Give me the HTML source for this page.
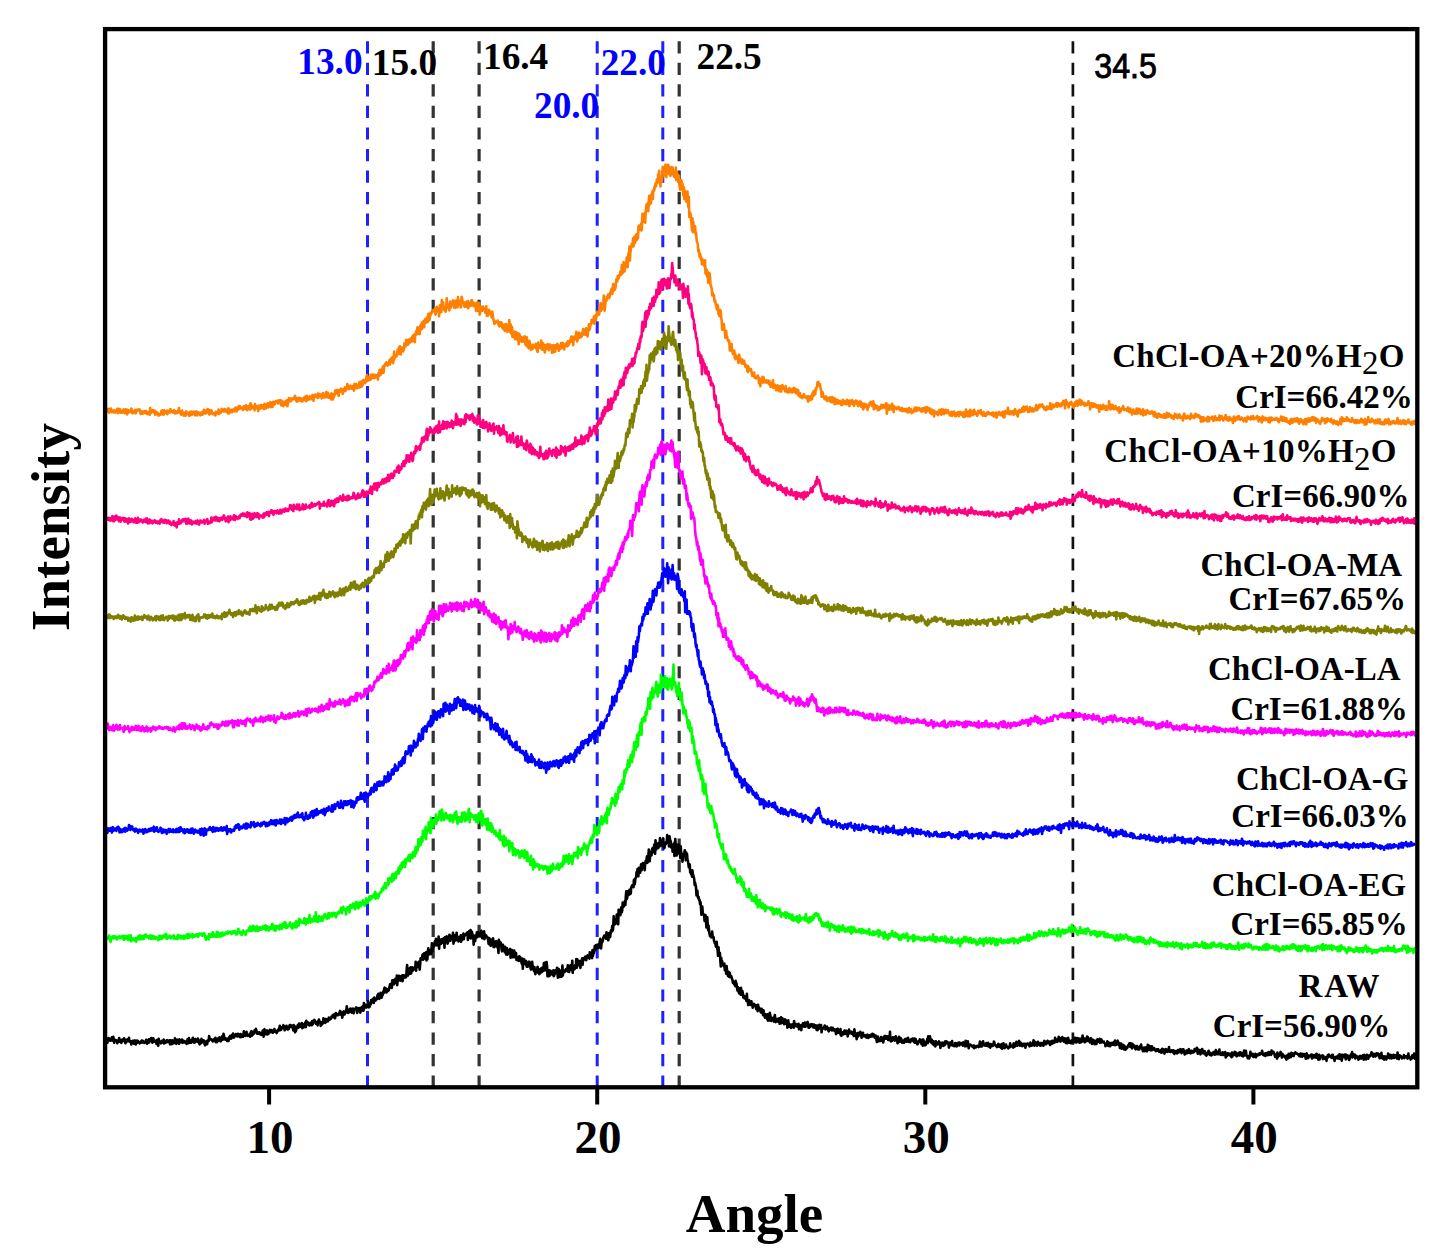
<!DOCTYPE html>
<html><head><meta charset="utf-8"><style>
html,body{margin:0;padding:0;background:#fff;}
svg{display:block;}
.s{font-family:"Liberation Serif",serif;font-weight:bold;}
.ss{font-family:"Liberation Sans",sans-serif;}
</style></head><body>
<svg width="1447" height="1258" viewBox="0 0 1447 1258">
<rect width="1447" height="1258" fill="#fff"/>
<line x1="367.5" y1="41.2" x2="367.5" y2="1086" stroke="#2020ff" stroke-width="3.0" stroke-dasharray="12.2 9.35"/>
<line x1="433.2" y1="41.2" x2="433.2" y2="1086" stroke="#333" stroke-width="3.2" stroke-dasharray="12.2 9.35"/>
<line x1="479.1" y1="41.2" x2="479.1" y2="1086" stroke="#333" stroke-width="3.2" stroke-dasharray="12.2 9.35"/>
<line x1="597.2" y1="41.2" x2="597.2" y2="1086" stroke="#2020ff" stroke-width="3.0" stroke-dasharray="12.2 9.35"/>
<line x1="662.8" y1="41.2" x2="662.8" y2="1086" stroke="#2020ff" stroke-width="3.0" stroke-dasharray="12.2 9.35"/>
<line x1="679.2" y1="41.2" x2="679.2" y2="1086" stroke="#333" stroke-width="3.2" stroke-dasharray="12.2 9.35"/>
<line x1="1072.9" y1="41.2" x2="1072.9" y2="1086" stroke="#111" stroke-width="2.7" stroke-dasharray="12.2 9.35"/>
<path d="M106.5 410.5 L107.0 411.6 L107.4 410.1 L107.9 408.8 L108.3 411.9 L108.8 410.1 L109.2 412.8 L109.7 409.0 L110.1 410.4 L110.6 411.2 L111.0 408.5 L111.5 411.2 L111.9 412.1 L112.4 411.1 L112.8 412.0 L113.3 411.7 L113.7 410.3 L114.2 412.6 L114.6 410.5 L115.1 411.2 L115.5 410.6 L116.0 412.5 L116.4 411.0 L116.9 411.0 L117.3 408.7 L117.8 411.3 L118.2 413.1 L118.7 408.8 L119.1 412.2 L119.6 411.6 L120.0 409.2 L120.5 410.9 L120.9 412.7 L121.4 411.2 L121.8 411.6 L122.3 412.6 L122.7 410.6 L123.2 412.2 L123.6 409.3 L124.1 409.9 L124.5 413.2 L125.0 413.2 L125.4 412.7 L125.9 409.4 L126.3 411.3 L126.8 410.4 L127.2 414.4 L127.7 409.9 L128.1 410.1 L128.6 411.0 L129.0 412.3 L129.5 410.9 L129.9 411.2 L130.4 412.0 L130.8 411.4 L131.3 408.6 L131.7 409.3 L132.2 413.2 L132.6 410.9 L133.1 413.2 L133.5 412.6 L134.0 412.0 L134.4 410.5 L134.9 412.5 L135.3 409.7 L135.8 413.4 L136.2 411.1 L136.7 411.2 L137.1 409.8 L137.6 409.6 L138.0 410.2 L138.5 409.9 L138.9 409.5 L139.4 409.3 L139.8 411.2 L140.3 412.7 L140.7 413.8 L141.2 412.2 L141.6 411.1 L142.1 412.1 L142.5 413.7 L143.0 411.6 L143.4 412.9 L143.9 412.2 L144.3 412.0 L144.8 411.2 L145.2 413.2 L145.7 411.2 L146.1 411.1 L146.6 413.1 L147.0 414.0 L147.5 413.9 L147.9 413.8 L148.4 412.1 L148.8 412.1 L149.3 413.7 L149.7 414.8 L150.2 408.1 L150.6 413.3 L151.1 411.9 L151.5 411.4 L152.0 410.5 L152.4 410.7 L152.9 410.1 L153.3 412.3 L153.8 410.8 L154.2 412.1 L154.7 410.6 L155.1 414.6 L155.6 414.2 L156.0 411.8 L156.5 414.2 L156.9 413.2 L157.4 412.6 L157.8 413.9 L158.3 414.9 L158.7 415.7 L159.2 413.9 L159.6 415.0 L160.1 414.2 L160.5 414.0 L161.0 414.2 L161.4 410.8 L161.9 412.0 L162.3 414.5 L162.8 410.4 L163.2 410.9 L163.7 414.6 L164.1 410.4 L164.6 411.9 L165.0 412.1 L165.5 411.3 L165.9 413.0 L166.4 413.0 L166.8 410.8 L167.3 414.3 L167.7 410.8 L168.2 411.3 L168.6 411.8 L169.1 412.3 L169.5 410.5 L170.0 412.4 L170.4 409.0 L170.9 411.4 L171.3 410.8 L171.8 411.1 L172.2 412.0 L172.7 412.4 L173.1 411.1 L173.6 412.2 L174.0 410.1 L174.5 411.6 L174.9 413.4 L175.4 411.2 L175.8 411.7 L176.3 412.0 L176.7 413.1 L177.2 412.5 L177.6 411.7 L178.1 410.5 L178.5 412.3 L179.0 408.0 L179.4 412.7 L179.9 411.2 L180.3 413.3 L180.8 412.5 L181.2 414.7 L181.7 412.2 L182.1 410.6 L182.6 413.5 L183.0 413.0 L183.5 413.8 L183.9 415.7 L184.4 412.9 L184.8 415.1 L185.3 415.5 L185.7 415.7 L186.2 411.4 L186.6 414.3 L187.1 413.1 L187.5 413.6 L188.0 412.7 L188.4 413.3 L188.9 414.9 L189.3 415.9 L189.8 414.4 L190.2 411.7 L190.7 415.1 L191.1 411.6 L191.6 412.8 L192.0 414.8 L192.5 412.4 L192.9 414.2 L193.4 412.7 L193.8 411.5 L194.3 413.3 L194.7 412.1 L195.2 415.2 L195.6 415.3 L196.1 414.9 L196.5 411.4 L197.0 415.4 L197.4 413.3 L197.9 413.7 L198.3 413.4 L198.8 412.4 L199.2 413.4 L199.7 414.5 L200.1 415.3 L200.6 413.9 L201.0 413.0 L201.5 412.2 L201.9 412.3 L202.4 414.8 L202.8 413.4 L203.3 412.6 L203.7 410.0 L204.2 409.8 L204.6 413.1 L205.1 413.1 L205.5 413.7 L206.0 412.5 L206.4 411.3 L206.9 409.9 L207.3 411.0 L207.8 409.1 L208.2 412.8 L208.7 413.1 L209.1 414.5 L209.6 410.1 L210.0 410.8 L210.5 413.7 L210.9 413.4 L211.4 410.3 L211.8 412.3 L212.3 413.5 L212.7 413.0 L213.2 414.2 L213.6 413.8 L214.1 413.1 L214.5 414.5 L215.0 413.8 L215.4 415.5 L215.9 411.8 L216.3 413.4 L216.8 412.5 L217.2 412.9 L217.7 413.6 L218.1 413.7 L218.6 409.6 L219.0 413.9 L219.5 412.8 L219.9 412.6 L220.4 411.8 L220.8 412.8 L221.3 411.9 L221.7 408.7 L222.2 410.1 L222.6 410.6 L223.1 410.3 L223.5 410.1 L224.0 411.6 L224.4 409.1 L224.9 409.7 L225.3 409.4 L225.8 410.9 L226.2 411.6 L226.7 409.9 L227.1 411.9 L227.6 410.7 L228.0 413.5 L228.5 408.4 L228.9 411.6 L229.4 413.2 L229.8 411.0 L230.3 409.8 L230.7 410.0 L231.2 411.8 L231.6 410.1 L232.1 412.2 L232.5 410.6 L233.0 409.5 L233.4 409.5 L233.9 410.7 L234.3 411.3 L234.8 408.5 L235.2 407.8 L235.7 407.6 L236.1 409.8 L236.6 411.5 L237.0 407.9 L237.5 409.5 L237.9 407.8 L238.4 409.6 L238.8 406.0 L239.3 408.9 L239.7 406.1 L240.2 406.7 L240.6 408.4 L241.1 407.6 L241.5 407.8 L242.0 408.6 L242.4 408.1 L242.9 409.9 L243.3 408.7 L243.8 406.2 L244.2 407.2 L244.7 406.3 L245.1 406.3 L245.6 409.3 L246.0 405.3 L246.5 408.2 L246.9 408.5 L247.4 410.2 L247.8 406.2 L248.3 406.6 L248.7 406.7 L249.2 405.8 L249.6 409.1 L250.1 409.5 L250.5 403.3 L251.0 406.4 L251.4 408.8 L251.9 405.6 L252.3 406.3 L252.8 407.5 L253.2 407.5 L253.7 407.3 L254.1 407.4 L254.6 410.4 L255.0 404.1 L255.5 406.8 L255.9 405.9 L256.4 407.9 L256.8 406.9 L257.3 408.3 L257.7 407.6 L258.2 411.1 L258.6 405.6 L259.1 406.9 L259.5 408.9 L260.0 406.9 L260.4 407.7 L260.9 405.0 L261.3 408.3 L261.8 406.9 L262.2 407.8 L262.7 405.4 L263.1 405.9 L263.6 405.3 L264.0 409.2 L264.5 403.8 L264.9 407.2 L265.4 406.9 L265.8 408.4 L266.3 406.8 L266.7 404.6 L267.2 406.9 L267.6 403.3 L268.1 407.4 L268.5 405.4 L269.0 404.2 L269.4 404.4 L269.9 405.9 L270.3 402.1 L270.8 407.2 L271.2 403.2 L271.7 406.6 L272.1 404.3 L272.6 406.9 L273.0 401.8 L273.5 404.9 L273.9 403.3 L274.4 402.2 L274.8 404.3 L275.3 402.3 L275.7 401.3 L276.2 401.9 L276.6 400.8 L277.1 401.5 L277.5 401.6 L278.0 403.4 L278.4 401.4 L278.9 400.3 L279.3 402.9 L279.8 401.2 L280.2 400.3 L280.7 400.1 L281.1 405.2 L281.6 402.4 L282.0 405.4 L282.5 401.4 L282.9 401.5 L283.4 406.1 L283.8 403.0 L284.3 403.1 L284.7 403.0 L285.2 401.6 L285.6 404.8 L286.1 400.8 L286.5 403.8 L287.0 400.4 L287.4 406.2 L287.9 402.7 L288.3 403.0 L288.8 398.1 L289.2 401.2 L289.7 399.3 L290.1 398.7 L290.6 398.6 L291.0 401.2 L291.5 399.8 L291.9 398.8 L292.4 398.6 L292.8 398.4 L293.3 398.6 L293.7 399.0 L294.2 397.5 L294.6 397.9 L295.1 395.7 L295.5 399.4 L296.0 400.4 L296.4 398.6 L296.9 401.7 L297.3 398.0 L297.8 399.3 L298.2 401.1 L298.7 399.5 L299.1 397.7 L299.6 399.6 L300.0 398.3 L300.5 400.8 L300.9 400.2 L301.4 398.4 L301.8 399.6 L302.3 401.6 L302.7 400.5 L303.2 400.0 L303.6 398.2 L304.1 397.5 L304.5 397.2 L305.0 400.2 L305.4 396.6 L305.9 399.2 L306.3 401.3 L306.8 395.9 L307.2 399.3 L307.7 397.0 L308.1 398.6 L308.6 399.7 L309.0 397.1 L309.5 396.4 L309.9 397.9 L310.4 398.9 L310.8 397.6 L311.3 396.5 L311.7 399.1 L312.2 395.7 L312.6 394.9 L313.1 397.4 L313.5 400.8 L314.0 396.0 L314.4 396.6 L314.9 394.9 L315.3 395.6 L315.8 394.6 L316.2 397.0 L316.7 395.3 L317.1 395.1 L317.6 398.0 L318.0 393.6 L318.5 397.7 L318.9 395.5 L319.4 394.0 L319.8 395.3 L320.3 394.7 L320.7 395.7 L321.2 394.6 L321.6 398.4 L322.1 396.9 L322.5 397.1 L323.0 393.1 L323.4 394.7 L323.9 397.5 L324.3 396.5 L324.8 395.5 L325.2 395.3 L325.7 397.3 L326.1 392.0 L326.6 393.7 L327.0 392.8 L327.5 397.3 L327.9 392.7 L328.4 394.8 L328.8 397.7 L329.3 394.8 L329.7 396.0 L330.2 395.6 L330.6 396.8 L331.1 399.5 L331.5 393.4 L332.0 395.3 L332.4 398.2 L332.9 399.4 L333.3 394.4 L333.8 397.1 L334.2 395.5 L334.7 395.1 L335.1 391.0 L335.6 390.3 L336.0 393.2 L336.5 392.4 L336.9 392.0 L337.4 389.7 L337.8 394.2 L338.3 390.9 L338.7 396.0 L339.2 390.4 L339.6 391.3 L340.1 391.9 L340.5 389.8 L341.0 388.6 L341.4 389.4 L341.9 390.5 L342.3 389.5 L342.8 394.0 L343.2 389.3 L343.7 391.5 L344.1 391.4 L344.6 390.0 L345.0 387.4 L345.5 390.1 L345.9 390.6 L346.4 388.9 L346.8 388.4 L347.3 384.1 L347.7 386.0 L348.2 387.6 L348.6 388.2 L349.1 389.1 L349.5 387.0 L350.0 387.9 L350.4 385.5 L350.9 388.5 L351.3 388.5 L351.8 386.8 L352.2 388.8 L352.7 386.3 L353.1 385.9 L353.6 386.3 L354.0 390.7 L354.5 383.8 L354.9 387.3 L355.4 386.3 L355.8 387.2 L356.3 384.1 L356.7 388.3 L357.2 388.1 L357.6 386.1 L358.1 385.5 L358.5 386.1 L359.0 387.5 L359.4 382.1 L359.9 387.4 L360.3 383.5 L360.8 385.3 L361.2 381.5 L361.7 386.6 L362.1 382.7 L362.6 385.4 L363.0 380.2 L363.5 379.9 L363.9 383.2 L364.4 382.2 L364.8 381.3 L365.3 382.9 L365.7 381.1 L366.2 379.4 L366.6 376.1 L367.1 375.1 L367.5 380.9 L368.0 380.5 L368.4 377.2 L368.9 379.9 L369.3 378.1 L369.8 378.3 L370.2 380.0 L370.7 374.5 L371.1 378.4 L371.6 378.6 L372.0 377.0 L372.5 377.6 L372.9 374.6 L373.4 377.2 L373.8 378.0 L374.3 378.1 L374.7 374.8 L375.2 377.7 L375.6 376.4 L376.1 376.9 L376.5 375.2 L377.0 376.3 L377.4 375.1 L377.9 379.6 L378.3 373.4 L378.8 376.2 L379.2 373.3 L379.7 369.7 L380.1 373.6 L380.6 374.8 L381.0 373.4 L381.5 373.0 L381.9 369.0 L382.4 370.9 L382.8 366.6 L383.3 373.0 L383.7 371.9 L384.2 365.5 L384.6 366.3 L385.1 363.8 L385.5 364.3 L386.0 364.4 L386.4 362.3 L386.9 363.5 L387.3 365.6 L387.8 363.2 L388.2 365.2 L388.7 362.9 L389.1 363.2 L389.6 359.7 L390.0 364.5 L390.5 359.3 L390.9 360.6 L391.4 358.0 L391.8 361.6 L392.3 357.3 L392.7 360.5 L393.2 363.1 L393.6 358.6 L394.1 351.6 L394.5 358.7 L395.0 356.0 L395.4 356.4 L395.9 355.3 L396.3 356.6 L396.8 355.8 L397.2 352.9 L397.7 349.7 L398.1 352.2 L398.6 354.0 L399.0 347.2 L399.5 351.7 L399.9 346.4 L400.4 353.2 L400.8 354.4 L401.3 351.4 L401.7 347.5 L402.2 350.0 L402.6 350.9 L403.1 351.3 L403.5 350.2 L404.0 349.1 L404.4 343.4 L404.9 345.4 L405.3 346.6 L405.8 345.3 L406.2 339.8 L406.7 344.2 L407.1 342.5 L407.6 344.6 L408.0 344.6 L408.5 339.7 L408.9 341.1 L409.4 343.0 L409.8 339.4 L410.3 341.4 L410.7 338.6 L411.2 338.2 L411.6 341.6 L412.1 338.1 L412.5 336.2 L413.0 340.9 L413.4 335.1 L413.9 335.2 L414.3 334.6 L414.8 342.1 L415.2 335.0 L415.7 335.0 L416.1 331.1 L416.6 333.9 L417.0 334.1 L417.5 327.2 L417.9 331.0 L418.4 333.8 L418.8 333.8 L419.3 328.9 L419.7 334.2 L420.2 325.5 L420.6 330.0 L421.1 328.2 L421.5 323.4 L422.0 328.9 L422.4 322.1 L422.9 323.5 L423.3 324.6 L423.8 321.0 L424.2 327.3 L424.7 322.1 L425.1 319.3 L425.6 322.9 L426.0 321.6 L426.5 317.8 L426.9 318.8 L427.4 322.3 L427.8 321.5 L428.3 313.9 L428.7 320.7 L429.2 320.1 L429.6 320.0 L430.1 314.6 L430.5 313.1 L431.0 314.5 L431.4 312.2 L431.9 312.7 L432.3 311.1 L432.8 311.4 L433.2 310.2 L433.7 311.3 L434.1 311.2 L434.6 309.6 L435.0 308.4 L435.5 314.6 L435.9 312.4 L436.4 311.0 L436.8 306.7 L437.3 311.2 L437.7 308.7 L438.2 310.8 L438.6 309.6 L439.1 316.3 L439.5 308.6 L440.0 305.4 L440.4 311.6 L440.9 311.6 L441.3 312.1 L441.8 300.0 L442.2 305.0 L442.7 305.2 L443.1 302.6 L443.6 307.8 L444.0 309.3 L444.5 310.4 L444.9 309.8 L445.4 307.0 L445.8 311.6 L446.3 307.6 L446.7 298.2 L447.2 305.7 L447.6 304.3 L448.1 307.6 L448.5 305.2 L449.0 305.3 L449.4 310.4 L449.9 303.7 L450.3 301.6 L450.8 306.3 L451.2 307.3 L451.7 304.8 L452.1 304.9 L452.6 302.9 L453.0 300.4 L453.5 301.9 L453.9 300.8 L454.4 307.6 L454.8 302.9 L455.3 307.9 L455.7 303.0 L456.2 300.5 L456.6 303.9 L457.1 303.9 L457.5 307.4 L458.0 297.0 L458.4 301.9 L458.9 304.4 L459.3 300.8 L459.8 303.4 L460.2 302.1 L460.7 307.4 L461.1 306.9 L461.6 296.7 L462.0 298.4 L462.5 300.9 L462.9 303.3 L463.4 303.2 L463.8 302.3 L464.3 305.9 L464.7 306.9 L465.2 304.6 L465.6 303.5 L466.1 304.5 L466.5 301.8 L467.0 306.8 L467.4 306.7 L467.9 301.1 L468.3 308.3 L468.8 303.6 L469.2 306.2 L469.7 303.6 L470.1 303.0 L470.6 305.8 L471.0 300.6 L471.5 302.9 L471.9 300.1 L472.4 305.4 L472.8 303.3 L473.3 303.1 L473.7 302.7 L474.2 306.4 L474.6 305.5 L475.1 304.2 L475.5 303.7 L476.0 310.9 L476.4 310.2 L476.9 302.5 L477.3 309.8 L477.8 307.9 L478.2 307.5 L478.7 308.1 L479.1 302.8 L479.6 314.7 L480.0 313.7 L480.5 307.9 L480.9 308.2 L481.4 308.9 L481.8 306.8 L482.3 310.8 L482.7 309.3 L483.2 306.5 L483.6 308.5 L484.1 308.3 L484.5 308.7 L485.0 309.7 L485.4 312.8 L485.9 309.8 L486.3 306.4 L486.8 315.7 L487.2 309.7 L487.7 316.0 L488.1 312.6 L488.6 313.7 L489.0 309.8 L489.5 312.9 L489.9 311.8 L490.4 313.2 L490.8 315.3 L491.3 313.3 L491.7 317.4 L492.2 311.5 L492.6 313.2 L493.1 318.4 L493.5 319.4 L494.0 321.7 L494.4 324.0 L494.9 321.2 L495.3 322.7 L495.8 321.7 L496.2 321.8 L496.7 321.4 L497.1 322.3 L497.6 320.6 L498.0 322.0 L498.5 324.9 L498.9 324.3 L499.4 326.4 L499.8 322.2 L500.3 322.9 L500.7 325.5 L501.2 322.4 L501.6 322.7 L502.1 327.4 L502.5 325.2 L503.0 328.9 L503.4 327.1 L503.9 325.9 L504.3 324.5 L504.8 331.0 L505.2 327.7 L505.7 325.6 L506.1 324.0 L506.6 324.9 L507.0 327.4 L507.5 332.0 L507.9 326.2 L508.4 329.7 L508.8 329.6 L509.3 320.0 L509.7 325.9 L510.2 331.9 L510.6 324.4 L511.1 333.5 L511.5 330.8 L512.0 326.7 L512.4 336.8 L512.9 331.9 L513.3 337.0 L513.8 333.7 L514.2 331.6 L514.7 337.1 L515.1 339.3 L515.6 338.3 L516.0 332.1 L516.5 337.3 L516.9 332.9 L517.4 334.8 L517.8 340.4 L518.3 333.4 L518.7 344.2 L519.2 333.8 L519.6 334.8 L520.1 340.6 L520.5 338.4 L521.0 338.9 L521.4 337.1 L521.9 341.8 L522.3 340.8 L522.8 340.3 L523.2 338.8 L523.7 337.3 L524.1 341.7 L524.6 336.4 L525.0 340.8 L525.5 344.6 L525.9 345.1 L526.4 342.5 L526.8 337.2 L527.3 345.6 L527.7 346.7 L528.2 344.7 L528.6 348.1 L529.1 347.7 L529.5 340.9 L530.0 344.8 L530.4 344.4 L530.9 349.9 L531.3 348.8 L531.8 346.5 L532.2 347.8 L532.7 348.8 L533.1 344.8 L533.6 346.3 L534.0 346.6 L534.5 345.9 L534.9 346.2 L535.4 347.7 L535.8 343.9 L536.3 344.3 L536.7 349.2 L537.2 351.1 L537.6 351.9 L538.1 342.6 L538.5 348.0 L539.0 344.8 L539.4 345.5 L539.9 346.3 L540.3 347.8 L540.8 348.2 L541.2 340.6 L541.7 345.3 L542.1 349.7 L542.6 347.4 L543.0 343.2 L543.5 345.0 L543.9 345.6 L544.4 350.4 L544.8 352.4 L545.3 345.1 L545.7 349.1 L546.2 347.0 L546.6 348.9 L547.1 346.6 L547.5 344.1 L548.0 345.1 L548.4 344.9 L548.9 350.1 L549.3 344.5 L549.8 347.9 L550.2 344.5 L550.7 345.1 L551.1 347.7 L551.6 346.0 L552.0 352.8 L552.5 351.4 L552.9 345.4 L553.4 349.7 L553.8 352.3 L554.3 345.2 L554.7 347.0 L555.2 351.6 L555.6 345.4 L556.1 348.8 L556.5 346.6 L557.0 347.0 L557.4 343.7 L557.9 346.0 L558.3 345.1 L558.8 350.8 L559.2 348.1 L559.7 346.9 L560.1 346.8 L560.6 348.8 L561.0 343.1 L561.5 344.7 L561.9 345.0 L562.4 345.2 L562.8 342.9 L563.3 348.2 L563.7 345.4 L564.2 349.5 L564.6 345.5 L565.1 344.4 L565.5 346.0 L566.0 345.5 L566.4 343.1 L566.9 344.9 L567.3 346.3 L567.8 341.4 L568.2 345.7 L568.7 341.5 L569.1 344.0 L569.6 341.5 L570.0 340.4 L570.5 342.0 L570.9 338.1 L571.4 336.6 L571.8 340.5 L572.3 339.6 L572.7 337.0 L573.2 345.2 L573.6 340.2 L574.1 336.8 L574.5 339.6 L575.0 339.3 L575.4 336.4 L575.9 336.5 L576.3 331.9 L576.8 337.2 L577.2 341.5 L577.7 339.2 L578.1 338.8 L578.6 334.2 L579.0 332.6 L579.5 337.7 L579.9 336.0 L580.4 334.4 L580.8 333.9 L581.3 337.1 L581.7 336.1 L582.2 332.9 L582.6 333.6 L583.1 329.0 L583.5 330.1 L584.0 334.5 L584.4 331.2 L584.9 329.7 L585.3 332.4 L585.8 334.7 L586.2 328.4 L586.7 329.5 L587.1 329.3 L587.6 336.4 L588.0 332.0 L588.5 329.5 L588.9 324.3 L589.4 329.9 L589.8 328.8 L590.3 326.0 L590.7 323.8 L591.2 324.0 L591.6 319.8 L592.1 322.8 L592.5 321.9 L593.0 319.9 L593.4 320.9 L593.9 316.6 L594.3 323.8 L594.8 319.3 L595.2 315.5 L595.7 320.4 L596.1 318.9 L596.6 315.0 L597.0 311.7 L597.5 314.5 L597.9 315.2 L598.4 314.8 L598.8 314.8 L599.3 313.7 L599.7 305.9 L600.2 309.8 L600.6 303.0 L601.1 310.8 L601.5 308.3 L602.0 309.3 L602.4 305.9 L602.9 305.2 L603.3 302.9 L603.8 295.5 L604.2 302.7 L604.7 310.6 L605.1 305.8 L605.6 300.3 L606.0 301.1 L606.5 300.6 L606.9 296.5 L607.4 297.4 L607.8 297.6 L608.3 294.2 L608.7 296.5 L609.2 298.2 L609.6 296.3 L610.1 293.9 L610.5 291.8 L611.0 294.1 L611.4 289.4 L611.9 288.5 L612.3 294.0 L612.8 288.0 L613.2 284.1 L613.7 290.6 L614.1 289.4 L614.6 289.9 L615.0 285.0 L615.5 288.2 L615.9 283.1 L616.4 279.2 L616.8 281.0 L617.3 281.4 L617.7 275.9 L618.2 277.9 L618.6 278.4 L619.1 275.2 L619.5 276.1 L620.0 274.9 L620.4 271.5 L620.9 274.5 L621.3 274.6 L621.8 265.0 L622.2 268.7 L622.7 273.0 L623.1 270.9 L623.6 262.0 L624.0 268.4 L624.5 271.5 L624.9 268.7 L625.4 267.4 L625.8 263.4 L626.3 262.9 L626.7 257.5 L627.2 260.4 L627.6 267.1 L628.1 257.6 L628.5 253.1 L629.0 256.9 L629.4 246.5 L629.9 260.5 L630.3 253.3 L630.8 248.9 L631.2 247.3 L631.7 244.1 L632.1 246.6 L632.6 245.2 L633.0 238.3 L633.5 246.5 L633.9 240.5 L634.4 236.8 L634.8 243.2 L635.3 241.6 L635.7 235.8 L636.2 234.6 L636.6 240.2 L637.1 233.8 L637.5 235.1 L638.0 238.5 L638.4 227.8 L638.9 225.6 L639.3 227.0 L639.8 226.8 L640.2 227.9 L640.7 230.3 L641.1 223.6 L641.6 230.4 L642.0 223.5 L642.5 213.7 L642.9 219.9 L643.4 221.5 L643.8 221.7 L644.3 213.5 L644.7 214.7 L645.2 222.6 L645.6 213.4 L646.1 208.1 L646.5 204.6 L647.0 207.7 L647.4 209.7 L647.9 202.7 L648.3 211.2 L648.8 201.6 L649.2 195.8 L649.7 204.7 L650.1 200.9 L650.6 198.5 L651.0 203.2 L651.5 194.2 L651.9 198.0 L652.4 191.5 L652.8 198.9 L653.3 190.8 L653.7 189.5 L654.2 190.5 L654.6 186.5 L655.1 187.5 L655.5 183.5 L656.0 186.0 L656.4 182.7 L656.9 179.3 L657.3 183.0 L657.8 181.7 L658.2 174.6 L658.7 177.0 L659.1 170.7 L659.6 177.6 L660.0 180.2 L660.5 186.4 L660.9 177.1 L661.4 180.0 L661.8 181.5 L662.3 178.0 L662.7 166.8 L663.2 172.4 L663.6 175.5 L664.1 175.0 L664.5 173.9 L665.0 169.3 L665.4 164.9 L665.9 174.1 L666.3 177.2 L666.8 169.5 L667.2 172.0 L667.7 164.7 L668.1 165.4 L668.6 165.5 L669.0 173.9 L669.5 167.7 L669.9 172.6 L670.4 175.9 L670.8 172.1 L671.3 167.1 L671.7 174.1 L672.2 172.0 L672.6 167.6 L673.1 172.6 L673.5 172.5 L674.0 176.7 L674.4 172.5 L674.9 175.3 L675.3 177.7 L675.8 167.5 L676.2 179.9 L676.7 176.2 L677.1 172.3 L677.6 177.5 L678.0 181.7 L678.5 175.2 L678.9 176.5 L679.4 185.3 L679.8 187.1 L680.3 189.9 L680.7 183.0 L681.2 180.2 L681.6 181.4 L682.1 185.2 L682.5 183.8 L683.0 190.9 L683.4 195.5 L683.9 187.4 L684.3 199.0 L684.8 190.7 L685.2 192.9 L685.7 191.6 L686.1 201.5 L686.6 199.7 L687.0 201.6 L687.5 191.5 L687.9 202.1 L688.4 207.2 L688.8 196.9 L689.3 217.0 L689.7 212.3 L690.2 217.1 L690.6 213.5 L691.1 220.1 L691.5 223.4 L692.0 230.2 L692.4 218.4 L692.9 232.1 L693.3 222.0 L693.8 228.6 L694.2 228.3 L694.7 231.0 L695.1 226.2 L695.6 234.2 L696.0 232.6 L696.5 238.1 L696.9 241.7 L697.4 242.9 L697.8 244.2 L698.3 251.5 L698.7 249.6 L699.2 252.5 L699.6 256.9 L700.1 253.7 L700.5 255.9 L701.0 259.5 L701.4 257.6 L701.9 264.3 L702.3 259.0 L702.8 261.6 L703.2 263.1 L703.7 263.6 L704.1 265.8 L704.6 265.4 L705.0 260.2 L705.5 273.4 L705.9 269.3 L706.4 274.6 L706.8 269.9 L707.3 276.9 L707.7 272.1 L708.2 282.7 L708.6 279.0 L709.1 279.6 L709.5 273.3 L710.0 276.8 L710.4 284.2 L710.9 285.4 L711.3 287.1 L711.8 289.1 L712.2 295.4 L712.7 292.8 L713.1 294.4 L713.6 294.9 L714.0 295.4 L714.5 301.3 L714.9 300.2 L715.4 301.6 L715.8 304.9 L716.3 305.3 L716.7 308.7 L717.2 309.7 L717.6 304.9 L718.1 307.6 L718.5 314.1 L719.0 311.6 L719.4 315.9 L719.9 313.0 L720.3 310.1 L720.8 312.3 L721.2 318.1 L721.7 320.3 L722.1 329.6 L722.6 326.5 L723.0 327.8 L723.5 329.8 L723.9 324.1 L724.4 330.0 L724.8 330.9 L725.3 337.7 L725.7 331.7 L726.2 330.9 L726.6 336.2 L727.1 336.7 L727.5 338.6 L728.0 340.2 L728.4 341.2 L728.9 340.3 L729.3 342.1 L729.8 350.4 L730.2 343.9 L730.7 347.8 L731.1 345.0 L731.6 344.0 L732.0 351.5 L732.5 350.5 L732.9 354.0 L733.4 353.9 L733.8 352.5 L734.3 350.6 L734.7 357.8 L735.2 353.7 L735.6 359.3 L736.1 356.3 L736.5 357.4 L737.0 357.2 L737.4 357.3 L737.9 356.2 L738.3 362.9 L738.8 355.7 L739.2 354.7 L739.7 359.6 L740.1 357.8 L740.6 362.1 L741.0 359.8 L741.5 363.4 L741.9 361.3 L742.4 359.6 L742.8 361.0 L743.3 363.7 L743.7 361.0 L744.2 360.9 L744.6 362.8 L745.1 364.4 L745.5 367.0 L746.0 365.7 L746.4 367.3 L746.9 365.5 L747.3 370.7 L747.8 372.0 L748.2 366.3 L748.7 368.9 L749.1 368.7 L749.6 370.4 L750.0 369.6 L750.5 369.5 L750.9 368.8 L751.4 371.3 L751.8 373.1 L752.3 376.0 L752.7 375.5 L753.2 374.0 L753.6 373.9 L754.1 372.5 L754.5 377.6 L755.0 376.6 L755.4 377.9 L755.9 378.4 L756.3 378.1 L756.8 376.9 L757.2 376.7 L757.7 375.5 L758.1 376.5 L758.6 379.1 L759.0 383.3 L759.5 378.0 L759.9 379.7 L760.4 386.2 L760.8 380.0 L761.3 379.4 L761.7 380.4 L762.2 380.0 L762.6 376.7 L763.1 382.6 L763.5 377.3 L764.0 379.9 L764.4 380.3 L764.9 382.3 L765.3 381.1 L765.8 380.8 L766.2 380.3 L766.7 382.8 L767.1 381.9 L767.6 381.5 L768.0 380.5 L768.5 381.8 L768.9 384.1 L769.4 380.9 L769.8 384.6 L770.3 384.7 L770.7 387.0 L771.2 383.5 L771.6 383.0 L772.1 384.9 L772.5 384.5 L773.0 380.2 L773.4 388.0 L773.9 386.3 L774.3 386.3 L774.8 384.7 L775.2 387.2 L775.7 386.2 L776.1 390.1 L776.6 388.6 L777.0 390.2 L777.5 385.2 L777.9 386.0 L778.4 387.0 L778.8 386.7 L779.3 391.1 L779.7 388.7 L780.2 386.0 L780.6 387.6 L781.1 391.7 L781.5 387.7 L782.0 389.5 L782.4 385.1 L782.9 387.4 L783.3 388.3 L783.8 388.3 L784.2 388.9 L784.7 389.7 L785.1 391.5 L785.6 386.1 L786.0 389.7 L786.5 391.2 L786.9 390.4 L787.4 392.3 L787.8 390.0 L788.3 389.5 L788.7 388.8 L789.2 392.2 L789.6 388.1 L790.1 389.9 L790.5 390.7 L791.0 392.1 L791.4 390.5 L791.9 389.4 L792.3 392.4 L792.8 389.2 L793.2 390.0 L793.7 387.7 L794.1 391.8 L794.6 391.9 L795.0 388.5 L795.5 391.5 L795.9 393.1 L796.4 391.1 L796.8 389.6 L797.3 392.8 L797.7 394.4 L798.2 390.2 L798.6 395.5 L799.1 394.2 L799.5 396.3 L800.0 393.1 L800.4 397.0 L800.9 396.2 L801.3 397.3 L801.8 396.3 L802.2 398.2 L802.7 396.3 L803.1 396.0 L803.6 395.0 L804.0 394.1 L804.5 397.1 L804.9 396.4 L805.4 396.8 L805.8 396.6 L806.3 397.8 L806.7 397.4 L807.2 396.4 L807.6 399.0 L808.1 401.6 L808.5 396.4 L809.0 397.4 L809.4 399.3 L809.9 397.1 L810.3 400.2 L810.8 397.0 L811.2 395.9 L811.7 396.0 L812.1 399.2 L812.6 393.0 L813.0 396.2 L813.5 391.1 L813.9 395.4 L814.4 393.6 L814.8 392.8 L815.3 394.2 L815.7 388.6 L816.2 389.6 L816.6 387.1 L817.1 386.8 L817.5 382.2 L818.0 385.2 L818.4 381.8 L818.9 385.3 L819.3 384.7 L819.8 384.1 L820.2 386.9 L820.7 388.7 L821.1 390.2 L821.6 396.8 L822.0 391.9 L822.5 392.2 L822.9 393.3 L823.4 396.0 L823.8 396.8 L824.3 398.5 L824.7 399.2 L825.2 398.1 L825.6 398.1 L826.1 396.4 L826.5 400.0 L827.0 400.8 L827.4 398.4 L827.9 400.0 L828.3 397.9 L828.8 399.1 L829.2 399.6 L829.7 401.1 L830.1 397.3 L830.6 400.3 L831.0 402.0 L831.5 401.4 L831.9 402.3 L832.4 397.1 L832.8 400.2 L833.3 401.2 L833.7 400.8 L834.2 398.2 L834.6 404.2 L835.1 402.8 L835.5 398.9 L836.0 401.4 L836.4 402.2 L836.9 403.6 L837.3 403.0 L837.8 400.1 L838.2 400.6 L838.7 402.2 L839.1 403.5 L839.6 401.2 L840.0 401.1 L840.5 403.3 L840.9 402.8 L841.4 405.1 L841.8 403.8 L842.3 404.8 L842.7 399.8 L843.2 400.9 L843.6 400.6 L844.1 402.0 L844.5 403.6 L845.0 402.5 L845.4 403.7 L845.9 401.4 L846.3 404.3 L846.8 404.1 L847.2 399.7 L847.7 400.8 L848.1 401.6 L848.6 404.2 L849.0 404.2 L849.5 406.1 L849.9 400.6 L850.4 403.7 L850.8 403.4 L851.3 403.1 L851.7 403.4 L852.2 400.1 L852.6 404.2 L853.1 402.9 L853.5 401.5 L854.0 405.9 L854.4 402.2 L854.9 403.7 L855.3 402.0 L855.8 400.5 L856.2 402.3 L856.7 403.6 L857.1 401.3 L857.6 404.0 L858.0 406.1 L858.5 405.3 L858.9 402.8 L859.4 402.1 L859.8 405.1 L860.3 401.2 L860.7 401.8 L861.2 406.6 L861.6 404.4 L862.1 404.6 L862.5 403.4 L863.0 408.8 L863.4 409.4 L863.9 403.9 L864.3 405.8 L864.8 404.0 L865.2 405.5 L865.7 407.1 L866.1 407.1 L866.6 404.6 L867.0 405.8 L867.5 409.9 L867.9 406.7 L868.4 407.5 L868.8 405.9 L869.3 404.7 L869.7 402.9 L870.2 403.1 L870.6 401.9 L871.1 402.8 L871.5 403.1 L872.0 405.9 L872.4 401.8 L872.9 405.4 L873.3 401.4 L873.8 409.3 L874.2 404.1 L874.7 405.5 L875.1 408.4 L875.6 405.4 L876.0 406.2 L876.5 406.7 L876.9 407.7 L877.4 406.2 L877.8 410.3 L878.3 409.5 L878.7 407.9 L879.2 409.8 L879.6 407.6 L880.1 406.9 L880.5 407.5 L881.0 408.4 L881.4 404.9 L881.9 406.8 L882.3 407.9 L882.8 405.2 L883.2 407.5 L883.7 405.1 L884.1 407.2 L884.6 406.8 L885.0 407.6 L885.5 405.9 L885.9 404.0 L886.4 403.1 L886.8 413.7 L887.3 405.2 L887.7 406.2 L888.2 404.9 L888.6 409.9 L889.1 408.7 L889.5 408.8 L890.0 405.5 L890.4 409.0 L890.9 406.0 L891.3 409.4 L891.8 407.3 L892.2 403.8 L892.7 407.6 L893.1 406.5 L893.6 412.2 L894.0 406.2 L894.5 408.0 L894.9 408.1 L895.4 407.3 L895.8 407.5 L896.3 408.6 L896.7 409.2 L897.2 407.9 L897.6 408.1 L898.1 408.5 L898.5 406.9 L899.0 408.0 L899.4 408.5 L899.9 410.2 L900.3 409.7 L900.8 409.5 L901.2 410.4 L901.7 407.8 L902.1 411.1 L902.6 408.8 L903.0 409.4 L903.5 409.1 L903.9 411.0 L904.4 409.0 L904.8 411.1 L905.3 409.7 L905.7 409.5 L906.2 410.9 L906.6 408.9 L907.1 412.2 L907.5 409.2 L908.0 409.6 L908.4 412.3 L908.9 408.0 L909.3 411.9 L909.8 410.6 L910.2 410.6 L910.7 410.8 L911.1 409.1 L911.6 413.2 L912.0 411.4 L912.5 411.5 L912.9 411.7 L913.4 411.9 L913.8 410.7 L914.3 408.6 L914.7 407.9 L915.2 407.7 L915.6 409.0 L916.1 411.3 L916.5 407.6 L917.0 409.0 L917.4 410.5 L917.9 409.0 L918.3 409.2 L918.8 407.9 L919.2 409.9 L919.7 408.8 L920.1 408.7 L920.6 409.3 L921.0 410.6 L921.5 411.7 L921.9 408.6 L922.4 411.4 L922.8 409.0 L923.3 408.0 L923.7 410.0 L924.2 411.1 L924.6 410.9 L925.1 411.4 L925.5 407.4 L926.0 412.6 L926.4 411.4 L926.9 411.0 L927.3 407.3 L927.8 410.5 L928.2 409.1 L928.7 409.3 L929.1 410.3 L929.6 408.2 L930.0 412.7 L930.5 412.9 L930.9 412.9 L931.4 414.1 L931.8 409.5 L932.3 411.8 L932.7 411.8 L933.2 410.5 L933.6 413.7 L934.1 416.5 L934.5 410.9 L935.0 413.5 L935.4 412.8 L935.9 413.0 L936.3 413.0 L936.8 413.9 L937.2 411.8 L937.7 412.1 L938.1 415.2 L938.6 412.6 L939.0 412.5 L939.5 409.7 L939.9 413.1 L940.4 413.2 L940.8 412.7 L941.3 414.7 L941.7 409.3 L942.2 413.8 L942.6 410.0 L943.1 411.0 L943.5 409.7 L944.0 414.1 L944.4 412.7 L944.9 412.2 L945.3 413.0 L945.8 409.7 L946.2 411.9 L946.7 413.1 L947.1 411.9 L947.6 412.7 L948.0 410.4 L948.5 413.1 L948.9 412.4 L949.4 413.3 L949.8 415.4 L950.3 413.3 L950.7 412.3 L951.2 413.9 L951.6 411.7 L952.1 416.0 L952.5 413.5 L953.0 413.5 L953.4 414.2 L953.9 411.5 L954.3 413.3 L954.8 412.9 L955.2 416.4 L955.7 415.2 L956.1 415.8 L956.6 413.1 L957.0 413.3 L957.5 414.8 L957.9 412.3 L958.4 412.2 L958.8 416.2 L959.3 414.8 L959.7 415.0 L960.2 411.8 L960.6 413.9 L961.1 413.9 L961.5 413.5 L962.0 415.0 L962.4 413.0 L962.9 412.5 L963.3 417.0 L963.8 414.7 L964.2 412.3 L964.7 416.9 L965.1 414.5 L965.6 414.1 L966.0 409.5 L966.5 415.8 L966.9 413.8 L967.4 415.4 L967.8 416.2 L968.3 411.6 L968.7 416.3 L969.2 414.7 L969.6 413.5 L970.1 409.8 L970.5 416.1 L971.0 413.6 L971.4 413.9 L971.9 411.1 L972.3 413.8 L972.8 413.7 L973.2 415.1 L973.7 411.5 L974.1 409.7 L974.6 412.2 L975.0 411.7 L975.5 413.6 L975.9 413.0 L976.4 413.6 L976.8 415.2 L977.3 415.8 L977.7 413.2 L978.2 410.7 L978.6 413.0 L979.1 412.7 L979.5 412.9 L980.0 412.8 L980.4 413.1 L980.9 410.0 L981.3 414.3 L981.8 414.4 L982.2 414.4 L982.7 413.9 L983.1 415.7 L983.6 412.0 L984.0 414.5 L984.5 415.6 L984.9 414.0 L985.4 414.5 L985.8 416.0 L986.3 414.0 L986.7 412.8 L987.2 413.2 L987.6 414.2 L988.1 412.0 L988.5 413.4 L989.0 412.7 L989.4 413.3 L989.9 414.3 L990.3 414.3 L990.8 413.4 L991.2 413.8 L991.7 414.8 L992.1 412.7 L992.6 414.3 L993.0 412.6 L993.5 416.4 L993.9 414.9 L994.4 413.0 L994.8 414.3 L995.3 416.2 L995.7 415.5 L996.2 412.6 L996.6 417.6 L997.1 415.2 L997.5 415.2 L998.0 414.1 L998.4 413.2 L998.9 412.0 L999.3 414.4 L999.8 414.1 L1000.2 413.7 L1000.7 415.2 L1001.1 414.5 L1001.6 412.5 L1002.0 413.4 L1002.5 415.6 L1002.9 411.9 L1003.4 417.0 L1003.8 413.0 L1004.3 417.5 L1004.7 414.3 L1005.2 411.1 L1005.6 414.0 L1006.1 413.3 L1006.5 412.4 L1007.0 413.0 L1007.4 413.0 L1007.9 407.9 L1008.3 413.9 L1008.8 412.3 L1009.2 412.8 L1009.7 413.9 L1010.1 412.9 L1010.6 411.1 L1011.0 414.2 L1011.5 412.4 L1011.9 413.2 L1012.4 411.7 L1012.8 412.4 L1013.3 411.0 L1013.7 414.8 L1014.2 410.6 L1014.6 413.6 L1015.1 409.2 L1015.5 412.4 L1016.0 411.5 L1016.4 413.5 L1016.9 412.4 L1017.3 415.5 L1017.8 416.5 L1018.2 411.1 L1018.7 412.9 L1019.1 410.1 L1019.6 409.9 L1020.0 411.0 L1020.5 412.2 L1020.9 411.5 L1021.4 410.0 L1021.8 411.8 L1022.3 408.0 L1022.7 408.2 L1023.2 409.4 L1023.6 406.6 L1024.1 411.5 L1024.5 409.1 L1025.0 408.7 L1025.4 409.9 L1025.9 407.1 L1026.3 409.0 L1026.8 406.5 L1027.2 409.0 L1027.7 409.5 L1028.1 412.0 L1028.6 409.5 L1029.0 411.7 L1029.5 409.6 L1029.9 407.1 L1030.4 411.0 L1030.8 409.9 L1031.3 408.9 L1031.7 411.4 L1032.2 408.2 L1032.6 409.3 L1033.1 411.1 L1033.5 411.3 L1034.0 408.7 L1034.4 410.1 L1034.9 409.5 L1035.3 410.1 L1035.8 408.4 L1036.2 405.0 L1036.7 407.5 L1037.1 410.1 L1037.6 406.0 L1038.0 406.7 L1038.5 408.2 L1038.9 406.3 L1039.4 404.8 L1039.8 406.5 L1040.3 406.2 L1040.7 405.2 L1041.2 406.4 L1041.6 404.6 L1042.1 404.4 L1042.5 405.3 L1043.0 407.0 L1043.4 407.4 L1043.9 406.6 L1044.3 409.4 L1044.8 408.7 L1045.2 407.8 L1045.7 409.6 L1046.1 410.1 L1046.6 408.8 L1047.0 406.6 L1047.5 408.8 L1047.9 409.2 L1048.4 407.8 L1048.8 406.8 L1049.3 407.3 L1049.7 407.2 L1050.2 403.4 L1050.6 408.9 L1051.1 406.2 L1051.5 409.3 L1052.0 406.0 L1052.4 404.5 L1052.9 407.2 L1053.3 406.0 L1053.8 407.3 L1054.2 405.0 L1054.7 405.0 L1055.1 404.5 L1055.6 404.4 L1056.0 406.1 L1056.5 403.1 L1056.9 405.4 L1057.4 406.8 L1057.8 403.2 L1058.3 404.4 L1058.7 403.4 L1059.2 404.1 L1059.6 405.0 L1060.1 406.0 L1060.5 406.3 L1061.0 403.7 L1061.4 406.0 L1061.9 403.7 L1062.3 402.7 L1062.8 402.8 L1063.2 401.0 L1063.7 404.2 L1064.1 400.9 L1064.6 404.2 L1065.0 408.3 L1065.5 402.1 L1065.9 400.1 L1066.4 404.3 L1066.8 401.8 L1067.3 403.5 L1067.7 403.5 L1068.2 403.9 L1068.6 407.5 L1069.1 404.1 L1069.5 404.0 L1070.0 403.5 L1070.4 402.4 L1070.9 402.6 L1071.3 401.9 L1071.8 405.3 L1072.2 403.6 L1072.7 405.0 L1073.1 404.5 L1073.6 407.8 L1074.0 403.7 L1074.5 404.9 L1074.9 402.6 L1075.4 405.6 L1075.8 403.1 L1076.3 403.4 L1076.7 400.8 L1077.2 404.0 L1077.6 405.7 L1078.1 405.1 L1078.5 400.7 L1079.0 404.1 L1079.4 401.3 L1079.9 399.7 L1080.3 400.4 L1080.8 404.9 L1081.2 402.3 L1081.7 400.9 L1082.1 403.8 L1082.6 403.8 L1083.0 402.8 L1083.5 404.3 L1083.9 402.8 L1084.4 405.6 L1084.8 404.9 L1085.3 403.5 L1085.7 404.3 L1086.2 405.3 L1086.6 403.7 L1087.1 405.0 L1087.5 404.0 L1088.0 403.8 L1088.4 401.2 L1088.9 402.5 L1089.3 403.0 L1089.8 405.0 L1090.2 409.4 L1090.7 403.5 L1091.1 404.5 L1091.6 403.2 L1092.0 404.8 L1092.5 405.2 L1092.9 406.9 L1093.4 403.5 L1093.8 406.8 L1094.3 406.5 L1094.7 405.7 L1095.2 404.3 L1095.6 404.7 L1096.1 406.2 L1096.5 407.6 L1097.0 406.6 L1097.4 405.6 L1097.9 407.4 L1098.3 405.2 L1098.8 408.2 L1099.2 411.8 L1099.7 406.0 L1100.1 408.7 L1100.6 405.3 L1101.0 407.1 L1101.5 407.8 L1101.9 409.0 L1102.4 407.0 L1102.8 409.2 L1103.3 404.8 L1103.7 406.6 L1104.2 406.9 L1104.6 407.0 L1105.1 406.5 L1105.5 409.8 L1106.0 406.0 L1106.4 408.3 L1106.9 407.3 L1107.3 410.0 L1107.8 406.2 L1108.2 407.8 L1108.7 407.6 L1109.1 401.3 L1109.6 407.3 L1110.0 408.4 L1110.5 409.3 L1110.9 404.9 L1111.4 406.4 L1111.8 408.8 L1112.3 404.9 L1112.7 405.4 L1113.2 407.8 L1113.6 408.1 L1114.1 409.3 L1114.5 409.1 L1115.0 407.8 L1115.4 406.0 L1115.9 406.9 L1116.3 408.3 L1116.8 409.2 L1117.2 408.9 L1117.7 410.4 L1118.1 408.0 L1118.6 408.7 L1119.0 407.3 L1119.5 412.8 L1119.9 409.2 L1120.4 411.0 L1120.8 411.4 L1121.3 409.7 L1121.7 408.7 L1122.2 408.1 L1122.6 408.5 L1123.1 406.0 L1123.5 407.9 L1124.0 410.0 L1124.4 409.2 L1124.9 410.1 L1125.3 410.0 L1125.8 409.9 L1126.2 409.0 L1126.7 409.3 L1127.1 410.7 L1127.6 408.8 L1128.0 407.4 L1128.5 411.3 L1128.9 410.3 L1129.4 412.3 L1129.8 409.8 L1130.3 408.5 L1130.7 411.2 L1131.2 410.6 L1131.6 410.3 L1132.1 414.5 L1132.5 412.5 L1133.0 410.2 L1133.4 409.5 L1133.9 411.9 L1134.3 413.0 L1134.8 412.4 L1135.2 413.8 L1135.7 412.3 L1136.1 412.5 L1136.6 408.6 L1137.0 413.6 L1137.5 410.6 L1137.9 413.0 L1138.4 408.9 L1138.8 409.9 L1139.3 413.2 L1139.7 409.3 L1140.2 411.5 L1140.6 410.6 L1141.1 414.1 L1141.5 412.0 L1142.0 413.6 L1142.4 411.6 L1142.9 409.2 L1143.3 415.4 L1143.8 411.5 L1144.2 412.8 L1144.7 412.9 L1145.1 410.7 L1145.6 414.6 L1146.0 413.0 L1146.5 411.0 L1146.9 411.5 L1147.4 410.2 L1147.8 412.4 L1148.3 413.2 L1148.7 411.8 L1149.2 413.1 L1149.6 412.4 L1150.1 413.7 L1150.5 412.8 L1151.0 412.6 L1151.4 411.6 L1151.9 411.2 L1152.3 411.8 L1152.8 414.0 L1153.2 412.8 L1153.7 416.1 L1154.1 415.3 L1154.6 412.1 L1155.0 415.2 L1155.5 416.6 L1155.9 413.9 L1156.4 417.0 L1156.8 414.2 L1157.3 418.0 L1157.7 416.6 L1158.2 415.6 L1158.6 413.5 L1159.1 415.9 L1159.5 415.0 L1160.0 416.7 L1160.4 414.8 L1160.9 416.9 L1161.3 415.3 L1161.8 416.9 L1162.2 417.2 L1162.7 416.2 L1163.1 416.6 L1163.6 417.5 L1164.0 414.3 L1164.5 416.6 L1164.9 416.0 L1165.4 418.0 L1165.8 415.2 L1166.3 416.8 L1166.7 412.7 L1167.2 417.1 L1167.6 415.8 L1168.1 415.8 L1168.5 416.7 L1169.0 413.5 L1169.4 415.2 L1169.9 415.8 L1170.3 415.4 L1170.8 415.2 L1171.2 417.6 L1171.7 416.3 L1172.1 415.9 L1172.6 416.3 L1173.0 418.2 L1173.5 419.0 L1173.9 417.7 L1174.4 416.8 L1174.8 413.9 L1175.3 415.1 L1175.7 414.5 L1176.2 414.5 L1176.6 417.7 L1177.1 415.1 L1177.5 418.1 L1178.0 416.3 L1178.4 416.0 L1178.9 416.0 L1179.3 414.3 L1179.8 415.9 L1180.2 417.9 L1180.7 417.8 L1181.1 417.0 L1181.6 417.9 L1182.0 417.1 L1182.5 417.5 L1182.9 420.5 L1183.4 417.1 L1183.8 414.3 L1184.3 413.7 L1184.7 415.8 L1185.2 417.2 L1185.6 418.4 L1186.1 417.0 L1186.5 417.3 L1187.0 418.1 L1187.4 415.9 L1187.9 417.4 L1188.3 418.0 L1188.8 416.9 L1189.2 416.3 L1189.7 418.3 L1190.1 419.1 L1190.6 417.5 L1191.0 413.8 L1191.5 416.0 L1191.9 416.4 L1192.4 417.5 L1192.8 416.0 L1193.3 415.9 L1193.7 417.8 L1194.2 418.0 L1194.6 416.1 L1195.1 414.2 L1195.5 413.9 L1196.0 416.6 L1196.4 414.5 L1196.9 415.7 L1197.3 415.6 L1197.8 416.3 L1198.2 416.8 L1198.7 415.2 L1199.1 416.2 L1199.6 417.8 L1200.0 418.1 L1200.5 416.5 L1200.9 421.7 L1201.4 417.2 L1201.8 421.0 L1202.3 417.3 L1202.7 421.2 L1203.2 417.2 L1203.6 421.1 L1204.1 419.9 L1204.5 420.7 L1205.0 418.4 L1205.4 419.8 L1205.9 419.7 L1206.3 419.6 L1206.8 418.6 L1207.2 421.4 L1207.7 416.7 L1208.1 417.1 L1208.6 417.1 L1209.0 421.3 L1209.5 417.9 L1209.9 418.0 L1210.4 418.0 L1210.8 418.5 L1211.3 418.6 L1211.7 418.2 L1212.2 416.7 L1212.6 419.5 L1213.1 418.9 L1213.5 421.0 L1214.0 419.3 L1214.4 418.5 L1214.9 416.3 L1215.3 418.3 L1215.8 418.9 L1216.2 420.2 L1216.7 418.2 L1217.1 418.7 L1217.6 418.3 L1218.0 419.8 L1218.5 419.2 L1218.9 417.7 L1219.4 415.6 L1219.8 420.3 L1220.3 418.2 L1220.7 417.1 L1221.2 416.3 L1221.6 416.0 L1222.1 419.0 L1222.5 418.5 L1223.0 419.2 L1223.4 420.6 L1223.9 417.9 L1224.3 419.1 L1224.8 417.8 L1225.2 417.2 L1225.7 415.1 L1226.1 417.0 L1226.6 419.6 L1227.0 417.2 L1227.5 418.3 L1227.9 418.0 L1228.4 420.8 L1228.8 420.0 L1229.3 417.0 L1229.7 417.4 L1230.2 419.8 L1230.6 418.6 L1231.1 418.6 L1231.5 420.2 L1232.0 419.4 L1232.4 418.8 L1232.9 423.0 L1233.3 419.2 L1233.8 416.6 L1234.2 419.0 L1234.7 418.9 L1235.1 421.0 L1235.6 419.0 L1236.0 417.6 L1236.5 419.1 L1236.9 416.8 L1237.4 418.2 L1237.8 419.3 L1238.3 417.6 L1238.7 416.0 L1239.2 417.4 L1239.6 417.8 L1240.1 419.8 L1240.5 418.3 L1241.0 418.9 L1241.4 417.6 L1241.9 419.1 L1242.3 418.1 L1242.8 419.9 L1243.2 419.5 L1243.7 421.3 L1244.1 420.2 L1244.6 418.9 L1245.0 418.2 L1245.5 419.8 L1245.9 420.6 L1246.4 421.7 L1246.8 418.6 L1247.3 417.5 L1247.7 416.6 L1248.2 417.7 L1248.6 418.8 L1249.1 418.7 L1249.5 418.6 L1250.0 419.0 L1250.4 419.5 L1250.9 416.6 L1251.3 419.1 L1251.8 418.8 L1252.2 418.7 L1252.7 418.3 L1253.1 416.1 L1253.6 419.3 L1254.0 417.7 L1254.5 418.1 L1254.9 418.5 L1255.4 418.0 L1255.8 418.4 L1256.3 418.4 L1256.7 416.4 L1257.2 416.2 L1257.6 419.2 L1258.1 417.1 L1258.5 421.5 L1259.0 417.1 L1259.4 419.1 L1259.9 419.0 L1260.3 419.7 L1260.8 418.2 L1261.2 420.1 L1261.7 422.5 L1262.1 418.8 L1262.6 416.4 L1263.0 420.3 L1263.5 419.8 L1263.9 420.1 L1264.4 417.8 L1264.8 419.4 L1265.3 420.0 L1265.7 418.0 L1266.2 418.8 L1266.6 419.5 L1267.1 419.8 L1267.5 418.5 L1268.0 419.2 L1268.4 421.9 L1268.9 422.0 L1269.3 417.7 L1269.8 422.4 L1270.2 418.8 L1270.7 420.8 L1271.1 417.5 L1271.6 418.9 L1272.0 418.1 L1272.5 420.1 L1272.9 419.1 L1273.4 419.3 L1273.8 419.2 L1274.3 418.9 L1274.7 420.0 L1275.2 418.9 L1275.6 418.8 L1276.1 418.1 L1276.5 417.9 L1277.0 418.6 L1277.4 419.9 L1277.9 420.9 L1278.3 419.3 L1278.8 422.2 L1279.2 421.1 L1279.7 419.3 L1280.1 419.6 L1280.6 419.1 L1281.0 416.5 L1281.5 420.3 L1281.9 419.5 L1282.4 417.0 L1282.8 420.8 L1283.3 418.9 L1283.7 419.6 L1284.2 417.6 L1284.6 420.2 L1285.1 421.1 L1285.5 420.0 L1286.0 420.8 L1286.4 418.3 L1286.9 421.9 L1287.3 421.2 L1287.8 421.3 L1288.2 422.4 L1288.7 422.9 L1289.1 421.3 L1289.6 422.6 L1290.0 423.9 L1290.5 419.6 L1290.9 421.3 L1291.4 418.7 L1291.8 421.5 L1292.3 422.9 L1292.7 420.7 L1293.2 419.3 L1293.6 420.1 L1294.1 421.4 L1294.5 418.7 L1295.0 418.7 L1295.4 421.4 L1295.9 418.7 L1296.3 420.7 L1296.8 419.0 L1297.2 418.2 L1297.7 421.6 L1298.1 422.0 L1298.6 419.3 L1299.0 423.7 L1299.5 420.6 L1299.9 421.2 L1300.4 420.8 L1300.8 419.0 L1301.3 422.2 L1301.7 421.0 L1302.2 421.6 L1302.6 421.1 L1303.1 420.4 L1303.5 424.3 L1304.0 421.6 L1304.4 420.6 L1304.9 421.8 L1305.3 419.0 L1305.8 421.2 L1306.2 424.4 L1306.7 419.5 L1307.1 421.0 L1307.6 418.5 L1308.0 420.2 L1308.5 421.7 L1308.9 418.5 L1309.4 418.6 L1309.8 421.5 L1310.3 420.2 L1310.7 420.7 L1311.2 420.5 L1311.6 417.9 L1312.1 417.3 L1312.5 417.0 L1313.0 420.5 L1313.4 417.9 L1313.9 417.5 L1314.3 419.3 L1314.8 420.1 L1315.2 420.8 L1315.7 418.0 L1316.1 422.6 L1316.6 419.4 L1317.0 421.0 L1317.5 420.8 L1317.9 419.4 L1318.4 421.4 L1318.8 421.3 L1319.3 422.4 L1319.7 423.5 L1320.2 423.8 L1320.6 422.0 L1321.1 421.5 L1321.5 419.9 L1322.0 418.1 L1322.4 420.8 L1322.9 419.2 L1323.3 419.5 L1323.8 419.1 L1324.2 420.4 L1324.7 419.1 L1325.1 423.1 L1325.6 420.9 L1326.0 419.0 L1326.5 420.3 L1326.9 421.9 L1327.4 418.2 L1327.8 420.3 L1328.3 419.4 L1328.7 420.4 L1329.2 419.7 L1329.6 420.8 L1330.1 421.3 L1330.5 421.7 L1331.0 418.8 L1331.4 422.1 L1331.9 421.3 L1332.3 420.4 L1332.8 421.3 L1333.2 423.8 L1333.7 421.4 L1334.1 420.4 L1334.6 422.8 L1335.0 421.6 L1335.5 423.0 L1335.9 422.4 L1336.4 424.1 L1336.8 421.4 L1337.3 421.8 L1337.7 423.9 L1338.2 424.8 L1338.6 422.6 L1339.1 423.9 L1339.5 422.6 L1340.0 421.7 L1340.4 419.1 L1340.9 424.2 L1341.3 422.5 L1341.8 417.3 L1342.2 421.5 L1342.7 419.3 L1343.1 418.5 L1343.6 419.0 L1344.0 420.9 L1344.5 419.7 L1344.9 419.5 L1345.4 419.7 L1345.8 419.4 L1346.3 420.8 L1346.7 417.2 L1347.2 418.3 L1347.6 420.1 L1348.1 418.7 L1348.5 420.6 L1349.0 419.9 L1349.4 421.1 L1349.9 420.3 L1350.3 421.4 L1350.8 420.6 L1351.2 421.7 L1351.7 420.1 L1352.1 418.1 L1352.6 420.7 L1353.0 420.7 L1353.5 420.0 L1353.9 422.2 L1354.4 421.5 L1354.8 423.0 L1355.3 420.3 L1355.7 420.3 L1356.2 421.7 L1356.6 423.1 L1357.1 420.1 L1357.5 421.8 L1358.0 421.1 L1358.4 420.8 L1358.9 422.6 L1359.3 422.6 L1359.8 422.4 L1360.2 420.4 L1360.7 421.3 L1361.1 418.9 L1361.6 422.1 L1362.0 419.5 L1362.5 420.9 L1362.9 422.4 L1363.4 420.8 L1363.8 421.3 L1364.3 420.1 L1364.7 424.7 L1365.2 419.1 L1365.6 420.0 L1366.1 420.5 L1366.5 424.3 L1367.0 419.7 L1367.4 420.4 L1367.9 421.4 L1368.3 417.1 L1368.8 421.4 L1369.2 420.6 L1369.7 422.2 L1370.1 422.3 L1370.6 420.9 L1371.0 421.9 L1371.5 419.5 L1371.9 418.9 L1372.4 420.4 L1372.8 421.1 L1373.3 420.5 L1373.7 421.6 L1374.2 421.9 L1374.6 423.4 L1375.1 420.7 L1375.5 420.2 L1376.0 421.4 L1376.4 421.0 L1376.9 421.5 L1377.3 423.1 L1377.8 419.6 L1378.2 421.9 L1378.7 423.0 L1379.1 423.1 L1379.6 419.4 L1380.0 421.2 L1380.5 423.7 L1380.9 422.1 L1381.4 422.8 L1381.8 422.1 L1382.3 424.2 L1382.7 422.8 L1383.2 422.0 L1383.6 422.6 L1384.1 424.4 L1384.5 423.0 L1385.0 420.1 L1385.4 419.5 L1385.9 423.4 L1386.3 420.0 L1386.8 422.6 L1387.2 421.3 L1387.7 422.6 L1388.1 421.2 L1388.6 418.9 L1389.0 424.2 L1389.5 422.1 L1389.9 421.8 L1390.4 424.3 L1390.8 423.0 L1391.3 423.5 L1391.7 421.6 L1392.2 422.1 L1392.6 422.6 L1393.1 421.1 L1393.5 423.2 L1394.0 422.7 L1394.4 421.7 L1394.9 421.6 L1395.3 423.5 L1395.8 422.1 L1396.2 423.0 L1396.7 422.9 L1397.1 422.2 L1397.6 418.0 L1398.0 423.0 L1398.5 423.6 L1398.9 421.4 L1399.4 421.3 L1399.8 423.4 L1400.3 420.5 L1400.7 423.8 L1401.2 422.9 L1401.6 424.0 L1402.1 422.1 L1402.5 422.3 L1403.0 422.6 L1403.4 420.1 L1403.9 421.1 L1404.3 423.9 L1404.8 421.3 L1405.2 420.9 L1405.7 422.7 L1406.1 424.1 L1406.6 422.0 L1407.0 421.6 L1407.5 421.9 L1407.9 422.5 L1408.4 419.6 L1408.8 422.2 L1409.3 422.2 L1409.7 423.1 L1410.2 423.1 L1410.6 422.6 L1411.1 424.5 L1411.5 421.8 L1412.0 421.8 L1412.4 424.4 L1412.9 422.4 L1413.3 421.5 L1413.8 421.7 L1414.2 422.6 L1414.7 420.8 L1415.1 424.1 L1415.6 423.2" fill="none" stroke="#ff8000" stroke-width="2.6" stroke-linejoin="round"/>
<path d="M106.5 517.5 L107.0 519.7 L107.4 518.0 L107.9 517.9 L108.3 519.8 L108.8 517.8 L109.2 519.7 L109.7 520.3 L110.1 519.8 L110.6 520.6 L111.0 518.0 L111.5 520.3 L111.9 517.8 L112.4 516.2 L112.8 518.3 L113.3 521.3 L113.7 517.2 L114.2 521.1 L114.6 516.6 L115.1 519.9 L115.5 519.4 L116.0 518.0 L116.4 515.5 L116.9 519.5 L117.3 519.5 L117.8 519.2 L118.2 519.8 L118.7 517.3 L119.1 521.3 L119.6 519.8 L120.0 517.5 L120.5 521.7 L120.9 518.8 L121.4 519.5 L121.8 520.2 L122.3 518.0 L122.7 518.1 L123.2 519.2 L123.6 518.0 L124.1 519.4 L124.5 521.7 L125.0 518.3 L125.4 520.1 L125.9 519.3 L126.3 521.4 L126.8 518.8 L127.2 519.0 L127.7 520.4 L128.1 523.5 L128.6 519.4 L129.0 518.4 L129.5 519.4 L129.9 521.7 L130.4 522.0 L130.8 520.6 L131.3 521.0 L131.7 518.7 L132.2 521.2 L132.6 520.4 L133.1 519.8 L133.5 522.2 L134.0 522.3 L134.4 520.3 L134.9 521.3 L135.3 518.3 L135.8 519.6 L136.2 522.9 L136.7 519.6 L137.1 519.9 L137.6 522.7 L138.0 517.9 L138.5 520.2 L138.9 522.2 L139.4 520.5 L139.8 519.8 L140.3 519.6 L140.7 521.3 L141.2 519.7 L141.6 521.4 L142.1 520.8 L142.5 521.1 L143.0 522.6 L143.4 520.5 L143.9 519.8 L144.3 521.2 L144.8 521.6 L145.2 520.9 L145.7 518.8 L146.1 522.1 L146.6 518.7 L147.0 518.4 L147.5 522.5 L147.9 523.3 L148.4 520.8 L148.8 520.1 L149.3 523.3 L149.7 519.6 L150.2 521.5 L150.6 520.8 L151.1 522.5 L151.5 522.2 L152.0 520.7 L152.4 523.4 L152.9 522.9 L153.3 521.9 L153.8 521.6 L154.2 521.9 L154.7 520.2 L155.1 521.7 L155.6 521.6 L156.0 522.7 L156.5 521.6 L156.9 521.3 L157.4 522.2 L157.8 523.2 L158.3 522.6 L158.7 521.6 L159.2 521.1 L159.6 523.6 L160.1 521.7 L160.5 519.9 L161.0 521.8 L161.4 519.0 L161.9 520.6 L162.3 522.2 L162.8 521.0 L163.2 520.7 L163.7 522.2 L164.1 522.8 L164.6 519.9 L165.0 519.8 L165.5 520.6 L165.9 520.2 L166.4 522.6 L166.8 523.2 L167.3 522.2 L167.7 521.0 L168.2 520.5 L168.6 522.6 L169.1 521.9 L169.5 523.8 L170.0 521.5 L170.4 522.6 L170.9 522.9 L171.3 525.0 L171.8 524.6 L172.2 524.2 L172.7 523.9 L173.1 524.5 L173.6 521.1 L174.0 524.8 L174.5 523.2 L174.9 525.6 L175.4 524.8 L175.8 525.2 L176.3 522.5 L176.7 527.4 L177.2 524.0 L177.6 523.5 L178.1 522.0 L178.5 523.1 L179.0 519.3 L179.4 523.9 L179.9 522.4 L180.3 521.4 L180.8 523.2 L181.2 521.8 L181.7 521.6 L182.1 520.2 L182.6 521.4 L183.0 519.3 L183.5 519.5 L183.9 521.3 L184.4 520.3 L184.8 519.4 L185.3 521.1 L185.7 518.8 L186.2 523.6 L186.6 520.2 L187.1 520.3 L187.5 523.7 L188.0 519.6 L188.4 518.6 L188.9 521.8 L189.3 521.6 L189.8 523.5 L190.2 522.2 L190.7 520.2 L191.1 522.7 L191.6 522.3 L192.0 524.5 L192.5 523.3 L192.9 521.6 L193.4 522.0 L193.8 522.9 L194.3 522.3 L194.7 523.1 L195.2 523.1 L195.6 521.0 L196.1 522.9 L196.5 523.7 L197.0 520.9 L197.4 520.5 L197.9 523.5 L198.3 523.1 L198.8 523.6 L199.2 524.6 L199.7 521.9 L200.1 520.5 L200.6 522.1 L201.0 520.8 L201.5 522.1 L201.9 522.5 L202.4 521.5 L202.8 522.1 L203.3 521.3 L203.7 521.7 L204.2 519.7 L204.6 523.7 L205.1 520.5 L205.5 520.9 L206.0 520.6 L206.4 521.3 L206.9 521.1 L207.3 519.0 L207.8 523.9 L208.2 522.3 L208.7 521.4 L209.1 521.7 L209.6 523.1 L210.0 522.7 L210.5 521.8 L210.9 522.5 L211.4 517.5 L211.8 522.1 L212.3 520.4 L212.7 519.4 L213.2 518.9 L213.6 520.2 L214.1 517.5 L214.5 520.2 L215.0 518.5 L215.4 520.4 L215.9 516.9 L216.3 519.8 L216.8 518.6 L217.2 517.6 L217.7 521.0 L218.1 520.8 L218.6 518.0 L219.0 518.9 L219.5 521.3 L219.9 519.4 L220.4 518.3 L220.8 517.7 L221.3 517.8 L221.7 519.6 L222.2 519.9 L222.6 517.8 L223.1 516.7 L223.5 516.9 L224.0 515.4 L224.4 518.5 L224.9 517.8 L225.3 519.5 L225.8 521.3 L226.2 520.3 L226.7 518.1 L227.1 518.5 L227.6 517.4 L228.0 516.5 L228.5 522.2 L228.9 520.0 L229.4 517.5 L229.8 520.5 L230.3 516.4 L230.7 518.9 L231.2 519.1 L231.6 517.8 L232.1 517.7 L232.5 519.3 L233.0 517.3 L233.4 519.5 L233.9 515.2 L234.3 517.0 L234.8 520.0 L235.2 516.1 L235.7 516.1 L236.1 517.6 L236.6 517.0 L237.0 518.0 L237.5 519.0 L237.9 518.3 L238.4 517.7 L238.8 516.7 L239.3 517.3 L239.7 518.1 L240.2 515.2 L240.6 515.6 L241.1 514.3 L241.5 515.6 L242.0 515.6 L242.4 514.3 L242.9 513.3 L243.3 513.7 L243.8 515.7 L244.2 513.8 L244.7 515.9 L245.1 513.9 L245.6 513.8 L246.0 516.2 L246.5 514.0 L246.9 517.1 L247.4 512.3 L247.8 515.7 L248.3 515.0 L248.7 515.3 L249.2 516.4 L249.6 513.1 L250.1 519.2 L250.5 515.4 L251.0 519.8 L251.4 517.4 L251.9 516.4 L252.3 513.8 L252.8 518.7 L253.2 517.0 L253.7 517.8 L254.1 513.6 L254.6 513.2 L255.0 515.1 L255.5 516.4 L255.9 516.7 L256.4 517.2 L256.8 514.0 L257.3 513.2 L257.7 516.4 L258.2 513.8 L258.6 515.3 L259.1 518.6 L259.5 514.9 L260.0 516.2 L260.4 516.1 L260.9 515.7 L261.3 516.3 L261.8 516.5 L262.2 515.7 L262.7 517.8 L263.1 516.8 L263.6 513.6 L264.0 517.2 L264.5 514.9 L264.9 514.2 L265.4 513.1 L265.8 515.2 L266.3 513.7 L266.7 512.3 L267.2 512.0 L267.6 514.7 L268.1 512.2 L268.5 511.8 L269.0 516.1 L269.4 512.5 L269.9 512.9 L270.3 512.0 L270.8 511.7 L271.2 510.3 L271.7 513.0 L272.1 512.4 L272.6 510.8 L273.0 512.0 L273.5 514.9 L273.9 512.6 L274.4 512.2 L274.8 511.1 L275.3 511.1 L275.7 512.7 L276.2 513.1 L276.6 512.1 L277.1 513.1 L277.5 510.4 L278.0 511.1 L278.4 512.3 L278.9 513.6 L279.3 511.0 L279.8 513.2 L280.2 509.9 L280.7 513.3 L281.1 513.4 L281.6 510.7 L282.0 511.6 L282.5 512.0 L282.9 509.6 L283.4 509.9 L283.8 509.7 L284.3 511.1 L284.7 511.6 L285.2 508.6 L285.6 508.8 L286.1 510.9 L286.5 508.7 L287.0 509.3 L287.4 510.8 L287.9 509.4 L288.3 510.9 L288.8 509.2 L289.2 508.8 L289.7 507.6 L290.1 505.1 L290.6 507.9 L291.0 505.5 L291.5 509.6 L291.9 509.4 L292.4 508.7 L292.8 509.7 L293.3 511.1 L293.7 504.7 L294.2 507.1 L294.6 508.5 L295.1 506.7 L295.5 506.8 L296.0 508.7 L296.4 507.7 L296.9 504.6 L297.3 509.3 L297.8 505.7 L298.2 507.4 L298.7 508.1 L299.1 504.6 L299.6 510.2 L300.0 508.7 L300.5 508.3 L300.9 509.1 L301.4 507.5 L301.8 509.1 L302.3 509.0 L302.7 504.4 L303.2 506.0 L303.6 509.4 L304.1 506.1 L304.5 508.6 L305.0 507.4 L305.4 508.7 L305.9 504.5 L306.3 507.5 L306.8 507.2 L307.2 507.5 L307.7 507.3 L308.1 506.9 L308.6 507.2 L309.0 507.2 L309.5 505.2 L309.9 508.3 L310.4 505.8 L310.8 504.5 L311.3 506.5 L311.7 502.8 L312.2 507.0 L312.6 504.6 L313.1 505.3 L313.5 505.2 L314.0 506.0 L314.4 504.1 L314.9 504.4 L315.3 505.7 L315.8 504.0 L316.2 504.8 L316.7 504.5 L317.1 504.0 L317.6 503.3 L318.0 502.9 L318.5 503.5 L318.9 502.1 L319.4 502.2 L319.8 508.6 L320.3 504.1 L320.7 505.6 L321.2 504.5 L321.6 505.2 L322.1 504.2 L322.5 505.6 L323.0 504.2 L323.4 504.3 L323.9 501.8 L324.3 505.6 L324.8 503.6 L325.2 504.0 L325.7 504.9 L326.1 504.7 L326.6 504.3 L327.0 506.5 L327.5 502.8 L327.9 500.8 L328.4 503.6 L328.8 500.1 L329.3 503.5 L329.7 505.8 L330.2 506.1 L330.6 501.4 L331.1 503.7 L331.5 500.8 L332.0 503.3 L332.4 504.9 L332.9 501.3 L333.3 504.8 L333.8 502.4 L334.2 506.2 L334.7 500.3 L335.1 499.5 L335.6 503.0 L336.0 502.0 L336.5 501.2 L336.9 498.6 L337.4 499.9 L337.8 498.5 L338.3 502.0 L338.7 500.2 L339.2 497.9 L339.6 497.5 L340.1 496.3 L340.5 497.7 L341.0 498.6 L341.4 499.4 L341.9 500.5 L342.3 497.7 L342.8 500.7 L343.2 494.9 L343.7 498.2 L344.1 499.5 L344.6 497.4 L345.0 498.7 L345.5 499.6 L345.9 497.2 L346.4 498.5 L346.8 500.2 L347.3 496.1 L347.7 500.3 L348.2 498.1 L348.6 495.7 L349.1 498.9 L349.5 499.3 L350.0 497.7 L350.4 498.4 L350.9 498.4 L351.3 497.3 L351.8 497.2 L352.2 498.2 L352.7 497.8 L353.1 496.2 L353.6 492.8 L354.0 493.7 L354.5 495.3 L354.9 498.0 L355.4 496.9 L355.8 499.2 L356.3 496.8 L356.7 496.8 L357.2 495.4 L357.6 498.3 L358.1 493.6 L358.5 496.7 L359.0 495.8 L359.4 495.0 L359.9 497.7 L360.3 497.2 L360.8 496.5 L361.2 495.1 L361.7 492.8 L362.1 492.7 L362.6 490.2 L363.0 492.2 L363.5 495.0 L363.9 496.7 L364.4 491.7 L364.8 495.9 L365.3 496.9 L365.7 495.2 L366.2 496.1 L366.6 492.7 L367.1 491.6 L367.5 492.9 L368.0 494.0 L368.4 492.9 L368.9 492.1 L369.3 493.0 L369.8 489.4 L370.2 492.3 L370.7 486.5 L371.1 492.8 L371.6 492.4 L372.0 494.0 L372.5 487.3 L372.9 487.7 L373.4 486.6 L373.8 485.5 L374.3 483.5 L374.7 489.4 L375.2 487.1 L375.6 487.0 L376.1 483.4 L376.5 487.0 L377.0 490.4 L377.4 486.3 L377.9 487.3 L378.3 482.8 L378.8 487.0 L379.2 484.4 L379.7 484.3 L380.1 484.4 L380.6 482.9 L381.0 484.5 L381.5 482.6 L381.9 481.6 L382.4 479.9 L382.8 479.5 L383.3 483.3 L383.7 483.4 L384.2 480.6 L384.6 480.0 L385.1 478.8 L385.5 480.1 L386.0 482.4 L386.4 479.8 L386.9 477.8 L387.3 481.1 L387.8 480.3 L388.2 474.7 L388.7 477.4 L389.1 481.0 L389.6 478.9 L390.0 477.6 L390.5 478.2 L390.9 474.2 L391.4 473.7 L391.8 475.4 L392.3 475.3 L392.7 478.0 L393.2 473.5 L393.6 473.9 L394.1 476.1 L394.5 470.8 L395.0 471.0 L395.4 471.3 L395.9 471.5 L396.3 470.9 L396.8 471.9 L397.2 467.3 L397.7 466.8 L398.1 469.4 L398.6 465.6 L399.0 472.8 L399.5 467.1 L399.9 467.3 L400.4 469.7 L400.8 468.8 L401.3 469.0 L401.7 467.2 L402.2 463.7 L402.6 465.9 L403.1 464.2 L403.5 461.2 L404.0 463.8 L404.4 466.1 L404.9 460.9 L405.3 460.6 L405.8 459.7 L406.2 462.6 L406.7 455.2 L407.1 460.5 L407.6 459.0 L408.0 458.0 L408.5 455.5 L408.9 456.8 L409.4 461.8 L409.8 457.3 L410.3 455.6 L410.7 458.3 L411.2 452.9 L411.6 458.5 L412.1 455.0 L412.5 461.1 L413.0 459.9 L413.4 455.2 L413.9 454.2 L414.3 451.5 L414.8 453.3 L415.2 453.1 L415.7 447.2 L416.1 446.2 L416.6 450.9 L417.0 447.6 L417.5 448.9 L417.9 448.4 L418.4 448.0 L418.8 446.5 L419.3 448.2 L419.7 449.8 L420.2 449.7 L420.6 443.9 L421.1 444.4 L421.5 443.6 L422.0 438.6 L422.4 437.7 L422.9 440.7 L423.3 441.5 L423.8 441.6 L424.2 437.0 L424.7 439.8 L425.1 437.1 L425.6 435.6 L426.0 438.9 L426.5 431.0 L426.9 428.8 L427.4 439.9 L427.8 434.0 L428.3 435.9 L428.7 433.0 L429.2 431.0 L429.6 429.4 L430.1 427.2 L430.5 432.4 L431.0 428.6 L431.4 430.8 L431.9 431.5 L432.3 430.2 L432.8 430.2 L433.2 433.8 L433.7 430.1 L434.1 429.6 L434.6 428.2 L435.0 432.5 L435.5 431.9 L435.9 426.5 L436.4 429.1 L436.8 427.6 L437.3 426.6 L437.7 425.3 L438.2 432.8 L438.6 429.2 L439.1 421.5 L439.5 430.3 L440.0 432.2 L440.4 427.3 L440.9 426.6 L441.3 427.0 L441.8 429.0 L442.2 424.5 L442.7 427.0 L443.1 421.4 L443.6 428.8 L444.0 422.0 L444.5 424.0 L444.9 426.0 L445.4 427.5 L445.8 422.4 L446.3 422.4 L446.7 428.5 L447.2 422.4 L447.6 421.8 L448.1 422.7 L448.5 426.2 L449.0 426.3 L449.4 427.2 L449.9 425.5 L450.3 423.1 L450.8 425.5 L451.2 426.3 L451.7 420.6 L452.1 422.0 L452.6 423.6 L453.0 428.2 L453.5 422.4 L453.9 423.3 L454.4 423.1 L454.8 423.8 L455.3 424.5 L455.7 419.5 L456.2 414.1 L456.6 424.6 L457.1 416.2 L457.5 423.2 L458.0 423.6 L458.4 424.5 L458.9 419.5 L459.3 423.5 L459.8 424.5 L460.2 424.5 L460.7 425.9 L461.1 419.2 L461.6 420.2 L462.0 420.6 L462.5 420.8 L462.9 423.5 L463.4 422.5 L463.8 419.9 L464.3 424.3 L464.7 420.6 L465.2 415.2 L465.6 422.1 L466.1 414.4 L466.5 414.4 L467.0 416.8 L467.4 416.6 L467.9 417.6 L468.3 418.0 L468.8 415.6 L469.2 415.8 L469.7 419.9 L470.1 418.8 L470.6 417.2 L471.0 415.4 L471.5 417.8 L471.9 414.8 L472.4 413.8 L472.8 420.6 L473.3 419.7 L473.7 416.8 L474.2 422.6 L474.6 417.8 L475.1 420.3 L475.5 420.2 L476.0 419.5 L476.4 420.0 L476.9 424.5 L477.3 423.2 L477.8 415.6 L478.2 423.2 L478.7 415.5 L479.1 419.2 L479.6 423.9 L480.0 419.8 L480.5 426.8 L480.9 422.3 L481.4 425.2 L481.8 424.5 L482.3 426.2 L482.7 427.8 L483.2 420.0 L483.6 424.3 L484.1 425.3 L484.5 428.1 L485.0 427.0 L485.4 425.0 L485.9 422.3 L486.3 421.9 L486.8 424.2 L487.2 427.5 L487.7 427.6 L488.1 431.4 L488.6 428.1 L489.0 429.5 L489.5 423.3 L489.9 427.9 L490.4 425.8 L490.8 425.5 L491.3 430.8 L491.7 427.3 L492.2 427.3 L492.6 427.7 L493.1 424.1 L493.5 423.5 L494.0 433.6 L494.4 428.6 L494.9 428.5 L495.3 429.3 L495.8 427.4 L496.2 427.9 L496.7 426.3 L497.1 429.7 L497.6 428.4 L498.0 431.7 L498.5 433.2 L498.9 426.0 L499.4 431.0 L499.8 428.1 L500.3 435.5 L500.7 430.3 L501.2 432.7 L501.6 429.0 L502.1 434.3 L502.5 429.2 L503.0 428.3 L503.4 425.4 L503.9 432.5 L504.3 432.1 L504.8 434.1 L505.2 431.6 L505.7 434.4 L506.1 434.7 L506.6 432.2 L507.0 440.7 L507.5 441.8 L507.9 436.7 L508.4 437.7 L508.8 438.3 L509.3 438.7 L509.7 434.8 L510.2 438.0 L510.6 442.4 L511.1 437.2 L511.5 437.3 L512.0 435.7 L512.4 437.4 L512.9 433.0 L513.3 439.2 L513.8 442.7 L514.2 441.1 L514.7 441.2 L515.1 441.3 L515.6 441.6 L516.0 438.9 L516.5 436.9 L516.9 447.0 L517.4 443.4 L517.8 436.2 L518.3 446.4 L518.7 441.0 L519.2 444.7 L519.6 441.9 L520.1 440.7 L520.5 444.9 L521.0 442.0 L521.4 436.6 L521.9 445.0 L522.3 443.5 L522.8 443.9 L523.2 443.4 L523.7 445.6 L524.1 448.7 L524.6 447.6 L525.0 445.9 L525.5 445.5 L525.9 443.4 L526.4 450.1 L526.8 440.5 L527.3 443.2 L527.7 445.6 L528.2 446.6 L528.6 447.3 L529.1 446.0 L529.5 452.4 L530.0 451.3 L530.4 443.8 L530.9 446.8 L531.3 446.3 L531.8 454.1 L532.2 449.8 L532.7 447.4 L533.1 451.0 L533.6 448.8 L534.0 452.5 L534.5 454.4 L534.9 450.0 L535.4 453.7 L535.8 454.1 L536.3 451.7 L536.7 455.0 L537.2 452.3 L537.6 455.8 L538.1 453.9 L538.5 453.3 L539.0 458.0 L539.4 457.0 L539.9 453.8 L540.3 446.7 L540.8 455.4 L541.2 453.5 L541.7 455.9 L542.1 455.0 L542.6 454.3 L543.0 454.3 L543.5 458.9 L543.9 459.2 L544.4 458.9 L544.8 452.8 L545.3 454.8 L545.7 456.2 L546.2 450.9 L546.6 458.5 L547.1 453.0 L547.5 458.1 L548.0 454.1 L548.4 456.4 L548.9 450.8 L549.3 448.6 L549.8 452.8 L550.2 451.0 L550.7 451.0 L551.1 452.9 L551.6 454.7 L552.0 455.9 L552.5 451.3 L552.9 449.8 L553.4 453.2 L553.8 450.6 L554.3 450.2 L554.7 452.0 L555.2 455.9 L555.6 453.6 L556.1 447.5 L556.5 457.7 L557.0 449.1 L557.4 452.7 L557.9 450.1 L558.3 454.5 L558.8 452.9 L559.2 454.7 L559.7 452.0 L560.1 450.9 L560.6 454.2 L561.0 446.0 L561.5 447.4 L561.9 446.9 L562.4 450.1 L562.8 449.2 L563.3 448.1 L563.7 452.2 L564.2 451.6 L564.6 449.0 L565.1 446.5 L565.5 455.7 L566.0 450.8 L566.4 448.3 L566.9 450.0 L567.3 450.2 L567.8 447.3 L568.2 450.7 L568.7 448.6 L569.1 446.6 L569.6 450.5 L570.0 446.0 L570.5 450.2 L570.9 446.8 L571.4 445.4 L571.8 448.9 L572.3 444.5 L572.7 446.7 L573.2 448.6 L573.6 443.8 L574.1 442.8 L574.5 446.2 L575.0 446.5 L575.4 437.6 L575.9 444.6 L576.3 445.9 L576.8 441.1 L577.2 445.1 L577.7 441.4 L578.1 440.4 L578.6 441.2 L579.0 444.0 L579.5 440.9 L579.9 440.3 L580.4 441.7 L580.8 443.6 L581.3 435.6 L581.7 443.8 L582.2 444.3 L582.6 437.1 L583.1 439.3 L583.5 440.3 L584.0 439.0 L584.4 443.5 L584.9 438.5 L585.3 436.3 L585.8 436.5 L586.2 438.4 L586.7 435.2 L587.1 435.4 L587.6 435.3 L588.0 441.2 L588.5 438.0 L588.9 432.6 L589.4 436.8 L589.8 427.5 L590.3 434.5 L590.7 435.8 L591.2 434.5 L591.6 434.6 L592.1 433.2 L592.5 430.2 L593.0 431.0 L593.4 430.3 L593.9 426.3 L594.3 430.0 L594.8 426.4 L595.2 430.4 L595.7 434.3 L596.1 433.2 L596.6 433.9 L597.0 424.3 L597.5 423.3 L597.9 425.6 L598.4 420.2 L598.8 423.9 L599.3 419.5 L599.7 421.3 L600.2 418.4 L600.6 423.5 L601.1 421.5 L601.5 419.7 L602.0 412.8 L602.4 419.5 L602.9 413.8 L603.3 410.2 L603.8 414.5 L604.2 416.0 L604.7 407.4 L605.1 413.6 L605.6 409.8 L606.0 409.2 L606.5 410.7 L606.9 407.6 L607.4 406.1 L607.8 411.0 L608.3 399.6 L608.7 410.0 L609.2 402.4 L609.6 409.7 L610.1 401.7 L610.5 409.1 L611.0 398.6 L611.4 408.9 L611.9 402.9 L612.3 400.7 L612.8 399.4 L613.2 402.6 L613.7 397.6 L614.1 399.1 L614.6 396.5 L615.0 391.5 L615.5 399.5 L615.9 392.5 L616.4 393.1 L616.8 392.0 L617.3 390.3 L617.7 394.9 L618.2 389.7 L618.6 386.6 L619.1 386.9 L619.5 384.7 L620.0 381.2 L620.4 387.7 L620.9 379.9 L621.3 386.4 L621.8 381.7 L622.2 383.2 L622.7 379.4 L623.1 377.4 L623.6 385.3 L624.0 375.1 L624.5 372.1 L624.9 375.7 L625.4 378.0 L625.8 367.8 L626.3 369.4 L626.7 373.4 L627.2 372.9 L627.6 370.9 L628.1 366.8 L628.5 368.4 L629.0 364.6 L629.4 367.9 L629.9 365.7 L630.3 365.9 L630.8 363.4 L631.2 365.9 L631.7 362.8 L632.1 359.1 L632.6 366.0 L633.0 361.1 L633.5 358.6 L633.9 358.2 L634.4 363.5 L634.8 357.7 L635.3 357.7 L635.7 352.9 L636.2 353.7 L636.6 351.8 L637.1 349.6 L637.5 347.6 L638.0 348.7 L638.4 343.7 L638.9 349.0 L639.3 347.7 L639.8 339.6 L640.2 342.4 L640.7 336.2 L641.1 338.0 L641.6 336.4 L642.0 326.5 L642.5 321.7 L642.9 331.1 L643.4 329.6 L643.8 326.2 L644.3 322.8 L644.7 320.9 L645.2 312.5 L645.6 326.7 L646.1 311.4 L646.5 319.8 L647.0 316.9 L647.4 317.7 L647.9 310.5 L648.3 310.7 L648.8 314.5 L649.2 307.0 L649.7 310.5 L650.1 303.7 L650.6 308.3 L651.0 308.3 L651.5 305.4 L651.9 306.3 L652.4 298.4 L652.8 299.8 L653.3 299.5 L653.7 305.6 L654.2 296.6 L654.6 298.0 L655.1 301.8 L655.5 296.7 L656.0 298.7 L656.4 289.8 L656.9 297.2 L657.3 292.3 L657.8 293.6 L658.2 293.6 L658.7 282.2 L659.1 294.0 L659.6 287.0 L660.0 292.9 L660.5 286.4 L660.9 287.8 L661.4 280.0 L661.8 281.1 L662.3 289.6 L662.7 281.3 L663.2 285.4 L663.6 283.6 L664.1 278.8 L664.5 282.3 L665.0 282.3 L665.4 285.3 L665.9 281.0 L666.3 280.1 L666.8 288.4 L667.2 288.5 L667.7 282.8 L668.1 278.2 L668.6 284.0 L669.0 280.0 L669.5 287.9 L669.9 281.6 L670.4 278.7 L670.8 279.2 L671.3 274.3 L671.7 273.3 L672.2 263.0 L672.6 267.7 L673.1 273.9 L673.5 277.7 L674.0 275.4 L674.4 282.3 L674.9 279.5 L675.3 275.5 L675.8 281.3 L676.2 285.5 L676.7 283.0 L677.1 280.9 L677.6 279.9 L678.0 282.7 L678.5 285.1 L678.9 284.2 L679.4 288.7 L679.8 287.7 L680.3 289.0 L680.7 284.3 L681.2 287.8 L681.6 286.7 L682.1 288.7 L682.5 288.8 L683.0 298.0 L683.4 283.9 L683.9 290.5 L684.3 287.5 L684.8 291.5 L685.2 291.4 L685.7 297.0 L686.1 290.9 L686.6 289.4 L687.0 294.3 L687.5 295.0 L687.9 286.4 L688.4 303.7 L688.8 294.0 L689.3 305.2 L689.7 305.7 L690.2 308.2 L690.6 305.7 L691.1 303.9 L691.5 306.5 L692.0 316.7 L692.4 312.7 L692.9 318.7 L693.3 318.4 L693.8 320.4 L694.2 328.9 L694.7 324.6 L695.1 330.2 L695.6 332.7 L696.0 337.1 L696.5 338.9 L696.9 338.2 L697.4 342.9 L697.8 345.6 L698.3 355.9 L698.7 353.6 L699.2 352.2 L699.6 354.7 L700.1 354.5 L700.5 362.6 L701.0 357.4 L701.4 355.8 L701.9 374.1 L702.3 358.7 L702.8 360.5 L703.2 360.3 L703.7 366.1 L704.1 363.4 L704.6 364.1 L705.0 371.0 L705.5 373.5 L705.9 370.7 L706.4 367.1 L706.8 373.2 L707.3 370.5 L707.7 374.6 L708.2 375.7 L708.6 371.9 L709.1 379.8 L709.5 378.2 L710.0 379.3 L710.4 377.3 L710.9 385.2 L711.3 381.3 L711.8 385.3 L712.2 383.3 L712.7 384.1 L713.1 385.7 L713.6 386.1 L714.0 391.6 L714.5 398.8 L714.9 399.8 L715.4 395.6 L715.8 397.7 L716.3 406.8 L716.7 406.4 L717.2 406.1 L717.6 407.0 L718.1 409.0 L718.5 405.3 L719.0 412.3 L719.4 422.2 L719.9 422.6 L720.3 419.2 L720.8 424.0 L721.2 425.2 L721.7 423.6 L722.1 424.2 L722.6 426.6 L723.0 430.0 L723.5 434.3 L723.9 432.5 L724.4 432.9 L724.8 433.1 L725.3 438.0 L725.7 439.8 L726.2 436.8 L726.6 436.2 L727.1 438.3 L727.5 439.7 L728.0 441.9 L728.4 441.9 L728.9 438.0 L729.3 440.3 L729.8 440.1 L730.2 443.4 L730.7 439.5 L731.1 438.2 L731.6 443.6 L732.0 442.6 L732.5 443.3 L732.9 444.5 L733.4 443.0 L733.8 445.9 L734.3 443.2 L734.7 443.5 L735.2 448.2 L735.6 446.5 L736.1 450.4 L736.5 448.7 L737.0 446.6 L737.4 447.3 L737.9 446.4 L738.3 449.2 L738.8 450.8 L739.2 449.7 L739.7 450.4 L740.1 447.7 L740.6 453.4 L741.0 452.0 L741.5 453.3 L741.9 448.5 L742.4 451.2 L742.8 450.4 L743.3 456.6 L743.7 453.0 L744.2 459.6 L744.6 455.9 L745.1 454.2 L745.5 459.3 L746.0 461.2 L746.4 457.4 L746.9 457.2 L747.3 459.2 L747.8 457.4 L748.2 458.6 L748.7 456.9 L749.1 461.5 L749.6 460.8 L750.0 465.1 L750.5 466.3 L750.9 468.9 L751.4 468.1 L751.8 467.8 L752.3 471.9 L752.7 468.3 L753.2 465.8 L753.6 468.0 L754.1 470.5 L754.5 473.1 L755.0 474.4 L755.4 470.4 L755.9 475.2 L756.3 474.0 L756.8 474.8 L757.2 471.6 L757.7 473.6 L758.1 469.9 L758.6 475.0 L759.0 474.4 L759.5 477.0 L759.9 478.3 L760.4 474.5 L760.8 478.7 L761.3 479.4 L761.7 477.0 L762.2 481.9 L762.6 476.8 L763.1 475.9 L763.5 479.3 L764.0 483.2 L764.4 481.1 L764.9 476.8 L765.3 479.6 L765.8 483.4 L766.2 479.6 L766.7 481.0 L767.1 479.4 L767.6 485.6 L768.0 485.2 L768.5 479.3 L768.9 478.5 L769.4 483.4 L769.8 483.3 L770.3 482.6 L770.7 483.0 L771.2 482.3 L771.6 484.9 L772.1 485.0 L772.5 486.1 L773.0 485.5 L773.4 482.8 L773.9 483.4 L774.3 484.0 L774.8 485.0 L775.2 483.8 L775.7 483.8 L776.1 485.2 L776.6 485.1 L777.0 486.1 L777.5 489.7 L777.9 489.5 L778.4 486.3 L778.8 487.7 L779.3 487.3 L779.7 486.6 L780.2 489.6 L780.6 485.1 L781.1 489.6 L781.5 488.8 L782.0 487.3 L782.4 490.8 L782.9 491.8 L783.3 490.6 L783.8 491.1 L784.2 488.6 L784.7 491.3 L785.1 493.4 L785.6 488.6 L786.0 495.1 L786.5 487.7 L786.9 493.0 L787.4 490.4 L787.8 492.2 L788.3 491.9 L788.7 492.2 L789.2 494.3 L789.6 492.0 L790.1 493.1 L790.5 495.1 L791.0 492.9 L791.4 489.4 L791.9 492.6 L792.3 492.8 L792.8 492.4 L793.2 495.5 L793.7 494.7 L794.1 493.2 L794.6 493.8 L795.0 492.3 L795.5 494.1 L795.9 498.7 L796.4 492.1 L796.8 498.9 L797.3 495.3 L797.7 494.9 L798.2 494.2 L798.6 492.8 L799.1 496.2 L799.5 494.3 L800.0 493.5 L800.4 494.5 L800.9 497.4 L801.3 493.6 L801.8 494.2 L802.2 497.0 L802.7 492.7 L803.1 496.3 L803.6 499.4 L804.0 494.9 L804.5 491.9 L804.9 496.7 L805.4 494.3 L805.8 497.2 L806.3 495.5 L806.7 494.8 L807.2 492.3 L807.6 495.8 L808.1 494.1 L808.5 493.8 L809.0 493.4 L809.4 493.1 L809.9 492.3 L810.3 491.4 L810.8 488.2 L811.2 489.8 L811.7 489.9 L812.1 492.2 L812.6 491.6 L813.0 487.0 L813.5 487.1 L813.9 486.0 L814.4 486.7 L814.8 485.5 L815.3 484.9 L815.7 481.1 L816.2 480.5 L816.6 484.5 L817.1 477.0 L817.5 481.9 L818.0 480.3 L818.4 480.8 L818.9 480.0 L819.3 481.3 L819.8 484.8 L820.2 485.1 L820.7 487.5 L821.1 489.2 L821.6 492.2 L822.0 492.7 L822.5 493.5 L822.9 496.0 L823.4 495.9 L823.8 493.7 L824.3 496.3 L824.7 499.2 L825.2 497.7 L825.6 500.0 L826.1 494.4 L826.5 498.3 L827.0 494.3 L827.4 499.0 L827.9 496.8 L828.3 497.7 L828.8 498.7 L829.2 496.4 L829.7 496.5 L830.1 497.0 L830.6 498.9 L831.0 500.0 L831.5 496.3 L831.9 496.1 L832.4 498.0 L832.8 496.0 L833.3 495.9 L833.7 499.5 L834.2 498.0 L834.6 501.9 L835.1 497.8 L835.5 502.3 L836.0 502.1 L836.4 499.6 L836.9 500.8 L837.3 496.0 L837.8 501.3 L838.2 501.1 L838.7 499.8 L839.1 503.7 L839.6 497.3 L840.0 502.7 L840.5 501.7 L840.9 502.0 L841.4 499.0 L841.8 502.7 L842.3 500.6 L842.7 501.7 L843.2 502.9 L843.6 499.7 L844.1 496.2 L844.5 501.5 L845.0 501.2 L845.4 500.2 L845.9 499.5 L846.3 499.0 L846.8 500.8 L847.2 501.6 L847.7 499.8 L848.1 502.8 L848.6 500.2 L849.0 501.8 L849.5 500.4 L849.9 500.7 L850.4 502.4 L850.8 501.9 L851.3 502.8 L851.7 502.8 L852.2 501.0 L852.6 502.4 L853.1 502.1 L853.5 502.1 L854.0 502.8 L854.4 501.8 L854.9 502.0 L855.3 502.7 L855.8 500.3 L856.2 503.5 L856.7 503.8 L857.1 498.7 L857.6 503.5 L858.0 501.0 L858.5 500.9 L858.9 503.4 L859.4 500.7 L859.8 502.7 L860.3 501.2 L860.7 500.3 L861.2 505.6 L861.6 501.3 L862.1 500.8 L862.5 502.4 L863.0 506.3 L863.4 500.7 L863.9 505.5 L864.3 502.5 L864.8 504.2 L865.2 503.7 L865.7 505.6 L866.1 502.5 L866.6 506.9 L867.0 502.9 L867.5 501.1 L867.9 503.7 L868.4 504.6 L868.8 504.3 L869.3 504.6 L869.7 502.5 L870.2 505.3 L870.6 504.2 L871.1 501.2 L871.5 502.1 L872.0 501.6 L872.4 502.4 L872.9 503.4 L873.3 502.3 L873.8 502.9 L874.2 504.6 L874.7 504.9 L875.1 506.1 L875.6 498.5 L876.0 502.9 L876.5 502.9 L876.9 503.2 L877.4 502.7 L877.8 502.8 L878.3 505.6 L878.7 506.6 L879.2 502.7 L879.6 505.9 L880.1 501.1 L880.5 505.7 L881.0 507.7 L881.4 506.5 L881.9 503.6 L882.3 503.5 L882.8 504.5 L883.2 507.1 L883.7 505.6 L884.1 505.3 L884.6 505.8 L885.0 503.2 L885.5 501.4 L885.9 504.1 L886.4 504.4 L886.8 505.7 L887.3 505.4 L887.7 510.7 L888.2 504.7 L888.6 504.5 L889.1 507.8 L889.5 505.5 L890.0 508.5 L890.4 508.4 L890.9 506.6 L891.3 506.4 L891.8 502.6 L892.2 507.4 L892.7 505.6 L893.1 506.5 L893.6 507.2 L894.0 506.0 L894.5 504.5 L894.9 505.5 L895.4 505.0 L895.8 508.4 L896.3 507.2 L896.7 507.6 L897.2 507.0 L897.6 507.8 L898.1 506.3 L898.5 508.5 L899.0 506.6 L899.4 509.0 L899.9 508.2 L900.3 509.4 L900.8 510.5 L901.2 509.6 L901.7 509.2 L902.1 510.4 L902.6 508.2 L903.0 509.0 L903.5 509.8 L903.9 506.8 L904.4 507.9 L904.8 512.3 L905.3 509.3 L905.7 509.1 L906.2 509.7 L906.6 508.4 L907.1 507.9 L907.5 508.1 L908.0 510.2 L908.4 511.1 L908.9 507.5 L909.3 508.1 L909.8 509.0 L910.2 506.4 L910.7 508.3 L911.1 509.9 L911.6 510.1 L912.0 512.2 L912.5 507.9 L912.9 508.5 L913.4 510.0 L913.8 509.1 L914.3 510.5 L914.7 508.8 L915.2 506.2 L915.6 507.7 L916.1 506.4 L916.5 509.5 L917.0 511.4 L917.4 510.4 L917.9 508.9 L918.3 506.6 L918.8 509.8 L919.2 508.8 L919.7 509.0 L920.1 510.0 L920.6 513.8 L921.0 509.3 L921.5 508.8 L921.9 507.7 L922.4 511.4 L922.8 508.4 L923.3 506.9 L923.7 509.0 L924.2 510.2 L924.6 507.7 L925.1 509.6 L925.5 507.0 L926.0 511.6 L926.4 507.8 L926.9 509.7 L927.3 508.4 L927.8 509.1 L928.2 510.6 L928.7 509.3 L929.1 510.1 L929.6 512.2 L930.0 514.4 L930.5 511.7 L930.9 510.4 L931.4 510.6 L931.8 508.2 L932.3 508.4 L932.7 508.3 L933.2 510.7 L933.6 509.8 L934.1 509.4 L934.5 513.7 L935.0 510.0 L935.4 511.4 L935.9 511.0 L936.3 510.4 L936.8 511.2 L937.2 508.1 L937.7 510.7 L938.1 512.2 L938.6 513.2 L939.0 510.1 L939.5 512.6 L939.9 511.5 L940.4 509.5 L940.8 507.5 L941.3 510.4 L941.7 508.8 L942.2 511.7 L942.6 510.5 L943.1 507.6 L943.5 509.4 L944.0 510.9 L944.4 512.5 L944.9 506.8 L945.3 511.9 L945.8 509.3 L946.2 511.3 L946.7 510.6 L947.1 513.6 L947.6 512.9 L948.0 515.2 L948.5 514.5 L948.9 511.4 L949.4 509.0 L949.8 511.9 L950.3 511.3 L950.7 512.2 L951.2 510.7 L951.6 510.7 L952.1 512.9 L952.5 512.0 L953.0 510.5 L953.4 512.2 L953.9 510.2 L954.3 511.7 L954.8 513.2 L955.2 511.0 L955.7 509.7 L956.1 512.1 L956.6 511.3 L957.0 514.6 L957.5 511.7 L957.9 510.8 L958.4 509.9 L958.8 508.2 L959.3 510.4 L959.7 511.8 L960.2 510.2 L960.6 512.4 L961.1 513.1 L961.5 512.7 L962.0 510.6 L962.4 510.4 L962.9 512.9 L963.3 510.6 L963.8 510.6 L964.2 510.7 L964.7 513.7 L965.1 508.7 L965.6 513.4 L966.0 513.2 L966.5 514.3 L966.9 512.7 L967.4 515.5 L967.8 513.3 L968.3 510.7 L968.7 509.9 L969.2 512.0 L969.6 512.6 L970.1 512.2 L970.5 513.2 L971.0 513.3 L971.4 507.6 L971.9 511.4 L972.3 511.4 L972.8 512.4 L973.2 510.4 L973.7 513.6 L974.1 512.1 L974.6 514.3 L975.0 511.6 L975.5 512.6 L975.9 511.0 L976.4 511.8 L976.8 512.9 L977.3 512.7 L977.7 514.1 L978.2 514.4 L978.6 513.7 L979.1 513.7 L979.5 511.9 L980.0 512.9 L980.4 513.1 L980.9 512.3 L981.3 514.5 L981.8 514.1 L982.2 511.9 L982.7 512.4 L983.1 512.9 L983.6 513.2 L984.0 515.3 L984.5 512.7 L984.9 512.2 L985.4 513.7 L985.8 514.2 L986.3 515.1 L986.7 511.9 L987.2 513.0 L987.6 513.8 L988.1 513.8 L988.5 511.3 L989.0 514.3 L989.4 516.0 L989.9 514.8 L990.3 513.8 L990.8 512.5 L991.2 512.7 L991.7 514.2 L992.1 513.2 L992.6 513.2 L993.0 511.9 L993.5 515.1 L993.9 515.7 L994.4 514.4 L994.8 515.4 L995.3 514.8 L995.7 517.1 L996.2 514.6 L996.6 514.7 L997.1 512.9 L997.5 514.6 L998.0 514.0 L998.4 513.8 L998.9 516.7 L999.3 515.5 L999.8 515.8 L1000.2 514.6 L1000.7 512.7 L1001.1 514.0 L1001.6 515.5 L1002.0 512.6 L1002.5 513.6 L1002.9 513.8 L1003.4 515.3 L1003.8 513.9 L1004.3 515.0 L1004.7 515.0 L1005.2 513.7 L1005.6 514.6 L1006.1 512.5 L1006.5 513.8 L1007.0 515.5 L1007.4 515.4 L1007.9 515.4 L1008.3 514.9 L1008.8 516.0 L1009.2 515.6 L1009.7 514.5 L1010.1 511.8 L1010.6 518.6 L1011.0 517.3 L1011.5 512.3 L1011.9 515.6 L1012.4 512.7 L1012.8 514.7 L1013.3 511.3 L1013.7 512.4 L1014.2 511.5 L1014.6 513.2 L1015.1 513.4 L1015.5 512.0 L1016.0 508.3 L1016.4 511.8 L1016.9 510.0 L1017.3 514.1 L1017.8 510.9 L1018.2 508.3 L1018.7 511.4 L1019.1 509.6 L1019.6 512.3 L1020.0 509.5 L1020.5 512.0 L1020.9 508.7 L1021.4 512.9 L1021.8 510.8 L1022.3 511.8 L1022.7 510.1 L1023.2 513.5 L1023.6 509.7 L1024.1 510.9 L1024.5 509.5 L1025.0 511.5 L1025.4 507.1 L1025.9 506.7 L1026.3 509.9 L1026.8 507.8 L1027.2 507.3 L1027.7 509.6 L1028.1 508.8 L1028.6 504.8 L1029.0 508.9 L1029.5 507.9 L1029.9 507.0 L1030.4 509.9 L1030.8 509.6 L1031.3 510.9 L1031.7 507.7 L1032.2 506.9 L1032.6 512.5 L1033.1 509.6 L1033.5 509.2 L1034.0 506.5 L1034.4 507.1 L1034.9 509.1 L1035.3 502.8 L1035.8 505.6 L1036.2 508.2 L1036.7 504.6 L1037.1 508.9 L1037.6 507.3 L1038.0 504.8 L1038.5 507.5 L1038.9 507.4 L1039.4 507.0 L1039.8 507.9 L1040.3 504.0 L1040.7 505.4 L1041.2 506.9 L1041.6 506.3 L1042.1 506.0 L1042.5 510.3 L1043.0 504.7 L1043.4 504.3 L1043.9 506.3 L1044.3 504.8 L1044.8 506.7 L1045.2 504.8 L1045.7 508.1 L1046.1 503.9 L1046.6 504.6 L1047.0 506.4 L1047.5 505.0 L1047.9 506.4 L1048.4 506.0 L1048.8 506.1 L1049.3 502.4 L1049.7 506.0 L1050.2 504.4 L1050.6 504.8 L1051.1 502.6 L1051.5 504.8 L1052.0 505.2 L1052.4 504.3 L1052.9 504.4 L1053.3 503.6 L1053.8 502.9 L1054.2 504.0 L1054.7 502.7 L1055.1 502.8 L1055.6 503.8 L1056.0 504.7 L1056.5 506.0 L1056.9 504.9 L1057.4 503.1 L1057.8 501.5 L1058.3 503.4 L1058.7 501.0 L1059.2 500.9 L1059.6 499.2 L1060.1 504.6 L1060.5 504.2 L1061.0 500.1 L1061.4 502.1 L1061.9 502.3 L1062.3 504.3 L1062.8 503.9 L1063.2 499.7 L1063.7 501.8 L1064.1 498.3 L1064.6 500.9 L1065.0 501.1 L1065.5 500.5 L1065.9 498.9 L1066.4 500.3 L1066.8 504.7 L1067.3 499.7 L1067.7 500.8 L1068.2 502.4 L1068.6 502.1 L1069.1 499.8 L1069.5 503.0 L1070.0 502.9 L1070.4 500.6 L1070.9 500.7 L1071.3 499.8 L1071.8 500.9 L1072.2 500.3 L1072.7 501.7 L1073.1 496.3 L1073.6 500.9 L1074.0 498.6 L1074.5 501.2 L1074.9 500.3 L1075.4 497.4 L1075.8 497.2 L1076.3 496.0 L1076.7 494.5 L1077.2 495.6 L1077.6 497.1 L1078.1 494.8 L1078.5 492.5 L1079.0 494.7 L1079.4 492.5 L1079.9 494.6 L1080.3 495.7 L1080.8 496.3 L1081.2 496.8 L1081.7 493.1 L1082.1 490.0 L1082.6 495.0 L1083.0 494.8 L1083.5 496.8 L1083.9 496.9 L1084.4 495.2 L1084.8 496.0 L1085.3 497.7 L1085.7 495.0 L1086.2 492.3 L1086.6 497.2 L1087.1 497.0 L1087.5 495.9 L1088.0 499.4 L1088.4 497.0 L1088.9 496.0 L1089.3 498.0 L1089.8 501.0 L1090.2 495.9 L1090.7 499.7 L1091.1 496.0 L1091.6 499.8 L1092.0 497.8 L1092.5 498.1 L1092.9 500.3 L1093.4 503.9 L1093.8 496.3 L1094.3 499.3 L1094.7 498.4 L1095.2 502.3 L1095.6 500.5 L1096.1 498.9 L1096.5 502.1 L1097.0 501.9 L1097.4 500.5 L1097.9 502.2 L1098.3 501.4 L1098.8 502.4 L1099.2 498.8 L1099.7 501.9 L1100.1 502.4 L1100.6 499.3 L1101.0 507.2 L1101.5 503.8 L1101.9 501.7 L1102.4 500.5 L1102.8 501.3 L1103.3 502.0 L1103.7 503.2 L1104.2 500.3 L1104.6 500.9 L1105.1 505.4 L1105.5 500.9 L1106.0 506.9 L1106.4 503.2 L1106.9 500.9 L1107.3 501.8 L1107.8 506.3 L1108.2 503.6 L1108.7 501.2 L1109.1 505.2 L1109.6 503.7 L1110.0 501.5 L1110.5 500.5 L1110.9 499.6 L1111.4 502.3 L1111.8 503.0 L1112.3 504.6 L1112.7 504.6 L1113.2 503.6 L1113.6 499.2 L1114.1 500.7 L1114.5 502.7 L1115.0 501.3 L1115.4 502.0 L1115.9 501.0 L1116.3 501.8 L1116.8 503.6 L1117.2 502.7 L1117.7 499.3 L1118.1 501.0 L1118.6 499.8 L1119.0 499.0 L1119.5 503.7 L1119.9 502.0 L1120.4 506.5 L1120.8 503.6 L1121.3 503.5 L1121.7 501.9 L1122.2 501.7 L1122.6 504.5 L1123.1 502.5 L1123.5 506.3 L1124.0 505.4 L1124.4 505.6 L1124.9 504.4 L1125.3 502.7 L1125.8 506.6 L1126.2 503.7 L1126.7 504.9 L1127.1 506.4 L1127.6 504.6 L1128.0 504.6 L1128.5 503.2 L1128.9 507.6 L1129.4 508.8 L1129.8 504.5 L1130.3 508.1 L1130.7 509.6 L1131.2 509.4 L1131.6 508.3 L1132.1 505.5 L1132.5 504.3 L1133.0 505.7 L1133.4 507.8 L1133.9 509.4 L1134.3 509.2 L1134.8 506.8 L1135.2 507.7 L1135.7 506.3 L1136.1 503.9 L1136.6 505.8 L1137.0 508.7 L1137.5 508.2 L1137.9 507.0 L1138.4 506.9 L1138.8 510.8 L1139.3 507.8 L1139.7 506.6 L1140.2 504.9 L1140.6 506.3 L1141.1 508.2 L1141.5 506.9 L1142.0 508.8 L1142.4 507.4 L1142.9 512.9 L1143.3 507.9 L1143.8 510.3 L1144.2 507.8 L1144.7 509.6 L1145.1 510.8 L1145.6 509.8 L1146.0 506.8 L1146.5 512.1 L1146.9 510.9 L1147.4 508.4 L1147.8 509.3 L1148.3 511.2 L1148.7 509.0 L1149.2 511.6 L1149.6 508.8 L1150.1 511.3 L1150.5 512.8 L1151.0 511.1 L1151.4 512.4 L1151.9 513.2 L1152.3 515.2 L1152.8 515.1 L1153.2 513.7 L1153.7 514.0 L1154.1 513.0 L1154.6 513.0 L1155.0 512.9 L1155.5 512.6 L1155.9 514.8 L1156.4 512.9 L1156.8 511.8 L1157.3 511.7 L1157.7 512.8 L1158.2 513.6 L1158.6 511.9 L1159.1 511.1 L1159.5 513.0 L1160.0 514.3 L1160.4 511.3 L1160.9 512.4 L1161.3 510.2 L1161.8 517.2 L1162.2 512.0 L1162.7 512.0 L1163.1 514.5 L1163.6 513.7 L1164.0 515.6 L1164.5 513.3 L1164.9 514.8 L1165.4 515.0 L1165.8 515.5 L1166.3 517.5 L1166.7 514.5 L1167.2 513.2 L1167.6 515.1 L1168.1 513.2 L1168.5 515.6 L1169.0 514.5 L1169.4 514.2 L1169.9 511.6 L1170.3 511.6 L1170.8 513.0 L1171.2 513.8 L1171.7 510.7 L1172.1 513.2 L1172.6 514.3 L1173.0 513.0 L1173.5 515.4 L1173.9 514.4 L1174.4 516.5 L1174.8 513.1 L1175.3 515.0 L1175.7 510.2 L1176.2 513.3 L1176.6 516.2 L1177.1 514.3 L1177.5 514.3 L1178.0 513.4 L1178.4 518.0 L1178.9 517.5 L1179.3 515.6 L1179.8 516.3 L1180.2 515.8 L1180.7 513.7 L1181.1 516.4 L1181.6 515.0 L1182.0 514.6 L1182.5 517.3 L1182.9 515.5 L1183.4 513.7 L1183.8 515.9 L1184.3 514.8 L1184.7 515.2 L1185.2 514.3 L1185.6 514.8 L1186.1 514.6 L1186.5 512.7 L1187.0 517.3 L1187.4 514.6 L1187.9 510.6 L1188.3 516.0 L1188.8 512.5 L1189.2 515.6 L1189.7 517.6 L1190.1 515.0 L1190.6 515.5 L1191.0 517.6 L1191.5 516.9 L1191.9 516.9 L1192.4 515.9 L1192.8 516.3 L1193.3 513.4 L1193.7 515.7 L1194.2 516.1 L1194.6 517.3 L1195.1 517.2 L1195.5 514.4 L1196.0 515.2 L1196.4 513.0 L1196.9 516.1 L1197.3 518.5 L1197.8 516.3 L1198.2 514.8 L1198.7 515.9 L1199.1 515.3 L1199.6 513.6 L1200.0 513.9 L1200.5 514.9 L1200.9 516.3 L1201.4 514.2 L1201.8 514.0 L1202.3 513.0 L1202.7 515.1 L1203.2 513.7 L1203.6 518.2 L1204.1 515.7 L1204.5 511.1 L1205.0 518.0 L1205.4 516.5 L1205.9 516.1 L1206.3 516.5 L1206.8 515.4 L1207.2 515.0 L1207.7 515.2 L1208.1 516.1 L1208.6 516.9 L1209.0 519.2 L1209.5 516.9 L1209.9 517.6 L1210.4 517.9 L1210.8 515.3 L1211.3 515.0 L1211.7 515.3 L1212.2 518.9 L1212.6 514.5 L1213.1 517.4 L1213.5 515.3 L1214.0 520.4 L1214.4 514.5 L1214.9 514.6 L1215.3 515.7 L1215.8 514.8 L1216.2 517.7 L1216.7 518.1 L1217.1 518.3 L1217.6 520.2 L1218.0 515.8 L1218.5 517.6 L1218.9 516.9 L1219.4 516.5 L1219.8 518.3 L1220.3 521.0 L1220.7 516.4 L1221.2 520.9 L1221.6 517.9 L1222.1 516.5 L1222.5 515.2 L1223.0 517.9 L1223.4 516.5 L1223.9 515.8 L1224.3 514.8 L1224.8 515.2 L1225.2 514.7 L1225.7 515.4 L1226.1 512.4 L1226.6 515.7 L1227.0 516.9 L1227.5 516.9 L1227.9 513.9 L1228.4 516.4 L1228.8 516.9 L1229.3 518.5 L1229.7 518.4 L1230.2 518.9 L1230.6 517.3 L1231.1 518.8 L1231.5 517.7 L1232.0 517.5 L1232.4 515.7 L1232.9 518.5 L1233.3 517.6 L1233.8 515.5 L1234.2 519.6 L1234.7 516.8 L1235.1 517.8 L1235.6 517.5 L1236.0 516.5 L1236.5 516.9 L1236.9 517.8 L1237.4 515.2 L1237.8 514.4 L1238.3 517.9 L1238.7 517.2 L1239.2 515.5 L1239.6 518.3 L1240.1 515.2 L1240.5 517.4 L1241.0 518.0 L1241.4 517.8 L1241.9 518.7 L1242.3 517.5 L1242.8 516.0 L1243.2 517.6 L1243.7 519.5 L1244.1 518.7 L1244.6 518.6 L1245.0 518.2 L1245.5 520.3 L1245.9 517.9 L1246.4 519.0 L1246.8 519.0 L1247.3 517.2 L1247.7 519.7 L1248.2 519.2 L1248.6 519.4 L1249.1 516.4 L1249.5 520.1 L1250.0 517.7 L1250.4 518.2 L1250.9 518.7 L1251.3 519.4 L1251.8 517.1 L1252.2 518.3 L1252.7 517.8 L1253.1 517.6 L1253.6 517.6 L1254.0 516.1 L1254.5 517.5 L1254.9 519.3 L1255.4 516.1 L1255.8 515.2 L1256.3 519.7 L1256.7 515.6 L1257.2 517.2 L1257.6 516.8 L1258.1 518.1 L1258.5 517.2 L1259.0 518.4 L1259.4 517.0 L1259.9 516.0 L1260.3 521.1 L1260.8 517.6 L1261.2 518.1 L1261.7 515.5 L1262.1 516.2 L1262.6 516.4 L1263.0 518.5 L1263.5 515.9 L1263.9 517.8 L1264.4 516.7 L1264.8 516.2 L1265.3 518.4 L1265.7 517.9 L1266.2 516.1 L1266.6 518.8 L1267.1 516.2 L1267.5 519.0 L1268.0 518.4 L1268.4 522.0 L1268.9 519.6 L1269.3 522.2 L1269.8 520.1 L1270.2 518.8 L1270.7 520.5 L1271.1 517.3 L1271.6 517.8 L1272.0 519.4 L1272.5 521.8 L1272.9 520.9 L1273.4 517.6 L1273.8 516.6 L1274.3 519.9 L1274.7 517.1 L1275.2 517.5 L1275.6 518.0 L1276.1 517.3 L1276.5 517.3 L1277.0 518.0 L1277.4 519.5 L1277.9 517.0 L1278.3 517.9 L1278.8 518.4 L1279.2 518.5 L1279.7 517.7 L1280.1 516.8 L1280.6 517.9 L1281.0 516.1 L1281.5 518.2 L1281.9 520.3 L1282.4 519.4 L1282.8 514.4 L1283.3 519.5 L1283.7 519.6 L1284.2 518.3 L1284.6 519.8 L1285.1 519.7 L1285.5 518.5 L1286.0 518.3 L1286.4 516.9 L1286.9 520.0 L1287.3 515.3 L1287.8 519.0 L1288.2 517.9 L1288.7 518.5 L1289.1 517.8 L1289.6 518.4 L1290.0 517.2 L1290.5 517.2 L1290.9 521.0 L1291.4 518.2 L1291.8 520.7 L1292.3 520.0 L1292.7 519.2 L1293.2 519.4 L1293.6 519.0 L1294.1 520.5 L1294.5 519.0 L1295.0 518.7 L1295.4 520.4 L1295.9 519.5 L1296.3 520.5 L1296.8 519.0 L1297.2 520.0 L1297.7 521.6 L1298.1 521.8 L1298.6 519.0 L1299.0 520.4 L1299.5 519.0 L1299.9 521.5 L1300.4 518.9 L1300.8 517.5 L1301.3 518.1 L1301.7 517.8 L1302.2 522.6 L1302.6 518.1 L1303.1 519.8 L1303.5 517.6 L1304.0 519.1 L1304.4 520.3 L1304.9 519.9 L1305.3 520.5 L1305.8 520.0 L1306.2 518.5 L1306.7 519.6 L1307.1 519.1 L1307.6 518.3 L1308.0 522.0 L1308.5 517.7 L1308.9 517.3 L1309.4 518.4 L1309.8 520.7 L1310.3 518.7 L1310.7 519.6 L1311.2 518.3 L1311.6 521.1 L1312.1 519.9 L1312.5 519.6 L1313.0 521.6 L1313.4 518.5 L1313.9 521.8 L1314.3 521.0 L1314.8 518.2 L1315.2 519.8 L1315.7 520.7 L1316.1 518.6 L1316.6 518.9 L1317.0 522.0 L1317.5 523.8 L1317.9 522.2 L1318.4 520.6 L1318.8 519.8 L1319.3 518.1 L1319.7 520.5 L1320.2 518.6 L1320.6 519.3 L1321.1 519.4 L1321.5 520.4 L1322.0 520.0 L1322.4 516.2 L1322.9 518.5 L1323.3 520.9 L1323.8 521.4 L1324.2 520.8 L1324.7 521.2 L1325.1 518.4 L1325.6 519.8 L1326.0 520.1 L1326.5 521.2 L1326.9 520.0 L1327.4 519.1 L1327.8 521.2 L1328.3 519.9 L1328.7 520.8 L1329.2 517.7 L1329.6 520.2 L1330.1 520.9 L1330.5 522.2 L1331.0 520.4 L1331.4 518.1 L1331.9 518.6 L1332.3 522.0 L1332.8 521.8 L1333.2 520.1 L1333.7 519.2 L1334.1 521.9 L1334.6 519.6 L1335.0 520.2 L1335.5 518.1 L1335.9 516.5 L1336.4 520.3 L1336.8 522.5 L1337.3 519.5 L1337.7 518.1 L1338.2 521.6 L1338.6 518.3 L1339.1 516.7 L1339.5 518.8 L1340.0 519.9 L1340.4 518.2 L1340.9 519.3 L1341.3 519.3 L1341.8 519.3 L1342.2 521.3 L1342.7 519.4 L1343.1 519.9 L1343.6 521.0 L1344.0 518.8 L1344.5 520.6 L1344.9 518.7 L1345.4 519.7 L1345.8 519.6 L1346.3 521.2 L1346.7 521.1 L1347.2 518.9 L1347.6 518.4 L1348.1 518.2 L1348.5 518.3 L1349.0 518.7 L1349.4 519.5 L1349.9 518.3 L1350.3 522.1 L1350.8 521.4 L1351.2 522.7 L1351.7 520.6 L1352.1 521.0 L1352.6 520.0 L1353.0 522.0 L1353.5 521.3 L1353.9 520.5 L1354.4 521.2 L1354.8 523.3 L1355.3 523.0 L1355.7 520.8 L1356.2 518.1 L1356.6 516.9 L1357.1 520.8 L1357.5 520.9 L1358.0 521.0 L1358.4 521.6 L1358.9 521.8 L1359.3 520.0 L1359.8 520.2 L1360.2 523.2 L1360.7 524.0 L1361.1 521.1 L1361.6 521.0 L1362.0 521.9 L1362.5 521.1 L1362.9 520.7 L1363.4 520.7 L1363.8 522.8 L1364.3 519.9 L1364.7 521.8 L1365.2 519.6 L1365.6 522.1 L1366.1 521.8 L1366.5 521.3 L1367.0 522.0 L1367.4 519.1 L1367.9 520.4 L1368.3 520.8 L1368.8 521.5 L1369.2 521.3 L1369.7 520.3 L1370.1 521.4 L1370.6 521.8 L1371.0 524.8 L1371.5 521.6 L1371.9 521.8 L1372.4 521.8 L1372.8 520.9 L1373.3 520.8 L1373.7 522.4 L1374.2 521.0 L1374.6 520.7 L1375.1 521.3 L1375.5 523.6 L1376.0 519.8 L1376.4 520.9 L1376.9 521.8 L1377.3 522.2 L1377.8 523.6 L1378.2 523.9 L1378.7 520.2 L1379.1 521.9 L1379.6 523.2 L1380.0 521.9 L1380.5 518.9 L1380.9 519.0 L1381.4 519.7 L1381.8 520.6 L1382.3 517.9 L1382.7 520.4 L1383.2 518.3 L1383.6 520.0 L1384.1 520.2 L1384.5 519.9 L1385.0 520.8 L1385.4 519.6 L1385.9 520.1 L1386.3 521.8 L1386.8 519.5 L1387.2 519.7 L1387.7 518.8 L1388.1 523.3 L1388.6 520.2 L1389.0 522.6 L1389.5 521.6 L1389.9 522.1 L1390.4 520.9 L1390.8 521.2 L1391.3 522.6 L1391.7 521.3 L1392.2 519.6 L1392.6 520.6 L1393.1 518.8 L1393.5 521.3 L1394.0 521.7 L1394.4 520.7 L1394.9 522.4 L1395.3 522.3 L1395.8 519.9 L1396.2 521.5 L1396.7 519.6 L1397.1 520.1 L1397.6 519.4 L1398.0 519.8 L1398.5 518.0 L1398.9 519.5 L1399.4 518.0 L1399.8 521.9 L1400.3 519.2 L1400.7 519.8 L1401.2 517.9 L1401.6 519.2 L1402.1 520.9 L1402.5 517.4 L1403.0 520.8 L1403.4 519.7 L1403.9 523.3 L1404.3 521.4 L1404.8 521.7 L1405.2 520.9 L1405.7 522.0 L1406.1 519.0 L1406.6 522.9 L1407.0 521.7 L1407.5 518.5 L1407.9 521.2 L1408.4 520.7 L1408.8 522.7 L1409.3 520.3 L1409.7 520.7 L1410.2 521.2 L1410.6 520.3 L1411.1 522.9 L1411.5 521.2 L1412.0 519.7 L1412.4 520.9 L1412.9 520.3 L1413.3 523.0 L1413.8 519.2 L1414.2 518.3 L1414.7 523.7 L1415.1 520.8 L1415.6 522.4" fill="none" stroke="#ff0080" stroke-width="2.6" stroke-linejoin="round"/>
<path d="M106.5 618.0 L107.0 615.4 L107.4 617.2 L107.9 616.6 L108.3 618.1 L108.8 618.0 L109.2 614.2 L109.7 615.0 L110.1 617.2 L110.6 617.9 L111.0 616.1 L111.5 617.4 L111.9 617.2 L112.4 616.5 L112.8 616.5 L113.3 617.8 L113.7 619.0 L114.2 616.6 L114.6 618.3 L115.1 617.8 L115.5 616.8 L116.0 616.7 L116.4 616.1 L116.9 617.6 L117.3 618.1 L117.8 616.9 L118.2 614.7 L118.7 617.3 L119.1 617.0 L119.6 616.6 L120.0 618.7 L120.5 616.1 L120.9 616.9 L121.4 617.7 L121.8 619.6 L122.3 616.2 L122.7 618.1 L123.2 615.4 L123.6 617.1 L124.1 617.7 L124.5 616.4 L125.0 619.0 L125.4 618.6 L125.9 617.3 L126.3 618.6 L126.8 617.5 L127.2 618.2 L127.7 618.4 L128.1 620.7 L128.6 617.7 L129.0 619.7 L129.5 620.5 L129.9 619.1 L130.4 619.8 L130.8 621.7 L131.3 617.3 L131.7 617.2 L132.2 619.5 L132.6 618.7 L133.1 620.7 L133.5 617.8 L134.0 618.7 L134.4 619.4 L134.9 615.5 L135.3 620.3 L135.8 618.4 L136.2 616.9 L136.7 617.2 L137.1 617.2 L137.6 619.7 L138.0 616.6 L138.5 619.5 L138.9 616.9 L139.4 618.3 L139.8 617.1 L140.3 617.6 L140.7 618.9 L141.2 617.4 L141.6 616.6 L142.1 618.7 L142.5 620.0 L143.0 616.9 L143.4 616.8 L143.9 616.3 L144.3 615.2 L144.8 616.0 L145.2 617.6 L145.7 616.3 L146.1 617.6 L146.6 617.5 L147.0 618.2 L147.5 619.4 L147.9 617.4 L148.4 615.7 L148.8 617.9 L149.3 618.5 L149.7 620.2 L150.2 618.0 L150.6 617.1 L151.1 616.8 L151.5 619.0 L152.0 618.0 L152.4 619.7 L152.9 620.3 L153.3 618.5 L153.8 619.3 L154.2 618.6 L154.7 619.3 L155.1 616.6 L155.6 617.2 L156.0 620.5 L156.5 616.1 L156.9 616.7 L157.4 618.8 L157.8 616.7 L158.3 617.4 L158.7 616.7 L159.2 620.0 L159.6 617.8 L160.1 620.2 L160.5 618.4 L161.0 615.9 L161.4 618.3 L161.9 615.7 L162.3 619.5 L162.8 615.2 L163.2 619.7 L163.7 619.0 L164.1 620.2 L164.6 618.8 L165.0 618.5 L165.5 617.5 L165.9 617.0 L166.4 616.8 L166.8 617.2 L167.3 617.2 L167.7 620.6 L168.2 617.9 L168.6 616.0 L169.1 619.0 L169.5 617.2 L170.0 616.1 L170.4 617.2 L170.9 616.1 L171.3 617.8 L171.8 616.7 L172.2 618.6 L172.7 615.6 L173.1 617.7 L173.6 615.8 L174.0 620.2 L174.5 616.2 L174.9 620.6 L175.4 617.6 L175.8 619.4 L176.3 616.8 L176.7 617.4 L177.2 619.7 L177.6 615.8 L178.1 618.3 L178.5 615.1 L179.0 620.2 L179.4 618.7 L179.9 614.6 L180.3 616.6 L180.8 618.5 L181.2 620.1 L181.7 616.8 L182.1 614.2 L182.6 618.4 L183.0 615.4 L183.5 616.4 L183.9 615.7 L184.4 614.3 L184.8 613.1 L185.3 618.5 L185.7 616.6 L186.2 616.5 L186.6 615.8 L187.1 617.2 L187.5 615.3 L188.0 615.3 L188.4 615.1 L188.9 615.1 L189.3 617.6 L189.8 615.1 L190.2 620.0 L190.7 617.3 L191.1 616.9 L191.6 617.4 L192.0 620.0 L192.5 614.7 L192.9 618.1 L193.4 620.6 L193.8 619.7 L194.3 618.6 L194.7 617.6 L195.2 621.3 L195.6 617.4 L196.1 620.6 L196.5 616.5 L197.0 615.6 L197.4 617.7 L197.9 617.1 L198.3 614.3 L198.8 617.6 L199.2 621.1 L199.7 617.4 L200.1 618.2 L200.6 617.5 L201.0 617.4 L201.5 617.7 L201.9 617.4 L202.4 617.1 L202.8 617.5 L203.3 617.4 L203.7 616.9 L204.2 614.4 L204.6 615.2 L205.1 614.6 L205.5 615.8 L206.0 618.2 L206.4 616.3 L206.9 615.3 L207.3 618.7 L207.8 617.1 L208.2 615.0 L208.7 616.7 L209.1 617.6 L209.6 617.6 L210.0 615.4 L210.5 616.7 L210.9 615.5 L211.4 614.5 L211.8 617.1 L212.3 613.5 L212.7 616.0 L213.2 617.7 L213.6 617.1 L214.1 616.1 L214.5 616.8 L215.0 616.5 L215.4 618.2 L215.9 617.2 L216.3 617.6 L216.8 615.6 L217.2 616.5 L217.7 616.0 L218.1 618.3 L218.6 618.0 L219.0 616.9 L219.5 617.9 L219.9 616.7 L220.4 616.2 L220.8 617.2 L221.3 616.6 L221.7 619.3 L222.2 613.9 L222.6 617.0 L223.1 614.0 L223.5 616.3 L224.0 613.5 L224.4 612.3 L224.9 616.9 L225.3 614.2 L225.8 616.7 L226.2 613.1 L226.7 612.8 L227.1 615.6 L227.6 612.7 L228.0 613.5 L228.5 612.0 L228.9 612.8 L229.4 609.9 L229.8 612.5 L230.3 612.9 L230.7 614.5 L231.2 614.7 L231.6 613.3 L232.1 613.7 L232.5 613.7 L233.0 617.1 L233.4 613.0 L233.9 615.4 L234.3 614.3 L234.8 612.2 L235.2 614.9 L235.7 615.7 L236.1 614.2 L236.6 611.8 L237.0 614.2 L237.5 614.0 L237.9 612.2 L238.4 614.1 L238.8 610.2 L239.3 610.8 L239.7 612.2 L240.2 612.8 L240.6 614.2 L241.1 614.4 L241.5 611.9 L242.0 614.7 L242.4 615.6 L242.9 614.5 L243.3 613.1 L243.8 612.9 L244.2 612.0 L244.7 610.3 L245.1 612.1 L245.6 611.0 L246.0 613.5 L246.5 613.4 L246.9 613.7 L247.4 613.6 L247.8 613.8 L248.3 612.1 L248.7 612.2 L249.2 613.2 L249.6 614.6 L250.1 609.3 L250.5 610.0 L251.0 610.9 L251.4 609.4 L251.9 609.8 L252.3 610.4 L252.8 608.8 L253.2 611.2 L253.7 610.9 L254.1 611.0 L254.6 610.6 L255.0 611.1 L255.5 605.3 L255.9 611.3 L256.4 608.5 L256.8 613.3 L257.3 608.6 L257.7 610.1 L258.2 607.0 L258.6 607.2 L259.1 609.2 L259.5 609.3 L260.0 611.0 L260.4 609.9 L260.9 610.5 L261.3 611.7 L261.8 606.2 L262.2 611.0 L262.7 607.4 L263.1 609.2 L263.6 608.5 L264.0 610.0 L264.5 609.9 L264.9 609.3 L265.4 607.5 L265.8 605.0 L266.3 607.9 L266.7 607.5 L267.2 607.5 L267.6 608.1 L268.1 610.2 L268.5 608.7 L269.0 607.5 L269.4 605.9 L269.9 604.7 L270.3 609.3 L270.8 608.1 L271.2 607.1 L271.7 604.7 L272.1 606.8 L272.6 608.5 L273.0 608.3 L273.5 606.9 L273.9 608.0 L274.4 607.3 L274.8 607.1 L275.3 610.0 L275.7 608.8 L276.2 608.1 L276.6 606.7 L277.1 609.6 L277.5 605.0 L278.0 607.5 L278.4 605.0 L278.9 603.1 L279.3 605.6 L279.8 602.7 L280.2 605.4 L280.7 603.3 L281.1 605.4 L281.6 604.4 L282.0 602.5 L282.5 604.3 L282.9 603.6 L283.4 607.4 L283.8 607.3 L284.3 606.2 L284.7 606.4 L285.2 609.0 L285.6 605.4 L286.1 605.2 L286.5 607.5 L287.0 605.8 L287.4 603.1 L287.9 607.3 L288.3 604.8 L288.8 606.9 L289.2 607.0 L289.7 603.7 L290.1 604.3 L290.6 605.2 L291.0 602.0 L291.5 602.4 L291.9 604.2 L292.4 603.9 L292.8 602.2 L293.3 603.5 L293.7 604.2 L294.2 602.2 L294.6 601.9 L295.1 602.9 L295.5 601.1 L296.0 601.4 L296.4 602.1 L296.9 599.3 L297.3 601.6 L297.8 603.0 L298.2 600.8 L298.7 604.6 L299.1 603.2 L299.6 605.0 L300.0 602.6 L300.5 603.8 L300.9 602.5 L301.4 600.7 L301.8 603.6 L302.3 601.1 L302.7 603.2 L303.2 600.3 L303.6 601.9 L304.1 601.2 L304.5 603.7 L305.0 600.8 L305.4 603.1 L305.9 601.8 L306.3 603.3 L306.8 599.7 L307.2 601.8 L307.7 601.5 L308.1 600.9 L308.6 600.0 L309.0 601.9 L309.5 596.9 L309.9 600.6 L310.4 598.3 L310.8 600.2 L311.3 600.8 L311.7 599.9 L312.2 598.7 L312.6 597.4 L313.1 596.4 L313.5 597.6 L314.0 599.5 L314.4 595.8 L314.9 602.9 L315.3 598.0 L315.8 596.5 L316.2 599.6 L316.7 599.5 L317.1 598.1 L317.6 595.9 L318.0 597.2 L318.5 599.1 L318.9 598.3 L319.4 593.1 L319.8 598.1 L320.3 599.7 L320.7 595.1 L321.2 592.7 L321.6 594.6 L322.1 596.0 L322.5 595.3 L323.0 595.2 L323.4 589.7 L323.9 594.0 L324.3 593.9 L324.8 595.1 L325.2 597.4 L325.7 593.9 L326.1 597.5 L326.6 598.0 L327.0 597.3 L327.5 594.4 L327.9 597.8 L328.4 594.3 L328.8 594.5 L329.3 591.8 L329.7 592.6 L330.2 592.4 L330.6 596.5 L331.1 594.3 L331.5 594.1 L332.0 592.7 L332.4 592.5 L332.9 591.4 L333.3 592.6 L333.8 595.9 L334.2 592.9 L334.7 597.3 L335.1 594.6 L335.6 592.9 L336.0 596.1 L336.5 593.5 L336.9 595.5 L337.4 592.5 L337.8 596.1 L338.3 594.0 L338.7 593.5 L339.2 594.7 L339.6 591.8 L340.1 588.6 L340.5 590.9 L341.0 594.2 L341.4 595.4 L341.9 589.7 L342.3 593.2 L342.8 593.3 L343.2 589.4 L343.7 588.5 L344.1 595.1 L344.6 592.2 L345.0 590.4 L345.5 591.8 L345.9 587.1 L346.4 590.7 L346.8 589.4 L347.3 588.6 L347.7 591.0 L348.2 588.5 L348.6 588.2 L349.1 586.9 L349.5 585.9 L350.0 586.9 L350.4 589.8 L350.9 582.7 L351.3 584.3 L351.8 585.1 L352.2 587.5 L352.7 584.8 L353.1 587.4 L353.6 581.9 L354.0 584.1 L354.5 587.8 L354.9 581.6 L355.4 587.1 L355.8 589.3 L356.3 588.1 L356.7 588.2 L357.2 584.9 L357.6 585.4 L358.1 588.6 L358.5 587.1 L359.0 589.8 L359.4 586.9 L359.9 586.1 L360.3 585.6 L360.8 588.4 L361.2 587.2 L361.7 583.9 L362.1 585.9 L362.6 582.7 L363.0 586.3 L363.5 583.7 L363.9 587.1 L364.4 587.0 L364.8 585.4 L365.3 580.1 L365.7 582.0 L366.2 583.6 L366.6 583.2 L367.1 583.1 L367.5 584.2 L368.0 580.2 L368.4 578.6 L368.9 577.9 L369.3 582.8 L369.8 581.9 L370.2 578.4 L370.7 578.7 L371.1 581.0 L371.6 576.8 L372.0 578.5 L372.5 578.1 L372.9 576.3 L373.4 577.0 L373.8 577.1 L374.3 573.2 L374.7 569.7 L375.2 572.7 L375.6 569.1 L376.1 568.1 L376.5 573.1 L377.0 568.7 L377.4 569.4 L377.9 570.4 L378.3 567.4 L378.8 570.5 L379.2 573.0 L379.7 566.1 L380.1 567.5 L380.6 561.0 L381.0 564.5 L381.5 570.2 L381.9 565.5 L382.4 564.1 L382.8 565.8 L383.3 563.4 L383.7 567.2 L384.2 562.8 L384.6 561.0 L385.1 561.2 L385.5 554.9 L386.0 561.8 L386.4 561.4 L386.9 554.8 L387.3 552.1 L387.8 556.7 L388.2 558.1 L388.7 560.8 L389.1 554.2 L389.6 553.8 L390.0 555.2 L390.5 558.1 L390.9 551.9 L391.4 552.8 L391.8 551.4 L392.3 555.2 L392.7 556.2 L393.2 557.2 L393.6 555.5 L394.1 553.0 L394.5 548.5 L395.0 550.6 L395.4 551.9 L395.9 550.0 L396.3 544.9 L396.8 545.7 L397.2 544.6 L397.7 547.8 L398.1 545.3 L398.6 543.0 L399.0 545.6 L399.5 544.4 L399.9 541.2 L400.4 545.6 L400.8 542.6 L401.3 541.7 L401.7 539.1 L402.2 541.7 L402.6 542.3 L403.1 534.3 L403.5 538.0 L404.0 538.5 L404.4 540.2 L404.9 534.7 L405.3 543.1 L405.8 536.2 L406.2 533.9 L406.7 535.4 L407.1 537.7 L407.6 534.8 L408.0 532.4 L408.5 534.6 L408.9 534.4 L409.4 533.5 L409.8 530.0 L410.3 533.3 L410.7 543.4 L411.2 531.0 L411.6 531.7 L412.1 524.7 L412.5 530.1 L413.0 530.5 L413.4 527.6 L413.9 527.7 L414.3 524.4 L414.8 528.9 L415.2 525.7 L415.7 521.2 L416.1 522.7 L416.6 523.6 L417.0 522.4 L417.5 528.3 L417.9 519.6 L418.4 519.3 L418.8 515.5 L419.3 518.9 L419.7 513.6 L420.2 516.7 L420.6 512.2 L421.1 510.6 L421.5 509.6 L422.0 517.1 L422.4 506.3 L422.9 511.9 L423.3 507.9 L423.8 502.8 L424.2 504.9 L424.7 502.7 L425.1 505.5 L425.6 507.4 L426.0 509.6 L426.5 501.1 L426.9 500.6 L427.4 499.8 L427.8 501.5 L428.3 498.5 L428.7 506.1 L429.2 499.6 L429.6 498.6 L430.1 489.1 L430.5 498.8 L431.0 494.5 L431.4 505.0 L431.9 499.0 L432.3 495.5 L432.8 498.2 L433.2 502.5 L433.7 497.3 L434.1 498.4 L434.6 489.6 L435.0 492.8 L435.5 491.1 L435.9 496.2 L436.4 489.8 L436.8 488.8 L437.3 492.8 L437.7 493.6 L438.2 496.0 L438.6 499.4 L439.1 498.4 L439.5 494.8 L440.0 495.1 L440.4 488.4 L440.9 498.4 L441.3 491.8 L441.8 493.2 L442.2 494.3 L442.7 491.2 L443.1 493.6 L443.6 497.5 L444.0 498.8 L444.5 500.5 L444.9 497.1 L445.4 492.4 L445.8 495.4 L446.3 490.3 L446.7 485.5 L447.2 494.9 L447.6 491.4 L448.1 491.1 L448.5 488.9 L449.0 498.4 L449.4 492.3 L449.9 496.2 L450.3 492.2 L450.8 492.6 L451.2 492.4 L451.7 496.6 L452.1 485.4 L452.6 490.6 L453.0 489.3 L453.5 492.8 L453.9 489.4 L454.4 491.3 L454.8 489.1 L455.3 488.1 L455.7 492.4 L456.2 494.3 L456.6 491.9 L457.1 486.3 L457.5 488.2 L458.0 493.4 L458.4 489.6 L458.9 493.7 L459.3 491.3 L459.8 496.2 L460.2 488.1 L460.7 492.3 L461.1 494.5 L461.6 493.5 L462.0 487.5 L462.5 489.0 L462.9 490.2 L463.4 487.7 L463.8 489.8 L464.3 489.5 L464.7 489.8 L465.2 489.7 L465.6 488.3 L466.1 493.5 L466.5 494.3 L467.0 490.6 L467.4 495.5 L467.9 495.4 L468.3 490.3 L468.8 497.5 L469.2 496.8 L469.7 495.0 L470.1 491.1 L470.6 493.6 L471.0 490.9 L471.5 495.3 L471.9 492.1 L472.4 489.5 L472.8 489.7 L473.3 491.9 L473.7 491.0 L474.2 496.0 L474.6 497.2 L475.1 495.5 L475.5 494.0 L476.0 494.6 L476.4 493.9 L476.9 493.0 L477.3 497.5 L477.8 494.2 L478.2 498.1 L478.7 493.2 L479.1 492.7 L479.6 498.0 L480.0 506.3 L480.5 497.7 L480.9 495.2 L481.4 502.9 L481.8 498.6 L482.3 497.6 L482.7 495.2 L483.2 501.7 L483.6 498.1 L484.1 497.1 L484.5 499.2 L485.0 504.0 L485.4 503.4 L485.9 497.5 L486.3 495.0 L486.8 506.8 L487.2 502.3 L487.7 508.9 L488.1 503.9 L488.6 504.6 L489.0 503.1 L489.5 503.6 L489.9 504.6 L490.4 504.3 L490.8 509.6 L491.3 504.3 L491.7 504.2 L492.2 509.6 L492.6 503.4 L493.1 505.9 L493.5 507.5 L494.0 503.0 L494.4 509.6 L494.9 508.3 L495.3 511.7 L495.8 510.2 L496.2 505.8 L496.7 505.6 L497.1 507.9 L497.6 509.9 L498.0 510.5 L498.5 510.6 L498.9 513.5 L499.4 508.3 L499.8 510.6 L500.3 517.4 L500.7 512.9 L501.2 513.4 L501.6 516.1 L502.1 510.2 L502.5 515.6 L503.0 514.5 L503.4 512.8 L503.9 516.0 L504.3 520.0 L504.8 516.6 L505.2 515.5 L505.7 521.0 L506.1 518.2 L506.6 522.7 L507.0 521.1 L507.5 518.1 L507.9 516.3 L508.4 517.8 L508.8 522.7 L509.3 516.3 L509.7 528.0 L510.2 514.1 L510.6 523.7 L511.1 526.3 L511.5 521.2 L512.0 518.0 L512.4 523.5 L512.9 524.4 L513.3 528.8 L513.8 526.7 L514.2 528.0 L514.7 527.3 L515.1 532.5 L515.6 527.2 L516.0 528.5 L516.5 530.2 L516.9 538.2 L517.4 521.3 L517.8 524.5 L518.3 529.6 L518.7 529.3 L519.2 532.3 L519.6 535.3 L520.1 535.6 L520.5 533.5 L521.0 532.7 L521.4 534.7 L521.9 533.6 L522.3 541.9 L522.8 540.3 L523.2 536.9 L523.7 539.8 L524.1 536.9 L524.6 538.7 L525.0 539.8 L525.5 536.6 L525.9 540.5 L526.4 539.2 L526.8 542.9 L527.3 539.0 L527.7 540.7 L528.2 544.2 L528.6 547.2 L529.1 544.7 L529.5 544.3 L530.0 539.5 L530.4 542.0 L530.9 544.1 L531.3 543.5 L531.8 543.9 L532.2 546.8 L532.7 547.4 L533.1 542.0 L533.6 541.1 L534.0 538.8 L534.5 543.4 L534.9 544.8 L535.4 546.6 L535.8 541.2 L536.3 542.1 L536.7 541.3 L537.2 549.9 L537.6 548.7 L538.1 543.2 L538.5 545.4 L539.0 542.9 L539.4 544.1 L539.9 551.4 L540.3 544.8 L540.8 545.1 L541.2 545.8 L541.7 542.3 L542.1 541.9 L542.6 540.9 L543.0 549.6 L543.5 545.0 L543.9 545.7 L544.4 550.1 L544.8 544.8 L545.3 546.7 L545.7 545.8 L546.2 549.0 L546.6 547.1 L547.1 543.0 L547.5 550.3 L548.0 550.9 L548.4 548.0 L548.9 546.2 L549.3 546.5 L549.8 543.5 L550.2 545.6 L550.7 549.4 L551.1 547.2 L551.6 542.5 L552.0 542.4 L552.5 545.3 L552.9 549.5 L553.4 547.2 L553.8 545.8 L554.3 548.2 L554.7 543.7 L555.2 546.7 L555.6 544.8 L556.1 542.6 L556.5 547.2 L557.0 542.1 L557.4 545.4 L557.9 548.3 L558.3 541.8 L558.8 548.7 L559.2 548.8 L559.7 546.9 L560.1 543.8 L560.6 543.5 L561.0 543.3 L561.5 543.9 L561.9 541.1 L562.4 544.4 L562.8 547.6 L563.3 539.6 L563.7 547.9 L564.2 540.3 L564.6 540.8 L565.1 541.8 L565.5 542.7 L566.0 543.1 L566.4 546.8 L566.9 543.4 L567.3 544.9 L567.8 539.7 L568.2 541.9 L568.7 535.2 L569.1 536.4 L569.6 546.1 L570.0 538.8 L570.5 540.6 L570.9 541.0 L571.4 540.4 L571.8 534.4 L572.3 538.7 L572.7 544.6 L573.2 541.0 L573.6 536.7 L574.1 537.8 L574.5 536.1 L575.0 537.8 L575.4 537.3 L575.9 536.6 L576.3 534.1 L576.8 530.7 L577.2 536.6 L577.7 535.3 L578.1 535.7 L578.6 536.9 L579.0 532.4 L579.5 536.0 L579.9 531.5 L580.4 534.3 L580.8 532.8 L581.3 528.0 L581.7 532.7 L582.2 530.7 L582.6 529.0 L583.1 527.8 L583.5 527.6 L584.0 524.6 L584.4 522.5 L584.9 525.3 L585.3 527.2 L585.8 523.5 L586.2 525.4 L586.7 517.9 L587.1 526.6 L587.6 521.6 L588.0 519.3 L588.5 519.4 L588.9 519.6 L589.4 517.9 L589.8 518.0 L590.3 512.1 L590.7 517.0 L591.2 513.8 L591.6 510.0 L592.1 515.0 L592.5 511.5 L593.0 515.4 L593.4 507.5 L593.9 512.7 L594.3 509.3 L594.8 504.1 L595.2 508.6 L595.7 506.7 L596.1 507.4 L596.6 501.8 L597.0 495.3 L597.5 501.1 L597.9 502.3 L598.4 504.4 L598.8 504.7 L599.3 504.3 L599.7 501.4 L600.2 499.3 L600.6 496.4 L601.1 498.6 L601.5 494.5 L602.0 495.8 L602.4 492.7 L602.9 495.2 L603.3 490.4 L603.8 488.3 L604.2 487.5 L604.7 490.1 L605.1 485.4 L605.6 490.3 L606.0 481.8 L606.5 485.3 L606.9 482.4 L607.4 478.7 L607.8 481.7 L608.3 482.8 L608.7 482.7 L609.2 478.8 L609.6 475.3 L610.1 475.7 L610.5 475.4 L611.0 482.9 L611.4 471.2 L611.9 474.1 L612.3 481.3 L612.8 468.5 L613.2 477.1 L613.7 475.3 L614.1 472.0 L614.6 469.8 L615.0 460.7 L615.5 465.5 L615.9 464.1 L616.4 468.5 L616.8 467.5 L617.3 458.3 L617.7 453.0 L618.2 458.4 L618.6 467.8 L619.1 460.4 L619.5 459.4 L620.0 461.1 L620.4 456.6 L620.9 457.9 L621.3 452.5 L621.8 451.4 L622.2 455.0 L622.7 452.4 L623.1 452.8 L623.6 448.8 L624.0 450.5 L624.5 446.7 L624.9 444.6 L625.4 445.6 L625.8 440.1 L626.3 433.4 L626.7 432.8 L627.2 433.5 L627.6 436.9 L628.1 429.0 L628.5 428.6 L629.0 433.3 L629.4 432.9 L629.9 420.2 L630.3 420.0 L630.8 422.7 L631.2 422.6 L631.7 418.8 L632.1 413.9 L632.6 427.5 L633.0 419.0 L633.5 422.2 L633.9 418.3 L634.4 416.1 L634.8 405.1 L635.3 412.0 L635.7 409.8 L636.2 408.1 L636.6 402.7 L637.1 399.1 L637.5 402.8 L638.0 403.8 L638.4 403.8 L638.9 398.9 L639.3 389.3 L639.8 393.7 L640.2 391.8 L640.7 389.6 L641.1 386.1 L641.6 392.6 L642.0 385.7 L642.5 387.8 L642.9 388.5 L643.4 381.4 L643.8 382.2 L644.3 379.3 L644.7 385.8 L645.2 376.3 L645.6 371.5 L646.1 381.0 L646.5 364.9 L647.0 380.5 L647.4 375.0 L647.9 373.4 L648.3 372.2 L648.8 369.4 L649.2 369.6 L649.7 355.2 L650.1 363.4 L650.6 358.3 L651.0 353.6 L651.5 355.4 L651.9 358.0 L652.4 359.4 L652.8 353.5 L653.3 351.7 L653.7 361.4 L654.2 356.8 L654.6 349.0 L655.1 348.2 L655.5 351.8 L656.0 354.4 L656.4 347.4 L656.9 348.7 L657.3 352.9 L657.8 341.1 L658.2 348.1 L658.7 345.9 L659.1 341.7 L659.6 346.8 L660.0 349.0 L660.5 343.3 L660.9 341.7 L661.4 349.8 L661.8 344.0 L662.3 338.7 L662.7 343.6 L663.2 345.2 L663.6 340.8 L664.1 332.9 L664.5 338.5 L665.0 335.9 L665.4 348.0 L665.9 337.2 L666.3 348.8 L666.8 340.7 L667.2 340.0 L667.7 338.3 L668.1 340.7 L668.6 326.4 L669.0 332.0 L669.5 336.3 L669.9 341.4 L670.4 337.8 L670.8 341.3 L671.3 344.8 L671.7 338.5 L672.2 344.0 L672.6 334.0 L673.1 331.9 L673.5 339.0 L674.0 339.3 L674.4 345.6 L674.9 341.9 L675.3 339.9 L675.8 347.5 L676.2 350.1 L676.7 347.3 L677.1 352.4 L677.6 347.5 L678.0 360.0 L678.5 350.3 L678.9 355.0 L679.4 353.8 L679.8 354.7 L680.3 353.0 L680.7 364.7 L681.2 359.6 L681.6 359.6 L682.1 369.4 L682.5 371.2 L683.0 365.9 L683.4 374.1 L683.9 378.4 L684.3 376.7 L684.8 372.6 L685.2 379.8 L685.7 379.0 L686.1 378.8 L686.6 386.6 L687.0 390.1 L687.5 379.6 L687.9 388.9 L688.4 388.6 L688.8 395.3 L689.3 392.8 L689.7 391.2 L690.2 404.2 L690.6 399.5 L691.1 407.5 L691.5 404.7 L692.0 402.1 L692.4 401.9 L692.9 403.6 L693.3 410.3 L693.8 414.0 L694.2 420.7 L694.7 412.7 L695.1 419.9 L695.6 424.6 L696.0 429.1 L696.5 429.6 L696.9 430.3 L697.4 432.6 L697.8 427.2 L698.3 434.6 L698.7 431.6 L699.2 446.5 L699.6 444.2 L700.1 442.1 L700.5 443.6 L701.0 445.8 L701.4 451.2 L701.9 449.9 L702.3 452.6 L702.8 452.0 L703.2 459.3 L703.7 461.8 L704.1 457.9 L704.6 466.0 L705.0 465.3 L705.5 471.0 L705.9 473.5 L706.4 470.3 L706.8 476.0 L707.3 479.6 L707.7 473.6 L708.2 479.5 L708.6 477.6 L709.1 484.9 L709.5 478.9 L710.0 489.0 L710.4 486.5 L710.9 491.4 L711.3 497.6 L711.8 492.4 L712.2 490.9 L712.7 492.0 L713.1 499.5 L713.6 494.6 L714.0 495.6 L714.5 502.8 L714.9 507.3 L715.4 505.6 L715.8 511.9 L716.3 511.3 L716.7 511.3 L717.2 511.7 L717.6 512.9 L718.1 514.6 L718.5 517.9 L719.0 516.7 L719.4 513.3 L719.9 514.1 L720.3 517.6 L720.8 522.2 L721.2 518.9 L721.7 524.0 L722.1 526.7 L722.6 530.4 L723.0 525.4 L723.5 526.4 L723.9 526.4 L724.4 527.5 L724.8 530.8 L725.3 537.1 L725.7 524.8 L726.2 534.9 L726.6 536.6 L727.1 540.7 L727.5 541.5 L728.0 539.8 L728.4 535.2 L728.9 538.4 L729.3 540.4 L729.8 539.9 L730.2 544.6 L730.7 541.8 L731.1 540.6 L731.6 544.0 L732.0 546.9 L732.5 543.8 L732.9 543.2 L733.4 544.6 L733.8 547.6 L734.3 549.1 L734.7 547.4 L735.2 548.0 L735.6 552.8 L736.1 557.4 L736.5 559.2 L737.0 559.4 L737.4 552.5 L737.9 555.4 L738.3 555.5 L738.8 555.3 L739.2 556.0 L739.7 558.2 L740.1 560.3 L740.6 563.3 L741.0 564.2 L741.5 561.0 L741.9 561.9 L742.4 565.7 L742.8 565.9 L743.3 563.8 L743.7 565.9 L744.2 562.2 L744.6 568.0 L745.1 565.2 L745.5 569.4 L746.0 562.5 L746.4 569.9 L746.9 567.5 L747.3 569.5 L747.8 571.4 L748.2 570.0 L748.7 575.7 L749.1 574.6 L749.6 571.8 L750.0 577.1 L750.5 573.5 L750.9 574.5 L751.4 578.5 L751.8 579.3 L752.3 575.5 L752.7 577.6 L753.2 576.1 L753.6 579.0 L754.1 576.5 L754.5 580.0 L755.0 574.0 L755.4 578.8 L755.9 580.9 L756.3 578.9 L756.8 575.0 L757.2 579.3 L757.7 576.7 L758.1 578.3 L758.6 579.8 L759.0 583.8 L759.5 580.0 L759.9 578.3 L760.4 585.1 L760.8 581.3 L761.3 581.1 L761.7 582.6 L762.2 583.2 L762.6 587.1 L763.1 580.4 L763.5 583.6 L764.0 587.5 L764.4 586.6 L764.9 586.5 L765.3 583.1 L765.8 589.3 L766.2 586.7 L766.7 591.0 L767.1 583.7 L767.6 589.5 L768.0 590.2 L768.5 592.7 L768.9 589.7 L769.4 588.4 L769.8 590.3 L770.3 589.2 L770.7 590.3 L771.2 586.0 L771.6 590.1 L772.1 590.5 L772.5 590.8 L773.0 590.6 L773.4 594.4 L773.9 595.0 L774.3 593.5 L774.8 591.9 L775.2 594.9 L775.7 592.7 L776.1 592.1 L776.6 592.1 L777.0 593.3 L777.5 596.8 L777.9 596.7 L778.4 596.8 L778.8 595.3 L779.3 593.7 L779.7 595.6 L780.2 595.1 L780.6 594.0 L781.1 597.4 L781.5 592.4 L782.0 592.8 L782.4 593.2 L782.9 594.5 L783.3 595.4 L783.8 597.2 L784.2 597.4 L784.7 595.0 L785.1 594.8 L785.6 596.1 L786.0 598.1 L786.5 597.0 L786.9 597.5 L787.4 598.1 L787.8 597.2 L788.3 596.7 L788.7 592.9 L789.2 595.9 L789.6 594.6 L790.1 595.7 L790.5 596.8 L791.0 598.9 L791.4 599.8 L791.9 596.6 L792.3 599.4 L792.8 599.9 L793.2 595.5 L793.7 600.0 L794.1 599.5 L794.6 596.5 L795.0 600.5 L795.5 601.8 L795.9 602.1 L796.4 600.0 L796.8 602.5 L797.3 603.2 L797.7 602.5 L798.2 598.7 L798.6 603.0 L799.1 600.2 L799.5 600.1 L800.0 603.4 L800.4 603.6 L800.9 603.6 L801.3 595.3 L801.8 603.1 L802.2 596.6 L802.7 601.6 L803.1 598.3 L803.6 601.3 L804.0 602.8 L804.5 602.9 L804.9 600.7 L805.4 596.6 L805.8 600.6 L806.3 600.8 L806.7 602.0 L807.2 603.8 L807.6 600.7 L808.1 603.5 L808.5 600.3 L809.0 600.6 L809.4 602.2 L809.9 602.6 L810.3 602.5 L810.8 599.2 L811.2 601.1 L811.7 597.3 L812.1 603.0 L812.6 599.8 L813.0 598.2 L813.5 596.0 L813.9 596.2 L814.4 597.5 L814.8 595.6 L815.3 597.2 L815.7 595.4 L816.2 596.4 L816.6 600.7 L817.1 598.0 L817.5 600.3 L818.0 600.5 L818.4 604.4 L818.9 602.4 L819.3 604.2 L819.8 605.3 L820.2 604.9 L820.7 606.6 L821.1 606.1 L821.6 606.0 L822.0 604.7 L822.5 605.4 L822.9 604.4 L823.4 604.8 L823.8 604.6 L824.3 609.3 L824.7 608.5 L825.2 605.3 L825.6 607.4 L826.1 609.3 L826.5 607.7 L827.0 611.2 L827.4 606.2 L827.9 608.7 L828.3 604.7 L828.8 610.7 L829.2 607.3 L829.7 608.8 L830.1 610.1 L830.6 608.1 L831.0 607.4 L831.5 607.0 L831.9 610.7 L832.4 611.0 L832.8 607.5 L833.3 610.9 L833.7 607.5 L834.2 604.7 L834.6 607.6 L835.1 607.4 L835.5 609.3 L836.0 609.4 L836.4 607.3 L836.9 607.2 L837.3 608.1 L837.8 604.0 L838.2 609.2 L838.7 609.7 L839.1 608.0 L839.6 605.3 L840.0 607.4 L840.5 606.2 L840.9 606.5 L841.4 610.4 L841.8 607.2 L842.3 606.4 L842.7 608.8 L843.2 605.4 L843.6 610.9 L844.1 608.8 L844.5 608.7 L845.0 609.0 L845.4 606.1 L845.9 609.7 L846.3 609.7 L846.8 609.1 L847.2 607.7 L847.7 609.1 L848.1 611.9 L848.6 608.5 L849.0 610.7 L849.5 611.7 L849.9 608.4 L850.4 609.9 L850.8 611.4 L851.3 613.2 L851.7 611.6 L852.2 610.1 L852.6 611.0 L853.1 608.0 L853.5 611.7 L854.0 610.6 L854.4 610.1 L854.9 610.5 L855.3 610.6 L855.8 608.5 L856.2 613.8 L856.7 608.4 L857.1 610.5 L857.6 610.5 L858.0 607.8 L858.5 610.3 L858.9 609.2 L859.4 608.7 L859.8 608.1 L860.3 611.2 L860.7 613.0 L861.2 612.8 L861.6 611.4 L862.1 612.3 L862.5 607.9 L863.0 612.2 L863.4 610.8 L863.9 612.8 L864.3 613.0 L864.8 612.0 L865.2 611.7 L865.7 611.8 L866.1 615.4 L866.6 612.0 L867.0 613.4 L867.5 614.5 L867.9 615.4 L868.4 611.0 L868.8 613.6 L869.3 611.6 L869.7 613.0 L870.2 614.8 L870.6 610.8 L871.1 614.0 L871.5 613.6 L872.0 615.3 L872.4 614.1 L872.9 614.5 L873.3 613.8 L873.8 616.3 L874.2 615.8 L874.7 615.2 L875.1 609.7 L875.6 616.1 L876.0 614.1 L876.5 616.3 L876.9 616.0 L877.4 616.5 L877.8 615.1 L878.3 616.1 L878.7 615.7 L879.2 613.7 L879.6 616.8 L880.1 615.0 L880.5 616.5 L881.0 618.0 L881.4 618.4 L881.9 617.1 L882.3 616.7 L882.8 616.1 L883.2 614.7 L883.7 616.6 L884.1 616.3 L884.6 614.8 L885.0 616.5 L885.5 613.9 L885.9 616.4 L886.4 614.9 L886.8 614.7 L887.3 614.8 L887.7 615.4 L888.2 614.7 L888.6 616.3 L889.1 616.4 L889.5 620.9 L890.0 613.5 L890.4 615.5 L890.9 617.3 L891.3 618.3 L891.8 616.0 L892.2 617.4 L892.7 615.4 L893.1 617.2 L893.6 615.1 L894.0 613.9 L894.5 616.2 L894.9 615.6 L895.4 616.0 L895.8 615.3 L896.3 613.8 L896.7 615.5 L897.2 615.3 L897.6 614.4 L898.1 615.0 L898.5 616.3 L899.0 616.5 L899.4 615.2 L899.9 615.0 L900.3 615.7 L900.8 615.6 L901.2 616.5 L901.7 619.5 L902.1 616.4 L902.6 614.0 L903.0 619.2 L903.5 616.8 L903.9 616.2 L904.4 617.6 L904.8 616.2 L905.3 619.6 L905.7 617.0 L906.2 617.2 L906.6 616.8 L907.1 618.2 L907.5 617.3 L908.0 617.2 L908.4 617.7 L908.9 616.7 L909.3 619.2 L909.8 620.0 L910.2 616.4 L910.7 617.2 L911.1 618.5 L911.6 615.8 L912.0 616.6 L912.5 618.6 L912.9 618.1 L913.4 618.6 L913.8 615.4 L914.3 620.3 L914.7 619.0 L915.2 618.9 L915.6 622.1 L916.1 620.9 L916.5 617.2 L917.0 622.4 L917.4 618.6 L917.9 619.1 L918.3 617.4 L918.8 621.4 L919.2 618.9 L919.7 619.6 L920.1 620.2 L920.6 618.7 L921.0 615.6 L921.5 621.1 L921.9 618.3 L922.4 616.8 L922.8 618.7 L923.3 619.1 L923.7 619.3 L924.2 620.1 L924.6 621.2 L925.1 623.7 L925.5 622.5 L926.0 621.6 L926.4 625.0 L926.9 621.9 L927.3 625.6 L927.8 622.2 L928.2 619.6 L928.7 624.3 L929.1 621.8 L929.6 621.5 L930.0 621.5 L930.5 621.6 L930.9 622.1 L931.4 620.7 L931.8 618.6 L932.3 620.9 L932.7 620.8 L933.2 619.4 L933.6 620.4 L934.1 620.7 L934.5 617.1 L935.0 616.8 L935.4 618.6 L935.9 621.2 L936.3 617.5 L936.8 621.6 L937.2 619.0 L937.7 620.6 L938.1 619.1 L938.6 619.0 L939.0 619.4 L939.5 618.7 L939.9 618.4 L940.4 618.9 L940.8 619.5 L941.3 619.6 L941.7 618.1 L942.2 619.6 L942.6 620.0 L943.1 621.5 L943.5 621.6 L944.0 621.0 L944.4 621.2 L944.9 619.1 L945.3 620.3 L945.8 622.3 L946.2 621.8 L946.7 623.6 L947.1 624.6 L947.6 624.3 L948.0 620.8 L948.5 620.9 L948.9 621.4 L949.4 624.0 L949.8 622.6 L950.3 621.7 L950.7 620.5 L951.2 622.2 L951.6 621.9 L952.1 624.3 L952.5 626.2 L953.0 620.5 L953.4 620.3 L953.9 624.0 L954.3 623.8 L954.8 622.0 L955.2 623.4 L955.7 623.4 L956.1 621.2 L956.6 623.9 L957.0 622.0 L957.5 623.1 L957.9 624.7 L958.4 621.2 L958.8 624.0 L959.3 623.8 L959.7 625.0 L960.2 621.4 L960.6 623.2 L961.1 620.4 L961.5 622.7 L962.0 624.8 L962.4 625.5 L962.9 623.7 L963.3 621.1 L963.8 620.2 L964.2 623.1 L964.7 621.6 L965.1 623.1 L965.6 622.5 L966.0 622.5 L966.5 624.9 L966.9 620.3 L967.4 622.2 L967.8 623.7 L968.3 624.8 L968.7 620.8 L969.2 620.5 L969.6 621.5 L970.1 619.6 L970.5 620.3 L971.0 624.3 L971.4 620.8 L971.9 620.0 L972.3 621.3 L972.8 622.2 L973.2 620.8 L973.7 622.0 L974.1 623.5 L974.6 623.3 L975.0 621.9 L975.5 624.2 L975.9 624.9 L976.4 623.3 L976.8 619.6 L977.3 624.0 L977.7 622.0 L978.2 623.9 L978.6 621.4 L979.1 621.2 L979.5 621.2 L980.0 621.3 L980.4 624.6 L980.9 621.1 L981.3 621.3 L981.8 622.2 L982.2 620.2 L982.7 621.1 L983.1 620.4 L983.6 623.3 L984.0 619.7 L984.5 621.7 L984.9 622.2 L985.4 623.8 L985.8 623.2 L986.3 622.4 L986.7 620.5 L987.2 625.6 L987.6 624.0 L988.1 622.6 L988.5 619.6 L989.0 621.0 L989.4 620.0 L989.9 619.9 L990.3 620.4 L990.8 619.3 L991.2 619.7 L991.7 621.0 L992.1 621.4 L992.6 618.9 L993.0 621.5 L993.5 624.4 L993.9 621.6 L994.4 621.0 L994.8 620.9 L995.3 625.0 L995.7 622.8 L996.2 622.7 L996.6 622.1 L997.1 621.2 L997.5 624.0 L998.0 620.5 L998.4 617.5 L998.9 621.5 L999.3 622.0 L999.8 620.9 L1000.2 621.4 L1000.7 621.1 L1001.1 621.0 L1001.6 623.6 L1002.0 622.7 L1002.5 621.3 L1002.9 620.6 L1003.4 619.6 L1003.8 618.5 L1004.3 618.2 L1004.7 618.3 L1005.2 619.8 L1005.6 619.8 L1006.1 621.3 L1006.5 620.6 L1007.0 617.3 L1007.4 617.8 L1007.9 619.5 L1008.3 624.5 L1008.8 620.1 L1009.2 621.6 L1009.7 621.2 L1010.1 620.0 L1010.6 621.9 L1011.0 617.6 L1011.5 619.1 L1011.9 618.2 L1012.4 621.1 L1012.8 623.7 L1013.3 619.5 L1013.7 618.2 L1014.2 618.1 L1014.6 619.5 L1015.1 619.0 L1015.5 619.6 L1016.0 617.8 L1016.4 617.5 L1016.9 620.2 L1017.3 620.3 L1017.8 619.3 L1018.2 616.7 L1018.7 620.1 L1019.1 623.2 L1019.6 616.6 L1020.0 619.5 L1020.5 617.9 L1020.9 618.8 L1021.4 618.5 L1021.8 619.0 L1022.3 616.9 L1022.7 618.1 L1023.2 616.7 L1023.6 618.1 L1024.1 617.7 L1024.5 616.4 L1025.0 617.4 L1025.4 616.7 L1025.9 618.1 L1026.3 618.0 L1026.8 618.1 L1027.2 614.1 L1027.7 617.5 L1028.1 616.8 L1028.6 617.0 L1029.0 619.6 L1029.5 619.4 L1029.9 618.5 L1030.4 620.9 L1030.8 620.7 L1031.3 619.3 L1031.7 620.4 L1032.2 621.7 L1032.6 617.0 L1033.1 616.5 L1033.5 616.7 L1034.0 617.4 L1034.4 617.6 L1034.9 619.5 L1035.3 616.0 L1035.8 619.3 L1036.2 618.8 L1036.7 618.6 L1037.1 616.3 L1037.6 614.8 L1038.0 618.2 L1038.5 616.8 L1038.9 615.6 L1039.4 617.5 L1039.8 616.5 L1040.3 614.6 L1040.7 616.6 L1041.2 615.9 L1041.6 615.3 L1042.1 616.2 L1042.5 614.2 L1043.0 615.6 L1043.4 614.6 L1043.9 616.8 L1044.3 615.8 L1044.8 615.2 L1045.2 617.1 L1045.7 614.6 L1046.1 614.2 L1046.6 617.2 L1047.0 613.6 L1047.5 617.4 L1047.9 616.4 L1048.4 613.9 L1048.8 613.0 L1049.3 617.4 L1049.7 613.7 L1050.2 612.7 L1050.6 612.2 L1051.1 611.3 L1051.5 616.4 L1052.0 613.7 L1052.4 612.8 L1052.9 611.7 L1053.3 611.9 L1053.8 614.2 L1054.2 609.0 L1054.7 611.6 L1055.1 611.4 L1055.6 610.4 L1056.0 614.4 L1056.5 612.0 L1056.9 615.0 L1057.4 614.8 L1057.8 611.0 L1058.3 614.5 L1058.7 613.0 L1059.2 612.0 L1059.6 614.4 L1060.1 612.5 L1060.5 612.2 L1061.0 609.3 L1061.4 613.2 L1061.9 611.0 L1062.3 613.4 L1062.8 610.7 L1063.2 612.6 L1063.7 611.0 L1064.1 611.8 L1064.6 607.0 L1065.0 610.6 L1065.5 610.1 L1065.9 610.1 L1066.4 608.5 L1066.8 607.2 L1067.3 611.6 L1067.7 610.4 L1068.2 610.6 L1068.6 612.0 L1069.1 609.0 L1069.5 612.3 L1070.0 610.9 L1070.4 610.0 L1070.9 609.5 L1071.3 612.3 L1071.8 609.9 L1072.2 610.3 L1072.7 607.3 L1073.1 609.8 L1073.6 607.3 L1074.0 608.1 L1074.5 610.1 L1074.9 609.1 L1075.4 606.5 L1075.8 608.0 L1076.3 609.0 L1076.7 611.2 L1077.2 609.4 L1077.6 612.4 L1078.1 610.8 L1078.5 609.0 L1079.0 613.7 L1079.4 610.7 L1079.9 610.2 L1080.3 609.9 L1080.8 611.1 L1081.2 610.5 L1081.7 611.8 L1082.1 612.9 L1082.6 611.9 L1083.0 610.6 L1083.5 613.7 L1083.9 611.7 L1084.4 612.9 L1084.8 608.5 L1085.3 614.4 L1085.7 611.5 L1086.2 614.2 L1086.6 610.9 L1087.1 612.7 L1087.5 615.5 L1088.0 615.4 L1088.4 614.1 L1088.9 614.9 L1089.3 610.2 L1089.8 612.7 L1090.2 613.6 L1090.7 610.4 L1091.1 612.9 L1091.6 614.2 L1092.0 615.3 L1092.5 613.4 L1092.9 615.9 L1093.4 618.2 L1093.8 613.6 L1094.3 615.1 L1094.7 615.2 L1095.2 616.6 L1095.6 611.0 L1096.1 615.4 L1096.5 614.1 L1097.0 613.1 L1097.4 613.4 L1097.9 614.9 L1098.3 616.4 L1098.8 614.6 L1099.2 613.1 L1099.7 615.1 L1100.1 617.6 L1100.6 613.6 L1101.0 616.1 L1101.5 616.8 L1101.9 614.4 L1102.4 613.2 L1102.8 612.8 L1103.3 616.4 L1103.7 615.3 L1104.2 614.1 L1104.6 614.7 L1105.1 613.3 L1105.5 614.2 L1106.0 617.4 L1106.4 615.9 L1106.9 616.0 L1107.3 616.5 L1107.8 614.6 L1108.2 616.1 L1108.7 613.8 L1109.1 611.8 L1109.6 615.7 L1110.0 615.0 L1110.5 614.7 L1110.9 613.2 L1111.4 614.9 L1111.8 614.9 L1112.3 613.7 L1112.7 613.7 L1113.2 612.8 L1113.6 613.7 L1114.1 615.9 L1114.5 612.9 L1115.0 615.8 L1115.4 612.3 L1115.9 613.3 L1116.3 619.4 L1116.8 612.1 L1117.2 616.0 L1117.7 613.0 L1118.1 614.9 L1118.6 615.3 L1119.0 615.9 L1119.5 614.2 L1119.9 613.4 L1120.4 618.6 L1120.8 615.7 L1121.3 615.8 L1121.7 613.5 L1122.2 613.1 L1122.6 616.0 L1123.1 617.6 L1123.5 614.2 L1124.0 613.4 L1124.4 616.8 L1124.9 614.4 L1125.3 616.2 L1125.8 613.8 L1126.2 615.6 L1126.7 614.5 L1127.1 615.3 L1127.6 614.8 L1128.0 616.7 L1128.5 616.0 L1128.9 617.2 L1129.4 616.1 L1129.8 619.0 L1130.3 616.3 L1130.7 617.1 L1131.2 619.5 L1131.6 618.3 L1132.1 617.1 L1132.5 617.6 L1133.0 617.4 L1133.4 620.6 L1133.9 619.0 L1134.3 619.0 L1134.8 616.6 L1135.2 620.5 L1135.7 620.5 L1136.1 621.0 L1136.6 617.2 L1137.0 620.9 L1137.5 618.0 L1137.9 619.6 L1138.4 619.2 L1138.8 620.4 L1139.3 616.9 L1139.7 619.2 L1140.2 620.3 L1140.6 622.1 L1141.1 618.7 L1141.5 619.7 L1142.0 621.1 L1142.4 618.3 L1142.9 618.4 L1143.3 618.8 L1143.8 621.0 L1144.2 618.5 L1144.7 619.5 L1145.1 618.7 L1145.6 619.8 L1146.0 622.5 L1146.5 621.1 L1146.9 621.1 L1147.4 619.8 L1147.8 619.7 L1148.3 622.4 L1148.7 623.1 L1149.2 620.3 L1149.6 621.2 L1150.1 621.2 L1150.5 621.6 L1151.0 623.5 L1151.4 620.7 L1151.9 624.2 L1152.3 625.0 L1152.8 620.7 L1153.2 623.0 L1153.7 622.6 L1154.1 621.4 L1154.6 625.9 L1155.0 625.3 L1155.5 622.3 L1155.9 622.4 L1156.4 623.4 L1156.8 625.0 L1157.3 624.8 L1157.7 623.5 L1158.2 621.5 L1158.6 620.7 L1159.1 623.0 L1159.5 624.0 L1160.0 624.5 L1160.4 625.5 L1160.9 623.3 L1161.3 623.3 L1161.8 625.4 L1162.2 623.6 L1162.7 625.2 L1163.1 620.6 L1163.6 626.1 L1164.0 624.8 L1164.5 625.0 L1164.9 625.9 L1165.4 624.8 L1165.8 622.5 L1166.3 624.1 L1166.7 627.2 L1167.2 624.6 L1167.6 624.8 L1168.1 624.1 L1168.5 624.6 L1169.0 624.0 L1169.4 623.4 L1169.9 625.0 L1170.3 624.1 L1170.8 623.4 L1171.2 626.7 L1171.7 624.7 L1172.1 625.4 L1172.6 627.1 L1173.0 627.1 L1173.5 623.7 L1173.9 625.0 L1174.4 624.2 L1174.8 623.2 L1175.3 624.6 L1175.7 623.4 L1176.2 623.2 L1176.6 624.4 L1177.1 624.9 L1177.5 625.5 L1178.0 624.5 L1178.4 626.2 L1178.9 624.3 L1179.3 624.5 L1179.8 626.3 L1180.2 624.2 L1180.7 626.4 L1181.1 627.0 L1181.6 625.5 L1182.0 625.6 L1182.5 626.9 L1182.9 627.8 L1183.4 626.6 L1183.8 626.9 L1184.3 625.4 L1184.7 627.9 L1185.2 628.6 L1185.6 628.6 L1186.1 627.1 L1186.5 627.8 L1187.0 629.0 L1187.4 627.8 L1187.9 626.8 L1188.3 626.6 L1188.8 627.2 L1189.2 627.0 L1189.7 626.3 L1190.1 628.1 L1190.6 626.9 L1191.0 628.1 L1191.5 626.7 L1191.9 629.2 L1192.4 627.8 L1192.8 627.0 L1193.3 626.9 L1193.7 630.4 L1194.2 628.7 L1194.6 629.4 L1195.1 627.4 L1195.5 627.7 L1196.0 627.4 L1196.4 628.4 L1196.9 627.6 L1197.3 628.2 L1197.8 626.3 L1198.2 630.8 L1198.7 626.2 L1199.1 634.0 L1199.6 628.3 L1200.0 629.8 L1200.5 628.0 L1200.9 629.6 L1201.4 628.7 L1201.8 626.6 L1202.3 626.9 L1202.7 626.5 L1203.2 629.3 L1203.6 627.7 L1204.1 627.8 L1204.5 627.9 L1205.0 627.4 L1205.4 627.3 L1205.9 626.1 L1206.3 625.6 L1206.8 627.6 L1207.2 627.3 L1207.7 626.9 L1208.1 627.8 L1208.6 627.6 L1209.0 627.6 L1209.5 628.8 L1209.9 624.1 L1210.4 627.5 L1210.8 623.7 L1211.3 628.0 L1211.7 627.8 L1212.2 626.6 L1212.6 626.7 L1213.1 627.8 L1213.5 626.4 L1214.0 626.9 L1214.4 628.4 L1214.9 624.2 L1215.3 628.0 L1215.8 628.3 L1216.2 628.9 L1216.7 628.5 L1217.1 625.6 L1217.6 629.5 L1218.0 626.2 L1218.5 624.0 L1218.9 627.7 L1219.4 627.3 L1219.8 627.6 L1220.3 627.9 L1220.7 629.1 L1221.2 628.2 L1221.6 624.9 L1222.1 627.5 L1222.5 627.5 L1223.0 626.8 L1223.4 627.1 L1223.9 626.9 L1224.3 628.2 L1224.8 626.1 L1225.2 624.1 L1225.7 627.3 L1226.1 626.3 L1226.6 627.1 L1227.0 628.6 L1227.5 626.1 L1227.9 627.9 L1228.4 626.3 L1228.8 626.6 L1229.3 627.1 L1229.7 626.9 L1230.2 628.8 L1230.6 626.7 L1231.1 628.0 L1231.5 627.9 L1232.0 627.6 L1232.4 629.1 L1232.9 629.5 L1233.3 628.8 L1233.8 629.6 L1234.2 627.9 L1234.7 629.5 L1235.1 629.1 L1235.6 628.0 L1236.0 629.6 L1236.5 626.7 L1236.9 626.6 L1237.4 626.3 L1237.8 628.5 L1238.3 626.3 L1238.7 629.3 L1239.2 626.5 L1239.6 627.8 L1240.1 628.4 L1240.5 629.3 L1241.0 627.6 L1241.4 629.6 L1241.9 629.9 L1242.3 628.7 L1242.8 626.3 L1243.2 630.1 L1243.7 628.1 L1244.1 627.6 L1244.6 628.7 L1245.0 625.6 L1245.5 629.6 L1245.9 626.7 L1246.4 628.8 L1246.8 628.2 L1247.3 626.9 L1247.7 628.4 L1248.2 628.3 L1248.6 627.5 L1249.1 627.8 L1249.5 628.0 L1250.0 626.8 L1250.4 626.4 L1250.9 627.6 L1251.3 625.5 L1251.8 626.4 L1252.2 628.8 L1252.7 628.9 L1253.1 627.9 L1253.6 629.1 L1254.0 628.1 L1254.5 627.5 L1254.9 629.4 L1255.4 628.7 L1255.8 628.9 L1256.3 628.8 L1256.7 632.2 L1257.2 630.0 L1257.6 630.5 L1258.1 629.0 L1258.5 629.9 L1259.0 628.2 L1259.4 628.6 L1259.9 628.8 L1260.3 629.0 L1260.8 631.3 L1261.2 628.0 L1261.7 630.3 L1262.1 629.5 L1262.6 629.3 L1263.0 632.0 L1263.5 629.0 L1263.9 627.0 L1264.4 630.9 L1264.8 630.3 L1265.3 627.2 L1265.7 630.2 L1266.2 628.0 L1266.6 629.2 L1267.1 631.1 L1267.5 628.0 L1268.0 629.0 L1268.4 631.0 L1268.9 629.1 L1269.3 628.5 L1269.8 630.2 L1270.2 630.3 L1270.7 630.2 L1271.1 631.9 L1271.6 626.4 L1272.0 626.3 L1272.5 627.7 L1272.9 626.2 L1273.4 627.2 L1273.8 626.6 L1274.3 629.3 L1274.7 629.9 L1275.2 627.7 L1275.6 631.7 L1276.1 631.0 L1276.5 627.7 L1277.0 628.3 L1277.4 628.4 L1277.9 629.5 L1278.3 629.4 L1278.8 628.6 L1279.2 628.7 L1279.7 628.6 L1280.1 629.1 L1280.6 627.3 L1281.0 628.2 L1281.5 626.9 L1281.9 628.2 L1282.4 627.9 L1282.8 628.5 L1283.3 626.0 L1283.7 626.7 L1284.2 631.1 L1284.6 629.4 L1285.1 628.0 L1285.5 629.9 L1286.0 632.3 L1286.4 631.0 L1286.9 628.0 L1287.3 628.5 L1287.8 627.0 L1288.2 628.1 L1288.7 630.8 L1289.1 631.6 L1289.6 629.6 L1290.0 627.5 L1290.5 626.3 L1290.9 629.8 L1291.4 629.5 L1291.8 629.4 L1292.3 629.5 L1292.7 632.2 L1293.2 629.1 L1293.6 629.8 L1294.1 630.2 L1294.5 631.4 L1295.0 628.9 L1295.4 628.7 L1295.9 629.6 L1296.3 628.6 L1296.8 627.1 L1297.2 628.3 L1297.7 628.2 L1298.1 627.2 L1298.6 626.4 L1299.0 627.5 L1299.5 628.0 L1299.9 629.9 L1300.4 630.7 L1300.8 625.5 L1301.3 629.6 L1301.7 629.3 L1302.2 629.7 L1302.6 630.4 L1303.1 628.4 L1303.5 625.8 L1304.0 629.8 L1304.4 629.0 L1304.9 629.9 L1305.3 629.5 L1305.8 628.3 L1306.2 629.5 L1306.7 628.1 L1307.1 628.9 L1307.6 627.1 L1308.0 628.5 L1308.5 628.5 L1308.9 627.2 L1309.4 628.2 L1309.8 630.4 L1310.3 627.6 L1310.7 626.7 L1311.2 630.6 L1311.6 631.5 L1312.1 629.3 L1312.5 629.8 L1313.0 630.3 L1313.4 629.1 L1313.9 630.9 L1314.3 629.5 L1314.8 626.8 L1315.2 629.4 L1315.7 630.3 L1316.1 632.5 L1316.6 629.7 L1317.0 628.8 L1317.5 629.8 L1317.9 629.4 L1318.4 628.7 L1318.8 631.1 L1319.3 630.0 L1319.7 628.3 L1320.2 629.5 L1320.6 630.6 L1321.1 627.4 L1321.5 627.3 L1322.0 629.2 L1322.4 628.9 L1322.9 628.3 L1323.3 629.1 L1323.8 627.9 L1324.2 632.5 L1324.7 630.3 L1325.1 630.8 L1325.6 629.2 L1326.0 630.8 L1326.5 626.5 L1326.9 629.2 L1327.4 630.8 L1327.8 629.5 L1328.3 630.5 L1328.7 627.8 L1329.2 630.4 L1329.6 631.4 L1330.1 631.8 L1330.5 630.9 L1331.0 630.1 L1331.4 632.7 L1331.9 629.6 L1332.3 629.9 L1332.8 630.4 L1333.2 630.8 L1333.7 631.1 L1334.1 629.1 L1334.6 630.8 L1335.0 630.6 L1335.5 628.0 L1335.9 630.3 L1336.4 628.3 L1336.8 631.2 L1337.3 631.5 L1337.7 627.3 L1338.2 626.0 L1338.6 627.5 L1339.1 628.2 L1339.5 628.4 L1340.0 627.9 L1340.4 630.3 L1340.9 628.8 L1341.3 629.2 L1341.8 625.9 L1342.2 629.1 L1342.7 628.0 L1343.1 628.7 L1343.6 628.5 L1344.0 630.4 L1344.5 626.9 L1344.9 629.7 L1345.4 626.4 L1345.8 629.8 L1346.3 629.3 L1346.7 631.5 L1347.2 629.6 L1347.6 630.5 L1348.1 629.0 L1348.5 630.4 L1349.0 630.4 L1349.4 630.1 L1349.9 630.0 L1350.3 630.7 L1350.8 629.1 L1351.2 630.3 L1351.7 631.9 L1352.1 631.3 L1352.6 630.8 L1353.0 627.7 L1353.5 628.3 L1353.9 627.9 L1354.4 629.1 L1354.8 629.5 L1355.3 630.7 L1355.7 629.2 L1356.2 629.2 L1356.6 631.4 L1357.1 629.7 L1357.5 627.9 L1358.0 630.8 L1358.4 629.1 L1358.9 630.7 L1359.3 632.0 L1359.8 631.5 L1360.2 629.9 L1360.7 630.6 L1361.1 629.8 L1361.6 632.6 L1362.0 632.1 L1362.5 631.3 L1362.9 632.0 L1363.4 632.6 L1363.8 630.4 L1364.3 631.7 L1364.7 632.9 L1365.2 630.3 L1365.6 632.2 L1366.1 631.1 L1366.5 628.9 L1367.0 630.0 L1367.4 628.3 L1367.9 631.0 L1368.3 629.0 L1368.8 630.1 L1369.2 630.1 L1369.7 633.1 L1370.1 631.5 L1370.6 630.9 L1371.0 633.2 L1371.5 629.9 L1371.9 632.1 L1372.4 631.7 L1372.8 631.5 L1373.3 632.4 L1373.7 630.1 L1374.2 633.4 L1374.6 631.8 L1375.1 631.8 L1375.5 631.5 L1376.0 631.2 L1376.4 634.7 L1376.9 630.6 L1377.3 629.3 L1377.8 629.8 L1378.2 626.4 L1378.7 630.9 L1379.1 629.6 L1379.6 630.1 L1380.0 629.4 L1380.5 631.2 L1380.9 633.1 L1381.4 629.1 L1381.8 631.6 L1382.3 630.9 L1382.7 630.8 L1383.2 630.0 L1383.6 630.7 L1384.1 631.0 L1384.5 628.7 L1385.0 625.7 L1385.4 629.9 L1385.9 628.6 L1386.3 631.4 L1386.8 629.0 L1387.2 630.3 L1387.7 626.8 L1388.1 630.8 L1388.6 630.7 L1389.0 632.5 L1389.5 631.3 L1389.9 631.5 L1390.4 631.4 L1390.8 628.2 L1391.3 632.2 L1391.7 631.1 L1392.2 631.2 L1392.6 631.5 L1393.1 630.0 L1393.5 630.4 L1394.0 630.7 L1394.4 631.2 L1394.9 632.3 L1395.3 631.0 L1395.8 631.3 L1396.2 629.5 L1396.7 633.2 L1397.1 632.5 L1397.6 632.0 L1398.0 629.3 L1398.5 631.8 L1398.9 629.4 L1399.4 630.6 L1399.8 630.3 L1400.3 629.6 L1400.7 631.5 L1401.2 633.5 L1401.6 630.2 L1402.1 632.3 L1402.5 630.9 L1403.0 630.4 L1403.4 631.1 L1403.9 631.3 L1404.3 629.5 L1404.8 628.7 L1405.2 629.4 L1405.7 626.2 L1406.1 626.0 L1406.6 629.2 L1407.0 630.5 L1407.5 629.9 L1407.9 629.7 L1408.4 629.3 L1408.8 629.3 L1409.3 630.3 L1409.7 630.5 L1410.2 630.2 L1410.6 630.8 L1411.1 631.8 L1411.5 629.0 L1412.0 628.6 L1412.4 632.9 L1412.9 629.7 L1413.3 630.4 L1413.8 632.1 L1414.2 631.3 L1414.7 633.3 L1415.1 631.9 L1415.6 633.0" fill="none" stroke="#808000" stroke-width="2.6" stroke-linejoin="round"/>
<path d="M106.5 726.7 L107.0 727.7 L107.4 726.8 L107.9 723.6 L108.3 728.8 L108.8 726.5 L109.2 730.1 L109.7 730.1 L110.1 727.1 L110.6 727.4 L111.0 728.8 L111.5 728.1 L111.9 730.1 L112.4 730.3 L112.8 725.9 L113.3 725.1 L113.7 729.6 L114.2 730.6 L114.6 728.1 L115.1 727.6 L115.5 728.8 L116.0 727.7 L116.4 724.9 L116.9 725.9 L117.3 727.4 L117.8 729.7 L118.2 727.4 L118.7 728.1 L119.1 726.0 L119.6 729.4 L120.0 725.1 L120.5 728.9 L120.9 728.3 L121.4 728.2 L121.8 728.2 L122.3 728.3 L122.7 727.8 L123.2 729.1 L123.6 731.9 L124.1 729.2 L124.5 726.1 L125.0 727.8 L125.4 729.6 L125.9 729.2 L126.3 729.0 L126.8 728.1 L127.2 727.8 L127.7 727.2 L128.1 726.2 L128.6 729.3 L129.0 729.4 L129.5 732.1 L129.9 729.8 L130.4 728.5 L130.8 730.4 L131.3 730.3 L131.7 726.9 L132.2 729.4 L132.6 730.0 L133.1 727.5 L133.5 728.0 L134.0 728.0 L134.4 729.8 L134.9 727.4 L135.3 728.9 L135.8 725.8 L136.2 729.5 L136.7 729.4 L137.1 730.2 L137.6 728.1 L138.0 727.5 L138.5 725.8 L138.9 729.6 L139.4 730.4 L139.8 728.6 L140.3 728.6 L140.7 727.5 L141.2 731.0 L141.6 728.3 L142.1 730.1 L142.5 726.3 L143.0 729.5 L143.4 729.6 L143.9 730.7 L144.3 731.4 L144.8 728.3 L145.2 728.2 L145.7 730.1 L146.1 730.7 L146.6 726.5 L147.0 727.7 L147.5 731.4 L147.9 728.1 L148.4 728.5 L148.8 728.5 L149.3 729.6 L149.7 729.5 L150.2 728.3 L150.6 731.7 L151.1 731.0 L151.5 729.3 L152.0 728.7 L152.4 727.5 L152.9 729.3 L153.3 726.5 L153.8 727.6 L154.2 728.0 L154.7 728.2 L155.1 727.5 L155.6 730.3 L156.0 727.7 L156.5 729.1 L156.9 728.6 L157.4 727.5 L157.8 728.5 L158.3 727.5 L158.7 726.6 L159.2 726.4 L159.6 728.3 L160.1 726.7 L160.5 728.2 L161.0 728.0 L161.4 728.6 L161.9 728.5 L162.3 727.6 L162.8 729.0 L163.2 728.2 L163.7 728.8 L164.1 728.2 L164.6 727.4 L165.0 727.4 L165.5 727.3 L165.9 727.8 L166.4 726.8 L166.8 728.4 L167.3 728.0 L167.7 727.8 L168.2 727.2 L168.6 729.8 L169.1 730.0 L169.5 729.6 L170.0 727.9 L170.4 728.5 L170.9 729.8 L171.3 729.9 L171.8 729.7 L172.2 730.0 L172.7 730.8 L173.1 729.1 L173.6 727.3 L174.0 729.7 L174.5 729.4 L174.9 731.6 L175.4 728.9 L175.8 729.0 L176.3 729.4 L176.7 727.4 L177.2 727.3 L177.6 726.5 L178.1 726.4 L178.5 729.1 L179.0 729.3 L179.4 724.8 L179.9 727.8 L180.3 727.9 L180.8 727.9 L181.2 728.7 L181.7 723.4 L182.1 728.9 L182.6 725.5 L183.0 723.2 L183.5 728.3 L183.9 727.3 L184.4 724.4 L184.8 723.4 L185.3 726.6 L185.7 728.8 L186.2 728.5 L186.6 726.1 L187.1 726.5 L187.5 728.6 L188.0 727.1 L188.4 726.7 L188.9 727.6 L189.3 726.6 L189.8 724.7 L190.2 727.6 L190.7 726.4 L191.1 729.2 L191.6 728.0 L192.0 726.6 L192.5 725.3 L192.9 726.8 L193.4 727.5 L193.8 726.5 L194.3 729.4 L194.7 730.2 L195.2 728.7 L195.6 725.7 L196.1 726.3 L196.5 724.6 L197.0 727.5 L197.4 727.3 L197.9 728.4 L198.3 727.1 L198.8 726.1 L199.2 729.1 L199.7 727.7 L200.1 729.0 L200.6 730.6 L201.0 727.4 L201.5 730.2 L201.9 727.5 L202.4 727.7 L202.8 728.8 L203.3 724.4 L203.7 728.1 L204.2 727.9 L204.6 728.3 L205.1 729.0 L205.5 727.7 L206.0 727.3 L206.4 728.3 L206.9 727.8 L207.3 729.4 L207.8 726.1 L208.2 727.9 L208.7 727.8 L209.1 727.9 L209.6 725.8 L210.0 725.5 L210.5 723.0 L210.9 725.2 L211.4 722.5 L211.8 724.5 L212.3 724.2 L212.7 724.4 L213.2 724.4 L213.6 725.4 L214.1 727.0 L214.5 726.2 L215.0 724.5 L215.4 724.5 L215.9 725.6 L216.3 726.8 L216.8 724.5 L217.2 726.8 L217.7 729.0 L218.1 726.1 L218.6 724.5 L219.0 728.1 L219.5 726.8 L219.9 725.5 L220.4 725.2 L220.8 725.8 L221.3 725.8 L221.7 723.5 L222.2 724.9 L222.6 721.7 L223.1 723.5 L223.5 722.4 L224.0 723.8 L224.4 724.5 L224.9 725.7 L225.3 724.8 L225.8 721.5 L226.2 723.6 L226.7 725.5 L227.1 721.6 L227.6 723.1 L228.0 725.4 L228.5 723.1 L228.9 721.4 L229.4 723.4 L229.8 721.9 L230.3 723.3 L230.7 721.2 L231.2 722.4 L231.6 721.5 L232.1 720.3 L232.5 721.8 L233.0 727.3 L233.4 723.9 L233.9 727.2 L234.3 721.1 L234.8 723.1 L235.2 723.3 L235.7 721.2 L236.1 722.1 L236.6 723.1 L237.0 725.4 L237.5 722.2 L237.9 720.0 L238.4 723.5 L238.8 725.7 L239.3 721.8 L239.7 722.1 L240.2 722.4 L240.6 720.4 L241.1 720.7 L241.5 722.5 L242.0 723.8 L242.4 723.3 L242.9 721.3 L243.3 721.9 L243.8 723.9 L244.2 722.1 L244.7 720.7 L245.1 723.0 L245.6 726.0 L246.0 720.0 L246.5 719.0 L246.9 720.1 L247.4 718.4 L247.8 719.3 L248.3 720.4 L248.7 720.5 L249.2 720.5 L249.6 720.7 L250.1 719.0 L250.5 722.3 L251.0 721.0 L251.4 720.8 L251.9 722.1 L252.3 720.6 L252.8 721.8 L253.2 725.6 L253.7 719.5 L254.1 719.2 L254.6 720.1 L255.0 721.6 L255.5 717.9 L255.9 721.3 L256.4 721.3 L256.8 721.3 L257.3 719.9 L257.7 720.9 L258.2 721.1 L258.6 721.1 L259.1 718.8 L259.5 721.3 L260.0 718.6 L260.4 721.5 L260.9 716.5 L261.3 719.6 L261.8 718.4 L262.2 719.9 L262.7 717.7 L263.1 722.2 L263.6 717.8 L264.0 720.4 L264.5 718.7 L264.9 718.5 L265.4 721.1 L265.8 719.2 L266.3 716.9 L266.7 718.6 L267.2 717.5 L267.6 719.6 L268.1 718.7 L268.5 715.6 L269.0 717.2 L269.4 718.8 L269.9 720.4 L270.3 720.6 L270.8 716.1 L271.2 719.8 L271.7 718.7 L272.1 718.9 L272.6 719.3 L273.0 718.5 L273.5 717.9 L273.9 715.3 L274.4 722.0 L274.8 718.5 L275.3 719.1 L275.7 722.7 L276.2 720.8 L276.6 719.7 L277.1 718.7 L277.5 716.3 L278.0 716.8 L278.4 717.3 L278.9 719.1 L279.3 717.9 L279.8 717.9 L280.2 717.6 L280.7 717.0 L281.1 717.5 L281.6 712.8 L282.0 713.5 L282.5 713.9 L282.9 716.8 L283.4 718.3 L283.8 717.9 L284.3 718.8 L284.7 717.6 L285.2 718.5 L285.6 715.1 L286.1 718.9 L286.5 715.7 L287.0 716.5 L287.4 716.1 L287.9 716.9 L288.3 714.3 L288.8 713.9 L289.2 718.5 L289.7 713.3 L290.1 717.7 L290.6 715.5 L291.0 714.8 L291.5 715.2 L291.9 717.5 L292.4 714.8 L292.8 715.0 L293.3 716.5 L293.7 713.0 L294.2 715.0 L294.6 715.1 L295.1 713.4 L295.5 716.8 L296.0 713.3 L296.4 713.8 L296.9 715.0 L297.3 713.4 L297.8 713.6 L298.2 711.1 L298.7 715.1 L299.1 716.6 L299.6 714.6 L300.0 712.8 L300.5 714.7 L300.9 713.8 L301.4 711.6 L301.8 712.1 L302.3 713.7 L302.7 713.0 L303.2 711.6 L303.6 713.0 L304.1 715.1 L304.5 713.0 L305.0 712.6 L305.4 713.7 L305.9 709.4 L306.3 713.7 L306.8 715.9 L307.2 712.4 L307.7 709.0 L308.1 712.5 L308.6 711.6 L309.0 708.5 L309.5 709.6 L309.9 712.2 L310.4 712.8 L310.8 710.9 L311.3 710.5 L311.7 711.7 L312.2 708.9 L312.6 709.6 L313.1 710.0 L313.5 709.9 L314.0 709.6 L314.4 710.1 L314.9 711.0 L315.3 708.5 L315.8 709.5 L316.2 709.1 L316.7 709.2 L317.1 711.6 L317.6 709.1 L318.0 712.4 L318.5 709.5 L318.9 706.8 L319.4 709.3 L319.8 708.2 L320.3 711.4 L320.7 706.9 L321.2 709.1 L321.6 704.7 L322.1 709.1 L322.5 706.2 L323.0 710.9 L323.4 709.9 L323.9 708.6 L324.3 709.7 L324.8 706.4 L325.2 707.4 L325.7 706.2 L326.1 707.7 L326.6 703.9 L327.0 709.0 L327.5 705.3 L327.9 703.9 L328.4 708.9 L328.8 709.3 L329.3 706.8 L329.7 699.3 L330.2 705.4 L330.6 703.7 L331.1 703.7 L331.5 702.5 L332.0 705.0 L332.4 703.8 L332.9 706.5 L333.3 702.9 L333.8 706.0 L334.2 705.3 L334.7 706.5 L335.1 701.3 L335.6 703.2 L336.0 703.2 L336.5 704.1 L336.9 703.4 L337.4 702.0 L337.8 702.6 L338.3 703.8 L338.7 702.2 L339.2 702.8 L339.6 699.5 L340.1 702.2 L340.5 704.5 L341.0 704.4 L341.4 701.5 L341.9 700.8 L342.3 702.2 L342.8 701.2 L343.2 699.2 L343.7 703.0 L344.1 702.1 L344.6 702.8 L345.0 706.3 L345.5 700.8 L345.9 703.8 L346.4 703.3 L346.8 704.8 L347.3 705.2 L347.7 702.1 L348.2 699.5 L348.6 700.0 L349.1 700.0 L349.5 705.0 L350.0 697.6 L350.4 701.2 L350.9 697.9 L351.3 696.7 L351.8 699.9 L352.2 697.9 L352.7 699.5 L353.1 697.1 L353.6 700.3 L354.0 701.2 L354.5 696.6 L354.9 698.5 L355.4 696.2 L355.8 694.0 L356.3 693.1 L356.7 700.9 L357.2 695.8 L357.6 693.1 L358.1 696.2 L358.5 695.6 L359.0 694.3 L359.4 695.2 L359.9 694.0 L360.3 693.3 L360.8 695.4 L361.2 698.5 L361.7 696.4 L362.1 695.4 L362.6 695.2 L363.0 694.9 L363.5 696.3 L363.9 696.5 L364.4 690.5 L364.8 689.1 L365.3 690.8 L365.7 694.3 L366.2 694.4 L366.6 691.2 L367.1 692.3 L367.5 689.3 L368.0 690.9 L368.4 688.4 L368.9 691.4 L369.3 686.5 L369.8 685.5 L370.2 686.6 L370.7 689.0 L371.1 689.6 L371.6 690.8 L372.0 688.1 L372.5 689.8 L372.9 686.5 L373.4 686.1 L373.8 687.3 L374.3 681.8 L374.7 682.8 L375.2 682.8 L375.6 680.9 L376.1 680.5 L376.5 680.3 L377.0 680.8 L377.4 676.9 L377.9 680.5 L378.3 678.6 L378.8 679.7 L379.2 677.9 L379.7 678.1 L380.1 675.3 L380.6 676.3 L381.0 673.0 L381.5 675.9 L381.9 677.6 L382.4 672.7 L382.8 674.1 L383.3 669.0 L383.7 670.7 L384.2 673.3 L384.6 670.2 L385.1 671.7 L385.5 672.9 L386.0 669.6 L386.4 673.6 L386.9 666.2 L387.3 668.5 L387.8 668.9 L388.2 669.8 L388.7 663.9 L389.1 672.5 L389.6 669.1 L390.0 668.6 L390.5 669.9 L390.9 667.7 L391.4 669.5 L391.8 667.6 L392.3 666.2 L392.7 664.5 L393.2 670.8 L393.6 661.4 L394.1 660.5 L394.5 664.6 L395.0 662.6 L395.4 670.5 L395.9 668.5 L396.3 664.0 L396.8 660.8 L397.2 664.0 L397.7 660.0 L398.1 665.6 L398.6 661.2 L399.0 663.3 L399.5 663.9 L399.9 658.8 L400.4 662.3 L400.8 655.1 L401.3 658.1 L401.7 656.9 L402.2 656.6 L402.6 654.9 L403.1 658.7 L403.5 653.2 L404.0 654.8 L404.4 651.3 L404.9 656.5 L405.3 653.8 L405.8 651.6 L406.2 649.9 L406.7 649.7 L407.1 647.6 L407.6 644.1 L408.0 643.2 L408.5 650.5 L408.9 642.8 L409.4 649.6 L409.8 643.0 L410.3 645.4 L410.7 646.7 L411.2 637.7 L411.6 638.6 L412.1 643.2 L412.5 649.3 L413.0 636.5 L413.4 641.9 L413.9 639.8 L414.3 640.6 L414.8 640.0 L415.2 638.2 L415.7 641.3 L416.1 642.7 L416.6 641.6 L417.0 630.4 L417.5 640.6 L417.9 636.0 L418.4 634.7 L418.8 639.2 L419.3 636.7 L419.7 640.1 L420.2 630.3 L420.6 637.2 L421.1 632.4 L421.5 634.1 L422.0 631.5 L422.4 630.5 L422.9 627.1 L423.3 625.6 L423.8 634.8 L424.2 627.4 L424.7 631.0 L425.1 624.0 L425.6 628.2 L426.0 623.7 L426.5 622.0 L426.9 619.5 L427.4 623.2 L427.8 616.2 L428.3 616.1 L428.7 623.3 L429.2 618.1 L429.6 617.2 L430.1 611.5 L430.5 614.0 L431.0 619.6 L431.4 613.8 L431.9 609.4 L432.3 617.6 L432.8 609.9 L433.2 616.1 L433.7 621.6 L434.1 618.7 L434.6 613.9 L435.0 611.8 L435.5 611.1 L435.9 614.8 L436.4 614.0 L436.8 618.7 L437.3 614.2 L437.7 617.9 L438.2 615.6 L438.6 619.6 L439.1 605.8 L439.5 614.3 L440.0 610.3 L440.4 611.2 L440.9 605.9 L441.3 612.5 L441.8 607.4 L442.2 614.3 L442.7 616.3 L443.1 614.5 L443.6 604.4 L444.0 608.8 L444.5 612.2 L444.9 604.5 L445.4 611.7 L445.8 611.7 L446.3 604.5 L446.7 609.3 L447.2 608.2 L447.6 608.0 L448.1 610.8 L448.5 606.9 L449.0 609.3 L449.4 606.4 L449.9 605.1 L450.3 602.9 L450.8 609.0 L451.2 604.6 L451.7 611.5 L452.1 606.4 L452.6 603.5 L453.0 604.3 L453.5 608.1 L453.9 609.2 L454.4 605.6 L454.8 603.5 L455.3 607.1 L455.7 606.7 L456.2 609.7 L456.6 602.6 L457.1 610.7 L457.5 602.6 L458.0 603.3 L458.4 608.6 L458.9 609.3 L459.3 604.8 L459.8 605.0 L460.2 605.9 L460.7 603.3 L461.1 605.2 L461.6 609.9 L462.0 610.7 L462.5 606.3 L462.9 606.8 L463.4 606.9 L463.8 611.1 L464.3 601.7 L464.7 607.4 L465.2 606.6 L465.6 605.5 L466.1 605.7 L466.5 602.2 L467.0 605.6 L467.4 605.9 L467.9 603.5 L468.3 607.1 L468.8 608.9 L469.2 607.0 L469.7 604.2 L470.1 603.4 L470.6 603.7 L471.0 599.7 L471.5 604.1 L471.9 607.2 L472.4 603.4 L472.8 605.3 L473.3 602.1 L473.7 605.0 L474.2 606.2 L474.6 605.6 L475.1 599.0 L475.5 603.6 L476.0 604.8 L476.4 604.5 L476.9 607.2 L477.3 605.2 L477.8 599.7 L478.2 604.4 L478.7 602.9 L479.1 608.7 L479.6 607.7 L480.0 606.9 L480.5 610.3 L480.9 606.9 L481.4 606.0 L481.8 603.7 L482.3 610.1 L482.7 606.9 L483.2 610.1 L483.6 601.9 L484.1 614.3 L484.5 611.0 L485.0 612.3 L485.4 609.7 L485.9 607.3 L486.3 612.0 L486.8 611.0 L487.2 610.6 L487.7 611.3 L488.1 615.3 L488.6 613.7 L489.0 610.9 L489.5 616.5 L489.9 617.1 L490.4 617.4 L490.8 614.6 L491.3 614.5 L491.7 617.0 L492.2 621.6 L492.6 614.7 L493.1 614.5 L493.5 616.4 L494.0 613.6 L494.4 622.6 L494.9 615.1 L495.3 619.7 L495.8 615.4 L496.2 624.0 L496.7 621.3 L497.1 620.2 L497.6 622.5 L498.0 622.5 L498.5 617.0 L498.9 622.6 L499.4 622.3 L499.8 626.9 L500.3 624.2 L500.7 621.2 L501.2 629.5 L501.6 625.0 L502.1 623.0 L502.5 622.1 L503.0 627.4 L503.4 622.1 L503.9 625.9 L504.3 627.0 L504.8 620.7 L505.2 622.5 L505.7 620.3 L506.1 627.4 L506.6 626.7 L507.0 627.0 L507.5 626.6 L507.9 629.5 L508.4 639.3 L508.8 630.1 L509.3 628.5 L509.7 628.4 L510.2 633.9 L510.6 624.0 L511.1 628.4 L511.5 632.5 L512.0 626.1 L512.4 632.5 L512.9 626.0 L513.3 628.7 L513.8 627.1 L514.2 629.3 L514.7 622.0 L515.1 628.4 L515.6 628.9 L516.0 628.0 L516.5 632.2 L516.9 630.8 L517.4 627.7 L517.8 631.2 L518.3 626.6 L518.7 628.6 L519.2 630.5 L519.6 629.6 L520.1 633.1 L520.5 629.7 L521.0 628.9 L521.4 633.6 L521.9 632.3 L522.3 633.7 L522.8 639.8 L523.2 635.1 L523.7 633.0 L524.1 633.4 L524.6 630.7 L525.0 633.9 L525.5 631.3 L525.9 636.5 L526.4 633.5 L526.8 630.2 L527.3 634.9 L527.7 637.5 L528.2 636.2 L528.6 635.7 L529.1 638.9 L529.5 632.8 L530.0 635.6 L530.4 634.5 L530.9 636.6 L531.3 631.9 L531.8 638.2 L532.2 634.2 L532.7 637.6 L533.1 638.9 L533.6 636.3 L534.0 641.6 L534.5 633.4 L534.9 634.2 L535.4 634.1 L535.8 635.7 L536.3 639.0 L536.7 640.8 L537.2 637.8 L537.6 636.2 L538.1 636.4 L538.5 633.0 L539.0 637.9 L539.4 633.0 L539.9 640.3 L540.3 634.0 L540.8 642.5 L541.2 630.5 L541.7 639.1 L542.1 631.8 L542.6 635.7 L543.0 635.2 L543.5 638.2 L543.9 641.4 L544.4 640.4 L544.8 632.9 L545.3 640.7 L545.7 632.9 L546.2 635.6 L546.6 641.8 L547.1 634.2 L547.5 635.9 L548.0 637.9 L548.4 634.2 L548.9 639.3 L549.3 633.0 L549.8 641.0 L550.2 638.6 L550.7 637.5 L551.1 641.2 L551.6 634.4 L552.0 639.0 L552.5 638.6 L552.9 637.3 L553.4 638.0 L553.8 636.2 L554.3 633.6 L554.7 632.1 L555.2 639.6 L555.6 640.3 L556.1 637.5 L556.5 636.7 L557.0 633.2 L557.4 641.5 L557.9 635.2 L558.3 638.0 L558.8 637.3 L559.2 632.3 L559.7 634.6 L560.1 635.7 L560.6 632.6 L561.0 633.5 L561.5 634.3 L561.9 625.4 L562.4 633.6 L562.8 631.7 L563.3 632.0 L563.7 627.7 L564.2 630.2 L564.6 631.2 L565.1 630.2 L565.5 632.2 L566.0 629.9 L566.4 631.0 L566.9 630.8 L567.3 636.8 L567.8 630.7 L568.2 625.4 L568.7 625.8 L569.1 631.0 L569.6 630.9 L570.0 626.7 L570.5 625.2 L570.9 628.1 L571.4 620.4 L571.8 626.7 L572.3 625.5 L572.7 625.1 L573.2 617.9 L573.6 624.4 L574.1 625.7 L574.5 621.9 L575.0 620.3 L575.4 619.1 L575.9 621.6 L576.3 624.0 L576.8 622.4 L577.2 622.7 L577.7 624.9 L578.1 619.0 L578.6 615.5 L579.0 615.4 L579.5 618.4 L579.9 618.4 L580.4 618.1 L580.8 621.8 L581.3 613.7 L581.7 615.2 L582.2 609.7 L582.6 609.4 L583.1 609.2 L583.5 611.1 L584.0 618.8 L584.4 611.4 L584.9 611.3 L585.3 605.2 L585.8 607.4 L586.2 605.5 L586.7 610.8 L587.1 607.0 L587.6 610.4 L588.0 603.5 L588.5 606.5 L588.9 607.9 L589.4 611.0 L589.8 611.4 L590.3 601.9 L590.7 608.5 L591.2 603.4 L591.6 603.1 L592.1 602.0 L592.5 602.8 L593.0 595.4 L593.4 602.4 L593.9 598.6 L594.3 600.4 L594.8 592.8 L595.2 598.3 L595.7 596.9 L596.1 596.8 L596.6 597.1 L597.0 599.3 L597.5 595.7 L597.9 596.4 L598.4 591.9 L598.8 589.8 L599.3 590.3 L599.7 589.1 L600.2 592.3 L600.6 591.3 L601.1 591.1 L601.5 588.9 L602.0 585.5 L602.4 582.6 L602.9 588.9 L603.3 588.0 L603.8 578.2 L604.2 590.8 L604.7 579.7 L605.1 585.4 L605.6 577.0 L606.0 581.0 L606.5 579.4 L606.9 581.4 L607.4 578.1 L607.8 574.1 L608.3 581.2 L608.7 569.4 L609.2 572.8 L609.6 567.6 L610.1 576.0 L610.5 572.6 L611.0 570.0 L611.4 576.1 L611.9 572.4 L612.3 568.0 L612.8 568.3 L613.2 568.4 L613.7 566.8 L614.1 569.9 L614.6 567.2 L615.0 565.1 L615.5 565.3 L615.9 560.9 L616.4 564.3 L616.8 564.8 L617.3 560.6 L617.7 556.5 L618.2 556.7 L618.6 553.4 L619.1 558.8 L619.5 557.6 L620.0 550.6 L620.4 552.0 L620.9 547.8 L621.3 549.3 L621.8 545.7 L622.2 551.9 L622.7 542.9 L623.1 549.0 L623.6 541.7 L624.0 544.4 L624.5 541.4 L624.9 538.4 L625.4 536.9 L625.8 539.5 L626.3 540.0 L626.7 538.3 L627.2 537.4 L627.6 533.3 L628.1 537.3 L628.5 530.9 L629.0 530.1 L629.4 528.9 L629.9 529.4 L630.3 520.8 L630.8 527.9 L631.2 525.7 L631.7 525.7 L632.1 535.9 L632.6 522.0 L633.0 515.1 L633.5 515.0 L633.9 520.1 L634.4 515.1 L634.8 517.3 L635.3 515.6 L635.7 511.6 L636.2 503.3 L636.6 506.2 L637.1 506.0 L637.5 508.4 L638.0 503.1 L638.4 505.5 L638.9 511.3 L639.3 498.7 L639.8 493.0 L640.2 491.6 L640.7 498.8 L641.1 495.3 L641.6 504.7 L642.0 489.1 L642.5 485.2 L642.9 490.8 L643.4 493.4 L643.8 496.4 L644.3 496.5 L644.7 492.4 L645.2 486.8 L645.6 484.4 L646.1 482.0 L646.5 486.2 L647.0 483.5 L647.4 477.0 L647.9 479.6 L648.3 474.9 L648.8 480.0 L649.2 478.8 L649.7 478.3 L650.1 469.8 L650.6 469.5 L651.0 469.4 L651.5 461.6 L651.9 464.8 L652.4 464.5 L652.8 464.6 L653.3 459.7 L653.7 468.0 L654.2 463.0 L654.6 456.2 L655.1 454.5 L655.5 455.4 L656.0 458.2 L656.4 458.3 L656.9 457.6 L657.3 455.8 L657.8 454.7 L658.2 447.7 L658.7 449.8 L659.1 451.6 L659.6 452.8 L660.0 444.9 L660.5 453.5 L660.9 454.8 L661.4 442.0 L661.8 441.2 L662.3 443.7 L662.7 444.7 L663.2 450.0 L663.6 453.6 L664.1 453.8 L664.5 446.7 L665.0 444.8 L665.4 454.3 L665.9 450.3 L666.3 448.4 L666.8 444.3 L667.2 443.3 L667.7 448.4 L668.1 445.5 L668.6 445.0 L669.0 444.7 L669.5 448.6 L669.9 450.6 L670.4 449.6 L670.8 448.1 L671.3 440.6 L671.7 451.4 L672.2 450.2 L672.6 442.3 L673.1 450.4 L673.5 449.3 L674.0 454.9 L674.4 456.3 L674.9 460.3 L675.3 466.9 L675.8 453.0 L676.2 465.5 L676.7 456.8 L677.1 467.4 L677.6 464.9 L678.0 465.3 L678.5 451.7 L678.9 468.8 L679.4 471.3 L679.8 470.0 L680.3 473.6 L680.7 478.6 L681.2 473.6 L681.6 475.5 L682.1 475.0 L682.5 471.6 L683.0 483.6 L683.4 483.7 L683.9 479.0 L684.3 481.2 L684.8 488.1 L685.2 487.8 L685.7 485.5 L686.1 488.6 L686.6 499.6 L687.0 493.6 L687.5 496.7 L687.9 501.7 L688.4 504.3 L688.8 506.5 L689.3 503.2 L689.7 505.2 L690.2 508.0 L690.6 505.7 L691.1 518.6 L691.5 511.3 L692.0 518.0 L692.4 512.3 L692.9 514.5 L693.3 516.7 L693.8 518.8 L694.2 517.7 L694.7 523.4 L695.1 530.3 L695.6 535.8 L696.0 537.3 L696.5 540.2 L696.9 545.0 L697.4 541.7 L697.8 547.2 L698.3 550.0 L698.7 546.5 L699.2 550.4 L699.6 555.8 L700.1 560.6 L700.5 553.2 L701.0 564.7 L701.4 559.6 L701.9 559.3 L702.3 561.9 L702.8 560.1 L703.2 567.4 L703.7 569.8 L704.1 575.9 L704.6 575.0 L705.0 578.8 L705.5 583.5 L705.9 582.8 L706.4 576.9 L706.8 577.5 L707.3 581.8 L707.7 582.6 L708.2 586.8 L708.6 585.1 L709.1 585.8 L709.5 593.2 L710.0 592.7 L710.4 596.9 L710.9 598.5 L711.3 593.7 L711.8 600.2 L712.2 600.6 L712.7 602.3 L713.1 603.9 L713.6 601.1 L714.0 603.1 L714.5 602.6 L714.9 603.5 L715.4 606.6 L715.8 606.0 L716.3 615.1 L716.7 615.2 L717.2 615.7 L717.6 619.4 L718.1 613.2 L718.5 626.3 L719.0 618.4 L719.4 623.4 L719.9 624.1 L720.3 623.4 L720.8 627.9 L721.2 626.7 L721.7 630.9 L722.1 632.1 L722.6 629.8 L723.0 636.6 L723.5 634.3 L723.9 631.4 L724.4 632.0 L724.8 636.6 L725.3 628.4 L725.7 633.5 L726.2 637.6 L726.6 639.8 L727.1 639.2 L727.5 640.0 L728.0 638.2 L728.4 638.6 L728.9 646.6 L729.3 642.1 L729.8 644.5 L730.2 644.4 L730.7 649.3 L731.1 641.3 L731.6 647.2 L732.0 646.3 L732.5 648.8 L732.9 651.4 L733.4 648.8 L733.8 655.9 L734.3 652.0 L734.7 656.4 L735.2 655.0 L735.6 656.2 L736.1 658.8 L736.5 657.3 L737.0 659.2 L737.4 658.4 L737.9 660.1 L738.3 656.2 L738.8 656.7 L739.2 660.8 L739.7 660.3 L740.1 660.4 L740.6 660.1 L741.0 657.7 L741.5 663.6 L741.9 664.5 L742.4 662.5 L742.8 660.1 L743.3 661.0 L743.7 666.9 L744.2 665.1 L744.6 666.7 L745.1 665.8 L745.5 669.6 L746.0 668.7 L746.4 666.2 L746.9 665.2 L747.3 668.3 L747.8 667.9 L748.2 668.2 L748.7 674.0 L749.1 674.3 L749.6 673.5 L750.0 672.9 L750.5 678.5 L750.9 671.7 L751.4 674.1 L751.8 673.3 L752.3 672.7 L752.7 678.0 L753.2 675.6 L753.6 674.6 L754.1 674.9 L754.5 676.9 L755.0 676.7 L755.4 675.6 L755.9 677.1 L756.3 680.2 L756.8 676.7 L757.2 679.2 L757.7 686.1 L758.1 682.3 L758.6 680.7 L759.0 682.7 L759.5 682.1 L759.9 682.6 L760.4 686.2 L760.8 684.7 L761.3 686.2 L761.7 684.3 L762.2 684.9 L762.6 687.5 L763.1 689.6 L763.5 687.6 L764.0 685.7 L764.4 688.8 L764.9 687.9 L765.3 686.3 L765.8 686.1 L766.2 687.3 L766.7 684.6 L767.1 687.0 L767.6 684.7 L768.0 691.0 L768.5 689.5 L768.9 690.5 L769.4 687.5 L769.8 691.7 L770.3 691.5 L770.7 689.1 L771.2 693.5 L771.6 690.9 L772.1 691.7 L772.5 692.4 L773.0 690.2 L773.4 691.5 L773.9 692.1 L774.3 692.7 L774.8 692.1 L775.2 694.4 L775.7 692.0 L776.1 690.9 L776.6 694.2 L777.0 693.3 L777.5 694.6 L777.9 697.8 L778.4 696.4 L778.8 696.6 L779.3 694.5 L779.7 694.6 L780.2 693.9 L780.6 694.5 L781.1 695.6 L781.5 696.2 L782.0 695.1 L782.4 693.7 L782.9 697.3 L783.3 692.3 L783.8 695.0 L784.2 697.0 L784.7 700.5 L785.1 698.8 L785.6 700.8 L786.0 698.7 L786.5 695.5 L786.9 697.9 L787.4 697.0 L787.8 698.8 L788.3 698.1 L788.7 698.5 L789.2 700.7 L789.6 700.9 L790.1 703.4 L790.5 699.3 L791.0 699.9 L791.4 701.2 L791.9 700.0 L792.3 698.8 L792.8 699.3 L793.2 696.5 L793.7 698.2 L794.1 700.2 L794.6 700.1 L795.0 698.7 L795.5 699.8 L795.9 705.6 L796.4 703.1 L796.8 701.4 L797.3 699.2 L797.7 703.3 L798.2 699.7 L798.6 697.3 L799.1 702.9 L799.5 705.7 L800.0 699.1 L800.4 698.7 L800.9 701.2 L801.3 703.9 L801.8 702.3 L802.2 702.4 L802.7 702.1 L803.1 704.5 L803.6 705.7 L804.0 703.4 L804.5 706.4 L804.9 703.4 L805.4 704.6 L805.8 703.6 L806.3 702.8 L806.7 703.0 L807.2 698.9 L807.6 703.1 L808.1 706.1 L808.5 705.1 L809.0 703.3 L809.4 702.1 L809.9 698.3 L810.3 701.2 L810.8 696.9 L811.2 699.6 L811.7 700.2 L812.1 694.4 L812.6 696.6 L813.0 699.1 L813.5 698.0 L813.9 697.7 L814.4 701.3 L814.8 702.7 L815.3 700.3 L815.7 699.3 L816.2 703.2 L816.6 705.7 L817.1 710.8 L817.5 709.6 L818.0 707.3 L818.4 711.2 L818.9 708.5 L819.3 708.6 L819.8 708.9 L820.2 710.6 L820.7 712.2 L821.1 712.1 L821.6 709.8 L822.0 711.7 L822.5 707.7 L822.9 710.5 L823.4 708.0 L823.8 711.5 L824.3 715.5 L824.7 713.3 L825.2 710.0 L825.6 712.8 L826.1 712.5 L826.5 710.3 L827.0 710.9 L827.4 708.7 L827.9 713.5 L828.3 710.5 L828.8 708.3 L829.2 707.5 L829.7 713.1 L830.1 707.8 L830.6 710.1 L831.0 709.3 L831.5 709.9 L831.9 711.4 L832.4 712.3 L832.8 710.3 L833.3 710.4 L833.7 712.1 L834.2 711.5 L834.6 712.5 L835.1 708.0 L835.5 712.3 L836.0 712.3 L836.4 707.7 L836.9 709.7 L837.3 710.4 L837.8 709.9 L838.2 711.2 L838.7 711.9 L839.1 711.6 L839.6 707.5 L840.0 712.1 L840.5 711.2 L840.9 708.1 L841.4 707.9 L841.8 710.8 L842.3 708.7 L842.7 708.7 L843.2 708.0 L843.6 711.9 L844.1 709.3 L844.5 712.1 L845.0 708.0 L845.4 709.1 L845.9 711.0 L846.3 712.3 L846.8 714.8 L847.2 711.8 L847.7 711.3 L848.1 710.1 L848.6 715.0 L849.0 713.0 L849.5 713.6 L849.9 713.6 L850.4 713.8 L850.8 713.2 L851.3 713.7 L851.7 713.8 L852.2 713.6 L852.6 714.7 L853.1 713.8 L853.5 710.5 L854.0 710.7 L854.4 711.6 L854.9 713.1 L855.3 714.1 L855.8 714.6 L856.2 714.0 L856.7 713.3 L857.1 711.5 L857.6 714.2 L858.0 714.6 L858.5 712.4 L858.9 715.0 L859.4 714.9 L859.8 713.1 L860.3 715.2 L860.7 715.3 L861.2 713.9 L861.6 714.9 L862.1 715.5 L862.5 715.1 L863.0 712.8 L863.4 716.4 L863.9 713.7 L864.3 717.6 L864.8 717.1 L865.2 718.4 L865.7 716.9 L866.1 715.9 L866.6 716.5 L867.0 714.7 L867.5 717.9 L867.9 717.3 L868.4 716.6 L868.8 718.8 L869.3 714.4 L869.7 717.0 L870.2 715.0 L870.6 713.9 L871.1 716.2 L871.5 715.5 L872.0 719.6 L872.4 716.3 L872.9 714.7 L873.3 720.2 L873.8 718.6 L874.2 719.2 L874.7 718.5 L875.1 718.7 L875.6 720.1 L876.0 720.1 L876.5 717.4 L876.9 720.1 L877.4 713.9 L877.8 717.6 L878.3 717.4 L878.7 717.6 L879.2 718.5 L879.6 718.0 L880.1 720.3 L880.5 714.5 L881.0 716.5 L881.4 718.5 L881.9 718.3 L882.3 715.9 L882.8 717.2 L883.2 717.0 L883.7 717.7 L884.1 717.6 L884.6 715.6 L885.0 716.5 L885.5 715.7 L885.9 717.7 L886.4 719.7 L886.8 720.3 L887.3 719.7 L887.7 718.7 L888.2 715.6 L888.6 719.2 L889.1 716.5 L889.5 717.6 L890.0 718.4 L890.4 720.0 L890.9 720.2 L891.3 718.1 L891.8 717.3 L892.2 721.0 L892.7 720.4 L893.1 718.0 L893.6 721.3 L894.0 718.6 L894.5 721.5 L894.9 721.9 L895.4 723.1 L895.8 720.4 L896.3 717.8 L896.7 723.1 L897.2 717.1 L897.6 719.5 L898.1 718.5 L898.5 720.1 L899.0 721.4 L899.4 721.9 L899.9 718.4 L900.3 716.2 L900.8 722.0 L901.2 722.6 L901.7 721.7 L902.1 723.1 L902.6 720.6 L903.0 720.9 L903.5 718.9 L903.9 722.4 L904.4 720.4 L904.8 722.5 L905.3 720.3 L905.7 719.7 L906.2 717.9 L906.6 720.9 L907.1 720.4 L907.5 721.8 L908.0 719.3 L908.4 721.7 L908.9 720.3 L909.3 721.0 L909.8 719.9 L910.2 720.7 L910.7 722.0 L911.1 723.4 L911.6 720.5 L912.0 721.4 L912.5 722.7 L912.9 720.4 L913.4 723.2 L913.8 720.2 L914.3 720.7 L914.7 721.7 L915.2 720.8 L915.6 721.8 L916.1 722.2 L916.5 721.7 L917.0 720.9 L917.4 718.7 L917.9 720.7 L918.3 721.8 L918.8 720.3 L919.2 722.5 L919.7 722.0 L920.1 722.1 L920.6 721.5 L921.0 722.3 L921.5 722.7 L921.9 721.8 L922.4 722.9 L922.8 720.3 L923.3 722.2 L923.7 722.8 L924.2 719.6 L924.6 721.7 L925.1 722.2 L925.5 721.2 L926.0 723.4 L926.4 725.2 L926.9 724.6 L927.3 723.1 L927.8 724.0 L928.2 725.7 L928.7 722.7 L929.1 723.3 L929.6 723.9 L930.0 724.6 L930.5 722.3 L930.9 724.1 L931.4 720.4 L931.8 724.2 L932.3 722.9 L932.7 723.6 L933.2 727.7 L933.6 723.9 L934.1 721.7 L934.5 724.9 L935.0 725.6 L935.4 724.2 L935.9 724.6 L936.3 725.5 L936.8 725.3 L937.2 722.9 L937.7 723.6 L938.1 725.2 L938.6 725.1 L939.0 724.5 L939.5 726.2 L939.9 725.5 L940.4 723.5 L940.8 725.1 L941.3 725.6 L941.7 722.2 L942.2 723.5 L942.6 724.2 L943.1 721.6 L943.5 726.2 L944.0 726.4 L944.4 720.6 L944.9 723.1 L945.3 726.5 L945.8 727.5 L946.2 725.3 L946.7 727.2 L947.1 725.2 L947.6 724.6 L948.0 726.6 L948.5 722.9 L948.9 723.0 L949.4 723.5 L949.8 723.1 L950.3 721.7 L950.7 721.9 L951.2 726.3 L951.6 723.7 L952.1 722.9 L952.5 721.9 L953.0 722.6 L953.4 723.8 L953.9 722.3 L954.3 726.0 L954.8 723.6 L955.2 725.1 L955.7 723.1 L956.1 724.0 L956.6 721.3 L957.0 722.5 L957.5 722.7 L957.9 724.6 L958.4 722.0 L958.8 725.3 L959.3 722.1 L959.7 723.5 L960.2 724.1 L960.6 723.4 L961.1 722.7 L961.5 722.7 L962.0 724.5 L962.4 723.0 L962.9 727.0 L963.3 725.4 L963.8 723.9 L964.2 722.3 L964.7 725.8 L965.1 727.2 L965.6 722.7 L966.0 721.4 L966.5 724.9 L966.9 726.5 L967.4 724.4 L967.8 721.9 L968.3 722.6 L968.7 724.5 L969.2 721.9 L969.6 724.0 L970.1 724.5 L970.5 725.4 L971.0 722.4 L971.4 724.2 L971.9 725.2 L972.3 724.1 L972.8 725.6 L973.2 724.1 L973.7 723.1 L974.1 722.6 L974.6 724.1 L975.0 724.5 L975.5 726.1 L975.9 725.0 L976.4 723.0 L976.8 725.3 L977.3 727.2 L977.7 723.2 L978.2 724.7 L978.6 721.4 L979.1 727.6 L979.5 725.4 L980.0 726.1 L980.4 724.3 L980.9 724.6 L981.3 723.9 L981.8 723.2 L982.2 726.9 L982.7 725.8 L983.1 723.2 L983.6 723.5 L984.0 724.2 L984.5 724.5 L984.9 726.5 L985.4 721.3 L985.8 722.7 L986.3 720.8 L986.7 722.8 L987.2 723.9 L987.6 726.5 L988.1 725.4 L988.5 725.4 L989.0 723.5 L989.4 727.3 L989.9 726.2 L990.3 724.0 L990.8 723.8 L991.2 725.9 L991.7 723.3 L992.1 723.9 L992.6 726.2 L993.0 725.6 L993.5 725.0 L993.9 725.7 L994.4 725.6 L994.8 725.6 L995.3 726.3 L995.7 723.3 L996.2 726.9 L996.6 725.2 L997.1 725.1 L997.5 725.3 L998.0 725.9 L998.4 728.6 L998.9 723.7 L999.3 723.5 L999.8 724.4 L1000.2 723.9 L1000.7 722.1 L1001.1 723.9 L1001.6 723.7 L1002.0 726.7 L1002.5 725.7 L1002.9 721.5 L1003.4 721.2 L1003.8 727.1 L1004.3 724.1 L1004.7 721.7 L1005.2 723.7 L1005.6 726.7 L1006.1 725.3 L1006.5 727.8 L1007.0 727.2 L1007.4 724.3 L1007.9 726.2 L1008.3 722.7 L1008.8 725.6 L1009.2 725.4 L1009.7 725.1 L1010.1 725.4 L1010.6 727.9 L1011.0 723.3 L1011.5 723.7 L1011.9 724.7 L1012.4 724.1 L1012.8 725.8 L1013.3 724.7 L1013.7 722.5 L1014.2 725.2 L1014.6 724.0 L1015.1 722.7 L1015.5 726.0 L1016.0 723.4 L1016.4 724.0 L1016.9 725.6 L1017.3 723.3 L1017.8 722.9 L1018.2 723.2 L1018.7 724.1 L1019.1 723.4 L1019.6 725.1 L1020.0 721.9 L1020.5 724.8 L1020.9 723.6 L1021.4 723.7 L1021.8 722.4 L1022.3 720.1 L1022.7 721.6 L1023.2 722.9 L1023.6 723.5 L1024.1 720.8 L1024.5 721.5 L1025.0 722.2 L1025.4 722.9 L1025.9 722.0 L1026.3 719.8 L1026.8 720.1 L1027.2 722.0 L1027.7 721.0 L1028.1 725.6 L1028.6 719.9 L1029.0 721.9 L1029.5 720.5 L1029.9 722.2 L1030.4 724.3 L1030.8 718.0 L1031.3 720.6 L1031.7 720.0 L1032.2 721.4 L1032.6 719.4 L1033.1 720.4 L1033.5 718.4 L1034.0 721.5 L1034.4 721.3 L1034.9 718.8 L1035.3 715.9 L1035.8 718.9 L1036.2 719.2 L1036.7 717.8 L1037.1 721.8 L1037.6 717.1 L1038.0 723.1 L1038.5 720.5 L1038.9 721.5 L1039.4 718.9 L1039.8 718.7 L1040.3 721.6 L1040.7 724.2 L1041.2 720.8 L1041.6 723.5 L1042.1 721.9 L1042.5 720.0 L1043.0 722.1 L1043.4 722.7 L1043.9 721.0 L1044.3 722.2 L1044.8 721.6 L1045.2 723.2 L1045.7 720.2 L1046.1 720.1 L1046.6 721.8 L1047.0 717.7 L1047.5 720.2 L1047.9 719.3 L1048.4 719.2 L1048.8 721.4 L1049.3 720.1 L1049.7 719.4 L1050.2 720.8 L1050.6 717.0 L1051.1 720.1 L1051.5 717.7 L1052.0 719.2 L1052.4 721.0 L1052.9 718.2 L1053.3 716.5 L1053.8 715.3 L1054.2 716.5 L1054.7 716.3 L1055.1 715.7 L1055.6 715.5 L1056.0 716.2 L1056.5 716.0 L1056.9 716.8 L1057.4 716.4 L1057.8 719.2 L1058.3 716.1 L1058.7 716.0 L1059.2 716.7 L1059.6 716.5 L1060.1 714.8 L1060.5 714.2 L1061.0 714.8 L1061.4 714.4 L1061.9 717.1 L1062.3 713.5 L1062.8 714.4 L1063.2 715.2 L1063.7 715.9 L1064.1 717.6 L1064.6 714.6 L1065.0 714.9 L1065.5 717.7 L1065.9 717.6 L1066.4 715.2 L1066.8 713.6 L1067.3 716.3 L1067.7 713.1 L1068.2 717.7 L1068.6 716.7 L1069.1 713.3 L1069.5 716.9 L1070.0 713.8 L1070.4 714.8 L1070.9 717.7 L1071.3 713.7 L1071.8 712.6 L1072.2 714.1 L1072.7 716.9 L1073.1 716.7 L1073.6 715.1 L1074.0 713.2 L1074.5 715.8 L1074.9 714.7 L1075.4 717.5 L1075.8 712.9 L1076.3 717.3 L1076.7 715.5 L1077.2 716.1 L1077.6 716.4 L1078.1 716.3 L1078.5 713.6 L1079.0 716.7 L1079.4 713.2 L1079.9 716.6 L1080.3 715.3 L1080.8 714.4 L1081.2 715.3 L1081.7 715.7 L1082.1 715.6 L1082.6 716.9 L1083.0 715.8 L1083.5 715.2 L1083.9 719.6 L1084.4 714.6 L1084.8 714.1 L1085.3 717.0 L1085.7 718.2 L1086.2 718.3 L1086.6 718.4 L1087.1 718.9 L1087.5 715.6 L1088.0 718.4 L1088.4 715.1 L1088.9 717.5 L1089.3 715.5 L1089.8 717.5 L1090.2 717.9 L1090.7 717.9 L1091.1 716.8 L1091.6 716.2 L1092.0 719.2 L1092.5 719.8 L1092.9 716.9 L1093.4 714.3 L1093.8 717.4 L1094.3 719.0 L1094.7 716.9 L1095.2 716.7 L1095.6 718.7 L1096.1 719.6 L1096.5 716.1 L1097.0 715.9 L1097.4 717.3 L1097.9 715.8 L1098.3 719.1 L1098.8 716.4 L1099.2 721.2 L1099.7 718.6 L1100.1 719.0 L1100.6 721.2 L1101.0 721.1 L1101.5 720.8 L1101.9 721.3 L1102.4 719.3 L1102.8 723.6 L1103.3 718.1 L1103.7 719.4 L1104.2 718.5 L1104.6 718.5 L1105.1 721.8 L1105.5 722.1 L1106.0 722.0 L1106.4 720.4 L1106.9 717.0 L1107.3 717.0 L1107.8 717.7 L1108.2 718.0 L1108.7 719.8 L1109.1 719.7 L1109.6 718.7 L1110.0 716.2 L1110.5 719.8 L1110.9 718.7 L1111.4 715.9 L1111.8 719.4 L1112.3 717.5 L1112.7 722.1 L1113.2 716.7 L1113.6 720.0 L1114.1 718.3 L1114.5 715.4 L1115.0 716.5 L1115.4 716.5 L1115.9 718.2 L1116.3 720.6 L1116.8 719.3 L1117.2 721.2 L1117.7 719.9 L1118.1 720.8 L1118.6 719.1 L1119.0 719.9 L1119.5 720.2 L1119.9 718.6 L1120.4 719.6 L1120.8 718.3 L1121.3 719.2 L1121.7 718.3 L1122.2 719.4 L1122.6 719.3 L1123.1 721.7 L1123.5 719.1 L1124.0 718.9 L1124.4 720.7 L1124.9 719.6 L1125.3 719.5 L1125.8 720.6 L1126.2 720.9 L1126.7 720.5 L1127.1 722.0 L1127.6 723.0 L1128.0 722.0 L1128.5 719.8 L1128.9 718.3 L1129.4 718.5 L1129.8 720.5 L1130.3 718.2 L1130.7 721.2 L1131.2 720.0 L1131.6 720.9 L1132.1 722.0 L1132.5 721.6 L1133.0 718.2 L1133.4 718.9 L1133.9 723.9 L1134.3 721.4 L1134.8 723.9 L1135.2 721.3 L1135.7 722.0 L1136.1 720.4 L1136.6 722.0 L1137.0 722.3 L1137.5 721.1 L1137.9 722.0 L1138.4 720.8 L1138.8 717.2 L1139.3 721.3 L1139.7 721.8 L1140.2 719.3 L1140.6 722.2 L1141.1 719.1 L1141.5 720.9 L1142.0 722.2 L1142.4 718.1 L1142.9 723.1 L1143.3 722.7 L1143.8 724.3 L1144.2 722.5 L1144.7 723.4 L1145.1 723.7 L1145.6 723.9 L1146.0 722.4 L1146.5 726.0 L1146.9 721.9 L1147.4 723.3 L1147.8 724.3 L1148.3 722.5 L1148.7 725.1 L1149.2 722.7 L1149.6 722.4 L1150.1 724.1 L1150.5 726.2 L1151.0 723.0 L1151.4 725.0 L1151.9 722.4 L1152.3 723.3 L1152.8 723.5 L1153.2 724.6 L1153.7 724.4 L1154.1 722.6 L1154.6 723.1 L1155.0 723.9 L1155.5 725.2 L1155.9 728.5 L1156.4 724.9 L1156.8 727.8 L1157.3 728.5 L1157.7 724.9 L1158.2 724.3 L1158.6 727.4 L1159.1 723.7 L1159.5 728.1 L1160.0 725.8 L1160.4 727.1 L1160.9 726.5 L1161.3 723.3 L1161.8 727.3 L1162.2 726.3 L1162.7 722.1 L1163.1 722.8 L1163.6 725.8 L1164.0 725.6 L1164.5 725.3 L1164.9 725.5 L1165.4 723.9 L1165.8 724.6 L1166.3 727.2 L1166.7 721.7 L1167.2 721.0 L1167.6 726.9 L1168.1 725.6 L1168.5 727.2 L1169.0 725.8 L1169.4 726.2 L1169.9 725.1 L1170.3 722.7 L1170.8 723.5 L1171.2 726.6 L1171.7 725.8 L1172.1 727.0 L1172.6 728.5 L1173.0 726.4 L1173.5 729.9 L1173.9 726.3 L1174.4 727.3 L1174.8 728.6 L1175.3 728.9 L1175.7 727.4 L1176.2 729.2 L1176.6 725.5 L1177.1 728.5 L1177.5 729.3 L1178.0 728.0 L1178.4 727.8 L1178.9 727.9 L1179.3 726.3 L1179.8 730.4 L1180.2 727.8 L1180.7 727.1 L1181.1 727.4 L1181.6 728.0 L1182.0 726.5 L1182.5 725.4 L1182.9 728.8 L1183.4 726.4 L1183.8 726.7 L1184.3 724.5 L1184.7 728.0 L1185.2 728.6 L1185.6 728.3 L1186.1 728.0 L1186.5 724.7 L1187.0 730.0 L1187.4 728.5 L1187.9 727.1 L1188.3 729.1 L1188.8 728.4 L1189.2 728.7 L1189.7 727.4 L1190.1 728.4 L1190.6 727.8 L1191.0 729.1 L1191.5 727.9 L1191.9 728.6 L1192.4 728.0 L1192.8 728.8 L1193.3 729.0 L1193.7 728.0 L1194.2 729.2 L1194.6 727.6 L1195.1 731.8 L1195.5 729.2 L1196.0 729.3 L1196.4 725.3 L1196.9 726.8 L1197.3 727.6 L1197.8 728.3 L1198.2 728.2 L1198.7 728.5 L1199.1 726.3 L1199.6 731.0 L1200.0 728.6 L1200.5 729.2 L1200.9 728.5 L1201.4 728.6 L1201.8 728.5 L1202.3 731.1 L1202.7 728.0 L1203.2 729.5 L1203.6 730.6 L1204.1 726.8 L1204.5 727.5 L1205.0 727.3 L1205.4 729.7 L1205.9 726.7 L1206.3 728.8 L1206.8 729.4 L1207.2 729.0 L1207.7 727.1 L1208.1 732.3 L1208.6 728.7 L1209.0 728.9 L1209.5 731.5 L1209.9 729.0 L1210.4 728.9 L1210.8 728.2 L1211.3 728.8 L1211.7 729.6 L1212.2 731.0 L1212.6 729.0 L1213.1 729.5 L1213.5 726.4 L1214.0 729.6 L1214.4 730.6 L1214.9 731.1 L1215.3 727.2 L1215.8 728.4 L1216.2 727.5 L1216.7 729.8 L1217.1 732.0 L1217.6 727.9 L1218.0 730.9 L1218.5 729.4 L1218.9 731.9 L1219.4 729.5 L1219.8 727.8 L1220.3 729.6 L1220.7 730.0 L1221.2 729.6 L1221.6 729.1 L1222.1 730.9 L1222.5 730.7 L1223.0 729.4 L1223.4 730.6 L1223.9 730.0 L1224.3 731.4 L1224.8 732.0 L1225.2 732.1 L1225.7 728.8 L1226.1 730.4 L1226.6 729.3 L1227.0 730.3 L1227.5 730.7 L1227.9 729.9 L1228.4 729.9 L1228.8 731.5 L1229.3 729.7 L1229.7 729.5 L1230.2 728.8 L1230.6 728.5 L1231.1 731.4 L1231.5 731.8 L1232.0 729.8 L1232.4 729.0 L1232.9 732.0 L1233.3 729.4 L1233.8 728.7 L1234.2 729.1 L1234.7 730.6 L1235.1 729.8 L1235.6 731.9 L1236.0 731.1 L1236.5 730.3 L1236.9 727.6 L1237.4 729.0 L1237.8 732.8 L1238.3 732.7 L1238.7 732.1 L1239.2 732.4 L1239.6 731.8 L1240.1 731.8 L1240.5 730.5 L1241.0 733.1 L1241.4 732.9 L1241.9 730.6 L1242.3 730.5 L1242.8 732.8 L1243.2 731.3 L1243.7 734.5 L1244.1 732.3 L1244.6 730.5 L1245.0 731.3 L1245.5 730.9 L1245.9 730.8 L1246.4 732.8 L1246.8 730.6 L1247.3 730.1 L1247.7 728.2 L1248.2 732.4 L1248.6 731.9 L1249.1 728.4 L1249.5 733.2 L1250.0 730.9 L1250.4 734.1 L1250.9 731.8 L1251.3 730.8 L1251.8 732.7 L1252.2 733.4 L1252.7 730.1 L1253.1 732.2 L1253.6 732.6 L1254.0 731.3 L1254.5 730.1 L1254.9 730.7 L1255.4 732.9 L1255.8 732.7 L1256.3 731.7 L1256.7 733.9 L1257.2 732.2 L1257.6 732.7 L1258.1 732.3 L1258.5 731.6 L1259.0 731.2 L1259.4 732.3 L1259.9 730.7 L1260.3 731.3 L1260.8 727.7 L1261.2 729.7 L1261.7 729.5 L1262.1 734.1 L1262.6 728.6 L1263.0 731.8 L1263.5 732.8 L1263.9 730.9 L1264.4 731.0 L1264.8 731.5 L1265.3 728.2 L1265.7 730.8 L1266.2 732.7 L1266.6 731.8 L1267.1 730.6 L1267.5 730.4 L1268.0 731.8 L1268.4 729.0 L1268.9 730.5 L1269.3 731.6 L1269.8 728.3 L1270.2 729.6 L1270.7 731.0 L1271.1 732.9 L1271.6 728.5 L1272.0 731.4 L1272.5 732.8 L1272.9 731.3 L1273.4 730.5 L1273.8 730.6 L1274.3 728.9 L1274.7 732.8 L1275.2 728.8 L1275.6 730.7 L1276.1 730.3 L1276.5 731.5 L1277.0 730.3 L1277.4 732.8 L1277.9 728.4 L1278.3 728.1 L1278.8 731.1 L1279.2 729.3 L1279.7 732.4 L1280.1 732.5 L1280.6 732.9 L1281.0 730.4 L1281.5 731.0 L1281.9 731.5 L1282.4 732.5 L1282.8 732.4 L1283.3 733.5 L1283.7 731.7 L1284.2 735.3 L1284.6 732.8 L1285.1 733.0 L1285.5 728.9 L1286.0 730.8 L1286.4 733.3 L1286.9 730.9 L1287.3 730.7 L1287.8 729.7 L1288.2 730.9 L1288.7 732.2 L1289.1 731.1 L1289.6 732.8 L1290.0 729.8 L1290.5 732.1 L1290.9 731.6 L1291.4 731.8 L1291.8 729.7 L1292.3 731.9 L1292.7 732.4 L1293.2 730.0 L1293.6 734.8 L1294.1 732.3 L1294.5 730.4 L1295.0 733.9 L1295.4 730.5 L1295.9 732.4 L1296.3 729.4 L1296.8 733.2 L1297.2 732.0 L1297.7 731.3 L1298.1 730.2 L1298.6 729.7 L1299.0 733.5 L1299.5 731.2 L1299.9 733.4 L1300.4 730.4 L1300.8 732.1 L1301.3 730.6 L1301.7 733.0 L1302.2 729.8 L1302.6 733.8 L1303.1 731.0 L1303.5 733.5 L1304.0 733.1 L1304.4 732.9 L1304.9 732.9 L1305.3 735.3 L1305.8 731.3 L1306.2 731.7 L1306.7 734.3 L1307.1 733.6 L1307.6 734.5 L1308.0 733.0 L1308.5 731.9 L1308.9 732.4 L1309.4 733.2 L1309.8 733.6 L1310.3 733.0 L1310.7 731.5 L1311.2 732.4 L1311.6 735.1 L1312.1 731.7 L1312.5 734.9 L1313.0 730.9 L1313.4 731.7 L1313.9 730.9 L1314.3 734.5 L1314.8 732.5 L1315.2 733.0 L1315.7 735.2 L1316.1 734.0 L1316.6 731.5 L1317.0 732.0 L1317.5 731.0 L1317.9 734.5 L1318.4 733.2 L1318.8 731.9 L1319.3 733.0 L1319.7 733.8 L1320.2 734.2 L1320.6 736.0 L1321.1 731.7 L1321.5 733.9 L1322.0 734.1 L1322.4 733.2 L1322.9 729.0 L1323.3 730.8 L1323.8 735.5 L1324.2 731.6 L1324.7 733.1 L1325.1 731.6 L1325.6 735.5 L1326.0 734.0 L1326.5 731.4 L1326.9 730.9 L1327.4 733.5 L1327.8 734.0 L1328.3 731.8 L1328.7 733.4 L1329.2 732.4 L1329.6 732.3 L1330.1 732.4 L1330.5 730.0 L1331.0 731.0 L1331.4 732.5 L1331.9 732.1 L1332.3 734.3 L1332.8 730.3 L1333.2 733.0 L1333.7 735.9 L1334.1 733.3 L1334.6 733.8 L1335.0 732.1 L1335.5 732.2 L1335.9 733.4 L1336.4 731.6 L1336.8 731.2 L1337.3 731.0 L1337.7 731.2 L1338.2 734.5 L1338.6 734.2 L1339.1 734.7 L1339.5 733.6 L1340.0 733.8 L1340.4 731.7 L1340.9 733.3 L1341.3 734.6 L1341.8 732.6 L1342.2 731.2 L1342.7 734.4 L1343.1 732.0 L1343.6 734.6 L1344.0 733.0 L1344.5 732.5 L1344.9 732.5 L1345.4 732.7 L1345.8 734.1 L1346.3 734.2 L1346.7 734.6 L1347.2 733.9 L1347.6 733.6 L1348.1 734.5 L1348.5 733.2 L1349.0 732.8 L1349.4 733.7 L1349.9 733.5 L1350.3 731.8 L1350.8 732.6 L1351.2 735.0 L1351.7 734.4 L1352.1 733.9 L1352.6 734.9 L1353.0 735.0 L1353.5 736.1 L1353.9 735.4 L1354.4 734.5 L1354.8 734.8 L1355.3 734.6 L1355.7 731.6 L1356.2 736.6 L1356.6 732.7 L1357.1 735.2 L1357.5 733.6 L1358.0 733.2 L1358.4 736.1 L1358.9 733.3 L1359.3 733.9 L1359.8 731.2 L1360.2 735.5 L1360.7 734.0 L1361.1 733.4 L1361.6 735.9 L1362.0 734.3 L1362.5 730.9 L1362.9 735.2 L1363.4 732.9 L1363.8 733.2 L1364.3 733.2 L1364.7 732.0 L1365.2 733.5 L1365.6 734.3 L1366.1 735.7 L1366.5 736.3 L1367.0 733.6 L1367.4 736.9 L1367.9 734.1 L1368.3 736.1 L1368.8 734.5 L1369.2 734.2 L1369.7 730.8 L1370.1 735.7 L1370.6 731.9 L1371.0 735.0 L1371.5 731.9 L1371.9 731.7 L1372.4 732.3 L1372.8 732.7 L1373.3 733.1 L1373.7 735.1 L1374.2 735.3 L1374.6 735.3 L1375.1 736.0 L1375.5 735.2 L1376.0 734.8 L1376.4 734.0 L1376.9 735.6 L1377.3 733.5 L1377.8 730.7 L1378.2 732.0 L1378.7 734.9 L1379.1 732.7 L1379.6 732.3 L1380.0 734.7 L1380.5 733.3 L1380.9 733.4 L1381.4 733.4 L1381.8 735.5 L1382.3 734.0 L1382.7 733.9 L1383.2 734.0 L1383.6 733.0 L1384.1 733.6 L1384.5 736.5 L1385.0 734.1 L1385.4 735.8 L1385.9 733.3 L1386.3 733.7 L1386.8 733.1 L1387.2 734.3 L1387.7 735.7 L1388.1 733.7 L1388.6 733.9 L1389.0 732.4 L1389.5 735.6 L1389.9 735.6 L1390.4 734.8 L1390.8 736.3 L1391.3 735.7 L1391.7 734.5 L1392.2 732.5 L1392.6 734.6 L1393.1 733.4 L1393.5 735.1 L1394.0 735.8 L1394.4 733.9 L1394.9 731.9 L1395.3 735.7 L1395.8 735.2 L1396.2 735.3 L1396.7 732.2 L1397.1 733.4 L1397.6 735.2 L1398.0 735.5 L1398.5 735.3 L1398.9 731.4 L1399.4 736.5 L1399.8 733.3 L1400.3 733.4 L1400.7 735.4 L1401.2 733.7 L1401.6 733.6 L1402.1 734.5 L1402.5 734.2 L1403.0 734.4 L1403.4 733.9 L1403.9 733.1 L1404.3 733.8 L1404.8 734.1 L1405.2 734.0 L1405.7 735.2 L1406.1 736.9 L1406.6 732.7 L1407.0 734.5 L1407.5 734.7 L1407.9 732.7 L1408.4 733.5 L1408.8 733.6 L1409.3 733.8 L1409.7 733.6 L1410.2 733.5 L1410.6 735.1 L1411.1 732.1 L1411.5 734.7 L1412.0 735.0 L1412.4 734.6 L1412.9 732.0 L1413.3 731.8 L1413.8 733.3 L1414.2 732.8 L1414.7 732.6 L1415.1 735.5 L1415.6 732.6" fill="none" stroke="#ff00ff" stroke-width="2.6" stroke-linejoin="round"/>
<path d="M106.5 831.1 L107.0 831.9 L107.4 832.9 L107.9 828.3 L108.3 831.0 L108.8 830.1 L109.2 830.1 L109.7 828.7 L110.1 830.7 L110.6 830.1 L111.0 828.0 L111.5 828.8 L111.9 832.5 L112.4 827.6 L112.8 827.2 L113.3 828.8 L113.7 830.7 L114.2 829.7 L114.6 828.5 L115.1 829.9 L115.5 828.8 L116.0 829.6 L116.4 830.9 L116.9 827.5 L117.3 829.1 L117.8 827.2 L118.2 826.7 L118.7 827.6 L119.1 830.3 L119.6 832.4 L120.0 832.1 L120.5 829.1 L120.9 831.1 L121.4 830.3 L121.8 832.2 L122.3 830.3 L122.7 829.7 L123.2 830.5 L123.6 831.4 L124.1 828.6 L124.5 830.1 L125.0 828.0 L125.4 831.7 L125.9 828.0 L126.3 829.1 L126.8 830.5 L127.2 830.6 L127.7 828.9 L128.1 829.4 L128.6 827.8 L129.0 825.0 L129.5 826.5 L129.9 829.3 L130.4 830.0 L130.8 826.2 L131.3 828.3 L131.7 828.6 L132.2 826.5 L132.6 829.0 L133.1 829.6 L133.5 830.3 L134.0 829.7 L134.4 829.0 L134.9 831.6 L135.3 829.3 L135.8 828.5 L136.2 829.8 L136.7 829.4 L137.1 830.9 L137.6 830.0 L138.0 832.9 L138.5 831.7 L138.9 829.9 L139.4 830.0 L139.8 829.6 L140.3 831.2 L140.7 830.6 L141.2 831.5 L141.6 830.2 L142.1 831.1 L142.5 831.1 L143.0 829.4 L143.4 833.7 L143.9 830.6 L144.3 830.8 L144.8 831.0 L145.2 829.0 L145.7 832.3 L146.1 830.0 L146.6 831.5 L147.0 832.0 L147.5 830.1 L147.9 831.6 L148.4 831.0 L148.8 829.0 L149.3 831.1 L149.7 829.2 L150.2 830.8 L150.6 828.6 L151.1 829.8 L151.5 828.3 L152.0 830.5 L152.4 830.3 L152.9 829.5 L153.3 828.0 L153.8 826.7 L154.2 831.6 L154.7 829.5 L155.1 828.1 L155.6 830.0 L156.0 830.0 L156.5 830.7 L156.9 827.3 L157.4 829.9 L157.8 831.1 L158.3 831.9 L158.7 830.8 L159.2 830.2 L159.6 831.2 L160.1 830.3 L160.5 827.7 L161.0 830.4 L161.4 828.5 L161.9 833.0 L162.3 830.7 L162.8 832.0 L163.2 832.3 L163.7 829.6 L164.1 829.8 L164.6 832.1 L165.0 831.3 L165.5 830.0 L165.9 830.1 L166.4 832.4 L166.8 833.8 L167.3 831.8 L167.7 831.0 L168.2 831.1 L168.6 829.0 L169.1 831.6 L169.5 832.1 L170.0 829.1 L170.4 831.2 L170.9 831.4 L171.3 831.6 L171.8 830.8 L172.2 830.0 L172.7 831.9 L173.1 829.4 L173.6 832.1 L174.0 830.5 L174.5 831.1 L174.9 831.4 L175.4 830.2 L175.8 832.1 L176.3 829.0 L176.7 831.0 L177.2 828.9 L177.6 832.0 L178.1 829.6 L178.5 831.3 L179.0 828.0 L179.4 832.0 L179.9 827.8 L180.3 827.3 L180.8 827.5 L181.2 830.8 L181.7 830.4 L182.1 829.8 L182.6 829.3 L183.0 830.9 L183.5 832.5 L183.9 831.0 L184.4 829.3 L184.8 833.3 L185.3 832.0 L185.7 832.1 L186.2 830.0 L186.6 829.6 L187.1 831.2 L187.5 829.2 L188.0 832.1 L188.4 830.0 L188.9 832.8 L189.3 831.6 L189.8 830.2 L190.2 832.0 L190.7 832.7 L191.1 828.7 L191.6 832.6 L192.0 832.2 L192.5 828.5 L192.9 831.0 L193.4 831.8 L193.8 833.7 L194.3 832.0 L194.7 831.3 L195.2 829.7 L195.6 831.1 L196.1 832.0 L196.5 830.6 L197.0 830.8 L197.4 832.4 L197.9 832.0 L198.3 832.1 L198.8 831.5 L199.2 832.8 L199.7 829.7 L200.1 829.2 L200.6 835.0 L201.0 832.7 L201.5 829.8 L201.9 828.7 L202.4 834.2 L202.8 830.8 L203.3 831.7 L203.7 835.6 L204.2 830.1 L204.6 828.2 L205.1 832.1 L205.5 829.7 L206.0 834.6 L206.4 829.6 L206.9 829.9 L207.3 829.8 L207.8 830.1 L208.2 829.4 L208.7 828.7 L209.1 829.8 L209.6 827.5 L210.0 827.1 L210.5 828.6 L210.9 828.0 L211.4 830.1 L211.8 830.3 L212.3 830.9 L212.7 831.8 L213.2 827.0 L213.6 827.9 L214.1 829.7 L214.5 829.9 L215.0 831.3 L215.4 828.3 L215.9 827.8 L216.3 830.7 L216.8 830.4 L217.2 828.0 L217.7 829.5 L218.1 828.4 L218.6 830.7 L219.0 830.1 L219.5 829.5 L219.9 828.2 L220.4 828.2 L220.8 830.2 L221.3 827.2 L221.7 827.7 L222.2 830.5 L222.6 830.7 L223.1 829.9 L223.5 828.2 L224.0 827.4 L224.4 829.6 L224.9 828.9 L225.3 828.4 L225.8 830.4 L226.2 830.4 L226.7 826.1 L227.1 834.0 L227.6 830.0 L228.0 829.3 L228.5 829.3 L228.9 831.4 L229.4 830.4 L229.8 829.3 L230.3 829.0 L230.7 830.4 L231.2 832.5 L231.6 830.4 L232.1 831.0 L232.5 829.8 L233.0 830.4 L233.4 829.9 L233.9 830.8 L234.3 830.4 L234.8 826.8 L235.2 826.3 L235.7 828.1 L236.1 825.4 L236.6 827.9 L237.0 826.4 L237.5 825.5 L237.9 824.3 L238.4 824.9 L238.8 824.7 L239.3 829.7 L239.7 827.5 L240.2 828.5 L240.6 826.8 L241.1 827.1 L241.5 826.6 L242.0 828.2 L242.4 827.3 L242.9 826.6 L243.3 825.8 L243.8 824.6 L244.2 824.7 L244.7 828.1 L245.1 825.6 L245.6 828.4 L246.0 823.6 L246.5 826.9 L246.9 828.3 L247.4 823.7 L247.8 824.1 L248.3 826.6 L248.7 826.9 L249.2 827.0 L249.6 825.4 L250.1 827.1 L250.5 827.3 L251.0 822.2 L251.4 824.0 L251.9 825.0 L252.3 824.2 L252.8 824.2 L253.2 825.2 L253.7 822.0 L254.1 824.1 L254.6 826.9 L255.0 825.0 L255.5 824.0 L255.9 823.8 L256.4 825.9 L256.8 825.3 L257.3 825.5 L257.7 822.9 L258.2 823.8 L258.6 824.0 L259.1 824.0 L259.5 825.0 L260.0 825.4 L260.4 826.3 L260.9 824.0 L261.3 822.9 L261.8 825.5 L262.2 824.0 L262.7 823.6 L263.1 822.9 L263.6 822.0 L264.0 823.7 L264.5 822.1 L264.9 823.2 L265.4 824.1 L265.8 826.2 L266.3 823.5 L266.7 823.0 L267.2 824.5 L267.6 825.9 L268.1 823.0 L268.5 824.2 L269.0 825.2 L269.4 822.1 L269.9 821.6 L270.3 824.3 L270.8 821.7 L271.2 820.2 L271.7 822.0 L272.1 823.9 L272.6 823.5 L273.0 820.9 L273.5 824.2 L273.9 821.6 L274.4 823.0 L274.8 820.3 L275.3 823.2 L275.7 825.5 L276.2 820.9 L276.6 820.0 L277.1 821.4 L277.5 822.3 L278.0 823.4 L278.4 821.6 L278.9 822.1 L279.3 821.4 L279.8 819.6 L280.2 823.3 L280.7 821.0 L281.1 824.0 L281.6 819.5 L282.0 819.8 L282.5 821.6 L282.9 821.9 L283.4 822.7 L283.8 822.8 L284.3 822.1 L284.7 818.0 L285.2 824.5 L285.6 821.0 L286.1 819.0 L286.5 820.6 L287.0 818.3 L287.4 822.1 L287.9 820.4 L288.3 820.5 L288.8 819.0 L289.2 820.9 L289.7 820.1 L290.1 817.9 L290.6 818.9 L291.0 819.6 L291.5 816.7 L291.9 820.7 L292.4 817.7 L292.8 819.0 L293.3 818.8 L293.7 815.7 L294.2 818.1 L294.6 815.0 L295.1 817.8 L295.5 815.9 L296.0 817.5 L296.4 815.2 L296.9 814.2 L297.3 817.0 L297.8 812.6 L298.2 814.9 L298.7 815.6 L299.1 817.2 L299.6 817.3 L300.0 816.3 L300.5 815.1 L300.9 814.9 L301.4 814.4 L301.8 817.2 L302.3 813.2 L302.7 816.0 L303.2 818.9 L303.6 818.8 L304.1 820.2 L304.5 819.4 L305.0 816.8 L305.4 818.3 L305.9 812.8 L306.3 817.1 L306.8 818.3 L307.2 816.0 L307.7 817.4 L308.1 818.8 L308.6 815.9 L309.0 818.0 L309.5 814.7 L309.9 817.7 L310.4 816.0 L310.8 812.3 L311.3 813.7 L311.7 814.7 L312.2 811.1 L312.6 812.8 L313.1 817.7 L313.5 813.4 L314.0 816.4 L314.4 810.7 L314.9 810.4 L315.3 813.3 L315.8 812.4 L316.2 815.3 L316.7 809.0 L317.1 812.7 L317.6 813.7 L318.0 814.3 L318.5 813.6 L318.9 811.4 L319.4 812.8 L319.8 811.7 L320.3 811.2 L320.7 812.5 L321.2 811.1 L321.6 810.0 L322.1 810.6 L322.5 812.0 L323.0 813.5 L323.4 812.3 L323.9 808.9 L324.3 810.0 L324.8 815.1 L325.2 811.3 L325.7 812.5 L326.1 811.3 L326.6 808.2 L327.0 809.9 L327.5 808.6 L327.9 810.8 L328.4 810.1 L328.8 806.5 L329.3 809.2 L329.7 809.1 L330.2 809.0 L330.6 810.4 L331.1 809.9 L331.5 811.6 L332.0 805.2 L332.4 809.9 L332.9 811.5 L333.3 807.1 L333.8 808.6 L334.2 807.0 L334.7 804.0 L335.1 809.0 L335.6 804.9 L336.0 806.2 L336.5 805.3 L336.9 805.0 L337.4 803.7 L337.8 802.1 L338.3 806.2 L338.7 805.2 L339.2 807.8 L339.6 804.4 L340.1 807.6 L340.5 804.8 L341.0 800.8 L341.4 805.5 L341.9 806.6 L342.3 805.7 L342.8 808.3 L343.2 805.9 L343.7 803.8 L344.1 801.4 L344.6 801.8 L345.0 805.0 L345.5 801.2 L345.9 802.9 L346.4 804.6 L346.8 805.1 L347.3 805.0 L347.7 801.3 L348.2 803.2 L348.6 804.1 L349.1 801.2 L349.5 800.7 L350.0 800.7 L350.4 801.4 L350.9 800.4 L351.3 806.9 L351.8 801.5 L352.2 803.1 L352.7 801.2 L353.1 803.4 L353.6 807.6 L354.0 802.6 L354.5 805.9 L354.9 801.8 L355.4 801.8 L355.8 801.8 L356.3 802.9 L356.7 798.1 L357.2 797.4 L357.6 799.1 L358.1 800.0 L358.5 797.0 L359.0 797.9 L359.4 798.4 L359.9 799.0 L360.3 797.8 L360.8 792.7 L361.2 797.7 L361.7 798.8 L362.1 794.6 L362.6 798.6 L363.0 795.8 L363.5 796.2 L363.9 793.3 L364.4 800.2 L364.8 801.7 L365.3 796.2 L365.7 792.5 L366.2 793.3 L366.6 794.7 L367.1 795.3 L367.5 794.7 L368.0 797.1 L368.4 793.7 L368.9 794.6 L369.3 794.8 L369.8 794.7 L370.2 790.8 L370.7 794.3 L371.1 788.4 L371.6 791.7 L372.0 787.7 L372.5 788.9 L372.9 790.3 L373.4 788.3 L373.8 792.0 L374.3 785.7 L374.7 784.2 L375.2 784.5 L375.6 789.7 L376.1 784.7 L376.5 790.2 L377.0 785.3 L377.4 782.3 L377.9 783.2 L378.3 785.8 L378.8 783.5 L379.2 781.6 L379.7 785.1 L380.1 785.9 L380.6 781.9 L381.0 782.1 L381.5 785.2 L381.9 783.4 L382.4 781.7 L382.8 782.4 L383.3 785.3 L383.7 783.7 L384.2 782.0 L384.6 776.3 L385.1 779.8 L385.5 777.6 L386.0 778.2 L386.4 782.1 L386.9 778.8 L387.3 776.0 L387.8 779.8 L388.2 772.4 L388.7 781.2 L389.1 776.7 L389.6 778.0 L390.0 776.5 L390.5 779.2 L390.9 773.7 L391.4 773.8 L391.8 770.1 L392.3 769.5 L392.7 774.5 L393.2 770.4 L393.6 774.5 L394.1 768.4 L394.5 770.1 L395.0 764.5 L395.4 770.6 L395.9 766.4 L396.3 768.2 L396.8 770.6 L397.2 769.0 L397.7 770.2 L398.1 768.2 L398.6 766.5 L399.0 762.4 L399.5 763.9 L399.9 766.3 L400.4 762.3 L400.8 763.4 L401.3 760.7 L401.7 765.7 L402.2 761.3 L402.6 758.2 L403.1 763.2 L403.5 757.3 L404.0 759.1 L404.4 763.1 L404.9 759.6 L405.3 753.4 L405.8 751.4 L406.2 754.1 L406.7 753.5 L407.1 751.8 L407.6 754.0 L408.0 752.4 L408.5 751.3 L408.9 746.3 L409.4 746.0 L409.8 751.6 L410.3 745.9 L410.7 755.5 L411.2 745.9 L411.6 747.8 L412.1 749.3 L412.5 751.2 L413.0 748.6 L413.4 748.1 L413.9 740.9 L414.3 742.7 L414.8 745.8 L415.2 742.7 L415.7 747.3 L416.1 742.7 L416.6 743.0 L417.0 744.3 L417.5 745.3 L417.9 739.2 L418.4 739.4 L418.8 733.9 L419.3 737.1 L419.7 740.0 L420.2 739.3 L420.6 741.0 L421.1 735.4 L421.5 737.6 L422.0 729.4 L422.4 733.6 L422.9 738.9 L423.3 727.7 L423.8 730.0 L424.2 731.6 L424.7 728.6 L425.1 726.3 L425.6 730.8 L426.0 727.6 L426.5 731.7 L426.9 727.5 L427.4 726.3 L427.8 723.8 L428.3 726.2 L428.7 721.7 L429.2 722.1 L429.6 723.9 L430.1 720.4 L430.5 726.4 L431.0 716.0 L431.4 719.5 L431.9 725.3 L432.3 724.0 L432.8 720.6 L433.2 723.0 L433.7 715.9 L434.1 717.4 L434.6 711.4 L435.0 716.4 L435.5 717.8 L435.9 719.2 L436.4 712.6 L436.8 719.9 L437.3 716.9 L437.7 715.7 L438.2 711.3 L438.6 714.7 L439.1 711.4 L439.5 714.8 L440.0 717.4 L440.4 712.9 L440.9 709.2 L441.3 712.7 L441.8 711.7 L442.2 714.7 L442.7 712.8 L443.1 716.3 L443.6 703.8 L444.0 709.8 L444.5 708.5 L444.9 709.3 L445.4 702.8 L445.8 711.6 L446.3 707.7 L446.7 704.5 L447.2 708.2 L447.6 710.4 L448.1 707.9 L448.5 708.1 L449.0 705.7 L449.4 713.8 L449.9 703.9 L450.3 708.1 L450.8 704.9 L451.2 705.7 L451.7 710.5 L452.1 706.7 L452.6 709.1 L453.0 704.8 L453.5 706.5 L453.9 709.6 L454.4 702.5 L454.8 699.1 L455.3 705.4 L455.7 704.1 L456.2 708.2 L456.6 704.5 L457.1 698.3 L457.5 702.7 L458.0 697.4 L458.4 702.1 L458.9 700.3 L459.3 702.9 L459.8 699.5 L460.2 705.8 L460.7 704.6 L461.1 701.6 L461.6 703.6 L462.0 706.3 L462.5 700.3 L462.9 699.7 L463.4 710.0 L463.8 700.5 L464.3 701.0 L464.7 700.5 L465.2 701.9 L465.6 708.0 L466.1 709.7 L466.5 708.5 L467.0 707.7 L467.4 704.2 L467.9 708.6 L468.3 705.3 L468.8 707.7 L469.2 704.6 L469.7 705.3 L470.1 710.4 L470.6 707.3 L471.0 709.1 L471.5 707.7 L471.9 705.6 L472.4 713.0 L472.8 708.9 L473.3 707.3 L473.7 711.8 L474.2 713.7 L474.6 711.2 L475.1 705.1 L475.5 711.2 L476.0 709.8 L476.4 708.3 L476.9 709.2 L477.3 711.5 L477.8 712.0 L478.2 709.3 L478.7 711.8 L479.1 705.9 L479.6 707.2 L480.0 714.4 L480.5 716.4 L480.9 710.6 L481.4 711.6 L481.8 713.4 L482.3 713.0 L482.7 712.9 L483.2 712.4 L483.6 714.4 L484.1 717.1 L484.5 713.6 L485.0 715.5 L485.4 716.7 L485.9 716.7 L486.3 714.6 L486.8 719.9 L487.2 713.8 L487.7 716.0 L488.1 719.3 L488.6 718.9 L489.0 718.6 L489.5 717.6 L489.9 721.4 L490.4 722.9 L490.8 729.2 L491.3 717.8 L491.7 720.4 L492.2 726.4 L492.6 724.7 L493.1 725.1 L493.5 727.9 L494.0 729.2 L494.4 726.3 L494.9 726.8 L495.3 723.3 L495.8 729.9 L496.2 730.9 L496.7 730.6 L497.1 726.1 L497.6 724.2 L498.0 731.5 L498.5 727.4 L498.9 727.7 L499.4 734.8 L499.8 730.2 L500.3 729.1 L500.7 733.6 L501.2 730.7 L501.6 734.5 L502.1 737.4 L502.5 731.5 L503.0 728.9 L503.4 733.4 L503.9 737.8 L504.3 739.4 L504.8 738.7 L505.2 737.5 L505.7 738.4 L506.1 734.0 L506.6 730.8 L507.0 738.1 L507.5 736.5 L507.9 737.8 L508.4 736.4 L508.8 742.1 L509.3 735.7 L509.7 738.4 L510.2 744.4 L510.6 740.4 L511.1 741.2 L511.5 743.8 L512.0 742.3 L512.4 745.7 L512.9 747.1 L513.3 745.5 L513.8 746.6 L514.2 745.1 L514.7 744.6 L515.1 742.6 L515.6 750.0 L516.0 748.1 L516.5 741.8 L516.9 747.9 L517.4 747.2 L517.8 750.3 L518.3 749.1 L518.7 748.5 L519.2 747.7 L519.6 746.9 L520.1 752.2 L520.5 751.0 L521.0 752.2 L521.4 751.9 L521.9 752.9 L522.3 750.9 L522.8 751.0 L523.2 752.9 L523.7 754.4 L524.1 755.1 L524.6 754.3 L525.0 755.7 L525.5 760.5 L525.9 751.0 L526.4 754.0 L526.8 760.2 L527.3 754.2 L527.7 762.3 L528.2 762.4 L528.6 756.8 L529.1 758.2 L529.5 759.6 L530.0 757.3 L530.4 761.6 L530.9 760.3 L531.3 754.4 L531.8 755.6 L532.2 762.2 L532.7 757.0 L533.1 760.1 L533.6 759.6 L534.0 760.7 L534.5 759.3 L534.9 762.2 L535.4 765.5 L535.8 761.8 L536.3 762.7 L536.7 762.4 L537.2 762.9 L537.6 762.9 L538.1 765.1 L538.5 761.4 L539.0 759.6 L539.4 767.7 L539.9 764.1 L540.3 765.7 L540.8 766.4 L541.2 768.0 L541.7 761.7 L542.1 763.8 L542.6 766.4 L543.0 766.9 L543.5 765.0 L543.9 768.3 L544.4 763.0 L544.8 762.7 L545.3 764.0 L545.7 766.9 L546.2 772.7 L546.6 765.3 L547.1 765.2 L547.5 762.5 L548.0 769.5 L548.4 763.9 L548.9 765.9 L549.3 768.7 L549.8 762.0 L550.2 761.9 L550.7 765.9 L551.1 765.1 L551.6 763.3 L552.0 766.4 L552.5 762.9 L552.9 762.5 L553.4 761.2 L553.8 761.0 L554.3 762.1 L554.7 766.2 L555.2 764.3 L555.6 762.9 L556.1 762.6 L556.5 760.3 L557.0 763.9 L557.4 764.5 L557.9 766.6 L558.3 761.0 L558.8 767.9 L559.2 764.6 L559.7 764.7 L560.1 764.4 L560.6 760.0 L561.0 765.8 L561.5 764.9 L561.9 761.2 L562.4 759.9 L562.8 763.3 L563.3 761.1 L563.7 757.5 L564.2 759.9 L564.6 760.2 L565.1 756.5 L565.5 760.4 L566.0 762.4 L566.4 758.2 L566.9 759.3 L567.3 757.2 L567.8 756.7 L568.2 761.8 L568.7 756.2 L569.1 763.0 L569.6 757.2 L570.0 757.1 L570.5 753.7 L570.9 755.9 L571.4 759.0 L571.8 757.1 L572.3 757.6 L572.7 759.1 L573.2 754.7 L573.6 756.2 L574.1 761.6 L574.5 752.9 L575.0 757.4 L575.4 750.3 L575.9 754.1 L576.3 756.2 L576.8 749.2 L577.2 751.4 L577.7 747.4 L578.1 752.0 L578.6 748.6 L579.0 751.6 L579.5 753.2 L579.9 748.3 L580.4 746.5 L580.8 750.0 L581.3 742.2 L581.7 746.3 L582.2 744.4 L582.6 741.1 L583.1 748.2 L583.5 744.4 L584.0 743.0 L584.4 743.9 L584.9 741.7 L585.3 740.0 L585.8 742.6 L586.2 742.3 L586.7 742.5 L587.1 741.8 L587.6 739.3 L588.0 745.2 L588.5 741.5 L588.9 742.1 L589.4 734.7 L589.8 737.3 L590.3 736.8 L590.7 740.7 L591.2 736.3 L591.6 735.0 L592.1 735.9 L592.5 733.2 L593.0 734.6 L593.4 736.7 L593.9 739.0 L594.3 731.2 L594.8 743.1 L595.2 734.9 L595.7 736.1 L596.1 731.1 L596.6 733.0 L597.0 732.8 L597.5 733.1 L597.9 729.5 L598.4 727.7 L598.8 728.4 L599.3 730.0 L599.7 735.2 L600.2 724.4 L600.6 724.0 L601.1 722.3 L601.5 722.1 L602.0 728.1 L602.4 723.3 L602.9 723.9 L603.3 728.1 L603.8 724.7 L604.2 723.9 L604.7 721.0 L605.1 721.0 L605.6 719.4 L606.0 720.6 L606.5 721.1 L606.9 716.0 L607.4 715.0 L607.8 715.2 L608.3 714.2 L608.7 715.8 L609.2 715.1 L609.6 710.1 L610.1 708.8 L610.5 705.9 L611.0 706.0 L611.4 709.4 L611.9 708.3 L612.3 696.9 L612.8 704.3 L613.2 701.7 L613.7 703.5 L614.1 705.3 L614.6 698.7 L615.0 696.1 L615.5 700.2 L615.9 698.5 L616.4 701.4 L616.8 694.9 L617.3 692.3 L617.7 692.5 L618.2 688.7 L618.6 690.2 L619.1 691.6 L619.5 686.9 L620.0 680.9 L620.4 683.1 L620.9 688.2 L621.3 688.5 L621.8 687.6 L622.2 682.4 L622.7 678.1 L623.1 680.9 L623.6 682.6 L624.0 679.8 L624.5 674.7 L624.9 678.3 L625.4 677.8 L625.8 666.1 L626.3 669.1 L626.7 675.1 L627.2 672.9 L627.6 671.0 L628.1 671.7 L628.5 667.6 L629.0 666.1 L629.4 669.0 L629.9 660.4 L630.3 661.5 L630.8 671.2 L631.2 661.7 L631.7 665.4 L632.1 663.7 L632.6 661.9 L633.0 658.6 L633.5 646.2 L633.9 657.9 L634.4 653.8 L634.8 653.9 L635.3 652.7 L635.7 656.8 L636.2 641.2 L636.6 644.5 L637.1 651.5 L637.5 637.3 L638.0 642.0 L638.4 639.1 L638.9 635.5 L639.3 626.6 L639.8 631.3 L640.2 627.4 L640.7 625.3 L641.1 624.1 L641.6 623.3 L642.0 625.5 L642.5 616.8 L642.9 620.7 L643.4 619.1 L643.8 614.0 L644.3 615.7 L644.7 615.8 L645.2 612.8 L645.6 607.3 L646.1 613.8 L646.5 611.1 L647.0 611.8 L647.4 603.2 L647.9 613.7 L648.3 603.6 L648.8 608.6 L649.2 604.5 L649.7 599.0 L650.1 601.6 L650.6 609.5 L651.0 605.8 L651.5 605.3 L651.9 600.5 L652.4 600.2 L652.8 590.7 L653.3 601.9 L653.7 600.2 L654.2 593.0 L654.6 592.8 L655.1 589.3 L655.5 592.7 L656.0 592.4 L656.4 595.4 L656.9 588.3 L657.3 586.5 L657.8 587.6 L658.2 582.7 L658.7 582.5 L659.1 583.2 L659.6 587.8 L660.0 586.8 L660.5 581.7 L660.9 584.6 L661.4 580.6 L661.8 576.6 L662.3 573.1 L662.7 579.1 L663.2 575.4 L663.6 571.9 L664.1 568.3 L664.5 572.8 L665.0 569.0 L665.4 576.8 L665.9 573.3 L666.3 573.7 L666.8 574.0 L667.2 563.2 L667.7 573.6 L668.1 583.1 L668.6 567.4 L669.0 577.5 L669.5 570.1 L669.9 578.1 L670.4 571.0 L670.8 571.7 L671.3 569.5 L671.7 579.5 L672.2 576.8 L672.6 565.0 L673.1 574.9 L673.5 574.0 L674.0 573.2 L674.4 579.7 L674.9 575.5 L675.3 578.1 L675.8 578.9 L676.2 580.5 L676.7 579.4 L677.1 589.0 L677.6 573.7 L678.0 575.8 L678.5 578.7 L678.9 584.2 L679.4 592.6 L679.8 589.7 L680.3 590.5 L680.7 593.7 L681.2 595.1 L681.6 589.2 L682.1 593.1 L682.5 593.1 L683.0 596.0 L683.4 597.1 L683.9 597.2 L684.3 601.1 L684.8 591.2 L685.2 612.2 L685.7 607.1 L686.1 600.0 L686.6 599.7 L687.0 613.6 L687.5 612.1 L687.9 611.1 L688.4 611.5 L688.8 614.1 L689.3 611.4 L689.7 611.8 L690.2 613.1 L690.6 617.5 L691.1 617.5 L691.5 627.1 L692.0 624.3 L692.4 630.6 L692.9 627.0 L693.3 624.1 L693.8 631.9 L694.2 637.1 L694.7 633.3 L695.1 635.6 L695.6 643.9 L696.0 646.9 L696.5 644.4 L696.9 649.3 L697.4 651.6 L697.8 656.2 L698.3 650.3 L698.7 659.5 L699.2 661.2 L699.6 664.3 L700.1 666.8 L700.5 661.5 L701.0 667.9 L701.4 667.2 L701.9 674.5 L702.3 669.5 L702.8 668.5 L703.2 672.5 L703.7 671.3 L704.1 678.1 L704.6 674.9 L705.0 679.0 L705.5 683.7 L705.9 681.2 L706.4 682.9 L706.8 684.1 L707.3 688.9 L707.7 684.3 L708.2 696.1 L708.6 691.7 L709.1 691.8 L709.5 702.1 L710.0 697.0 L710.4 702.5 L710.9 703.9 L711.3 702.2 L711.8 701.5 L712.2 705.4 L712.7 705.7 L713.1 711.9 L713.6 709.0 L714.0 711.7 L714.5 714.7 L714.9 714.2 L715.4 725.0 L715.8 718.0 L716.3 720.9 L716.7 726.7 L717.2 731.4 L717.6 724.1 L718.1 730.7 L718.5 729.3 L719.0 733.4 L719.4 736.3 L719.9 734.8 L720.3 737.7 L720.8 734.2 L721.2 737.3 L721.7 742.7 L722.1 743.2 L722.6 745.9 L723.0 745.5 L723.5 745.1 L723.9 747.0 L724.4 743.0 L724.8 747.5 L725.3 747.4 L725.7 754.6 L726.2 747.1 L726.6 750.3 L727.1 751.6 L727.5 751.8 L728.0 753.2 L728.4 754.9 L728.9 758.1 L729.3 761.1 L729.8 760.9 L730.2 760.2 L730.7 761.0 L731.1 762.1 L731.6 767.5 L732.0 769.4 L732.5 763.0 L732.9 764.5 L733.4 764.6 L733.8 766.9 L734.3 766.8 L734.7 773.7 L735.2 776.0 L735.6 772.1 L736.1 768.8 L736.5 777.2 L737.0 769.2 L737.4 776.0 L737.9 773.6 L738.3 776.3 L738.8 775.7 L739.2 778.6 L739.7 782.1 L740.1 776.5 L740.6 777.5 L741.0 778.9 L741.5 779.4 L741.9 787.5 L742.4 784.0 L742.8 783.1 L743.3 785.6 L743.7 779.8 L744.2 785.2 L744.6 779.1 L745.1 785.2 L745.5 783.9 L746.0 784.9 L746.4 782.9 L746.9 789.9 L747.3 786.3 L747.8 792.0 L748.2 784.7 L748.7 785.8 L749.1 792.3 L749.6 787.8 L750.0 789.6 L750.5 786.9 L750.9 788.3 L751.4 790.5 L751.8 789.0 L752.3 791.9 L752.7 794.4 L753.2 791.4 L753.6 792.8 L754.1 795.1 L754.5 795.4 L755.0 793.6 L755.4 797.3 L755.9 797.6 L756.3 792.9 L756.8 795.8 L757.2 798.6 L757.7 795.3 L758.1 796.8 L758.6 798.4 L759.0 798.2 L759.5 799.8 L759.9 804.5 L760.4 800.7 L760.8 800.2 L761.3 799.1 L761.7 804.2 L762.2 803.7 L762.6 799.9 L763.1 802.4 L763.5 799.5 L764.0 808.2 L764.4 802.3 L764.9 804.1 L765.3 801.5 L765.8 803.5 L766.2 802.9 L766.7 806.3 L767.1 805.9 L767.6 804.5 L768.0 805.1 L768.5 806.7 L768.9 801.4 L769.4 805.7 L769.8 804.8 L770.3 804.1 L770.7 804.8 L771.2 803.9 L771.6 804.9 L772.1 806.8 L772.5 805.1 L773.0 803.2 L773.4 805.8 L773.9 807.3 L774.3 806.3 L774.8 802.6 L775.2 804.1 L775.7 809.5 L776.1 807.8 L776.6 807.9 L777.0 806.8 L777.5 810.1 L777.9 811.8 L778.4 809.7 L778.8 810.5 L779.3 811.9 L779.7 811.8 L780.2 811.6 L780.6 813.6 L781.1 808.1 L781.5 810.0 L782.0 810.0 L782.4 808.5 L782.9 811.7 L783.3 814.1 L783.8 809.9 L784.2 812.6 L784.7 813.6 L785.1 809.5 L785.6 811.8 L786.0 810.8 L786.5 814.8 L786.9 812.2 L787.4 813.3 L787.8 814.5 L788.3 816.0 L788.7 812.3 L789.2 812.4 L789.6 811.9 L790.1 811.6 L790.5 811.8 L791.0 809.5 L791.4 810.1 L791.9 811.7 L792.3 814.9 L792.8 812.0 L793.2 810.3 L793.7 813.3 L794.1 814.7 L794.6 813.5 L795.0 811.1 L795.5 812.6 L795.9 814.9 L796.4 816.1 L796.8 813.5 L797.3 813.4 L797.7 815.4 L798.2 815.5 L798.6 815.1 L799.1 817.0 L799.5 816.5 L800.0 814.2 L800.4 815.1 L800.9 816.6 L801.3 813.7 L801.8 817.6 L802.2 815.7 L802.7 821.6 L803.1 816.6 L803.6 816.0 L804.0 817.3 L804.5 819.0 L804.9 817.7 L805.4 815.1 L805.8 817.1 L806.3 816.0 L806.7 817.3 L807.2 817.5 L807.6 817.3 L808.1 820.2 L808.5 817.2 L809.0 818.0 L809.4 820.3 L809.9 821.8 L810.3 818.8 L810.8 819.6 L811.2 823.0 L811.7 818.4 L812.1 821.5 L812.6 817.8 L813.0 818.2 L813.5 815.8 L813.9 815.4 L814.4 817.6 L814.8 813.6 L815.3 814.4 L815.7 815.0 L816.2 813.0 L816.6 809.7 L817.1 813.9 L817.5 811.9 L818.0 813.1 L818.4 808.1 L818.9 808.1 L819.3 811.4 L819.8 811.4 L820.2 815.9 L820.7 818.3 L821.1 815.9 L821.6 818.8 L822.0 819.4 L822.5 820.0 L822.9 822.3 L823.4 819.1 L823.8 822.3 L824.3 820.3 L824.7 820.0 L825.2 822.6 L825.6 822.0 L826.1 821.9 L826.5 823.3 L827.0 824.0 L827.4 823.8 L827.9 819.3 L828.3 821.6 L828.8 821.3 L829.2 822.0 L829.7 823.6 L830.1 821.9 L830.6 824.1 L831.0 821.9 L831.5 826.6 L831.9 821.1 L832.4 823.3 L832.8 823.7 L833.3 822.9 L833.7 824.7 L834.2 824.2 L834.6 822.1 L835.1 824.4 L835.5 820.6 L836.0 822.8 L836.4 823.8 L836.9 827.3 L837.3 825.0 L837.8 824.5 L838.2 825.1 L838.7 824.3 L839.1 823.3 L839.6 823.8 L840.0 823.8 L840.5 827.7 L840.9 825.6 L841.4 825.5 L841.8 825.9 L842.3 825.6 L842.7 825.4 L843.2 829.0 L843.6 826.5 L844.1 827.0 L844.5 827.4 L845.0 824.4 L845.4 825.1 L845.9 826.5 L846.3 825.3 L846.8 824.6 L847.2 828.8 L847.7 824.0 L848.1 827.3 L848.6 823.8 L849.0 825.4 L849.5 823.8 L849.9 824.0 L850.4 825.4 L850.8 822.7 L851.3 826.0 L851.7 827.5 L852.2 826.9 L852.6 827.3 L853.1 826.1 L853.5 828.2 L854.0 827.4 L854.4 830.6 L854.9 824.1 L855.3 828.1 L855.8 827.1 L856.2 827.6 L856.7 825.4 L857.1 828.3 L857.6 829.3 L858.0 829.7 L858.5 829.7 L858.9 824.9 L859.4 828.4 L859.8 829.0 L860.3 829.9 L860.7 828.5 L861.2 830.0 L861.6 827.7 L862.1 828.3 L862.5 824.5 L863.0 826.5 L863.4 826.2 L863.9 827.2 L864.3 829.0 L864.8 826.4 L865.2 828.0 L865.7 825.6 L866.1 828.0 L866.6 826.9 L867.0 826.3 L867.5 827.4 L867.9 827.3 L868.4 827.0 L868.8 826.7 L869.3 829.4 L869.7 828.8 L870.2 831.0 L870.6 827.2 L871.1 828.2 L871.5 830.0 L872.0 828.0 L872.4 826.3 L872.9 829.4 L873.3 832.1 L873.8 827.3 L874.2 826.8 L874.7 829.1 L875.1 827.5 L875.6 826.7 L876.0 827.7 L876.5 828.1 L876.9 829.2 L877.4 829.7 L877.8 826.7 L878.3 828.9 L878.7 830.3 L879.2 832.8 L879.6 829.0 L880.1 828.9 L880.5 830.0 L881.0 830.0 L881.4 829.0 L881.9 828.5 L882.3 828.6 L882.8 834.0 L883.2 827.4 L883.7 829.3 L884.1 829.6 L884.6 829.7 L885.0 829.7 L885.5 831.3 L885.9 830.6 L886.4 826.0 L886.8 830.5 L887.3 832.3 L887.7 831.9 L888.2 827.0 L888.6 832.5 L889.1 831.2 L889.5 828.7 L890.0 831.8 L890.4 830.3 L890.9 830.5 L891.3 831.2 L891.8 828.0 L892.2 830.6 L892.7 828.9 L893.1 832.9 L893.6 825.9 L894.0 830.4 L894.5 830.0 L894.9 831.4 L895.4 832.1 L895.8 833.1 L896.3 830.9 L896.7 832.1 L897.2 830.5 L897.6 833.1 L898.1 834.5 L898.5 830.5 L899.0 830.6 L899.4 832.1 L899.9 833.9 L900.3 832.8 L900.8 829.8 L901.2 830.1 L901.7 832.4 L902.1 835.0 L902.6 830.4 L903.0 830.7 L903.5 829.8 L903.9 830.8 L904.4 833.1 L904.8 830.3 L905.3 827.3 L905.7 829.6 L906.2 828.6 L906.6 831.3 L907.1 831.8 L907.5 829.7 L908.0 830.3 L908.4 833.4 L908.9 832.9 L909.3 831.6 L909.8 829.2 L910.2 832.2 L910.7 832.4 L911.1 832.6 L911.6 829.7 L912.0 828.2 L912.5 833.7 L912.9 836.1 L913.4 829.1 L913.8 831.8 L914.3 832.1 L914.7 831.7 L915.2 832.4 L915.6 831.4 L916.1 833.3 L916.5 829.1 L917.0 831.0 L917.4 833.9 L917.9 829.7 L918.3 832.5 L918.8 830.3 L919.2 833.5 L919.7 832.0 L920.1 830.4 L920.6 834.2 L921.0 829.7 L921.5 832.9 L921.9 833.2 L922.4 832.6 L922.8 832.5 L923.3 832.5 L923.7 833.0 L924.2 831.8 L924.6 832.2 L925.1 834.6 L925.5 832.9 L926.0 835.9 L926.4 834.0 L926.9 832.7 L927.3 833.7 L927.8 831.4 L928.2 833.5 L928.7 831.8 L929.1 835.1 L929.6 836.6 L930.0 834.0 L930.5 833.4 L930.9 834.1 L931.4 833.8 L931.8 834.9 L932.3 835.3 L932.7 836.0 L933.2 835.4 L933.6 835.7 L934.1 834.8 L934.5 832.2 L935.0 834.3 L935.4 834.7 L935.9 834.2 L936.3 831.9 L936.8 833.2 L937.2 836.4 L937.7 834.0 L938.1 836.3 L938.6 835.5 L939.0 835.8 L939.5 836.0 L939.9 836.6 L940.4 834.2 L940.8 835.0 L941.3 835.2 L941.7 836.6 L942.2 833.1 L942.6 836.6 L943.1 836.1 L943.5 836.2 L944.0 833.4 L944.4 836.7 L944.9 836.5 L945.3 832.7 L945.8 835.9 L946.2 834.6 L946.7 833.2 L947.1 835.0 L947.6 834.3 L948.0 834.6 L948.5 832.4 L948.9 832.3 L949.4 833.1 L949.8 834.6 L950.3 835.5 L950.7 833.9 L951.2 834.9 L951.6 838.1 L952.1 837.2 L952.5 836.9 L953.0 834.3 L953.4 836.0 L953.9 835.6 L954.3 836.5 L954.8 836.3 L955.2 837.3 L955.7 837.2 L956.1 835.1 L956.6 835.3 L957.0 836.9 L957.5 834.3 L957.9 837.2 L958.4 838.8 L958.8 834.9 L959.3 837.3 L959.7 832.0 L960.2 837.0 L960.6 834.0 L961.1 833.0 L961.5 832.4 L962.0 833.0 L962.4 832.9 L962.9 835.5 L963.3 835.1 L963.8 832.5 L964.2 832.2 L964.7 831.3 L965.1 834.2 L965.6 835.1 L966.0 835.7 L966.5 834.0 L966.9 831.6 L967.4 834.4 L967.8 836.5 L968.3 834.0 L968.7 835.8 L969.2 838.2 L969.6 836.1 L970.1 836.4 L970.5 836.3 L971.0 836.1 L971.4 834.2 L971.9 838.3 L972.3 834.0 L972.8 836.6 L973.2 835.4 L973.7 835.5 L974.1 834.8 L974.6 836.1 L975.0 834.7 L975.5 834.5 L975.9 834.3 L976.4 835.4 L976.8 834.0 L977.3 834.6 L977.7 834.3 L978.2 836.3 L978.6 838.5 L979.1 833.2 L979.5 835.5 L980.0 836.1 L980.4 836.2 L980.9 833.0 L981.3 837.1 L981.8 837.5 L982.2 834.5 L982.7 835.1 L983.1 839.0 L983.6 838.7 L984.0 837.2 L984.5 834.6 L984.9 834.6 L985.4 836.2 L985.8 835.8 L986.3 833.3 L986.7 836.0 L987.2 836.9 L987.6 834.6 L988.1 836.6 L988.5 837.0 L989.0 835.9 L989.4 837.5 L989.9 836.0 L990.3 835.9 L990.8 837.7 L991.2 836.1 L991.7 835.8 L992.1 835.2 L992.6 834.7 L993.0 832.6 L993.5 835.9 L993.9 835.4 L994.4 832.6 L994.8 832.2 L995.3 834.1 L995.7 835.6 L996.2 832.7 L996.6 836.2 L997.1 833.6 L997.5 836.3 L998.0 834.7 L998.4 835.6 L998.9 833.6 L999.3 835.2 L999.8 834.2 L1000.2 835.1 L1000.7 836.6 L1001.1 837.5 L1001.6 833.7 L1002.0 836.0 L1002.5 835.9 L1002.9 837.2 L1003.4 837.3 L1003.8 835.3 L1004.3 834.2 L1004.7 835.8 L1005.2 838.1 L1005.6 836.2 L1006.1 836.7 L1006.5 834.8 L1007.0 838.2 L1007.4 834.2 L1007.9 835.8 L1008.3 835.1 L1008.8 834.0 L1009.2 836.4 L1009.7 836.5 L1010.1 835.2 L1010.6 836.6 L1011.0 835.5 L1011.5 837.7 L1011.9 836.1 L1012.4 833.7 L1012.8 837.5 L1013.3 834.6 L1013.7 834.6 L1014.2 834.8 L1014.6 834.6 L1015.1 835.9 L1015.5 833.2 L1016.0 836.0 L1016.4 832.9 L1016.9 836.4 L1017.3 830.8 L1017.8 833.3 L1018.2 834.1 L1018.7 833.6 L1019.1 831.8 L1019.6 832.6 L1020.0 833.2 L1020.5 834.0 L1020.9 834.0 L1021.4 834.3 L1021.8 834.6 L1022.3 834.2 L1022.7 833.3 L1023.2 835.7 L1023.6 835.1 L1024.1 832.3 L1024.5 831.5 L1025.0 833.7 L1025.4 834.4 L1025.9 829.2 L1026.3 833.9 L1026.8 832.6 L1027.2 832.8 L1027.7 834.0 L1028.1 831.2 L1028.6 832.0 L1029.0 830.4 L1029.5 831.7 L1029.9 829.5 L1030.4 831.1 L1030.8 831.0 L1031.3 832.6 L1031.7 831.3 L1032.2 832.8 L1032.6 830.1 L1033.1 834.6 L1033.5 831.6 L1034.0 829.6 L1034.4 829.9 L1034.9 833.6 L1035.3 833.9 L1035.8 831.7 L1036.2 830.2 L1036.7 830.1 L1037.1 831.3 L1037.6 833.8 L1038.0 829.6 L1038.5 832.6 L1038.9 831.7 L1039.4 828.6 L1039.8 830.2 L1040.3 831.2 L1040.7 829.7 L1041.2 829.3 L1041.6 827.4 L1042.1 834.0 L1042.5 830.8 L1043.0 831.1 L1043.4 827.9 L1043.9 829.6 L1044.3 828.3 L1044.8 826.6 L1045.2 827.8 L1045.7 826.9 L1046.1 826.5 L1046.6 828.1 L1047.0 829.7 L1047.5 830.0 L1047.9 829.2 L1048.4 828.8 L1048.8 826.9 L1049.3 830.8 L1049.7 828.7 L1050.2 829.0 L1050.6 828.1 L1051.1 828.6 L1051.5 826.9 L1052.0 829.2 L1052.4 826.4 L1052.9 826.0 L1053.3 825.9 L1053.8 827.9 L1054.2 828.2 L1054.7 827.7 L1055.1 827.6 L1055.6 827.7 L1056.0 828.3 L1056.5 827.4 L1056.9 828.8 L1057.4 827.8 L1057.8 825.5 L1058.3 830.0 L1058.7 826.6 L1059.2 828.5 L1059.6 824.3 L1060.1 826.2 L1060.5 828.3 L1061.0 832.9 L1061.4 827.8 L1061.9 825.2 L1062.3 827.1 L1062.8 826.4 L1063.2 824.3 L1063.7 828.3 L1064.1 826.0 L1064.6 826.0 L1065.0 823.6 L1065.5 823.8 L1065.9 824.8 L1066.4 823.4 L1066.8 824.2 L1067.3 823.4 L1067.7 826.0 L1068.2 824.9 L1068.6 823.8 L1069.1 829.2 L1069.5 821.4 L1070.0 824.9 L1070.4 824.9 L1070.9 825.0 L1071.3 823.3 L1071.8 824.8 L1072.2 826.5 L1072.7 823.8 L1073.1 825.0 L1073.6 825.0 L1074.0 822.2 L1074.5 823.4 L1074.9 824.7 L1075.4 826.1 L1075.8 824.1 L1076.3 826.1 L1076.7 822.5 L1077.2 821.5 L1077.6 824.6 L1078.1 824.5 L1078.5 824.1 L1079.0 827.7 L1079.4 826.2 L1079.9 825.1 L1080.3 824.9 L1080.8 825.6 L1081.2 826.1 L1081.7 828.1 L1082.1 822.9 L1082.6 826.6 L1083.0 825.4 L1083.5 827.2 L1083.9 826.9 L1084.4 826.5 L1084.8 824.9 L1085.3 823.3 L1085.7 827.8 L1086.2 826.0 L1086.6 826.9 L1087.1 827.9 L1087.5 827.0 L1088.0 825.9 L1088.4 826.7 L1088.9 826.8 L1089.3 825.5 L1089.8 828.6 L1090.2 828.0 L1090.7 826.4 L1091.1 828.0 L1091.6 828.8 L1092.0 827.1 L1092.5 827.3 L1092.9 827.7 L1093.4 829.9 L1093.8 829.8 L1094.3 828.2 L1094.7 828.8 L1095.2 828.5 L1095.6 828.9 L1096.1 826.1 L1096.5 828.2 L1097.0 829.2 L1097.4 824.2 L1097.9 826.3 L1098.3 831.2 L1098.8 828.9 L1099.2 830.2 L1099.7 828.1 L1100.1 830.8 L1100.6 830.1 L1101.0 829.0 L1101.5 830.2 L1101.9 828.5 L1102.4 827.9 L1102.8 828.0 L1103.3 826.9 L1103.7 830.1 L1104.2 829.5 L1104.6 832.1 L1105.1 832.1 L1105.5 830.7 L1106.0 831.5 L1106.4 831.4 L1106.9 828.3 L1107.3 832.6 L1107.8 832.0 L1108.2 833.8 L1108.7 834.9 L1109.1 835.4 L1109.6 834.5 L1110.0 830.1 L1110.5 834.6 L1110.9 833.9 L1111.4 832.4 L1111.8 835.2 L1112.3 833.0 L1112.7 835.2 L1113.2 837.2 L1113.6 832.9 L1114.1 835.0 L1114.5 835.4 L1115.0 835.3 L1115.4 832.7 L1115.9 830.2 L1116.3 836.4 L1116.8 832.8 L1117.2 833.0 L1117.7 832.2 L1118.1 831.5 L1118.6 833.8 L1119.0 834.5 L1119.5 833.9 L1119.9 832.3 L1120.4 833.0 L1120.8 830.0 L1121.3 834.0 L1121.7 831.2 L1122.2 830.0 L1122.6 832.8 L1123.1 831.5 L1123.5 835.8 L1124.0 833.3 L1124.4 834.2 L1124.9 836.0 L1125.3 831.6 L1125.8 832.4 L1126.2 836.2 L1126.7 834.1 L1127.1 834.8 L1127.6 835.8 L1128.0 835.2 L1128.5 835.0 L1128.9 834.9 L1129.4 835.2 L1129.8 836.5 L1130.3 836.7 L1130.7 833.0 L1131.2 834.3 L1131.6 833.3 L1132.1 835.9 L1132.5 835.9 L1133.0 838.1 L1133.4 834.0 L1133.9 835.3 L1134.3 835.4 L1134.8 836.9 L1135.2 837.6 L1135.7 837.9 L1136.1 838.1 L1136.6 838.3 L1137.0 837.8 L1137.5 837.4 L1137.9 838.2 L1138.4 837.0 L1138.8 838.2 L1139.3 838.2 L1139.7 838.7 L1140.2 837.1 L1140.6 834.6 L1141.1 837.1 L1141.5 838.1 L1142.0 837.6 L1142.4 837.5 L1142.9 836.1 L1143.3 838.0 L1143.8 836.5 L1144.2 835.1 L1144.7 836.6 L1145.1 835.4 L1145.6 838.7 L1146.0 839.6 L1146.5 836.3 L1146.9 839.2 L1147.4 838.8 L1147.8 838.3 L1148.3 838.5 L1148.7 836.9 L1149.2 834.9 L1149.6 838.3 L1150.1 840.4 L1150.5 837.4 L1151.0 837.8 L1151.4 838.8 L1151.9 838.3 L1152.3 840.5 L1152.8 837.5 L1153.2 840.3 L1153.7 836.6 L1154.1 837.8 L1154.6 840.6 L1155.0 839.9 L1155.5 841.3 L1155.9 838.3 L1156.4 840.0 L1156.8 841.6 L1157.3 839.1 L1157.7 841.9 L1158.2 840.5 L1158.6 841.2 L1159.1 836.8 L1159.5 840.1 L1160.0 838.1 L1160.4 838.8 L1160.9 839.9 L1161.3 838.0 L1161.8 836.4 L1162.2 839.1 L1162.7 842.8 L1163.1 841.9 L1163.6 841.2 L1164.0 839.3 L1164.5 838.3 L1164.9 840.2 L1165.4 839.7 L1165.8 837.8 L1166.3 841.1 L1166.7 839.4 L1167.2 839.8 L1167.6 839.6 L1168.1 839.6 L1168.5 840.6 L1169.0 838.5 L1169.4 842.3 L1169.9 841.3 L1170.3 840.6 L1170.8 838.7 L1171.2 841.5 L1171.7 837.8 L1172.1 841.5 L1172.6 838.8 L1173.0 841.2 L1173.5 839.8 L1173.9 841.9 L1174.4 838.3 L1174.8 835.1 L1175.3 840.7 L1175.7 837.9 L1176.2 838.9 L1176.6 839.5 L1177.1 839.7 L1177.5 840.1 L1178.0 837.6 L1178.4 837.5 L1178.9 839.6 L1179.3 839.9 L1179.8 840.3 L1180.2 838.0 L1180.7 838.7 L1181.1 838.3 L1181.6 839.6 L1182.0 842.9 L1182.5 837.0 L1182.9 838.1 L1183.4 842.1 L1183.8 841.3 L1184.3 839.0 L1184.7 840.8 L1185.2 843.4 L1185.6 839.2 L1186.1 840.7 L1186.5 841.5 L1187.0 841.2 L1187.4 840.3 L1187.9 839.0 L1188.3 842.2 L1188.8 842.4 L1189.2 841.1 L1189.7 838.8 L1190.1 842.2 L1190.6 839.7 L1191.0 838.7 L1191.5 843.0 L1191.9 842.0 L1192.4 841.9 L1192.8 841.5 L1193.3 841.5 L1193.7 843.7 L1194.2 842.3 L1194.6 839.3 L1195.1 838.8 L1195.5 841.4 L1196.0 840.8 L1196.4 840.9 L1196.9 838.4 L1197.3 837.4 L1197.8 838.0 L1198.2 839.5 L1198.7 838.2 L1199.1 838.6 L1199.6 838.7 L1200.0 840.4 L1200.5 841.0 L1200.9 840.3 L1201.4 838.9 L1201.8 839.3 L1202.3 839.6 L1202.7 841.5 L1203.2 843.2 L1203.6 842.5 L1204.1 839.2 L1204.5 840.8 L1205.0 841.9 L1205.4 841.5 L1205.9 842.7 L1206.3 840.1 L1206.8 841.2 L1207.2 841.8 L1207.7 843.4 L1208.1 842.7 L1208.6 842.7 L1209.0 839.1 L1209.5 843.5 L1209.9 841.8 L1210.4 839.6 L1210.8 841.4 L1211.3 842.2 L1211.7 841.0 L1212.2 842.0 L1212.6 839.3 L1213.1 844.5 L1213.5 840.2 L1214.0 841.3 L1214.4 839.3 L1214.9 839.5 L1215.3 842.5 L1215.8 840.9 L1216.2 840.7 L1216.7 842.7 L1217.1 842.6 L1217.6 841.9 L1218.0 842.6 L1218.5 842.5 L1218.9 840.9 L1219.4 842.1 L1219.8 841.4 L1220.3 841.9 L1220.7 839.7 L1221.2 843.5 L1221.6 841.0 L1222.1 843.2 L1222.5 843.8 L1223.0 841.1 L1223.4 844.4 L1223.9 840.3 L1224.3 841.2 L1224.8 840.7 L1225.2 840.5 L1225.7 841.2 L1226.1 841.2 L1226.6 840.8 L1227.0 841.6 L1227.5 842.1 L1227.9 842.6 L1228.4 842.4 L1228.8 842.3 L1229.3 842.3 L1229.7 844.9 L1230.2 841.5 L1230.6 840.4 L1231.1 842.8 L1231.5 843.3 L1232.0 842.8 L1232.4 843.8 L1232.9 840.8 L1233.3 843.6 L1233.8 844.4 L1234.2 843.1 L1234.7 843.5 L1235.1 844.2 L1235.6 842.1 L1236.0 840.0 L1236.5 842.9 L1236.9 843.3 L1237.4 840.7 L1237.8 845.1 L1238.3 842.3 L1238.7 843.4 L1239.2 841.5 L1239.6 841.1 L1240.1 842.5 L1240.5 841.4 L1241.0 843.8 L1241.4 843.9 L1241.9 838.7 L1242.3 843.6 L1242.8 840.5 L1243.2 845.4 L1243.7 841.8 L1244.1 842.6 L1244.6 841.6 L1245.0 843.1 L1245.5 841.9 L1245.9 842.4 L1246.4 842.4 L1246.8 843.6 L1247.3 841.9 L1247.7 841.8 L1248.2 843.1 L1248.6 843.2 L1249.1 843.1 L1249.5 841.3 L1250.0 843.4 L1250.4 842.2 L1250.9 842.5 L1251.3 845.1 L1251.8 842.1 L1252.2 841.9 L1252.7 843.1 L1253.1 844.6 L1253.6 844.1 L1254.0 843.7 L1254.5 846.2 L1254.9 846.4 L1255.4 841.5 L1255.8 843.8 L1256.3 842.1 L1256.7 844.7 L1257.2 844.3 L1257.6 845.9 L1258.1 841.2 L1258.5 843.0 L1259.0 843.6 L1259.4 845.5 L1259.9 844.8 L1260.3 845.6 L1260.8 844.8 L1261.2 844.9 L1261.7 843.4 L1262.1 842.8 L1262.6 846.2 L1263.0 843.4 L1263.5 843.6 L1263.9 846.2 L1264.4 845.9 L1264.8 843.6 L1265.3 845.9 L1265.7 846.2 L1266.2 844.0 L1266.6 845.4 L1267.1 846.3 L1267.5 843.2 L1268.0 845.1 L1268.4 843.6 L1268.9 844.2 L1269.3 842.6 L1269.8 843.6 L1270.2 845.8 L1270.7 843.6 L1271.1 845.5 L1271.6 845.9 L1272.0 843.8 L1272.5 844.9 L1272.9 843.7 L1273.4 843.6 L1273.8 841.8 L1274.3 845.0 L1274.7 846.1 L1275.2 843.6 L1275.6 843.5 L1276.1 845.1 L1276.5 844.5 L1277.0 844.4 L1277.4 847.8 L1277.9 844.7 L1278.3 843.9 L1278.8 843.8 L1279.2 844.1 L1279.7 846.9 L1280.1 845.8 L1280.6 846.8 L1281.0 843.5 L1281.5 848.0 L1281.9 844.5 L1282.4 845.9 L1282.8 843.3 L1283.3 844.6 L1283.7 843.2 L1284.2 845.3 L1284.6 846.3 L1285.1 842.9 L1285.5 844.5 L1286.0 844.4 L1286.4 844.9 L1286.9 845.0 L1287.3 846.1 L1287.8 845.2 L1288.2 843.6 L1288.7 845.5 L1289.1 844.3 L1289.6 842.2 L1290.0 846.0 L1290.5 843.6 L1290.9 841.9 L1291.4 843.4 L1291.8 842.3 L1292.3 841.7 L1292.7 844.1 L1293.2 841.6 L1293.6 842.1 L1294.1 841.4 L1294.5 842.9 L1295.0 843.5 L1295.4 844.4 L1295.9 846.2 L1296.3 843.6 L1296.8 842.7 L1297.2 843.0 L1297.7 844.2 L1298.1 843.4 L1298.6 844.6 L1299.0 844.9 L1299.5 842.5 L1299.9 843.6 L1300.4 843.9 L1300.8 842.3 L1301.3 842.2 L1301.7 843.3 L1302.2 842.4 L1302.6 844.0 L1303.1 845.7 L1303.5 844.6 L1304.0 844.0 L1304.4 843.1 L1304.9 846.7 L1305.3 843.3 L1305.8 844.9 L1306.2 844.2 L1306.7 845.2 L1307.1 846.5 L1307.6 845.4 L1308.0 845.7 L1308.5 846.7 L1308.9 842.5 L1309.4 844.6 L1309.8 844.4 L1310.3 840.9 L1310.7 843.8 L1311.2 846.3 L1311.6 846.9 L1312.1 842.2 L1312.5 843.5 L1313.0 845.0 L1313.4 844.0 L1313.9 845.8 L1314.3 844.0 L1314.8 844.1 L1315.2 843.6 L1315.7 842.7 L1316.1 845.2 L1316.6 846.2 L1317.0 846.0 L1317.5 843.8 L1317.9 844.1 L1318.4 843.8 L1318.8 844.9 L1319.3 844.4 L1319.7 844.6 L1320.2 843.8 L1320.6 841.9 L1321.1 842.2 L1321.5 844.8 L1322.0 844.6 L1322.4 844.2 L1322.9 843.3 L1323.3 845.3 L1323.8 846.6 L1324.2 845.8 L1324.7 847.0 L1325.1 846.0 L1325.6 843.7 L1326.0 845.7 L1326.5 844.4 L1326.9 847.3 L1327.4 846.9 L1327.8 848.0 L1328.3 846.0 L1328.7 843.8 L1329.2 843.1 L1329.6 843.7 L1330.1 845.0 L1330.5 846.0 L1331.0 845.5 L1331.4 846.1 L1331.9 843.4 L1332.3 845.1 L1332.8 844.9 L1333.2 844.0 L1333.7 843.0 L1334.1 844.6 L1334.6 845.1 L1335.0 843.5 L1335.5 843.2 L1335.9 846.3 L1336.4 845.8 L1336.8 842.4 L1337.3 845.5 L1337.7 845.9 L1338.2 844.5 L1338.6 844.5 L1339.1 845.6 L1339.5 847.1 L1340.0 846.4 L1340.4 846.3 L1340.9 844.6 L1341.3 847.8 L1341.8 846.8 L1342.2 844.8 L1342.7 844.8 L1343.1 845.0 L1343.6 846.1 L1344.0 845.5 L1344.5 846.7 L1344.9 843.6 L1345.4 847.2 L1345.8 842.7 L1346.3 844.0 L1346.7 846.8 L1347.2 847.2 L1347.6 843.6 L1348.1 844.4 L1348.5 846.3 L1349.0 849.3 L1349.4 844.8 L1349.9 844.8 L1350.3 847.6 L1350.8 846.0 L1351.2 845.1 L1351.7 846.9 L1352.1 846.9 L1352.6 847.6 L1353.0 843.8 L1353.5 845.1 L1353.9 843.4 L1354.4 845.6 L1354.8 845.7 L1355.3 845.3 L1355.7 847.1 L1356.2 845.0 L1356.6 847.3 L1357.1 844.2 L1357.5 844.4 L1358.0 844.7 L1358.4 847.9 L1358.9 846.6 L1359.3 845.5 L1359.8 846.1 L1360.2 844.3 L1360.7 844.4 L1361.1 846.2 L1361.6 846.3 L1362.0 844.7 L1362.5 847.2 L1362.9 844.7 L1363.4 843.0 L1363.8 844.9 L1364.3 844.9 L1364.7 847.1 L1365.2 844.0 L1365.6 847.0 L1366.1 845.4 L1366.5 846.6 L1367.0 845.6 L1367.4 846.3 L1367.9 844.0 L1368.3 846.8 L1368.8 845.8 L1369.2 846.6 L1369.7 845.2 L1370.1 846.0 L1370.6 843.1 L1371.0 846.2 L1371.5 846.0 L1371.9 845.8 L1372.4 845.2 L1372.8 843.2 L1373.3 848.7 L1373.7 845.7 L1374.2 848.0 L1374.6 845.8 L1375.1 844.4 L1375.5 845.6 L1376.0 845.9 L1376.4 846.0 L1376.9 845.3 L1377.3 846.4 L1377.8 847.3 L1378.2 846.2 L1378.7 846.5 L1379.1 847.6 L1379.6 847.3 L1380.0 845.4 L1380.5 848.9 L1380.9 847.0 L1381.4 847.9 L1381.8 845.9 L1382.3 846.3 L1382.7 847.0 L1383.2 848.3 L1383.6 848.3 L1384.1 849.7 L1384.5 847.2 L1385.0 846.9 L1385.4 846.3 L1385.9 847.3 L1386.3 845.7 L1386.8 848.0 L1387.2 848.2 L1387.7 844.6 L1388.1 846.4 L1388.6 848.4 L1389.0 845.0 L1389.5 844.7 L1389.9 847.3 L1390.4 844.6 L1390.8 845.2 L1391.3 848.2 L1391.7 846.6 L1392.2 845.1 L1392.6 846.6 L1393.1 846.1 L1393.5 847.5 L1394.0 844.4 L1394.4 846.0 L1394.9 846.7 L1395.3 845.3 L1395.8 845.0 L1396.2 846.0 L1396.7 846.3 L1397.1 846.2 L1397.6 846.5 L1398.0 847.2 L1398.5 848.4 L1398.9 844.1 L1399.4 845.5 L1399.8 843.8 L1400.3 844.3 L1400.7 845.6 L1401.2 847.4 L1401.6 842.9 L1402.1 846.0 L1402.5 843.2 L1403.0 847.6 L1403.4 845.2 L1403.9 843.2 L1404.3 844.5 L1404.8 844.5 L1405.2 845.0 L1405.7 845.2 L1406.1 842.0 L1406.6 845.7 L1407.0 845.8 L1407.5 846.4 L1407.9 845.9 L1408.4 843.5 L1408.8 843.7 L1409.3 845.3 L1409.7 846.2 L1410.2 844.1 L1410.6 843.2 L1411.1 842.1 L1411.5 842.3 L1412.0 845.6 L1412.4 843.7 L1412.9 844.3 L1413.3 844.6 L1413.8 844.9 L1414.2 843.9 L1414.7 844.3 L1415.1 844.3 L1415.6 844.0" fill="none" stroke="#0000ff" stroke-width="2.6" stroke-linejoin="round"/>
<path d="M106.5 937.8 L107.0 939.1 L107.4 938.2 L107.9 937.5 L108.3 936.8 L108.8 938.4 L109.2 935.6 L109.7 938.7 L110.1 939.7 L110.6 942.0 L111.0 937.6 L111.5 938.4 L111.9 937.9 L112.4 938.3 L112.8 936.2 L113.3 938.0 L113.7 938.4 L114.2 937.9 L114.6 936.3 L115.1 938.1 L115.5 936.7 L116.0 936.9 L116.4 936.8 L116.9 939.4 L117.3 937.2 L117.8 937.4 L118.2 938.3 L118.7 936.6 L119.1 937.8 L119.6 936.3 L120.0 936.4 L120.5 937.7 L120.9 937.5 L121.4 936.6 L121.8 938.0 L122.3 938.1 L122.7 935.7 L123.2 938.7 L123.6 938.7 L124.1 939.9 L124.5 936.0 L125.0 938.5 L125.4 938.9 L125.9 936.1 L126.3 937.1 L126.8 937.2 L127.2 936.3 L127.7 939.6 L128.1 939.8 L128.6 939.0 L129.0 935.5 L129.5 937.3 L129.9 940.0 L130.4 939.4 L130.8 935.4 L131.3 941.3 L131.7 939.9 L132.2 938.5 L132.6 938.9 L133.1 938.3 L133.5 939.3 L134.0 939.8 L134.4 940.4 L134.9 939.6 L135.3 940.5 L135.8 937.7 L136.2 941.7 L136.7 939.3 L137.1 938.2 L137.6 937.9 L138.0 939.1 L138.5 936.3 L138.9 938.3 L139.4 935.4 L139.8 939.5 L140.3 939.1 L140.7 936.1 L141.2 939.1 L141.6 937.0 L142.1 935.9 L142.5 939.1 L143.0 936.0 L143.4 938.6 L143.9 938.9 L144.3 935.9 L144.8 935.1 L145.2 936.2 L145.7 934.6 L146.1 936.3 L146.6 937.1 L147.0 936.9 L147.5 936.8 L147.9 936.0 L148.4 937.0 L148.8 938.5 L149.3 938.4 L149.7 938.2 L150.2 935.5 L150.6 938.7 L151.1 935.5 L151.5 938.7 L152.0 937.8 L152.4 936.9 L152.9 936.2 L153.3 938.7 L153.8 936.3 L154.2 937.0 L154.7 938.3 L155.1 937.0 L155.6 938.6 L156.0 937.2 L156.5 938.5 L156.9 938.4 L157.4 937.8 L157.8 937.8 L158.3 940.1 L158.7 936.9 L159.2 935.9 L159.6 939.1 L160.1 936.8 L160.5 935.9 L161.0 937.7 L161.4 938.7 L161.9 938.7 L162.3 937.8 L162.8 937.8 L163.2 935.6 L163.7 937.3 L164.1 937.0 L164.6 936.5 L165.0 937.4 L165.5 934.0 L165.9 935.1 L166.4 934.1 L166.8 939.0 L167.3 937.8 L167.7 937.1 L168.2 938.0 L168.6 936.6 L169.1 937.0 L169.5 935.7 L170.0 937.2 L170.4 936.6 L170.9 938.4 L171.3 936.6 L171.8 937.5 L172.2 936.9 L172.7 937.4 L173.1 936.5 L173.6 935.1 L174.0 938.5 L174.5 937.8 L174.9 938.7 L175.4 938.1 L175.8 938.7 L176.3 938.4 L176.7 937.2 L177.2 939.2 L177.6 937.0 L178.1 934.9 L178.5 935.3 L179.0 937.4 L179.4 938.1 L179.9 936.3 L180.3 935.7 L180.8 937.0 L181.2 938.3 L181.7 936.8 L182.1 936.1 L182.6 938.1 L183.0 938.1 L183.5 938.7 L183.9 935.7 L184.4 938.6 L184.8 938.5 L185.3 938.2 L185.7 936.5 L186.2 936.9 L186.6 934.6 L187.1 937.4 L187.5 938.2 L188.0 935.6 L188.4 933.9 L188.9 937.9 L189.3 936.1 L189.8 936.7 L190.2 936.6 L190.7 934.6 L191.1 935.9 L191.6 934.8 L192.0 935.0 L192.5 937.7 L192.9 934.2 L193.4 936.9 L193.8 935.6 L194.3 935.6 L194.7 936.6 L195.2 934.9 L195.6 934.7 L196.1 934.4 L196.5 936.1 L197.0 936.2 L197.4 934.6 L197.9 935.2 L198.3 936.8 L198.8 933.8 L199.2 934.9 L199.7 933.5 L200.1 933.8 L200.6 933.7 L201.0 934.5 L201.5 934.6 L201.9 933.6 L202.4 935.9 L202.8 934.4 L203.3 934.1 L203.7 935.1 L204.2 933.2 L204.6 934.4 L205.1 936.3 L205.5 938.5 L206.0 939.7 L206.4 937.5 L206.9 936.5 L207.3 937.2 L207.8 937.5 L208.2 937.7 L208.7 939.3 L209.1 934.1 L209.6 935.7 L210.0 936.4 L210.5 934.5 L210.9 936.7 L211.4 934.6 L211.8 936.7 L212.3 934.7 L212.7 932.2 L213.2 936.5 L213.6 935.3 L214.1 935.3 L214.5 934.7 L215.0 936.7 L215.4 936.1 L215.9 936.0 L216.3 936.7 L216.8 932.1 L217.2 936.8 L217.7 932.1 L218.1 935.5 L218.6 935.7 L219.0 936.3 L219.5 936.6 L219.9 934.8 L220.4 933.2 L220.8 936.4 L221.3 935.9 L221.7 935.5 L222.2 932.6 L222.6 935.9 L223.1 934.4 L223.5 934.6 L224.0 933.7 L224.4 933.4 L224.9 934.6 L225.3 933.9 L225.8 932.5 L226.2 933.4 L226.7 933.7 L227.1 933.7 L227.6 932.7 L228.0 931.4 L228.5 933.3 L228.9 931.7 L229.4 932.4 L229.8 933.1 L230.3 932.8 L230.7 932.4 L231.2 931.7 L231.6 934.3 L232.1 932.3 L232.5 933.4 L233.0 931.3 L233.4 932.8 L233.9 931.3 L234.3 932.8 L234.8 931.0 L235.2 932.3 L235.7 931.6 L236.1 934.6 L236.6 934.5 L237.0 932.5 L237.5 933.5 L237.9 931.3 L238.4 928.7 L238.8 931.6 L239.3 931.7 L239.7 932.9 L240.2 932.3 L240.6 932.8 L241.1 932.1 L241.5 935.2 L242.0 934.3 L242.4 933.7 L242.9 932.1 L243.3 930.4 L243.8 931.9 L244.2 932.1 L244.7 932.9 L245.1 932.9 L245.6 935.0 L246.0 932.9 L246.5 931.8 L246.9 930.8 L247.4 930.6 L247.8 930.3 L248.3 930.0 L248.7 930.5 L249.2 927.9 L249.6 931.3 L250.1 926.6 L250.5 931.0 L251.0 927.9 L251.4 928.1 L251.9 929.1 L252.3 931.0 L252.8 925.7 L253.2 926.2 L253.7 928.0 L254.1 929.8 L254.6 929.1 L255.0 927.1 L255.5 930.9 L255.9 931.0 L256.4 929.1 L256.8 926.3 L257.3 928.8 L257.7 930.0 L258.2 930.9 L258.6 930.9 L259.1 927.2 L259.5 927.8 L260.0 927.2 L260.4 929.8 L260.9 929.2 L261.3 929.5 L261.8 929.4 L262.2 929.1 L262.7 926.4 L263.1 928.4 L263.6 927.4 L264.0 928.6 L264.5 929.0 L264.9 927.6 L265.4 925.2 L265.8 928.3 L266.3 930.3 L266.7 926.8 L267.2 926.0 L267.6 927.8 L268.1 927.9 L268.5 928.5 L269.0 930.6 L269.4 927.4 L269.9 927.7 L270.3 928.6 L270.8 927.1 L271.2 928.8 L271.7 925.3 L272.1 923.8 L272.6 925.6 L273.0 924.6 L273.5 926.9 L273.9 930.1 L274.4 929.2 L274.8 927.2 L275.3 926.4 L275.7 930.6 L276.2 925.7 L276.6 926.4 L277.1 928.1 L277.5 926.4 L278.0 927.3 L278.4 926.0 L278.9 928.0 L279.3 929.4 L279.8 926.0 L280.2 924.9 L280.7 925.6 L281.1 927.1 L281.6 929.0 L282.0 925.4 L282.5 923.8 L282.9 924.8 L283.4 927.3 L283.8 926.2 L284.3 925.9 L284.7 922.1 L285.2 925.3 L285.6 922.7 L286.1 928.2 L286.5 927.2 L287.0 927.1 L287.4 927.5 L287.9 925.4 L288.3 925.0 L288.8 925.9 L289.2 925.7 L289.7 923.5 L290.1 922.4 L290.6 925.0 L291.0 926.1 L291.5 927.7 L291.9 926.8 L292.4 928.6 L292.8 926.0 L293.3 923.5 L293.7 926.7 L294.2 924.7 L294.6 927.2 L295.1 925.1 L295.5 924.2 L296.0 921.3 L296.4 927.5 L296.9 926.0 L297.3 921.9 L297.8 922.0 L298.2 922.1 L298.7 925.6 L299.1 918.8 L299.6 920.4 L300.0 921.9 L300.5 919.9 L300.9 922.5 L301.4 922.6 L301.8 921.9 L302.3 922.4 L302.7 922.0 L303.2 921.3 L303.6 923.2 L304.1 919.5 L304.5 918.1 L305.0 922.9 L305.4 922.9 L305.9 924.5 L306.3 919.8 L306.8 919.1 L307.2 921.4 L307.7 921.1 L308.1 922.8 L308.6 921.7 L309.0 919.6 L309.5 915.1 L309.9 919.4 L310.4 922.6 L310.8 919.4 L311.3 919.8 L311.7 918.8 L312.2 920.8 L312.6 921.4 L313.1 919.0 L313.5 920.5 L314.0 916.6 L314.4 921.1 L314.9 920.1 L315.3 919.6 L315.8 912.4 L316.2 921.5 L316.7 917.4 L317.1 919.2 L317.6 920.4 L318.0 922.0 L318.5 918.6 L318.9 916.1 L319.4 918.7 L319.8 919.7 L320.3 920.8 L320.7 918.4 L321.2 919.2 L321.6 916.5 L322.1 919.2 L322.5 921.0 L323.0 917.3 L323.4 918.7 L323.9 916.8 L324.3 914.7 L324.8 916.0 L325.2 914.0 L325.7 916.6 L326.1 916.3 L326.6 918.3 L327.0 918.8 L327.5 916.1 L327.9 916.3 L328.4 913.3 L328.8 918.3 L329.3 913.2 L329.7 913.9 L330.2 914.2 L330.6 915.0 L331.1 916.4 L331.5 913.3 L332.0 916.5 L332.4 914.2 L332.9 913.4 L333.3 912.6 L333.8 915.4 L334.2 914.5 L334.7 913.9 L335.1 913.2 L335.6 914.1 L336.0 917.4 L336.5 914.4 L336.9 914.7 L337.4 913.9 L337.8 912.5 L338.3 912.4 L338.7 913.5 L339.2 911.3 L339.6 911.1 L340.1 911.4 L340.5 911.8 L341.0 907.8 L341.4 910.8 L341.9 913.2 L342.3 911.3 L342.8 909.9 L343.2 906.9 L343.7 908.3 L344.1 909.2 L344.6 909.8 L345.0 909.1 L345.5 910.2 L345.9 914.5 L346.4 911.7 L346.8 910.0 L347.3 907.8 L347.7 907.2 L348.2 907.8 L348.6 909.9 L349.1 908.2 L349.5 912.4 L350.0 906.3 L350.4 904.9 L350.9 906.9 L351.3 907.9 L351.8 905.7 L352.2 907.7 L352.7 907.2 L353.1 903.6 L353.6 907.0 L354.0 904.4 L354.5 907.3 L354.9 909.2 L355.4 906.9 L355.8 902.1 L356.3 902.0 L356.7 907.1 L357.2 905.8 L357.6 904.5 L358.1 902.8 L358.5 908.5 L359.0 902.8 L359.4 904.5 L359.9 905.3 L360.3 902.3 L360.8 906.2 L361.2 904.7 L361.7 904.6 L362.1 904.2 L362.6 902.4 L363.0 900.2 L363.5 904.4 L363.9 903.9 L364.4 902.9 L364.8 905.8 L365.3 903.4 L365.7 901.1 L366.2 898.3 L366.6 900.1 L367.1 900.2 L367.5 903.0 L368.0 902.1 L368.4 901.2 L368.9 899.4 L369.3 896.6 L369.8 900.3 L370.2 900.0 L370.7 896.2 L371.1 897.5 L371.6 898.5 L372.0 896.4 L372.5 895.9 L372.9 896.8 L373.4 897.2 L373.8 894.7 L374.3 895.6 L374.7 892.6 L375.2 891.8 L375.6 898.7 L376.1 894.2 L376.5 893.6 L377.0 894.6 L377.4 895.5 L377.9 898.3 L378.3 895.7 L378.8 896.5 L379.2 894.2 L379.7 892.9 L380.1 892.3 L380.6 892.8 L381.0 892.5 L381.5 891.5 L381.9 888.8 L382.4 890.1 L382.8 887.4 L383.3 890.2 L383.7 886.5 L384.2 887.2 L384.6 885.1 L385.1 883.2 L385.5 887.2 L386.0 888.3 L386.4 886.1 L386.9 883.2 L387.3 884.7 L387.8 885.1 L388.2 878.6 L388.7 884.1 L389.1 878.2 L389.6 878.4 L390.0 878.3 L390.5 879.4 L390.9 877.6 L391.4 878.5 L391.8 881.9 L392.3 874.4 L392.7 877.5 L393.2 873.9 L393.6 880.3 L394.1 874.6 L394.5 877.9 L395.0 874.5 L395.4 873.2 L395.9 878.1 L396.3 872.2 L396.8 871.5 L397.2 874.0 L397.7 872.7 L398.1 873.1 L398.6 867.8 L399.0 873.4 L399.5 869.5 L399.9 870.5 L400.4 865.5 L400.8 866.4 L401.3 869.0 L401.7 863.1 L402.2 865.2 L402.6 867.0 L403.1 861.8 L403.5 862.9 L404.0 861.8 L404.4 863.5 L404.9 867.2 L405.3 859.5 L405.8 864.1 L406.2 861.0 L406.7 858.7 L407.1 858.9 L407.6 860.0 L408.0 858.2 L408.5 855.7 L408.9 855.2 L409.4 861.0 L409.8 861.3 L410.3 857.9 L410.7 854.6 L411.2 856.2 L411.6 857.9 L412.1 855.9 L412.5 857.9 L413.0 852.5 L413.4 851.8 L413.9 851.8 L414.3 852.6 L414.8 856.1 L415.2 852.3 L415.7 846.8 L416.1 853.5 L416.6 849.6 L417.0 849.8 L417.5 850.4 L417.9 849.2 L418.4 839.2 L418.8 846.9 L419.3 843.7 L419.7 843.5 L420.2 844.6 L420.6 845.1 L421.1 837.2 L421.5 841.2 L422.0 838.4 L422.4 841.6 L422.9 831.0 L423.3 836.4 L423.8 837.2 L424.2 830.8 L424.7 833.6 L425.1 834.2 L425.6 826.9 L426.0 839.2 L426.5 830.8 L426.9 833.6 L427.4 828.6 L427.8 828.8 L428.3 830.8 L428.7 822.4 L429.2 826.0 L429.6 828.6 L430.1 830.6 L430.5 833.2 L431.0 817.7 L431.4 825.5 L431.9 823.7 L432.3 824.8 L432.8 822.5 L433.2 827.5 L433.7 819.7 L434.1 824.4 L434.6 822.0 L435.0 820.1 L435.5 821.5 L435.9 814.5 L436.4 823.7 L436.8 817.2 L437.3 820.3 L437.7 819.1 L438.2 820.1 L438.6 817.9 L439.1 816.2 L439.5 812.0 L440.0 811.1 L440.4 817.3 L440.9 816.3 L441.3 820.4 L441.8 809.6 L442.2 816.5 L442.7 812.9 L443.1 814.8 L443.6 818.2 L444.0 820.0 L444.5 815.1 L444.9 814.5 L445.4 817.3 L445.8 812.7 L446.3 816.6 L446.7 818.2 L447.2 815.6 L447.6 817.7 L448.1 815.4 L448.5 818.9 L449.0 817.3 L449.4 819.0 L449.9 821.3 L450.3 814.9 L450.8 818.9 L451.2 820.0 L451.7 820.2 L452.1 819.9 L452.6 815.6 L453.0 822.3 L453.5 817.3 L453.9 816.1 L454.4 819.2 L454.8 813.0 L455.3 818.7 L455.7 817.1 L456.2 811.6 L456.6 816.7 L457.1 820.4 L457.5 823.8 L458.0 820.9 L458.4 817.1 L458.9 820.9 L459.3 817.9 L459.8 821.5 L460.2 817.3 L460.7 816.8 L461.1 817.6 L461.6 822.0 L462.0 812.9 L462.5 814.6 L462.9 818.4 L463.4 815.1 L463.8 817.3 L464.3 812.3 L464.7 821.3 L465.2 818.1 L465.6 819.1 L466.1 813.7 L466.5 820.1 L467.0 819.0 L467.4 816.5 L467.9 819.1 L468.3 814.1 L468.8 808.7 L469.2 814.7 L469.7 822.3 L470.1 812.9 L470.6 814.5 L471.0 813.6 L471.5 816.0 L471.9 816.7 L472.4 815.1 L472.8 816.4 L473.3 815.6 L473.7 816.9 L474.2 819.4 L474.6 815.8 L475.1 819.4 L475.5 815.3 L476.0 822.0 L476.4 815.3 L476.9 816.8 L477.3 819.4 L477.8 819.5 L478.2 822.9 L478.7 813.2 L479.1 818.3 L479.6 819.1 L480.0 818.8 L480.5 815.6 L480.9 810.8 L481.4 811.4 L481.8 825.3 L482.3 825.5 L482.7 814.2 L483.2 820.0 L483.6 818.9 L484.1 822.5 L484.5 822.9 L485.0 821.4 L485.4 824.9 L485.9 819.0 L486.3 821.7 L486.8 826.4 L487.2 829.7 L487.7 818.6 L488.1 825.4 L488.6 824.3 L489.0 826.2 L489.5 830.3 L489.9 825.6 L490.4 823.1 L490.8 827.5 L491.3 823.6 L491.7 831.9 L492.2 825.7 L492.6 828.0 L493.1 828.9 L493.5 831.9 L494.0 832.7 L494.4 833.6 L494.9 831.9 L495.3 830.8 L495.8 832.6 L496.2 835.9 L496.7 833.3 L497.1 833.5 L497.6 835.2 L498.0 836.9 L498.5 833.3 L498.9 835.9 L499.4 839.0 L499.8 830.0 L500.3 840.0 L500.7 840.1 L501.2 836.3 L501.6 837.3 L502.1 840.1 L502.5 838.7 L503.0 844.7 L503.4 843.1 L503.9 835.9 L504.3 846.4 L504.8 841.6 L505.2 844.4 L505.7 837.7 L506.1 845.4 L506.6 842.4 L507.0 843.6 L507.5 844.7 L507.9 843.9 L508.4 840.5 L508.8 842.7 L509.3 851.1 L509.7 841.3 L510.2 843.2 L510.6 842.6 L511.1 847.4 L511.5 846.4 L512.0 846.9 L512.4 843.3 L512.9 855.0 L513.3 851.0 L513.8 848.3 L514.2 850.8 L514.7 849.8 L515.1 849.1 L515.6 855.5 L516.0 853.6 L516.5 850.3 L516.9 852.9 L517.4 852.5 L517.8 852.8 L518.3 850.2 L518.7 854.1 L519.2 851.2 L519.6 857.7 L520.1 857.7 L520.5 856.1 L521.0 853.2 L521.4 851.8 L521.9 850.5 L522.3 855.7 L522.8 854.0 L523.2 854.3 L523.7 852.5 L524.1 858.0 L524.6 850.4 L525.0 856.7 L525.5 854.0 L525.9 857.2 L526.4 852.1 L526.8 860.9 L527.3 852.0 L527.7 857.5 L528.2 858.7 L528.6 861.1 L529.1 860.5 L529.5 860.3 L530.0 859.9 L530.4 864.8 L530.9 855.8 L531.3 865.0 L531.8 861.7 L532.2 864.6 L532.7 861.0 L533.1 869.5 L533.6 859.3 L534.0 866.4 L534.5 861.5 L534.9 866.2 L535.4 867.1 L535.8 865.0 L536.3 865.6 L536.7 864.4 L537.2 864.0 L537.6 864.7 L538.1 866.2 L538.5 866.8 L539.0 864.5 L539.4 869.7 L539.9 866.6 L540.3 867.6 L540.8 867.3 L541.2 866.9 L541.7 865.8 L542.1 868.0 L542.6 867.6 L543.0 866.2 L543.5 869.9 L543.9 867.4 L544.4 866.5 L544.8 868.8 L545.3 866.1 L545.7 867.1 L546.2 868.2 L546.6 868.2 L547.1 866.7 L547.5 873.7 L548.0 866.9 L548.4 868.7 L548.9 872.6 L549.3 872.2 L549.8 873.2 L550.2 871.4 L550.7 865.8 L551.1 866.7 L551.6 871.4 L552.0 869.8 L552.5 868.0 L552.9 863.7 L553.4 868.8 L553.8 867.7 L554.3 868.2 L554.7 867.7 L555.2 867.5 L555.6 869.0 L556.1 867.2 L556.5 867.2 L557.0 864.8 L557.4 868.5 L557.9 863.6 L558.3 869.0 L558.8 869.7 L559.2 866.9 L559.7 864.7 L560.1 867.8 L560.6 864.1 L561.0 865.0 L561.5 865.9 L561.9 862.7 L562.4 866.5 L562.8 862.9 L563.3 862.3 L563.7 855.7 L564.2 863.7 L564.6 857.3 L565.1 861.6 L565.5 860.1 L566.0 860.3 L566.4 855.4 L566.9 860.3 L567.3 861.6 L567.8 859.0 L568.2 859.1 L568.7 863.8 L569.1 854.4 L569.6 861.7 L570.0 856.3 L570.5 857.4 L570.9 860.7 L571.4 857.6 L571.8 856.2 L572.3 864.1 L572.7 860.7 L573.2 857.4 L573.6 856.9 L574.1 852.9 L574.5 854.4 L575.0 856.2 L575.4 854.9 L575.9 853.9 L576.3 854.6 L576.8 851.7 L577.2 853.5 L577.7 858.1 L578.1 847.1 L578.6 849.5 L579.0 850.8 L579.5 853.5 L579.9 850.0 L580.4 851.2 L580.8 849.7 L581.3 854.9 L581.7 848.8 L582.2 848.0 L582.6 850.2 L583.1 847.8 L583.5 848.7 L584.0 843.5 L584.4 846.4 L584.9 848.4 L585.3 844.9 L585.8 847.8 L586.2 845.9 L586.7 848.7 L587.1 854.6 L587.6 847.0 L588.0 848.5 L588.5 845.4 L588.9 845.1 L589.4 843.3 L589.8 841.2 L590.3 840.1 L590.7 843.0 L591.2 838.0 L591.6 840.4 L592.1 842.6 L592.5 836.4 L593.0 834.5 L593.4 836.5 L593.9 836.6 L594.3 825.0 L594.8 827.2 L595.2 832.0 L595.7 828.6 L596.1 830.4 L596.6 832.6 L597.0 835.0 L597.5 827.2 L597.9 827.2 L598.4 826.5 L598.8 832.9 L599.3 831.0 L599.7 821.3 L600.2 821.6 L600.6 819.3 L601.1 822.0 L601.5 816.4 L602.0 824.5 L602.4 824.1 L602.9 822.5 L603.3 818.0 L603.8 818.7 L604.2 821.9 L604.7 818.5 L605.1 815.3 L605.6 817.1 L606.0 812.9 L606.5 815.7 L606.9 823.3 L607.4 807.9 L607.8 814.9 L608.3 813.5 L608.7 814.7 L609.2 812.4 L609.6 808.9 L610.1 809.1 L610.5 808.9 L611.0 802.8 L611.4 804.9 L611.9 798.1 L612.3 803.0 L612.8 801.3 L613.2 799.6 L613.7 802.0 L614.1 803.3 L614.6 798.6 L615.0 805.8 L615.5 793.7 L615.9 797.6 L616.4 803.2 L616.8 794.4 L617.3 794.9 L617.7 798.8 L618.2 792.4 L618.6 787.3 L619.1 790.5 L619.5 792.0 L620.0 787.4 L620.4 785.3 L620.9 784.4 L621.3 786.9 L621.8 783.0 L622.2 789.5 L622.7 780.0 L623.1 781.9 L623.6 784.1 L624.0 779.8 L624.5 770.5 L624.9 776.7 L625.4 772.8 L625.8 772.3 L626.3 768.5 L626.7 770.0 L627.2 769.5 L627.6 763.6 L628.1 760.4 L628.5 767.0 L629.0 766.1 L629.4 766.5 L629.9 761.3 L630.3 757.9 L630.8 754.7 L631.2 761.0 L631.7 758.8 L632.1 762.0 L632.6 751.3 L633.0 751.0 L633.5 756.6 L633.9 745.2 L634.4 742.2 L634.8 745.5 L635.3 749.6 L635.7 749.9 L636.2 741.6 L636.6 741.5 L637.1 734.7 L637.5 746.6 L638.0 745.5 L638.4 736.6 L638.9 732.0 L639.3 735.4 L639.8 734.0 L640.2 727.0 L640.7 722.8 L641.1 722.7 L641.6 734.7 L642.0 719.0 L642.5 720.1 L642.9 722.1 L643.4 718.5 L643.8 717.1 L644.3 719.2 L644.7 717.2 L645.2 720.9 L645.6 712.1 L646.1 714.0 L646.5 714.6 L647.0 711.2 L647.4 707.9 L647.9 707.9 L648.3 698.0 L648.8 707.8 L649.2 706.5 L649.7 703.7 L650.1 708.8 L650.6 692.1 L651.0 700.3 L651.5 694.8 L651.9 698.8 L652.4 687.7 L652.8 692.1 L653.3 697.7 L653.7 693.1 L654.2 691.3 L654.6 692.7 L655.1 692.5 L655.5 690.0 L656.0 683.4 L656.4 681.7 L656.9 691.5 L657.3 694.1 L657.8 696.6 L658.2 689.5 L658.7 685.1 L659.1 689.3 L659.6 684.8 L660.0 692.4 L660.5 690.2 L660.9 674.6 L661.4 688.4 L661.8 686.9 L662.3 677.8 L662.7 678.0 L663.2 679.2 L663.6 681.2 L664.1 680.5 L664.5 686.9 L665.0 676.3 L665.4 684.1 L665.9 685.5 L666.3 687.8 L666.8 683.8 L667.2 678.3 L667.7 689.8 L668.1 682.3 L668.6 687.1 L669.0 681.8 L669.5 684.0 L669.9 678.9 L670.4 680.0 L670.8 680.2 L671.3 686.3 L671.7 689.5 L672.2 687.3 L672.6 677.4 L673.1 674.5 L673.5 664.6 L674.0 682.3 L674.4 683.2 L674.9 685.4 L675.3 682.3 L675.8 688.0 L676.2 692.1 L676.7 686.8 L677.1 695.9 L677.6 693.5 L678.0 694.5 L678.5 692.0 L678.9 682.7 L679.4 693.8 L679.8 694.3 L680.3 700.1 L680.7 698.0 L681.2 699.2 L681.6 692.5 L682.1 701.0 L682.5 705.4 L683.0 705.2 L683.4 713.4 L683.9 706.7 L684.3 709.5 L684.8 710.2 L685.2 712.8 L685.7 710.1 L686.1 716.4 L686.6 716.2 L687.0 719.6 L687.5 723.5 L687.9 721.4 L688.4 727.8 L688.8 720.3 L689.3 729.0 L689.7 722.6 L690.2 731.1 L690.6 730.8 L691.1 730.9 L691.5 727.9 L692.0 738.7 L692.4 742.9 L692.9 736.2 L693.3 741.4 L693.8 740.8 L694.2 743.7 L694.7 753.6 L695.1 752.0 L695.6 751.5 L696.0 752.0 L696.5 754.8 L696.9 763.8 L697.4 763.4 L697.8 765.6 L698.3 766.6 L698.7 770.7 L699.2 760.4 L699.6 771.5 L700.1 768.4 L700.5 775.1 L701.0 779.2 L701.4 775.0 L701.9 774.9 L702.3 776.7 L702.8 791.2 L703.2 779.6 L703.7 787.9 L704.1 793.6 L704.6 786.7 L705.0 792.3 L705.5 783.8 L705.9 791.7 L706.4 795.5 L706.8 795.3 L707.3 800.5 L707.7 807.5 L708.2 803.4 L708.6 803.5 L709.1 806.0 L709.5 810.2 L710.0 808.6 L710.4 812.8 L710.9 813.2 L711.3 806.0 L711.8 813.5 L712.2 810.7 L712.7 813.0 L713.1 813.5 L713.6 816.4 L714.0 821.2 L714.5 820.2 L714.9 827.4 L715.4 823.1 L715.8 823.4 L716.3 823.7 L716.7 827.5 L717.2 830.6 L717.6 837.4 L718.1 834.0 L718.5 836.9 L719.0 834.1 L719.4 841.4 L719.9 843.3 L720.3 843.8 L720.8 845.9 L721.2 846.0 L721.7 848.9 L722.1 845.4 L722.6 843.8 L723.0 847.9 L723.5 852.7 L723.9 858.9 L724.4 856.3 L724.8 859.2 L725.3 854.1 L725.7 856.3 L726.2 854.6 L726.6 860.6 L727.1 862.6 L727.5 863.2 L728.0 860.4 L728.4 863.4 L728.9 866.7 L729.3 865.3 L729.8 868.4 L730.2 866.5 L730.7 867.6 L731.1 870.6 L731.6 868.9 L732.0 872.1 L732.5 871.1 L732.9 872.2 L733.4 874.0 L733.8 872.6 L734.3 871.4 L734.7 869.0 L735.2 873.5 L735.6 873.5 L736.1 876.9 L736.5 879.2 L737.0 877.6 L737.4 882.7 L737.9 878.6 L738.3 881.6 L738.8 880.6 L739.2 881.2 L739.7 881.0 L740.1 876.6 L740.6 880.5 L741.0 884.3 L741.5 878.9 L741.9 884.9 L742.4 884.6 L742.8 887.1 L743.3 886.2 L743.7 882.2 L744.2 891.0 L744.6 888.2 L745.1 890.3 L745.5 889.2 L746.0 891.3 L746.4 894.6 L746.9 896.6 L747.3 894.8 L747.8 897.0 L748.2 892.7 L748.7 894.3 L749.1 888.9 L749.6 897.1 L750.0 896.2 L750.5 894.2 L750.9 893.5 L751.4 895.1 L751.8 900.7 L752.3 897.9 L752.7 900.9 L753.2 898.2 L753.6 897.3 L754.1 897.5 L754.5 901.4 L755.0 899.8 L755.4 899.0 L755.9 903.6 L756.3 895.0 L756.8 901.8 L757.2 901.3 L757.7 907.2 L758.1 900.3 L758.6 903.4 L759.0 903.5 L759.5 903.7 L759.9 899.8 L760.4 906.6 L760.8 905.5 L761.3 906.0 L761.7 907.9 L762.2 907.9 L762.6 903.2 L763.1 905.6 L763.5 908.4 L764.0 905.7 L764.4 909.3 L764.9 905.2 L765.3 911.1 L765.8 908.8 L766.2 908.5 L766.7 906.7 L767.1 907.1 L767.6 907.3 L768.0 908.0 L768.5 908.1 L768.9 908.1 L769.4 907.6 L769.8 907.7 L770.3 908.9 L770.7 910.1 L771.2 907.9 L771.6 909.8 L772.1 907.6 L772.5 911.1 L773.0 914.2 L773.4 908.9 L773.9 914.3 L774.3 912.8 L774.8 909.5 L775.2 910.5 L775.7 911.2 L776.1 912.9 L776.6 908.8 L777.0 911.3 L777.5 913.7 L777.9 910.6 L778.4 911.5 L778.8 910.6 L779.3 909.2 L779.7 910.2 L780.2 911.9 L780.6 915.8 L781.1 916.8 L781.5 912.9 L782.0 913.3 L782.4 914.5 L782.9 914.2 L783.3 913.5 L783.8 915.2 L784.2 913.6 L784.7 916.1 L785.1 912.3 L785.6 913.6 L786.0 917.9 L786.5 914.4 L786.9 912.5 L787.4 914.2 L787.8 915.4 L788.3 915.9 L788.7 915.5 L789.2 918.2 L789.6 914.1 L790.1 917.3 L790.5 915.4 L791.0 916.3 L791.4 919.6 L791.9 917.8 L792.3 914.6 L792.8 917.7 L793.2 920.7 L793.7 917.3 L794.1 918.2 L794.6 918.3 L795.0 920.3 L795.5 919.0 L795.9 917.0 L796.4 919.2 L796.8 916.4 L797.3 921.4 L797.7 917.8 L798.2 921.3 L798.6 922.5 L799.1 918.9 L799.5 915.3 L800.0 919.8 L800.4 920.7 L800.9 918.0 L801.3 917.8 L801.8 918.5 L802.2 918.1 L802.7 918.5 L803.1 917.8 L803.6 918.1 L804.0 917.6 L804.5 920.3 L804.9 919.0 L805.4 917.2 L805.8 914.1 L806.3 917.7 L806.7 921.0 L807.2 918.3 L807.6 919.1 L808.1 919.3 L808.5 922.8 L809.0 918.5 L809.4 917.5 L809.9 917.9 L810.3 917.2 L810.8 921.7 L811.2 917.3 L811.7 920.7 L812.1 919.4 L812.6 918.6 L813.0 919.7 L813.5 915.4 L813.9 917.9 L814.4 916.0 L814.8 916.0 L815.3 913.5 L815.7 914.4 L816.2 913.0 L816.6 914.1 L817.1 915.6 L817.5 915.4 L818.0 914.0 L818.4 914.5 L818.9 918.2 L819.3 920.3 L819.8 920.5 L820.2 917.9 L820.7 920.3 L821.1 922.1 L821.6 923.6 L822.0 925.8 L822.5 922.2 L822.9 924.2 L823.4 926.2 L823.8 923.7 L824.3 926.4 L824.7 923.5 L825.2 926.0 L825.6 924.9 L826.1 923.2 L826.5 924.3 L827.0 926.9 L827.4 923.9 L827.9 921.8 L828.3 926.1 L828.8 926.3 L829.2 924.6 L829.7 930.7 L830.1 927.6 L830.6 926.5 L831.0 923.8 L831.5 924.9 L831.9 924.3 L832.4 924.9 L832.8 926.9 L833.3 926.3 L833.7 927.5 L834.2 925.6 L834.6 930.0 L835.1 926.1 L835.5 926.3 L836.0 927.0 L836.4 927.5 L836.9 931.4 L837.3 928.2 L837.8 926.7 L838.2 929.6 L838.7 925.9 L839.1 931.9 L839.6 927.9 L840.0 927.8 L840.5 926.8 L840.9 928.1 L841.4 929.8 L841.8 930.3 L842.3 928.5 L842.7 925.4 L843.2 930.3 L843.6 930.3 L844.1 930.0 L844.5 927.9 L845.0 931.9 L845.4 929.2 L845.9 929.0 L846.3 929.7 L846.8 930.9 L847.2 931.3 L847.7 927.6 L848.1 927.4 L848.6 927.5 L849.0 928.0 L849.5 931.6 L849.9 929.7 L850.4 930.8 L850.8 926.7 L851.3 933.6 L851.7 927.7 L852.2 931.3 L852.6 932.4 L853.1 928.3 L853.5 926.9 L854.0 930.7 L854.4 927.8 L854.9 929.8 L855.3 929.9 L855.8 932.2 L856.2 931.6 L856.7 930.5 L857.1 931.9 L857.6 931.3 L858.0 931.6 L858.5 931.9 L858.9 929.6 L859.4 929.0 L859.8 932.3 L860.3 931.1 L860.7 929.8 L861.2 930.1 L861.6 933.4 L862.1 929.0 L862.5 932.0 L863.0 931.0 L863.4 929.8 L863.9 932.6 L864.3 932.2 L864.8 931.5 L865.2 930.7 L865.7 932.8 L866.1 932.7 L866.6 933.3 L867.0 931.0 L867.5 933.0 L867.9 933.4 L868.4 931.9 L868.8 930.6 L869.3 929.0 L869.7 934.6 L870.2 933.6 L870.6 933.9 L871.1 933.0 L871.5 933.0 L872.0 934.5 L872.4 934.0 L872.9 935.1 L873.3 931.3 L873.8 933.1 L874.2 931.8 L874.7 934.8 L875.1 933.7 L875.6 932.7 L876.0 933.8 L876.5 931.9 L876.9 933.3 L877.4 932.2 L877.8 930.3 L878.3 932.5 L878.7 936.6 L879.2 931.8 L879.6 930.5 L880.1 934.8 L880.5 933.2 L881.0 932.5 L881.4 933.5 L881.9 932.6 L882.3 935.7 L882.8 934.9 L883.2 933.1 L883.7 938.6 L884.1 934.1 L884.6 932.1 L885.0 937.4 L885.5 935.5 L885.9 936.3 L886.4 934.5 L886.8 935.0 L887.3 937.0 L887.7 939.5 L888.2 937.0 L888.6 937.2 L889.1 934.1 L889.5 937.7 L890.0 935.8 L890.4 935.0 L890.9 935.5 L891.3 934.2 L891.8 933.2 L892.2 931.0 L892.7 935.3 L893.1 935.9 L893.6 933.5 L894.0 936.7 L894.5 933.9 L894.9 934.0 L895.4 932.6 L895.8 935.8 L896.3 936.8 L896.7 935.9 L897.2 934.2 L897.6 934.4 L898.1 934.6 L898.5 938.8 L899.0 939.7 L899.4 937.1 L899.9 936.1 L900.3 937.5 L900.8 938.2 L901.2 939.7 L901.7 935.2 L902.1 937.2 L902.6 937.1 L903.0 934.2 L903.5 936.9 L903.9 934.7 L904.4 938.2 L904.8 937.0 L905.3 937.4 L905.7 936.8 L906.2 935.6 L906.6 933.5 L907.1 933.5 L907.5 937.2 L908.0 941.0 L908.4 936.6 L908.9 937.5 L909.3 938.0 L909.8 938.2 L910.2 938.3 L910.7 938.3 L911.1 936.9 L911.6 936.6 L912.0 938.3 L912.5 938.4 L912.9 935.2 L913.4 941.4 L913.8 935.0 L914.3 937.4 L914.7 935.9 L915.2 940.1 L915.6 936.7 L916.1 938.1 L916.5 937.5 L917.0 938.1 L917.4 938.1 L917.9 939.0 L918.3 936.8 L918.8 939.3 L919.2 937.5 L919.7 938.4 L920.1 938.0 L920.6 940.2 L921.0 938.4 L921.5 938.0 L921.9 939.4 L922.4 940.0 L922.8 940.1 L923.3 939.2 L923.7 938.9 L924.2 936.7 L924.6 940.9 L925.1 939.0 L925.5 937.6 L926.0 940.0 L926.4 938.3 L926.9 938.8 L927.3 940.0 L927.8 938.5 L928.2 937.5 L928.7 938.8 L929.1 938.7 L929.6 936.5 L930.0 939.3 L930.5 940.2 L930.9 938.1 L931.4 939.7 L931.8 940.1 L932.3 940.3 L932.7 939.6 L933.2 934.2 L933.6 940.2 L934.1 941.2 L934.5 940.8 L935.0 937.3 L935.4 941.8 L935.9 942.0 L936.3 937.0 L936.8 937.1 L937.2 938.7 L937.7 939.9 L938.1 938.9 L938.6 940.2 L939.0 939.6 L939.5 940.3 L939.9 941.0 L940.4 937.5 L940.8 939.5 L941.3 937.1 L941.7 938.5 L942.2 936.8 L942.6 940.5 L943.1 939.0 L943.5 938.8 L944.0 941.0 L944.4 939.3 L944.9 938.5 L945.3 936.3 L945.8 938.2 L946.2 942.5 L946.7 938.2 L947.1 941.8 L947.6 939.1 L948.0 942.4 L948.5 940.8 L948.9 939.7 L949.4 939.9 L949.8 941.1 L950.3 940.1 L950.7 942.6 L951.2 942.6 L951.6 937.0 L952.1 941.5 L952.5 941.8 L953.0 942.7 L953.4 940.9 L953.9 942.4 L954.3 940.3 L954.8 940.3 L955.2 940.2 L955.7 939.9 L956.1 942.3 L956.6 942.6 L957.0 943.5 L957.5 941.0 L957.9 939.8 L958.4 938.5 L958.8 942.7 L959.3 941.5 L959.7 941.0 L960.2 946.3 L960.6 941.1 L961.1 940.9 L961.5 940.2 L962.0 938.8 L962.4 942.7 L962.9 940.6 L963.3 940.7 L963.8 941.0 L964.2 936.7 L964.7 938.5 L965.1 938.3 L965.6 941.6 L966.0 938.5 L966.5 937.4 L966.9 938.6 L967.4 939.6 L967.8 939.0 L968.3 941.5 L968.7 942.4 L969.2 940.4 L969.6 938.4 L970.1 942.0 L970.5 937.9 L971.0 938.5 L971.4 941.3 L971.9 942.8 L972.3 942.7 L972.8 940.8 L973.2 942.4 L973.7 939.2 L974.1 939.6 L974.6 942.2 L975.0 940.4 L975.5 940.1 L975.9 941.6 L976.4 944.5 L976.8 943.2 L977.3 944.6 L977.7 942.1 L978.2 942.1 L978.6 943.9 L979.1 939.6 L979.5 943.1 L980.0 938.5 L980.4 941.7 L980.9 942.6 L981.3 942.1 L981.8 943.0 L982.2 942.2 L982.7 939.4 L983.1 939.6 L983.6 945.7 L984.0 939.0 L984.5 940.5 L984.9 940.6 L985.4 941.2 L985.8 941.9 L986.3 937.7 L986.7 940.1 L987.2 943.3 L987.6 942.6 L988.1 940.7 L988.5 941.8 L989.0 941.8 L989.4 938.3 L989.9 940.8 L990.3 938.3 L990.8 941.8 L991.2 943.9 L991.7 940.8 L992.1 939.6 L992.6 942.5 L993.0 938.4 L993.5 940.0 L993.9 938.5 L994.4 942.3 L994.8 941.1 L995.3 945.2 L995.7 943.2 L996.2 939.4 L996.6 941.0 L997.1 940.8 L997.5 945.0 L998.0 941.4 L998.4 939.6 L998.9 940.5 L999.3 941.3 L999.8 940.2 L1000.2 941.1 L1000.7 938.5 L1001.1 942.2 L1001.6 941.3 L1002.0 941.7 L1002.5 943.3 L1002.9 942.0 L1003.4 940.0 L1003.8 941.3 L1004.3 942.3 L1004.7 940.3 L1005.2 942.4 L1005.6 942.4 L1006.1 942.2 L1006.5 940.8 L1007.0 940.3 L1007.4 942.8 L1007.9 939.6 L1008.3 942.1 L1008.8 942.7 L1009.2 939.5 L1009.7 941.5 L1010.1 940.6 L1010.6 941.8 L1011.0 938.7 L1011.5 939.2 L1011.9 939.6 L1012.4 941.2 L1012.8 938.5 L1013.3 938.8 L1013.7 938.3 L1014.2 943.5 L1014.6 939.1 L1015.1 939.2 L1015.5 940.9 L1016.0 939.6 L1016.4 939.9 L1016.9 940.7 L1017.3 940.2 L1017.8 943.3 L1018.2 941.4 L1018.7 939.6 L1019.1 940.5 L1019.6 938.5 L1020.0 938.7 L1020.5 941.7 L1020.9 937.5 L1021.4 938.6 L1021.8 938.4 L1022.3 940.3 L1022.7 939.0 L1023.2 937.8 L1023.6 936.8 L1024.1 937.8 L1024.5 940.3 L1025.0 940.0 L1025.4 938.6 L1025.9 937.8 L1026.3 937.0 L1026.8 939.3 L1027.2 934.6 L1027.7 939.1 L1028.1 940.6 L1028.6 937.4 L1029.0 940.8 L1029.5 935.4 L1029.9 934.9 L1030.4 938.9 L1030.8 937.6 L1031.3 937.1 L1031.7 939.2 L1032.2 938.2 L1032.6 937.9 L1033.1 938.2 L1033.5 936.2 L1034.0 937.0 L1034.4 932.7 L1034.9 934.3 L1035.3 937.9 L1035.8 937.2 L1036.2 934.1 L1036.7 936.4 L1037.1 935.4 L1037.6 933.4 L1038.0 933.4 L1038.5 934.4 L1038.9 931.4 L1039.4 935.8 L1039.8 936.2 L1040.3 934.8 L1040.7 934.1 L1041.2 933.8 L1041.6 931.6 L1042.1 932.8 L1042.5 933.4 L1043.0 935.7 L1043.4 933.0 L1043.9 936.2 L1044.3 933.8 L1044.8 932.4 L1045.2 934.3 L1045.7 932.4 L1046.1 934.3 L1046.6 933.1 L1047.0 935.6 L1047.5 935.2 L1047.9 933.7 L1048.4 935.0 L1048.8 932.4 L1049.3 929.7 L1049.7 931.3 L1050.2 932.9 L1050.6 933.0 L1051.1 931.4 L1051.5 934.2 L1052.0 934.1 L1052.4 932.2 L1052.9 931.6 L1053.3 929.1 L1053.8 934.2 L1054.2 932.1 L1054.7 931.8 L1055.1 931.4 L1055.6 933.9 L1056.0 932.2 L1056.5 933.3 L1056.9 935.1 L1057.4 936.1 L1057.8 934.0 L1058.3 928.4 L1058.7 931.9 L1059.2 931.9 L1059.6 933.6 L1060.1 930.7 L1060.5 936.4 L1061.0 931.6 L1061.4 931.2 L1061.9 931.4 L1062.3 929.7 L1062.8 929.5 L1063.2 931.1 L1063.7 933.4 L1064.1 930.9 L1064.6 931.8 L1065.0 930.0 L1065.5 933.2 L1065.9 932.5 L1066.4 930.1 L1066.8 930.9 L1067.3 931.9 L1067.7 930.1 L1068.2 930.7 L1068.6 931.2 L1069.1 927.4 L1069.5 930.1 L1070.0 930.7 L1070.4 928.5 L1070.9 932.3 L1071.3 929.6 L1071.8 924.9 L1072.2 930.0 L1072.7 931.7 L1073.1 930.6 L1073.6 930.6 L1074.0 931.1 L1074.5 927.2 L1074.9 927.4 L1075.4 928.7 L1075.8 930.1 L1076.3 932.3 L1076.7 931.9 L1077.2 931.0 L1077.6 934.8 L1078.1 931.2 L1078.5 933.2 L1079.0 930.7 L1079.4 930.6 L1079.9 932.4 L1080.3 927.4 L1080.8 932.9 L1081.2 933.0 L1081.7 932.5 L1082.1 930.4 L1082.6 933.3 L1083.0 930.9 L1083.5 932.3 L1083.9 933.4 L1084.4 929.6 L1084.8 930.2 L1085.3 929.7 L1085.7 929.1 L1086.2 933.9 L1086.6 931.5 L1087.1 928.8 L1087.5 929.5 L1088.0 928.4 L1088.4 930.8 L1088.9 930.1 L1089.3 931.1 L1089.8 931.7 L1090.2 932.8 L1090.7 935.2 L1091.1 932.6 L1091.6 931.8 L1092.0 934.0 L1092.5 932.7 L1092.9 931.6 L1093.4 932.3 L1093.8 933.5 L1094.3 931.0 L1094.7 931.1 L1095.2 935.1 L1095.6 933.1 L1096.1 933.1 L1096.5 931.7 L1097.0 936.7 L1097.4 933.8 L1097.9 933.5 L1098.3 932.6 L1098.8 936.1 L1099.2 932.0 L1099.7 935.7 L1100.1 934.1 L1100.6 932.2 L1101.0 934.4 L1101.5 933.9 L1101.9 933.7 L1102.4 932.7 L1102.8 933.7 L1103.3 933.1 L1103.7 932.2 L1104.2 936.7 L1104.6 932.6 L1105.1 935.5 L1105.5 937.2 L1106.0 935.3 L1106.4 935.5 L1106.9 935.3 L1107.3 933.5 L1107.8 937.4 L1108.2 934.0 L1108.7 936.2 L1109.1 935.6 L1109.6 937.3 L1110.0 935.6 L1110.5 936.9 L1110.9 935.2 L1111.4 935.1 L1111.8 937.4 L1112.3 936.8 L1112.7 935.9 L1113.2 935.9 L1113.6 938.1 L1114.1 938.4 L1114.5 939.1 L1115.0 939.9 L1115.4 940.6 L1115.9 939.1 L1116.3 935.3 L1116.8 936.8 L1117.2 935.1 L1117.7 939.9 L1118.1 940.1 L1118.6 940.4 L1119.0 939.2 L1119.5 937.0 L1119.9 938.5 L1120.4 934.4 L1120.8 936.6 L1121.3 939.6 L1121.7 937.9 L1122.2 936.5 L1122.6 935.5 L1123.1 937.6 L1123.5 938.5 L1124.0 938.8 L1124.4 937.3 L1124.9 936.7 L1125.3 936.2 L1125.8 934.5 L1126.2 936.9 L1126.7 935.5 L1127.1 938.6 L1127.6 937.0 L1128.0 936.6 L1128.5 940.1 L1128.9 937.9 L1129.4 939.0 L1129.8 937.1 L1130.3 938.1 L1130.7 939.4 L1131.2 937.5 L1131.6 940.3 L1132.1 940.8 L1132.5 941.0 L1133.0 938.5 L1133.4 941.8 L1133.9 938.3 L1134.3 942.2 L1134.8 940.0 L1135.2 941.2 L1135.7 940.6 L1136.1 939.1 L1136.6 937.5 L1137.0 937.3 L1137.5 942.3 L1137.9 941.5 L1138.4 936.7 L1138.8 940.4 L1139.3 939.2 L1139.7 941.2 L1140.2 937.1 L1140.6 939.2 L1141.1 937.8 L1141.5 937.5 L1142.0 942.0 L1142.4 939.6 L1142.9 942.3 L1143.3 940.9 L1143.8 938.4 L1144.2 940.8 L1144.7 940.9 L1145.1 943.8 L1145.6 940.8 L1146.0 943.3 L1146.5 944.0 L1146.9 941.3 L1147.4 941.9 L1147.8 940.4 L1148.3 940.3 L1148.7 940.5 L1149.2 943.6 L1149.6 941.9 L1150.1 939.2 L1150.5 937.6 L1151.0 940.2 L1151.4 941.0 L1151.9 941.3 L1152.3 939.6 L1152.8 940.1 L1153.2 939.4 L1153.7 942.8 L1154.1 941.1 L1154.6 941.6 L1155.0 941.4 L1155.5 940.4 L1155.9 942.6 L1156.4 941.5 L1156.8 941.5 L1157.3 942.3 L1157.7 941.9 L1158.2 943.9 L1158.6 941.7 L1159.1 944.2 L1159.5 946.2 L1160.0 942.6 L1160.4 942.0 L1160.9 943.1 L1161.3 942.9 L1161.8 945.8 L1162.2 944.5 L1162.7 946.0 L1163.1 945.1 L1163.6 943.4 L1164.0 944.6 L1164.5 946.3 L1164.9 945.1 L1165.4 943.6 L1165.8 943.2 L1166.3 944.1 L1166.7 943.4 L1167.2 947.2 L1167.6 942.2 L1168.1 945.5 L1168.5 943.6 L1169.0 944.8 L1169.4 943.6 L1169.9 945.6 L1170.3 944.1 L1170.8 944.4 L1171.2 946.4 L1171.7 943.5 L1172.1 944.6 L1172.6 945.8 L1173.0 942.2 L1173.5 944.6 L1173.9 944.0 L1174.4 947.5 L1174.8 946.5 L1175.3 944.6 L1175.7 946.0 L1176.2 942.5 L1176.6 943.0 L1177.1 945.7 L1177.5 944.1 L1178.0 945.5 L1178.4 943.5 L1178.9 946.4 L1179.3 944.9 L1179.8 945.7 L1180.2 948.2 L1180.7 944.6 L1181.1 943.4 L1181.6 945.4 L1182.0 949.2 L1182.5 945.5 L1182.9 944.8 L1183.4 945.4 L1183.8 945.4 L1184.3 945.0 L1184.7 945.5 L1185.2 947.3 L1185.6 946.0 L1186.1 945.8 L1186.5 945.2 L1187.0 946.0 L1187.4 943.8 L1187.9 946.6 L1188.3 948.4 L1188.8 946.9 L1189.2 945.3 L1189.7 946.9 L1190.1 945.4 L1190.6 944.7 L1191.0 945.7 L1191.5 945.9 L1191.9 947.3 L1192.4 946.7 L1192.8 947.1 L1193.3 945.6 L1193.7 943.0 L1194.2 943.9 L1194.6 945.7 L1195.1 944.0 L1195.5 945.6 L1196.0 943.1 L1196.4 946.1 L1196.9 943.2 L1197.3 945.7 L1197.8 946.3 L1198.2 945.2 L1198.7 947.1 L1199.1 946.7 L1199.6 945.0 L1200.0 946.7 L1200.5 945.3 L1200.9 945.1 L1201.4 946.0 L1201.8 945.1 L1202.3 941.8 L1202.7 943.5 L1203.2 947.3 L1203.6 947.8 L1204.1 947.6 L1204.5 944.7 L1205.0 943.0 L1205.4 946.4 L1205.9 948.3 L1206.3 946.5 L1206.8 944.1 L1207.2 947.6 L1207.7 946.8 L1208.1 945.9 L1208.6 947.5 L1209.0 944.7 L1209.5 947.5 L1209.9 945.6 L1210.4 944.3 L1210.8 947.9 L1211.3 945.5 L1211.7 943.1 L1212.2 946.2 L1212.6 945.2 L1213.1 946.4 L1213.5 942.6 L1214.0 942.5 L1214.4 944.3 L1214.9 944.5 L1215.3 946.1 L1215.8 945.6 L1216.2 946.9 L1216.7 945.4 L1217.1 945.1 L1217.6 945.9 L1218.0 946.5 L1218.5 946.1 L1218.9 943.5 L1219.4 945.7 L1219.8 945.2 L1220.3 945.4 L1220.7 943.3 L1221.2 947.9 L1221.6 946.4 L1222.1 944.3 L1222.5 945.2 L1223.0 946.3 L1223.4 945.9 L1223.9 945.2 L1224.3 946.7 L1224.8 945.1 L1225.2 945.0 L1225.7 946.5 L1226.1 948.8 L1226.6 948.0 L1227.0 945.3 L1227.5 949.2 L1227.9 947.7 L1228.4 947.0 L1228.8 945.1 L1229.3 944.1 L1229.7 946.3 L1230.2 944.2 L1230.6 946.2 L1231.1 948.5 L1231.5 945.4 L1232.0 948.7 L1232.4 948.2 L1232.9 948.0 L1233.3 946.3 L1233.8 947.7 L1234.2 948.6 L1234.7 947.1 L1235.1 946.0 L1235.6 949.2 L1236.0 946.6 L1236.5 948.3 L1236.9 948.1 L1237.4 946.2 L1237.8 946.6 L1238.3 942.6 L1238.7 945.9 L1239.2 949.8 L1239.6 945.9 L1240.1 946.1 L1240.5 945.9 L1241.0 945.3 L1241.4 946.4 L1241.9 944.9 L1242.3 948.5 L1242.8 945.2 L1243.2 945.4 L1243.7 948.2 L1244.1 944.0 L1244.6 947.4 L1245.0 946.3 L1245.5 943.7 L1245.9 946.1 L1246.4 944.7 L1246.8 945.4 L1247.3 945.2 L1247.7 946.0 L1248.2 947.2 L1248.6 943.6 L1249.1 946.4 L1249.5 947.1 L1250.0 947.3 L1250.4 946.2 L1250.9 944.8 L1251.3 946.9 L1251.8 947.1 L1252.2 947.8 L1252.7 949.4 L1253.1 947.6 L1253.6 949.1 L1254.0 946.8 L1254.5 948.6 L1254.9 946.8 L1255.4 947.6 L1255.8 946.8 L1256.3 946.8 L1256.7 948.4 L1257.2 948.0 L1257.6 946.9 L1258.1 947.9 L1258.5 949.5 L1259.0 949.7 L1259.4 947.2 L1259.9 948.1 L1260.3 948.4 L1260.8 948.2 L1261.2 949.1 L1261.7 948.1 L1262.1 949.8 L1262.6 948.1 L1263.0 946.4 L1263.5 946.9 L1263.9 949.3 L1264.4 944.9 L1264.8 947.2 L1265.3 949.7 L1265.7 948.3 L1266.2 944.2 L1266.6 946.3 L1267.1 949.6 L1267.5 944.1 L1268.0 947.9 L1268.4 949.3 L1268.9 945.8 L1269.3 945.4 L1269.8 947.1 L1270.2 948.2 L1270.7 947.3 L1271.1 947.1 L1271.6 947.7 L1272.0 948.1 L1272.5 946.0 L1272.9 946.6 L1273.4 946.4 L1273.8 947.9 L1274.3 948.9 L1274.7 950.1 L1275.2 947.2 L1275.6 948.0 L1276.1 945.5 L1276.5 946.5 L1277.0 948.4 L1277.4 950.4 L1277.9 950.0 L1278.3 946.8 L1278.8 948.1 L1279.2 951.4 L1279.7 949.6 L1280.1 949.5 L1280.6 949.8 L1281.0 948.7 L1281.5 949.7 L1281.9 949.4 L1282.4 947.6 L1282.8 946.3 L1283.3 948.5 L1283.7 950.3 L1284.2 946.9 L1284.6 948.1 L1285.1 948.4 L1285.5 949.3 L1286.0 947.9 L1286.4 945.8 L1286.9 948.1 L1287.3 946.3 L1287.8 947.2 L1288.2 949.0 L1288.7 947.9 L1289.1 947.0 L1289.6 949.3 L1290.0 947.5 L1290.5 945.5 L1290.9 946.0 L1291.4 948.4 L1291.8 948.1 L1292.3 944.5 L1292.7 944.1 L1293.2 947.7 L1293.6 947.7 L1294.1 944.7 L1294.5 948.2 L1295.0 948.2 L1295.4 945.6 L1295.9 947.5 L1296.3 949.9 L1296.8 947.8 L1297.2 946.9 L1297.7 948.0 L1298.1 951.1 L1298.6 946.0 L1299.0 948.6 L1299.5 949.6 L1299.9 949.9 L1300.4 950.8 L1300.8 946.1 L1301.3 950.6 L1301.7 950.5 L1302.2 948.8 L1302.6 947.5 L1303.1 946.2 L1303.5 946.5 L1304.0 946.9 L1304.4 946.5 L1304.9 948.3 L1305.3 945.3 L1305.8 947.2 L1306.2 949.3 L1306.7 947.0 L1307.1 946.5 L1307.6 951.3 L1308.0 949.8 L1308.5 946.0 L1308.9 949.0 L1309.4 949.1 L1309.8 948.4 L1310.3 948.5 L1310.7 950.6 L1311.2 949.0 L1311.6 949.0 L1312.1 947.7 L1312.5 951.0 L1313.0 949.4 L1313.4 949.0 L1313.9 949.1 L1314.3 948.0 L1314.8 947.2 L1315.2 947.0 L1315.7 951.3 L1316.1 948.2 L1316.6 948.3 L1317.0 948.1 L1317.5 946.2 L1317.9 946.4 L1318.4 947.2 L1318.8 946.5 L1319.3 946.6 L1319.7 948.7 L1320.2 947.7 L1320.6 948.2 L1321.1 947.1 L1321.5 945.0 L1322.0 945.6 L1322.4 950.1 L1322.9 944.0 L1323.3 948.5 L1323.8 949.7 L1324.2 949.8 L1324.7 949.6 L1325.1 945.8 L1325.6 947.9 L1326.0 945.3 L1326.5 947.8 L1326.9 948.5 L1327.4 949.1 L1327.8 945.9 L1328.3 945.9 L1328.7 946.8 L1329.2 945.6 L1329.6 948.9 L1330.1 948.3 L1330.5 947.4 L1331.0 947.0 L1331.4 945.2 L1331.9 948.4 L1332.3 950.1 L1332.8 946.6 L1333.2 946.2 L1333.7 947.7 L1334.1 946.5 L1334.6 947.0 L1335.0 948.3 L1335.5 947.5 L1335.9 949.0 L1336.4 947.6 L1336.8 949.3 L1337.3 946.8 L1337.7 951.3 L1338.2 951.2 L1338.6 948.4 L1339.1 949.0 L1339.5 946.4 L1340.0 947.8 L1340.4 950.9 L1340.9 947.4 L1341.3 945.2 L1341.8 947.7 L1342.2 949.0 L1342.7 947.3 L1343.1 948.2 L1343.6 948.9 L1344.0 948.8 L1344.5 947.5 L1344.9 950.4 L1345.4 950.4 L1345.8 949.4 L1346.3 950.1 L1346.7 953.1 L1347.2 950.2 L1347.6 949.0 L1348.1 950.8 L1348.5 947.3 L1349.0 950.5 L1349.4 947.8 L1349.9 948.2 L1350.3 948.0 L1350.8 949.7 L1351.2 950.3 L1351.7 949.1 L1352.1 950.6 L1352.6 950.8 L1353.0 949.4 L1353.5 951.9 L1353.9 951.9 L1354.4 950.5 L1354.8 951.6 L1355.3 951.3 L1355.7 947.9 L1356.2 950.5 L1356.6 947.5 L1357.1 950.9 L1357.5 950.9 L1358.0 949.8 L1358.4 951.7 L1358.9 948.4 L1359.3 951.9 L1359.8 950.9 L1360.2 949.3 L1360.7 950.2 L1361.1 948.3 L1361.6 950.4 L1362.0 949.5 L1362.5 952.4 L1362.9 948.1 L1363.4 951.5 L1363.8 950.0 L1364.3 947.8 L1364.7 948.8 L1365.2 948.7 L1365.6 945.6 L1366.1 948.4 L1366.5 949.9 L1367.0 950.9 L1367.4 951.9 L1367.9 947.6 L1368.3 949.4 L1368.8 948.3 L1369.2 949.1 L1369.7 951.2 L1370.1 949.7 L1370.6 949.1 L1371.0 950.2 L1371.5 949.6 L1371.9 951.1 L1372.4 953.6 L1372.8 950.9 L1373.3 950.7 L1373.7 951.5 L1374.2 950.0 L1374.6 951.6 L1375.1 950.4 L1375.5 952.5 L1376.0 952.4 L1376.4 950.0 L1376.9 952.6 L1377.3 951.5 L1377.8 951.5 L1378.2 950.0 L1378.7 950.2 L1379.1 950.7 L1379.6 949.3 L1380.0 949.0 L1380.5 950.3 L1380.9 948.3 L1381.4 949.3 L1381.8 950.1 L1382.3 948.0 L1382.7 949.8 L1383.2 951.0 L1383.6 951.4 L1384.1 948.5 L1384.5 949.0 L1385.0 948.4 L1385.4 949.6 L1385.9 948.2 L1386.3 950.7 L1386.8 948.9 L1387.2 948.6 L1387.7 951.0 L1388.1 946.1 L1388.6 949.2 L1389.0 949.8 L1389.5 950.1 L1389.9 949.2 L1390.4 947.8 L1390.8 950.9 L1391.3 948.3 L1391.7 950.8 L1392.2 949.5 L1392.6 950.8 L1393.1 948.3 L1393.5 948.6 L1394.0 946.0 L1394.4 950.4 L1394.9 952.0 L1395.3 949.5 L1395.8 952.0 L1396.2 951.8 L1396.7 951.2 L1397.1 950.3 L1397.6 949.7 L1398.0 951.2 L1398.5 951.1 L1398.9 949.3 L1399.4 950.8 L1399.8 949.6 L1400.3 948.8 L1400.7 949.4 L1401.2 949.6 L1401.6 948.7 L1402.1 950.6 L1402.5 948.9 L1403.0 947.2 L1403.4 945.7 L1403.9 946.8 L1404.3 948.3 L1404.8 946.1 L1405.2 946.3 L1405.7 948.7 L1406.1 949.9 L1406.6 948.8 L1407.0 952.7 L1407.5 945.7 L1407.9 947.0 L1408.4 952.1 L1408.8 947.7 L1409.3 949.0 L1409.7 951.1 L1410.2 949.0 L1410.6 948.7 L1411.1 949.2 L1411.5 950.2 L1412.0 950.5 L1412.4 949.1 L1412.9 950.3 L1413.3 952.9 L1413.8 950.5 L1414.2 949.1 L1414.7 951.1 L1415.1 948.1 L1415.6 949.9" fill="none" stroke="#00ff00" stroke-width="2.6" stroke-linejoin="round"/>
<path d="M106.5 1039.9 L107.0 1039.1 L107.4 1042.8 L107.9 1039.9 L108.3 1038.1 L108.8 1039.0 L109.2 1038.5 L109.7 1039.8 L110.1 1040.7 L110.6 1040.7 L111.0 1038.7 L111.5 1039.5 L111.9 1037.2 L112.4 1038.1 L112.8 1040.7 L113.3 1036.8 L113.7 1038.7 L114.2 1042.8 L114.6 1039.6 L115.1 1040.3 L115.5 1040.2 L116.0 1040.4 L116.4 1040.3 L116.9 1040.6 L117.3 1043.2 L117.8 1041.3 L118.2 1041.6 L118.7 1040.9 L119.1 1038.0 L119.6 1041.7 L120.0 1039.5 L120.5 1041.2 L120.9 1040.1 L121.4 1042.9 L121.8 1040.3 L122.3 1039.5 L122.7 1040.0 L123.2 1040.8 L123.6 1040.2 L124.1 1038.3 L124.5 1040.0 L125.0 1041.7 L125.4 1043.3 L125.9 1040.1 L126.3 1042.3 L126.8 1039.9 L127.2 1039.5 L127.7 1040.9 L128.1 1040.8 L128.6 1041.0 L129.0 1037.9 L129.5 1041.8 L129.9 1041.8 L130.4 1041.1 L130.8 1042.0 L131.3 1044.5 L131.7 1042.0 L132.2 1041.8 L132.6 1040.9 L133.1 1043.0 L133.5 1040.9 L134.0 1043.7 L134.4 1040.8 L134.9 1040.3 L135.3 1041.3 L135.8 1044.5 L136.2 1043.2 L136.7 1041.9 L137.1 1040.5 L137.6 1042.6 L138.0 1040.9 L138.5 1042.3 L138.9 1041.9 L139.4 1042.4 L139.8 1043.4 L140.3 1042.5 L140.7 1042.0 L141.2 1041.4 L141.6 1040.7 L142.1 1042.6 L142.5 1040.8 L143.0 1041.0 L143.4 1042.3 L143.9 1042.4 L144.3 1042.9 L144.8 1041.8 L145.2 1042.2 L145.7 1041.0 L146.1 1039.8 L146.6 1041.5 L147.0 1043.7 L147.5 1041.7 L147.9 1043.1 L148.4 1040.2 L148.8 1039.4 L149.3 1042.4 L149.7 1041.2 L150.2 1039.4 L150.6 1038.6 L151.1 1039.9 L151.5 1038.1 L152.0 1040.6 L152.4 1042.8 L152.9 1041.4 L153.3 1038.3 L153.8 1041.0 L154.2 1041.6 L154.7 1040.7 L155.1 1041.5 L155.6 1041.3 L156.0 1041.1 L156.5 1043.9 L156.9 1040.0 L157.4 1040.5 L157.8 1040.5 L158.3 1045.8 L158.7 1038.7 L159.2 1042.4 L159.6 1041.3 L160.1 1041.7 L160.5 1042.1 L161.0 1043.4 L161.4 1042.3 L161.9 1040.9 L162.3 1042.6 L162.8 1042.2 L163.2 1042.1 L163.7 1039.5 L164.1 1043.5 L164.6 1042.5 L165.0 1041.8 L165.5 1042.9 L165.9 1041.1 L166.4 1040.5 L166.8 1042.1 L167.3 1040.3 L167.7 1041.9 L168.2 1041.9 L168.6 1041.1 L169.1 1041.9 L169.5 1040.2 L170.0 1044.4 L170.4 1040.2 L170.9 1042.7 L171.3 1043.8 L171.8 1044.1 L172.2 1040.2 L172.7 1043.3 L173.1 1043.4 L173.6 1042.2 L174.0 1042.9 L174.5 1042.9 L174.9 1038.3 L175.4 1041.5 L175.8 1043.1 L176.3 1043.8 L176.7 1040.6 L177.2 1039.7 L177.6 1040.8 L178.1 1042.2 L178.5 1040.9 L179.0 1043.8 L179.4 1039.4 L179.9 1040.2 L180.3 1041.0 L180.8 1040.8 L181.2 1042.3 L181.7 1042.1 L182.1 1039.5 L182.6 1042.9 L183.0 1040.7 L183.5 1041.6 L183.9 1040.9 L184.4 1042.0 L184.8 1041.5 L185.3 1042.7 L185.7 1041.6 L186.2 1042.0 L186.6 1043.9 L187.1 1042.9 L187.5 1039.4 L188.0 1041.4 L188.4 1043.2 L188.9 1038.0 L189.3 1041.2 L189.8 1039.8 L190.2 1042.7 L190.7 1041.4 L191.1 1042.7 L191.6 1041.7 L192.0 1040.4 L192.5 1038.9 L192.9 1037.8 L193.4 1039.3 L193.8 1042.5 L194.3 1040.1 L194.7 1042.6 L195.2 1039.1 L195.6 1039.1 L196.1 1039.8 L196.5 1041.4 L197.0 1039.8 L197.4 1041.6 L197.9 1038.6 L198.3 1040.7 L198.8 1042.4 L199.2 1043.4 L199.7 1044.4 L200.1 1041.7 L200.6 1040.1 L201.0 1043.1 L201.5 1038.8 L201.9 1041.9 L202.4 1042.1 L202.8 1040.3 L203.3 1040.7 L203.7 1040.4 L204.2 1041.9 L204.6 1044.1 L205.1 1045.3 L205.5 1043.6 L206.0 1041.5 L206.4 1041.1 L206.9 1044.3 L207.3 1043.6 L207.8 1040.3 L208.2 1040.3 L208.7 1041.0 L209.1 1036.1 L209.6 1037.9 L210.0 1038.9 L210.5 1039.5 L210.9 1039.6 L211.4 1039.4 L211.8 1040.3 L212.3 1039.9 L212.7 1041.5 L213.2 1040.9 L213.6 1039.7 L214.1 1041.0 L214.5 1038.7 L215.0 1040.9 L215.4 1037.9 L215.9 1042.1 L216.3 1039.8 L216.8 1042.2 L217.2 1040.6 L217.7 1038.7 L218.1 1038.9 L218.6 1039.0 L219.0 1040.9 L219.5 1037.3 L219.9 1039.5 L220.4 1040.9 L220.8 1041.3 L221.3 1039.1 L221.7 1038.2 L222.2 1036.4 L222.6 1039.8 L223.1 1039.4 L223.5 1033.7 L224.0 1036.0 L224.4 1038.9 L224.9 1037.6 L225.3 1039.8 L225.8 1039.3 L226.2 1038.9 L226.7 1038.6 L227.1 1041.0 L227.6 1040.6 L228.0 1038.6 L228.5 1041.0 L228.9 1039.0 L229.4 1036.9 L229.8 1037.8 L230.3 1035.8 L230.7 1038.6 L231.2 1038.7 L231.6 1038.0 L232.1 1034.9 L232.5 1036.0 L233.0 1033.6 L233.4 1036.1 L233.9 1037.6 L234.3 1036.1 L234.8 1036.6 L235.2 1035.9 L235.7 1034.1 L236.1 1034.8 L236.6 1034.4 L237.0 1036.3 L237.5 1036.4 L237.9 1033.8 L238.4 1034.0 L238.8 1036.3 L239.3 1035.9 L239.7 1034.6 L240.2 1037.3 L240.6 1034.0 L241.1 1035.9 L241.5 1035.1 L242.0 1036.8 L242.4 1034.6 L242.9 1036.8 L243.3 1036.0 L243.8 1031.3 L244.2 1033.7 L244.7 1035.6 L245.1 1033.6 L245.6 1036.0 L246.0 1034.5 L246.5 1031.7 L246.9 1034.9 L247.4 1035.3 L247.8 1035.9 L248.3 1035.5 L248.7 1035.8 L249.2 1035.6 L249.6 1033.7 L250.1 1036.8 L250.5 1034.9 L251.0 1031.7 L251.4 1031.1 L251.9 1035.7 L252.3 1034.8 L252.8 1034.7 L253.2 1032.1 L253.7 1033.8 L254.1 1033.6 L254.6 1030.2 L255.0 1031.9 L255.5 1032.1 L255.9 1028.9 L256.4 1030.2 L256.8 1032.4 L257.3 1033.7 L257.7 1032.7 L258.2 1032.3 L258.6 1032.9 L259.1 1033.9 L259.5 1032.3 L260.0 1033.9 L260.4 1034.3 L260.9 1033.8 L261.3 1034.9 L261.8 1033.0 L262.2 1033.5 L262.7 1030.6 L263.1 1031.6 L263.6 1036.7 L264.0 1030.4 L264.5 1029.2 L264.9 1032.0 L265.4 1032.5 L265.8 1034.2 L266.3 1032.9 L266.7 1032.7 L267.2 1030.4 L267.6 1034.4 L268.1 1033.9 L268.5 1033.6 L269.0 1031.3 L269.4 1032.2 L269.9 1029.9 L270.3 1030.2 L270.8 1032.1 L271.2 1031.8 L271.7 1030.0 L272.1 1030.5 L272.6 1032.8 L273.0 1032.7 L273.5 1030.9 L273.9 1031.8 L274.4 1029.0 L274.8 1031.8 L275.3 1031.0 L275.7 1031.4 L276.2 1031.1 L276.6 1033.1 L277.1 1031.4 L277.5 1030.3 L278.0 1031.2 L278.4 1030.2 L278.9 1028.5 L279.3 1029.6 L279.8 1025.7 L280.2 1030.1 L280.7 1029.0 L281.1 1029.9 L281.6 1027.2 L282.0 1027.7 L282.5 1027.9 L282.9 1026.9 L283.4 1025.2 L283.8 1027.8 L284.3 1026.2 L284.7 1030.3 L285.2 1027.7 L285.6 1027.9 L286.1 1028.7 L286.5 1025.8 L287.0 1029.0 L287.4 1026.8 L287.9 1029.6 L288.3 1028.2 L288.8 1029.0 L289.2 1026.5 L289.7 1025.2 L290.1 1027.0 L290.6 1025.1 L291.0 1026.9 L291.5 1026.5 L291.9 1026.4 L292.4 1025.8 L292.8 1028.2 L293.3 1030.5 L293.7 1025.1 L294.2 1025.8 L294.6 1027.2 L295.1 1032.3 L295.5 1026.7 L296.0 1031.0 L296.4 1027.1 L296.9 1027.4 L297.3 1027.2 L297.8 1025.0 L298.2 1028.0 L298.7 1026.1 L299.1 1023.5 L299.6 1027.0 L300.0 1026.4 L300.5 1024.9 L300.9 1026.6 L301.4 1025.9 L301.8 1023.1 L302.3 1028.2 L302.7 1024.7 L303.2 1024.3 L303.6 1027.5 L304.1 1025.4 L304.5 1023.7 L305.0 1025.7 L305.4 1022.2 L305.9 1027.1 L306.3 1020.7 L306.8 1024.8 L307.2 1022.0 L307.7 1024.1 L308.1 1022.9 L308.6 1022.8 L309.0 1024.8 L309.5 1025.5 L309.9 1024.1 L310.4 1024.6 L310.8 1022.8 L311.3 1023.2 L311.7 1025.3 L312.2 1021.0 L312.6 1024.5 L313.1 1020.8 L313.5 1021.9 L314.0 1021.8 L314.4 1019.9 L314.9 1022.1 L315.3 1021.5 L315.8 1023.7 L316.2 1022.1 L316.7 1023.1 L317.1 1022.2 L317.6 1025.4 L318.0 1022.0 L318.5 1020.9 L318.9 1019.6 L319.4 1020.7 L319.8 1022.3 L320.3 1022.1 L320.7 1025.9 L321.2 1022.2 L321.6 1022.2 L322.1 1024.5 L322.5 1023.5 L323.0 1023.0 L323.4 1018.3 L323.9 1019.6 L324.3 1019.4 L324.8 1022.6 L325.2 1022.8 L325.7 1019.1 L326.1 1021.2 L326.6 1021.7 L327.0 1019.4 L327.5 1019.5 L327.9 1021.4 L328.4 1020.1 L328.8 1017.6 L329.3 1019.6 L329.7 1019.6 L330.2 1018.8 L330.6 1018.4 L331.1 1018.6 L331.5 1016.6 L332.0 1016.7 L332.4 1017.1 L332.9 1014.9 L333.3 1014.8 L333.8 1014.7 L334.2 1017.6 L334.7 1014.0 L335.1 1018.3 L335.6 1013.3 L336.0 1013.0 L336.5 1014.8 L336.9 1015.1 L337.4 1014.8 L337.8 1015.1 L338.3 1014.1 L338.7 1014.8 L339.2 1014.3 L339.6 1012.1 L340.1 1010.9 L340.5 1011.7 L341.0 1012.8 L341.4 1015.3 L341.9 1013.3 L342.3 1017.6 L342.8 1013.9 L343.2 1012.0 L343.7 1011.5 L344.1 1012.7 L344.6 1014.5 L345.0 1012.3 L345.5 1013.0 L345.9 1010.9 L346.4 1009.2 L346.8 1006.4 L347.3 1011.7 L347.7 1010.4 L348.2 1012.9 L348.6 1012.6 L349.1 1009.5 L349.5 1011.7 L350.0 1010.4 L350.4 1008.6 L350.9 1009.7 L351.3 1010.6 L351.8 1012.6 L352.2 1008.9 L352.7 1008.5 L353.1 1008.8 L353.6 1013.3 L354.0 1010.2 L354.5 1009.7 L354.9 1008.9 L355.4 1009.2 L355.8 1009.2 L356.3 1007.4 L356.7 1010.3 L357.2 1012.9 L357.6 1009.4 L358.1 1008.2 L358.5 1010.3 L359.0 1009.0 L359.4 1011.0 L359.9 1008.0 L360.3 1012.7 L360.8 1008.1 L361.2 1010.7 L361.7 1007.1 L362.1 1007.5 L362.6 1008.1 L363.0 1006.1 L363.5 1010.8 L363.9 1003.0 L364.4 1008.3 L364.8 1004.5 L365.3 1007.3 L365.7 1005.6 L366.2 1007.1 L366.6 1007.4 L367.1 1004.7 L367.5 1006.3 L368.0 1001.4 L368.4 1004.2 L368.9 1007.4 L369.3 1007.2 L369.8 1006.3 L370.2 1003.2 L370.7 1004.5 L371.1 1000.1 L371.6 1001.7 L372.0 1000.1 L372.5 1000.1 L372.9 998.9 L373.4 1002.9 L373.8 1002.9 L374.3 997.6 L374.7 1000.4 L375.2 1000.7 L375.6 1000.5 L376.1 998.2 L376.5 998.4 L377.0 999.2 L377.4 995.3 L377.9 998.2 L378.3 993.8 L378.8 996.4 L379.2 998.9 L379.7 996.7 L380.1 995.9 L380.6 992.8 L381.0 996.1 L381.5 997.7 L381.9 996.7 L382.4 993.2 L382.8 994.9 L383.3 991.6 L383.7 992.9 L384.2 988.7 L384.6 987.6 L385.1 988.1 L385.5 990.2 L386.0 988.5 L386.4 992.5 L386.9 989.1 L387.3 991.5 L387.8 990.2 L388.2 989.3 L388.7 990.6 L389.1 988.7 L389.6 986.4 L390.0 984.5 L390.5 984.0 L390.9 984.8 L391.4 987.4 L391.8 988.0 L392.3 980.3 L392.7 981.9 L393.2 983.6 L393.6 980.1 L394.1 984.4 L394.5 981.1 L395.0 980.9 L395.4 978.8 L395.9 979.7 L396.3 982.9 L396.8 975.5 L397.2 985.2 L397.7 980.2 L398.1 978.1 L398.6 980.5 L399.0 975.7 L399.5 978.4 L399.9 978.8 L400.4 980.6 L400.8 976.3 L401.3 976.3 L401.7 977.6 L402.2 975.3 L402.6 981.1 L403.1 977.8 L403.5 975.3 L404.0 975.3 L404.4 977.5 L404.9 976.3 L405.3 976.3 L405.8 977.4 L406.2 976.8 L406.7 969.7 L407.1 965.0 L407.6 974.8 L408.0 975.5 L408.5 972.3 L408.9 971.4 L409.4 972.2 L409.8 968.0 L410.3 973.7 L410.7 967.4 L411.2 973.4 L411.6 969.3 L412.1 967.2 L412.5 968.1 L413.0 970.6 L413.4 968.6 L413.9 969.3 L414.3 967.8 L414.8 967.0 L415.2 969.2 L415.7 961.7 L416.1 970.7 L416.6 962.8 L417.0 965.1 L417.5 964.2 L417.9 963.6 L418.4 967.1 L418.8 961.8 L419.3 961.6 L419.7 969.7 L420.2 964.0 L420.6 958.3 L421.1 959.3 L421.5 959.4 L422.0 959.4 L422.4 955.1 L422.9 954.3 L423.3 959.7 L423.8 956.0 L424.2 953.3 L424.7 956.9 L425.1 955.3 L425.6 958.8 L426.0 952.4 L426.5 960.4 L426.9 953.1 L427.4 959.1 L427.8 951.4 L428.3 948.4 L428.7 951.3 L429.2 954.4 L429.6 954.2 L430.1 950.2 L430.5 950.1 L431.0 954.2 L431.4 949.6 L431.9 943.3 L432.3 951.4 L432.8 946.7 L433.2 945.4 L433.7 944.9 L434.1 946.6 L434.6 942.6 L435.0 941.1 L435.5 944.5 L435.9 938.8 L436.4 942.1 L436.8 945.4 L437.3 942.8 L437.7 943.7 L438.2 944.4 L438.6 936.5 L439.1 948.7 L439.5 940.7 L440.0 940.8 L440.4 944.1 L440.9 943.9 L441.3 939.2 L441.8 939.2 L442.2 939.2 L442.7 941.3 L443.1 942.8 L443.6 938.2 L444.0 939.1 L444.5 947.7 L444.9 937.2 L445.4 942.3 L445.8 937.8 L446.3 939.0 L446.7 936.4 L447.2 939.8 L447.6 943.6 L448.1 942.1 L448.5 937.3 L449.0 940.2 L449.4 934.8 L449.9 938.9 L450.3 940.8 L450.8 936.1 L451.2 939.2 L451.7 936.9 L452.1 937.3 L452.6 936.7 L453.0 932.9 L453.5 943.6 L453.9 941.7 L454.4 935.7 L454.8 935.4 L455.3 938.6 L455.7 940.5 L456.2 937.3 L456.6 932.7 L457.1 938.3 L457.5 937.4 L458.0 936.8 L458.4 941.5 L458.9 937.2 L459.3 938.7 L459.8 938.3 L460.2 938.7 L460.7 935.2 L461.1 941.8 L461.6 935.5 L462.0 937.2 L462.5 939.7 L462.9 936.5 L463.4 933.6 L463.8 939.3 L464.3 934.9 L464.7 935.8 L465.2 935.1 L465.6 934.2 L466.1 934.7 L466.5 933.5 L467.0 934.3 L467.4 932.4 L467.9 940.0 L468.3 937.7 L468.8 931.8 L469.2 931.1 L469.7 937.7 L470.1 937.5 L470.6 930.0 L471.0 938.4 L471.5 934.7 L471.9 931.9 L472.4 934.3 L472.8 937.0 L473.3 937.5 L473.7 944.6 L474.2 937.2 L474.6 935.5 L475.1 940.9 L475.5 938.7 L476.0 936.9 L476.4 936.6 L476.9 932.2 L477.3 937.3 L477.8 932.4 L478.2 936.3 L478.7 936.1 L479.1 933.4 L479.6 934.9 L480.0 936.4 L480.5 933.5 L480.9 932.2 L481.4 930.7 L481.8 934.3 L482.3 938.3 L482.7 934.8 L483.2 933.7 L483.6 933.1 L484.1 931.3 L484.5 939.2 L485.0 934.4 L485.4 934.8 L485.9 935.5 L486.3 935.5 L486.8 937.5 L487.2 937.0 L487.7 938.2 L488.1 939.6 L488.6 943.9 L489.0 938.0 L489.5 944.5 L489.9 939.4 L490.4 939.1 L490.8 945.8 L491.3 942.9 L491.7 940.9 L492.2 940.3 L492.6 941.6 L493.1 938.2 L493.5 947.0 L494.0 941.5 L494.4 947.2 L494.9 943.2 L495.3 946.0 L495.8 944.1 L496.2 941.0 L496.7 945.8 L497.1 944.7 L497.6 947.9 L498.0 945.9 L498.5 952.9 L498.9 939.7 L499.4 944.2 L499.8 944.2 L500.3 942.3 L500.7 942.7 L501.2 944.4 L501.6 949.5 L502.1 951.3 L502.5 949.7 L503.0 944.9 L503.4 949.3 L503.9 949.0 L504.3 949.1 L504.8 952.2 L505.2 946.9 L505.7 949.3 L506.1 954.4 L506.6 953.7 L507.0 948.2 L507.5 954.6 L507.9 953.7 L508.4 953.2 L508.8 950.3 L509.3 951.0 L509.7 950.9 L510.2 948.9 L510.6 957.8 L511.1 954.4 L511.5 953.3 L512.0 950.1 L512.4 950.8 L512.9 957.3 L513.3 952.5 L513.8 955.4 L514.2 950.5 L514.7 956.5 L515.1 957.3 L515.6 954.4 L516.0 952.9 L516.5 960.0 L516.9 959.3 L517.4 959.3 L517.8 957.2 L518.3 958.8 L518.7 961.0 L519.2 956.4 L519.6 959.0 L520.1 956.9 L520.5 959.3 L521.0 958.6 L521.4 962.3 L521.9 963.8 L522.3 958.5 L522.8 968.6 L523.2 962.1 L523.7 963.6 L524.1 959.4 L524.6 964.0 L525.0 960.9 L525.5 961.2 L525.9 960.9 L526.4 965.1 L526.8 966.8 L527.3 964.9 L527.7 966.7 L528.2 963.3 L528.6 961.8 L529.1 964.5 L529.5 961.9 L530.0 965.4 L530.4 967.2 L530.9 969.6 L531.3 966.6 L531.8 965.6 L532.2 961.9 L532.7 968.6 L533.1 966.2 L533.6 970.0 L534.0 970.9 L534.5 967.4 L534.9 972.0 L535.4 974.1 L535.8 970.5 L536.3 970.7 L536.7 969.6 L537.2 968.4 L537.6 966.8 L538.1 972.6 L538.5 970.1 L539.0 972.5 L539.4 974.1 L539.9 969.2 L540.3 973.0 L540.8 968.6 L541.2 970.5 L541.7 972.1 L542.1 970.9 L542.6 967.3 L543.0 970.4 L543.5 970.9 L543.9 963.1 L544.4 965.7 L544.8 966.3 L545.3 962.5 L545.7 970.1 L546.2 964.4 L546.6 962.1 L547.1 966.9 L547.5 976.2 L548.0 973.3 L548.4 973.0 L548.9 976.2 L549.3 970.4 L549.8 975.7 L550.2 971.6 L550.7 970.9 L551.1 974.1 L551.6 973.8 L552.0 972.5 L552.5 971.8 L552.9 975.0 L553.4 970.3 L553.8 976.1 L554.3 975.1 L554.7 972.8 L555.2 970.5 L555.6 973.1 L556.1 972.0 L556.5 972.4 L557.0 967.9 L557.4 972.0 L557.9 977.6 L558.3 971.2 L558.8 968.9 L559.2 975.4 L559.7 977.0 L560.1 972.0 L560.6 971.4 L561.0 970.7 L561.5 976.7 L561.9 974.9 L562.4 965.6 L562.8 975.6 L563.3 972.3 L563.7 970.3 L564.2 971.0 L564.6 971.8 L565.1 970.6 L565.5 971.3 L566.0 969.1 L566.4 969.1 L566.9 969.1 L567.3 970.1 L567.8 965.4 L568.2 971.6 L568.7 965.8 L569.1 972.0 L569.6 969.2 L570.0 969.7 L570.5 965.4 L570.9 968.8 L571.4 969.9 L571.8 966.7 L572.3 960.7 L572.7 972.8 L573.2 966.0 L573.6 969.0 L574.1 966.3 L574.5 969.3 L575.0 965.4 L575.4 966.1 L575.9 965.2 L576.3 959.1 L576.8 967.7 L577.2 959.3 L577.7 965.6 L578.1 964.4 L578.6 962.0 L579.0 960.9 L579.5 961.0 L579.9 961.8 L580.4 967.9 L580.8 963.7 L581.3 960.8 L581.7 960.9 L582.2 958.2 L582.6 964.8 L583.1 959.9 L583.5 959.6 L584.0 958.2 L584.4 959.5 L584.9 958.2 L585.3 956.5 L585.8 957.7 L586.2 960.3 L586.7 957.3 L587.1 957.7 L587.6 955.2 L588.0 956.2 L588.5 956.2 L588.9 955.4 L589.4 958.6 L589.8 952.2 L590.3 953.9 L590.7 956.4 L591.2 954.1 L591.6 952.6 L592.1 958.2 L592.5 950.1 L593.0 956.0 L593.4 951.1 L593.9 953.0 L594.3 951.0 L594.8 946.0 L595.2 950.2 L595.7 945.3 L596.1 945.9 L596.6 948.3 L597.0 944.7 L597.5 947.7 L597.9 946.5 L598.4 944.7 L598.8 947.9 L599.3 946.7 L599.7 941.8 L600.2 938.9 L600.6 941.5 L601.1 948.4 L601.5 943.5 L602.0 942.2 L602.4 942.0 L602.9 939.9 L603.3 937.4 L603.8 937.0 L604.2 935.6 L604.7 936.1 L605.1 937.3 L605.6 936.5 L606.0 938.8 L606.5 932.4 L606.9 935.7 L607.4 938.7 L607.8 933.7 L608.3 940.3 L608.7 937.9 L609.2 933.1 L609.6 936.8 L610.1 937.0 L610.5 934.0 L611.0 930.4 L611.4 932.1 L611.9 929.0 L612.3 925.9 L612.8 930.5 L613.2 927.9 L613.7 916.3 L614.1 923.5 L614.6 924.4 L615.0 922.0 L615.5 923.9 L615.9 920.3 L616.4 917.7 L616.8 914.6 L617.3 919.7 L617.7 918.6 L618.2 924.3 L618.6 909.7 L619.1 913.8 L619.5 912.3 L620.0 913.0 L620.4 915.1 L620.9 909.1 L621.3 907.4 L621.8 912.2 L622.2 910.5 L622.7 902.5 L623.1 905.2 L623.6 906.7 L624.0 902.8 L624.5 905.4 L624.9 901.0 L625.4 904.9 L625.8 896.4 L626.3 891.4 L626.7 899.2 L627.2 897.9 L627.6 891.3 L628.1 895.4 L628.5 892.0 L629.0 894.7 L629.4 889.8 L629.9 894.2 L630.3 892.8 L630.8 893.4 L631.2 887.2 L631.7 886.5 L632.1 885.3 L632.6 885.0 L633.0 886.3 L633.5 887.1 L633.9 879.7 L634.4 882.2 L634.8 884.2 L635.3 878.9 L635.7 877.8 L636.2 877.2 L636.6 872.1 L637.1 873.2 L637.5 869.0 L638.0 875.3 L638.4 876.2 L638.9 867.8 L639.3 871.1 L639.8 871.8 L640.2 872.6 L640.7 868.2 L641.1 864.4 L641.6 870.3 L642.0 866.6 L642.5 866.4 L642.9 863.0 L643.4 866.8 L643.8 865.8 L644.3 868.1 L644.7 870.2 L645.2 863.0 L645.6 861.0 L646.1 862.3 L646.5 859.3 L647.0 856.4 L647.4 862.9 L647.9 859.2 L648.3 857.2 L648.8 849.5 L649.2 857.4 L649.7 861.3 L650.1 855.5 L650.6 855.2 L651.0 851.9 L651.5 855.5 L651.9 850.1 L652.4 848.3 L652.8 848.7 L653.3 847.5 L653.7 852.3 L654.2 844.5 L654.6 849.0 L655.1 853.8 L655.5 840.2 L656.0 847.3 L656.4 849.4 L656.9 843.8 L657.3 843.8 L657.8 846.9 L658.2 848.0 L658.7 842.9 L659.1 844.6 L659.6 846.5 L660.0 838.0 L660.5 844.2 L660.9 842.9 L661.4 844.8 L661.8 842.4 L662.3 845.7 L662.7 842.0 L663.2 838.2 L663.6 846.6 L664.1 848.2 L664.5 847.8 L665.0 844.0 L665.4 842.9 L665.9 844.0 L666.3 841.7 L666.8 841.4 L667.2 835.1 L667.7 842.5 L668.1 838.2 L668.6 839.9 L669.0 846.5 L669.5 836.4 L669.9 838.5 L670.4 842.1 L670.8 841.2 L671.3 847.6 L671.7 847.7 L672.2 845.0 L672.6 851.7 L673.1 846.8 L673.5 845.3 L674.0 843.3 L674.4 856.0 L674.9 842.8 L675.3 839.1 L675.8 847.0 L676.2 844.2 L676.7 855.5 L677.1 852.2 L677.6 853.6 L678.0 852.9 L678.5 844.2 L678.9 853.4 L679.4 848.6 L679.8 850.0 L680.3 858.1 L680.7 846.2 L681.2 854.7 L681.6 854.8 L682.1 855.9 L682.5 861.7 L683.0 855.0 L683.4 853.6 L683.9 855.4 L684.3 853.1 L684.8 850.2 L685.2 853.1 L685.7 860.2 L686.1 852.3 L686.6 858.9 L687.0 853.9 L687.5 860.2 L687.9 860.6 L688.4 864.1 L688.8 867.4 L689.3 866.8 L689.7 864.2 L690.2 872.4 L690.6 870.2 L691.1 874.2 L691.5 872.7 L692.0 876.6 L692.4 870.3 L692.9 874.4 L693.3 875.0 L693.8 877.4 L694.2 879.0 L694.7 884.8 L695.1 882.7 L695.6 885.7 L696.0 887.1 L696.5 895.3 L696.9 893.6 L697.4 890.9 L697.8 897.1 L698.3 898.3 L698.7 896.9 L699.2 900.2 L699.6 900.1 L700.1 904.3 L700.5 902.0 L701.0 907.4 L701.4 914.7 L701.9 911.6 L702.3 906.6 L702.8 913.9 L703.2 913.6 L703.7 914.4 L704.1 915.8 L704.6 921.0 L705.0 920.0 L705.5 915.0 L705.9 919.3 L706.4 927.5 L706.8 925.6 L707.3 917.4 L707.7 924.9 L708.2 930.2 L708.6 925.7 L709.1 931.0 L709.5 933.7 L710.0 936.2 L710.4 934.8 L710.9 934.3 L711.3 937.4 L711.8 937.0 L712.2 931.6 L712.7 937.2 L713.1 937.0 L713.6 937.2 L714.0 940.7 L714.5 942.1 L714.9 943.3 L715.4 942.3 L715.8 946.3 L716.3 947.1 L716.7 941.8 L717.2 948.0 L717.6 950.2 L718.1 955.8 L718.5 947.2 L719.0 954.1 L719.4 953.4 L719.9 952.9 L720.3 959.9 L720.8 966.5 L721.2 957.7 L721.7 963.5 L722.1 961.0 L722.6 965.2 L723.0 965.1 L723.5 964.1 L723.9 966.6 L724.4 963.5 L724.8 970.1 L725.3 966.7 L725.7 968.7 L726.2 973.7 L726.6 966.0 L727.1 971.1 L727.5 973.3 L728.0 976.0 L728.4 973.7 L728.9 971.9 L729.3 976.9 L729.8 972.8 L730.2 977.2 L730.7 976.6 L731.1 975.9 L731.6 977.5 L732.0 978.7 L732.5 980.0 L732.9 982.9 L733.4 981.7 L733.8 982.3 L734.3 984.5 L734.7 982.1 L735.2 986.1 L735.6 980.9 L736.1 986.3 L736.5 983.4 L737.0 987.5 L737.4 990.5 L737.9 987.1 L738.3 991.4 L738.8 991.1 L739.2 993.5 L739.7 988.3 L740.1 992.0 L740.6 994.6 L741.0 987.9 L741.5 994.7 L741.9 994.3 L742.4 991.1 L742.8 993.0 L743.3 997.5 L743.7 996.4 L744.2 995.9 L744.6 998.5 L745.1 998.2 L745.5 997.9 L746.0 998.9 L746.4 1000.9 L746.9 993.9 L747.3 1000.8 L747.8 1001.0 L748.2 1005.0 L748.7 1003.4 L749.1 1000.4 L749.6 1001.7 L750.0 1003.3 L750.5 1004.8 L750.9 1004.6 L751.4 1001.2 L751.8 1005.2 L752.3 1003.2 L752.7 1007.6 L753.2 1005.3 L753.6 1005.8 L754.1 1003.9 L754.5 1006.0 L755.0 1004.9 L755.4 1006.2 L755.9 1007.3 L756.3 1009.3 L756.8 1006.0 L757.2 1005.1 L757.7 1011.1 L758.1 1004.8 L758.6 1008.8 L759.0 1007.4 L759.5 1010.4 L759.9 1008.4 L760.4 1009.2 L760.8 1012.4 L761.3 1011.2 L761.7 1008.9 L762.2 1010.8 L762.6 1012.2 L763.1 1015.2 L763.5 1010.3 L764.0 1013.1 L764.4 1013.7 L764.9 1017.7 L765.3 1014.4 L765.8 1014.3 L766.2 1016.2 L766.7 1015.9 L767.1 1019.0 L767.6 1014.4 L768.0 1020.7 L768.5 1018.1 L768.9 1018.4 L769.4 1020.4 L769.8 1012.9 L770.3 1015.2 L770.7 1017.6 L771.2 1021.0 L771.6 1018.1 L772.1 1018.1 L772.5 1018.5 L773.0 1017.8 L773.4 1017.8 L773.9 1021.7 L774.3 1017.9 L774.8 1015.0 L775.2 1018.2 L775.7 1022.2 L776.1 1019.2 L776.6 1019.4 L777.0 1021.3 L777.5 1018.9 L777.9 1021.6 L778.4 1019.5 L778.8 1021.6 L779.3 1018.3 L779.7 1023.8 L780.2 1019.4 L780.6 1022.8 L781.1 1017.3 L781.5 1023.2 L782.0 1020.2 L782.4 1018.3 L782.9 1020.4 L783.3 1022.8 L783.8 1019.5 L784.2 1024.1 L784.7 1019.3 L785.1 1023.9 L785.6 1019.9 L786.0 1023.6 L786.5 1023.1 L786.9 1021.8 L787.4 1027.6 L787.8 1021.1 L788.3 1020.3 L788.7 1025.6 L789.2 1023.9 L789.6 1026.7 L790.1 1024.5 L790.5 1027.0 L791.0 1027.8 L791.4 1025.3 L791.9 1025.0 L792.3 1024.2 L792.8 1024.3 L793.2 1024.9 L793.7 1027.8 L794.1 1021.1 L794.6 1026.3 L795.0 1025.2 L795.5 1023.8 L795.9 1025.8 L796.4 1026.3 L796.8 1026.2 L797.3 1026.7 L797.7 1024.2 L798.2 1027.3 L798.6 1023.8 L799.1 1029.3 L799.5 1028.8 L800.0 1025.2 L800.4 1026.8 L800.9 1025.7 L801.3 1030.1 L801.8 1024.9 L802.2 1025.3 L802.7 1024.4 L803.1 1023.2 L803.6 1025.5 L804.0 1026.7 L804.5 1026.3 L804.9 1022.6 L805.4 1026.8 L805.8 1025.7 L806.3 1025.8 L806.7 1024.5 L807.2 1022.4 L807.6 1022.0 L808.1 1024.2 L808.5 1027.6 L809.0 1024.6 L809.4 1027.6 L809.9 1026.9 L810.3 1024.9 L810.8 1024.5 L811.2 1024.2 L811.7 1024.9 L812.1 1025.9 L812.6 1024.4 L813.0 1027.3 L813.5 1027.4 L813.9 1024.6 L814.4 1027.7 L814.8 1026.7 L815.3 1026.0 L815.7 1025.3 L816.2 1026.3 L816.6 1029.9 L817.1 1025.5 L817.5 1030.2 L818.0 1028.1 L818.4 1026.1 L818.9 1028.8 L819.3 1024.9 L819.8 1026.2 L820.2 1028.2 L820.7 1028.2 L821.1 1025.1 L821.6 1032.3 L822.0 1028.5 L822.5 1028.3 L822.9 1028.5 L823.4 1028.4 L823.8 1027.7 L824.3 1026.9 L824.7 1025.5 L825.2 1028.4 L825.6 1029.4 L826.1 1028.2 L826.5 1027.6 L827.0 1026.7 L827.4 1028.4 L827.9 1028.1 L828.3 1030.4 L828.8 1031.4 L829.2 1028.5 L829.7 1029.0 L830.1 1029.7 L830.6 1029.7 L831.0 1027.6 L831.5 1029.0 L831.9 1030.4 L832.4 1029.7 L832.8 1027.8 L833.3 1029.3 L833.7 1030.4 L834.2 1030.3 L834.6 1029.3 L835.1 1031.2 L835.5 1031.1 L836.0 1034.1 L836.4 1029.6 L836.9 1033.1 L837.3 1028.8 L837.8 1028.7 L838.2 1032.8 L838.7 1030.6 L839.1 1032.8 L839.6 1029.9 L840.0 1033.5 L840.5 1029.1 L840.9 1035.4 L841.4 1035.9 L841.8 1035.0 L842.3 1033.9 L842.7 1032.2 L843.2 1034.4 L843.6 1033.9 L844.1 1031.8 L844.5 1030.5 L845.0 1032.9 L845.4 1033.9 L845.9 1032.3 L846.3 1030.8 L846.8 1031.5 L847.2 1032.2 L847.7 1036.4 L848.1 1032.4 L848.6 1033.2 L849.0 1029.6 L849.5 1033.4 L849.9 1032.9 L850.4 1032.7 L850.8 1032.4 L851.3 1031.7 L851.7 1033.7 L852.2 1032.0 L852.6 1033.4 L853.1 1033.5 L853.5 1035.4 L854.0 1036.0 L854.4 1029.4 L854.9 1033.5 L855.3 1034.8 L855.8 1033.7 L856.2 1035.8 L856.7 1039.2 L857.1 1033.9 L857.6 1033.0 L858.0 1036.6 L858.5 1033.0 L858.9 1033.4 L859.4 1035.2 L859.8 1034.1 L860.3 1031.7 L860.7 1032.8 L861.2 1033.2 L861.6 1037.8 L862.1 1035.3 L862.5 1036.3 L863.0 1032.9 L863.4 1036.3 L863.9 1034.9 L864.3 1036.3 L864.8 1036.3 L865.2 1035.4 L865.7 1036.9 L866.1 1035.3 L866.6 1037.6 L867.0 1036.1 L867.5 1034.7 L867.9 1035.2 L868.4 1037.9 L868.8 1037.4 L869.3 1035.2 L869.7 1035.9 L870.2 1035.1 L870.6 1036.8 L871.1 1034.9 L871.5 1035.8 L872.0 1036.5 L872.4 1033.8 L872.9 1036.1 L873.3 1036.2 L873.8 1034.4 L874.2 1035.5 L874.7 1037.8 L875.1 1037.8 L875.6 1035.5 L876.0 1036.7 L876.5 1039.8 L876.9 1041.9 L877.4 1039.5 L877.8 1036.5 L878.3 1041.2 L878.7 1040.9 L879.2 1039.7 L879.6 1039.6 L880.1 1041.1 L880.5 1038.4 L881.0 1037.0 L881.4 1040.8 L881.9 1039.3 L882.3 1037.8 L882.8 1037.5 L883.2 1042.4 L883.7 1039.8 L884.1 1038.4 L884.6 1036.1 L885.0 1038.7 L885.5 1036.0 L885.9 1037.8 L886.4 1038.8 L886.8 1038.7 L887.3 1038.8 L887.7 1036.2 L888.2 1040.1 L888.6 1039.0 L889.1 1039.2 L889.5 1038.8 L890.0 1031.9 L890.4 1040.5 L890.9 1041.5 L891.3 1037.7 L891.8 1038.5 L892.2 1040.8 L892.7 1037.4 L893.1 1038.6 L893.6 1038.9 L894.0 1039.2 L894.5 1037.2 L894.9 1040.6 L895.4 1038.1 L895.8 1036.3 L896.3 1038.3 L896.7 1038.7 L897.2 1041.3 L897.6 1043.3 L898.1 1040.6 L898.5 1042.3 L899.0 1036.9 L899.4 1039.4 L899.9 1040.9 L900.3 1041.5 L900.8 1038.1 L901.2 1038.7 L901.7 1041.1 L902.1 1042.8 L902.6 1042.0 L903.0 1042.1 L903.5 1040.6 L903.9 1042.8 L904.4 1041.9 L904.8 1039.2 L905.3 1039.0 L905.7 1041.6 L906.2 1038.9 L906.6 1040.5 L907.1 1041.6 L907.5 1039.0 L908.0 1037.8 L908.4 1039.7 L908.9 1041.9 L909.3 1040.0 L909.8 1040.6 L910.2 1042.3 L910.7 1041.0 L911.1 1039.2 L911.6 1040.4 L912.0 1040.1 L912.5 1038.5 L912.9 1040.8 L913.4 1041.2 L913.8 1041.7 L914.3 1038.5 L914.7 1042.6 L915.2 1040.4 L915.6 1039.1 L916.1 1041.1 L916.5 1043.0 L917.0 1042.9 L917.4 1044.3 L917.9 1043.7 L918.3 1041.4 L918.8 1041.1 L919.2 1042.1 L919.7 1039.4 L920.1 1041.2 L920.6 1040.3 L921.0 1041.9 L921.5 1044.3 L921.9 1040.8 L922.4 1039.6 L922.8 1045.6 L923.3 1039.6 L923.7 1042.4 L924.2 1041.5 L924.6 1045.3 L925.1 1042.3 L925.5 1045.3 L926.0 1043.9 L926.4 1041.5 L926.9 1042.8 L927.3 1038.8 L927.8 1043.1 L928.2 1036.2 L928.7 1040.0 L929.1 1041.4 L929.6 1041.1 L930.0 1036.3 L930.5 1040.5 L930.9 1040.1 L931.4 1042.8 L931.8 1039.7 L932.3 1041.4 L932.7 1044.1 L933.2 1041.7 L933.6 1041.4 L934.1 1045.3 L934.5 1043.0 L935.0 1042.6 L935.4 1046.4 L935.9 1041.2 L936.3 1042.9 L936.8 1044.0 L937.2 1042.7 L937.7 1044.5 L938.1 1043.4 L938.6 1042.9 L939.0 1041.4 L939.5 1043.9 L939.9 1042.5 L940.4 1047.9 L940.8 1045.7 L941.3 1044.6 L941.7 1044.4 L942.2 1042.6 L942.6 1045.1 L943.1 1045.9 L943.5 1043.2 L944.0 1044.4 L944.4 1045.3 L944.9 1041.5 L945.3 1044.4 L945.8 1043.3 L946.2 1041.2 L946.7 1042.9 L947.1 1043.0 L947.6 1042.1 L948.0 1043.3 L948.5 1044.3 L948.9 1047.6 L949.4 1043.2 L949.8 1042.7 L950.3 1044.9 L950.7 1042.6 L951.2 1045.3 L951.6 1044.3 L952.1 1041.1 L952.5 1044.8 L953.0 1045.1 L953.4 1046.0 L953.9 1045.1 L954.3 1045.2 L954.8 1046.2 L955.2 1043.0 L955.7 1044.2 L956.1 1043.3 L956.6 1046.4 L957.0 1045.6 L957.5 1044.2 L957.9 1044.1 L958.4 1042.6 L958.8 1043.5 L959.3 1045.5 L959.7 1042.6 L960.2 1043.5 L960.6 1043.5 L961.1 1043.7 L961.5 1044.4 L962.0 1043.1 L962.4 1043.4 L962.9 1045.6 L963.3 1042.3 L963.8 1044.4 L964.2 1044.2 L964.7 1045.1 L965.1 1046.3 L965.6 1040.8 L966.0 1041.1 L966.5 1044.1 L966.9 1046.1 L967.4 1044.2 L967.8 1041.4 L968.3 1045.3 L968.7 1048.2 L969.2 1045.3 L969.6 1045.0 L970.1 1044.5 L970.5 1044.5 L971.0 1045.1 L971.4 1045.5 L971.9 1045.5 L972.3 1046.7 L972.8 1046.3 L973.2 1047.1 L973.7 1045.5 L974.1 1048.2 L974.6 1045.8 L975.0 1046.6 L975.5 1047.3 L975.9 1047.4 L976.4 1046.2 L976.8 1046.2 L977.3 1045.8 L977.7 1046.3 L978.2 1046.7 L978.6 1047.1 L979.1 1046.5 L979.5 1044.3 L980.0 1041.6 L980.4 1046.5 L980.9 1044.2 L981.3 1042.7 L981.8 1046.5 L982.2 1043.5 L982.7 1043.7 L983.1 1041.3 L983.6 1044.5 L984.0 1044.3 L984.5 1045.5 L984.9 1044.6 L985.4 1044.5 L985.8 1045.6 L986.3 1043.0 L986.7 1043.8 L987.2 1045.9 L987.6 1045.0 L988.1 1042.8 L988.5 1043.8 L989.0 1046.6 L989.4 1045.6 L989.9 1047.0 L990.3 1047.7 L990.8 1044.0 L991.2 1045.8 L991.7 1044.7 L992.1 1045.8 L992.6 1046.0 L993.0 1045.4 L993.5 1044.2 L993.9 1041.5 L994.4 1042.5 L994.8 1045.1 L995.3 1045.3 L995.7 1045.5 L996.2 1046.1 L996.6 1045.5 L997.1 1047.1 L997.5 1046.4 L998.0 1044.7 L998.4 1043.9 L998.9 1045.7 L999.3 1046.7 L999.8 1044.8 L1000.2 1045.1 L1000.7 1047.6 L1001.1 1045.5 L1001.6 1044.2 L1002.0 1048.6 L1002.5 1046.3 L1002.9 1046.6 L1003.4 1043.3 L1003.8 1046.1 L1004.3 1048.2 L1004.7 1048.0 L1005.2 1044.9 L1005.6 1047.3 L1006.1 1044.6 L1006.5 1046.7 L1007.0 1046.7 L1007.4 1046.6 L1007.9 1047.7 L1008.3 1048.4 L1008.8 1047.5 L1009.2 1047.1 L1009.7 1047.2 L1010.1 1043.3 L1010.6 1045.3 L1011.0 1046.3 L1011.5 1046.4 L1011.9 1046.0 L1012.4 1045.5 L1012.8 1045.2 L1013.3 1047.6 L1013.7 1043.2 L1014.2 1045.9 L1014.6 1046.7 L1015.1 1046.1 L1015.5 1045.1 L1016.0 1044.5 L1016.4 1041.9 L1016.9 1045.1 L1017.3 1045.7 L1017.8 1045.2 L1018.2 1043.5 L1018.7 1042.5 L1019.1 1040.9 L1019.6 1044.0 L1020.0 1045.7 L1020.5 1042.5 L1020.9 1044.0 L1021.4 1043.5 L1021.8 1043.8 L1022.3 1046.2 L1022.7 1045.1 L1023.2 1045.5 L1023.6 1043.7 L1024.1 1044.4 L1024.5 1044.0 L1025.0 1043.8 L1025.4 1047.6 L1025.9 1045.7 L1026.3 1045.0 L1026.8 1043.8 L1027.2 1043.9 L1027.7 1043.5 L1028.1 1044.0 L1028.6 1044.6 L1029.0 1044.7 L1029.5 1046.3 L1029.9 1044.8 L1030.4 1042.6 L1030.8 1045.8 L1031.3 1043.6 L1031.7 1045.8 L1032.2 1045.1 L1032.6 1045.0 L1033.1 1043.6 L1033.5 1040.3 L1034.0 1041.7 L1034.4 1045.6 L1034.9 1041.7 L1035.3 1043.0 L1035.8 1043.6 L1036.2 1042.5 L1036.7 1045.6 L1037.1 1045.6 L1037.6 1044.6 L1038.0 1041.9 L1038.5 1043.9 L1038.9 1043.7 L1039.4 1043.8 L1039.8 1045.1 L1040.3 1045.7 L1040.7 1043.1 L1041.2 1043.0 L1041.6 1045.2 L1042.1 1045.3 L1042.5 1043.9 L1043.0 1042.9 L1043.4 1045.7 L1043.9 1042.6 L1044.3 1040.9 L1044.8 1044.3 L1045.2 1041.7 L1045.7 1042.8 L1046.1 1044.2 L1046.6 1041.5 L1047.0 1043.2 L1047.5 1040.7 L1047.9 1041.8 L1048.4 1042.8 L1048.8 1042.2 L1049.3 1041.5 L1049.7 1044.1 L1050.2 1045.0 L1050.6 1042.5 L1051.1 1043.1 L1051.5 1041.0 L1052.0 1042.4 L1052.4 1043.6 L1052.9 1040.7 L1053.3 1041.5 L1053.8 1042.7 L1054.2 1042.4 L1054.7 1042.4 L1055.1 1037.9 L1055.6 1041.3 L1056.0 1039.6 L1056.5 1041.8 L1056.9 1041.2 L1057.4 1041.8 L1057.8 1039.1 L1058.3 1040.5 L1058.7 1036.9 L1059.2 1040.6 L1059.6 1038.4 L1060.1 1040.2 L1060.5 1041.6 L1061.0 1038.0 L1061.4 1040.3 L1061.9 1039.0 L1062.3 1037.1 L1062.8 1038.7 L1063.2 1040.8 L1063.7 1041.6 L1064.1 1041.7 L1064.6 1038.2 L1065.0 1041.7 L1065.5 1039.6 L1065.9 1043.0 L1066.4 1039.9 L1066.8 1038.6 L1067.3 1043.3 L1067.7 1039.8 L1068.2 1037.7 L1068.6 1040.6 L1069.1 1041.6 L1069.5 1042.6 L1070.0 1042.2 L1070.4 1040.9 L1070.9 1043.2 L1071.3 1041.0 L1071.8 1041.7 L1072.2 1040.2 L1072.7 1040.3 L1073.1 1041.3 L1073.6 1039.8 L1074.0 1039.6 L1074.5 1042.1 L1074.9 1037.9 L1075.4 1037.9 L1075.8 1041.0 L1076.3 1042.5 L1076.7 1039.7 L1077.2 1041.6 L1077.6 1038.1 L1078.1 1040.2 L1078.5 1039.0 L1079.0 1038.7 L1079.4 1042.7 L1079.9 1040.6 L1080.3 1042.4 L1080.8 1039.8 L1081.2 1042.3 L1081.7 1037.8 L1082.1 1041.3 L1082.6 1035.5 L1083.0 1041.2 L1083.5 1040.4 L1083.9 1040.0 L1084.4 1038.4 L1084.8 1042.3 L1085.3 1039.3 L1085.7 1038.6 L1086.2 1040.6 L1086.6 1041.2 L1087.1 1036.6 L1087.5 1040.1 L1088.0 1037.3 L1088.4 1040.8 L1088.9 1038.9 L1089.3 1041.1 L1089.8 1042.4 L1090.2 1039.5 L1090.7 1038.3 L1091.1 1038.3 L1091.6 1041.4 L1092.0 1044.0 L1092.5 1042.7 L1092.9 1041.9 L1093.4 1039.9 L1093.8 1042.9 L1094.3 1040.8 L1094.7 1044.3 L1095.2 1040.8 L1095.6 1042.3 L1096.1 1042.0 L1096.5 1044.0 L1097.0 1040.9 L1097.4 1039.2 L1097.9 1040.2 L1098.3 1041.8 L1098.8 1041.9 L1099.2 1040.5 L1099.7 1038.8 L1100.1 1042.8 L1100.6 1040.9 L1101.0 1042.4 L1101.5 1039.6 L1101.9 1042.2 L1102.4 1041.7 L1102.8 1042.1 L1103.3 1042.3 L1103.7 1041.5 L1104.2 1042.8 L1104.6 1043.2 L1105.1 1043.4 L1105.5 1046.2 L1106.0 1044.4 L1106.4 1044.9 L1106.9 1045.1 L1107.3 1041.4 L1107.8 1042.4 L1108.2 1045.9 L1108.7 1044.1 L1109.1 1044.0 L1109.6 1042.8 L1110.0 1046.3 L1110.5 1045.7 L1110.9 1043.6 L1111.4 1043.3 L1111.8 1042.9 L1112.3 1044.7 L1112.7 1044.5 L1113.2 1043.3 L1113.6 1042.4 L1114.1 1045.0 L1114.5 1042.6 L1115.0 1040.5 L1115.4 1045.1 L1115.9 1042.3 L1116.3 1044.6 L1116.8 1044.1 L1117.2 1041.8 L1117.7 1040.7 L1118.1 1043.0 L1118.6 1044.8 L1119.0 1043.0 L1119.5 1043.0 L1119.9 1048.0 L1120.4 1047.5 L1120.8 1046.0 L1121.3 1043.5 L1121.7 1048.6 L1122.2 1047.0 L1122.6 1047.1 L1123.1 1044.8 L1123.5 1048.4 L1124.0 1049.3 L1124.4 1045.9 L1124.9 1047.2 L1125.3 1049.8 L1125.8 1049.6 L1126.2 1047.1 L1126.7 1048.3 L1127.1 1048.1 L1127.6 1046.5 L1128.0 1046.7 L1128.5 1044.7 L1128.9 1045.3 L1129.4 1043.3 L1129.8 1045.6 L1130.3 1046.8 L1130.7 1043.2 L1131.2 1045.1 L1131.6 1044.4 L1132.1 1048.4 L1132.5 1043.9 L1133.0 1046.2 L1133.4 1046.9 L1133.9 1046.7 L1134.3 1045.5 L1134.8 1046.8 L1135.2 1048.6 L1135.7 1049.4 L1136.1 1047.1 L1136.6 1046.4 L1137.0 1046.0 L1137.5 1047.8 L1137.9 1049.1 L1138.4 1048.2 L1138.8 1049.5 L1139.3 1049.5 L1139.7 1046.6 L1140.2 1048.0 L1140.6 1047.4 L1141.1 1044.5 L1141.5 1047.9 L1142.0 1047.9 L1142.4 1049.2 L1142.9 1051.3 L1143.3 1047.9 L1143.8 1047.9 L1144.2 1047.6 L1144.7 1051.1 L1145.1 1047.5 L1145.6 1047.6 L1146.0 1049.8 L1146.5 1047.5 L1146.9 1051.3 L1147.4 1049.5 L1147.8 1044.7 L1148.3 1045.8 L1148.7 1045.4 L1149.2 1049.8 L1149.6 1049.9 L1150.1 1046.3 L1150.5 1047.7 L1151.0 1050.5 L1151.4 1049.9 L1151.9 1046.3 L1152.3 1049.1 L1152.8 1049.8 L1153.2 1048.0 L1153.7 1049.4 L1154.1 1048.0 L1154.6 1049.0 L1155.0 1050.0 L1155.5 1050.5 L1155.9 1051.1 L1156.4 1050.1 L1156.8 1049.4 L1157.3 1049.4 L1157.7 1050.7 L1158.2 1049.3 L1158.6 1050.7 L1159.1 1051.8 L1159.5 1051.6 L1160.0 1051.0 L1160.4 1051.0 L1160.9 1050.1 L1161.3 1052.7 L1161.8 1052.2 L1162.2 1048.7 L1162.7 1052.2 L1163.1 1050.0 L1163.6 1049.5 L1164.0 1051.9 L1164.5 1053.6 L1164.9 1051.2 L1165.4 1049.6 L1165.8 1049.1 L1166.3 1050.1 L1166.7 1050.9 L1167.2 1052.0 L1167.6 1050.6 L1168.1 1049.3 L1168.5 1050.8 L1169.0 1047.1 L1169.4 1051.7 L1169.9 1050.4 L1170.3 1050.7 L1170.8 1051.9 L1171.2 1051.5 L1171.7 1050.2 L1172.1 1050.2 L1172.6 1051.1 L1173.0 1052.3 L1173.5 1050.2 L1173.9 1051.6 L1174.4 1054.0 L1174.8 1052.3 L1175.3 1051.4 L1175.7 1051.2 L1176.2 1052.4 L1176.6 1051.0 L1177.1 1053.4 L1177.5 1052.0 L1178.0 1050.0 L1178.4 1050.2 L1178.9 1052.4 L1179.3 1050.8 L1179.8 1049.7 L1180.2 1050.3 L1180.7 1049.2 L1181.1 1052.2 L1181.6 1053.1 L1182.0 1051.1 L1182.5 1050.1 L1182.9 1049.2 L1183.4 1049.3 L1183.8 1051.8 L1184.3 1052.4 L1184.7 1054.4 L1185.2 1051.7 L1185.6 1053.0 L1186.1 1053.4 L1186.5 1050.5 L1187.0 1053.2 L1187.4 1051.5 L1187.9 1052.9 L1188.3 1050.1 L1188.8 1049.2 L1189.2 1052.7 L1189.7 1050.9 L1190.1 1052.4 L1190.6 1053.3 L1191.0 1050.9 L1191.5 1051.7 L1191.9 1050.9 L1192.4 1052.6 L1192.8 1052.1 L1193.3 1052.0 L1193.7 1052.3 L1194.2 1051.9 L1194.6 1049.0 L1195.1 1050.6 L1195.5 1049.1 L1196.0 1050.8 L1196.4 1051.2 L1196.9 1047.7 L1197.3 1049.0 L1197.8 1053.8 L1198.2 1052.1 L1198.7 1049.7 L1199.1 1051.7 L1199.6 1051.4 L1200.0 1052.7 L1200.5 1054.3 L1200.9 1050.1 L1201.4 1052.4 L1201.8 1051.3 L1202.3 1049.1 L1202.7 1052.5 L1203.2 1053.4 L1203.6 1051.9 L1204.1 1051.6 L1204.5 1051.0 L1205.0 1051.4 L1205.4 1054.8 L1205.9 1053.1 L1206.3 1055.6 L1206.8 1055.1 L1207.2 1053.1 L1207.7 1054.1 L1208.1 1052.2 L1208.6 1050.8 L1209.0 1052.6 L1209.5 1052.6 L1209.9 1055.0 L1210.4 1054.2 L1210.8 1053.1 L1211.3 1055.5 L1211.7 1054.4 L1212.2 1054.7 L1212.6 1054.4 L1213.1 1053.1 L1213.5 1052.0 L1214.0 1054.0 L1214.4 1053.9 L1214.9 1054.7 L1215.3 1053.1 L1215.8 1050.1 L1216.2 1052.4 L1216.7 1054.1 L1217.1 1053.8 L1217.6 1051.9 L1218.0 1054.2 L1218.5 1053.4 L1218.9 1052.7 L1219.4 1049.5 L1219.8 1053.9 L1220.3 1054.6 L1220.7 1053.7 L1221.2 1054.1 L1221.6 1055.0 L1222.1 1054.8 L1222.5 1052.3 L1223.0 1054.2 L1223.4 1054.8 L1223.9 1052.7 L1224.3 1054.4 L1224.8 1054.3 L1225.2 1052.0 L1225.7 1057.4 L1226.1 1055.5 L1226.6 1056.2 L1227.0 1056.0 L1227.5 1053.2 L1227.9 1053.2 L1228.4 1054.1 L1228.8 1053.5 L1229.3 1054.9 L1229.7 1055.3 L1230.2 1053.9 L1230.6 1055.4 L1231.1 1054.4 L1231.5 1057.3 L1232.0 1052.6 L1232.4 1056.5 L1232.9 1054.1 L1233.3 1053.7 L1233.8 1054.2 L1234.2 1054.8 L1234.7 1051.8 L1235.1 1053.4 L1235.6 1054.2 L1236.0 1052.5 L1236.5 1056.3 L1236.9 1056.2 L1237.4 1054.4 L1237.8 1054.8 L1238.3 1053.8 L1238.7 1052.9 L1239.2 1055.4 L1239.6 1055.3 L1240.1 1052.3 L1240.5 1054.9 L1241.0 1053.9 L1241.4 1052.8 L1241.9 1056.0 L1242.3 1054.3 L1242.8 1055.3 L1243.2 1056.4 L1243.7 1054.6 L1244.1 1050.6 L1244.6 1053.6 L1245.0 1055.4 L1245.5 1055.3 L1245.9 1050.8 L1246.4 1055.3 L1246.8 1055.5 L1247.3 1055.8 L1247.7 1058.2 L1248.2 1056.8 L1248.6 1056.0 L1249.1 1058.5 L1249.5 1057.5 L1250.0 1055.5 L1250.4 1051.8 L1250.9 1054.5 L1251.3 1055.5 L1251.8 1055.6 L1252.2 1055.3 L1252.7 1053.8 L1253.1 1056.8 L1253.6 1056.9 L1254.0 1054.5 L1254.5 1055.9 L1254.9 1055.1 L1255.4 1053.8 L1255.8 1057.3 L1256.3 1056.4 L1256.7 1054.8 L1257.2 1054.3 L1257.6 1055.5 L1258.1 1054.8 L1258.5 1055.0 L1259.0 1054.9 L1259.4 1053.4 L1259.9 1054.6 L1260.3 1053.5 L1260.8 1053.7 L1261.2 1053.7 L1261.7 1052.5 L1262.1 1050.7 L1262.6 1053.5 L1263.0 1054.9 L1263.5 1055.2 L1263.9 1054.4 L1264.4 1054.9 L1264.8 1053.5 L1265.3 1055.9 L1265.7 1055.4 L1266.2 1053.1 L1266.6 1053.9 L1267.1 1055.2 L1267.5 1054.4 L1268.0 1052.8 L1268.4 1052.2 L1268.9 1055.0 L1269.3 1052.6 L1269.8 1053.4 L1270.2 1054.1 L1270.7 1051.9 L1271.1 1054.9 L1271.6 1050.5 L1272.0 1053.1 L1272.5 1052.4 L1272.9 1053.2 L1273.4 1051.8 L1273.8 1052.9 L1274.3 1053.5 L1274.7 1055.1 L1275.2 1056.8 L1275.6 1055.6 L1276.1 1054.9 L1276.5 1054.3 L1277.0 1058.6 L1277.4 1052.6 L1277.9 1056.8 L1278.3 1055.5 L1278.8 1056.0 L1279.2 1055.5 L1279.7 1055.3 L1280.1 1053.7 L1280.6 1051.9 L1281.0 1054.3 L1281.5 1053.8 L1281.9 1057.5 L1282.4 1053.8 L1282.8 1055.9 L1283.3 1054.9 L1283.7 1055.8 L1284.2 1056.7 L1284.6 1057.1 L1285.1 1057.6 L1285.5 1056.0 L1286.0 1057.9 L1286.4 1059.6 L1286.9 1056.5 L1287.3 1055.4 L1287.8 1057.0 L1288.2 1058.2 L1288.7 1053.7 L1289.1 1057.7 L1289.6 1055.6 L1290.0 1054.0 L1290.5 1053.7 L1290.9 1057.2 L1291.4 1052.8 L1291.8 1055.9 L1292.3 1054.0 L1292.7 1053.4 L1293.2 1055.2 L1293.6 1056.0 L1294.1 1054.7 L1294.5 1053.2 L1295.0 1053.1 L1295.4 1052.3 L1295.9 1053.3 L1296.3 1053.4 L1296.8 1053.7 L1297.2 1053.6 L1297.7 1054.3 L1298.1 1054.1 L1298.6 1055.0 L1299.0 1055.4 L1299.5 1056.2 L1299.9 1054.0 L1300.4 1053.7 L1300.8 1056.5 L1301.3 1053.7 L1301.7 1055.0 L1302.2 1056.7 L1302.6 1055.8 L1303.1 1053.9 L1303.5 1055.3 L1304.0 1055.2 L1304.4 1055.8 L1304.9 1054.2 L1305.3 1056.5 L1305.8 1058.8 L1306.2 1057.6 L1306.7 1053.4 L1307.1 1055.4 L1307.6 1056.3 L1308.0 1058.3 L1308.5 1057.6 L1308.9 1055.6 L1309.4 1056.4 L1309.8 1056.2 L1310.3 1055.7 L1310.7 1056.4 L1311.2 1054.5 L1311.6 1055.6 L1312.1 1058.4 L1312.5 1054.7 L1313.0 1056.1 L1313.4 1055.2 L1313.9 1057.5 L1314.3 1056.6 L1314.8 1055.7 L1315.2 1054.9 L1315.7 1057.5 L1316.1 1057.6 L1316.6 1053.7 L1317.0 1054.4 L1317.5 1056.4 L1317.9 1057.7 L1318.4 1059.6 L1318.8 1057.6 L1319.3 1054.8 L1319.7 1059.4 L1320.2 1056.4 L1320.6 1056.8 L1321.1 1056.4 L1321.5 1055.9 L1322.0 1057.0 L1322.4 1055.4 L1322.9 1059.1 L1323.3 1055.8 L1323.8 1058.5 L1324.2 1057.4 L1324.7 1058.6 L1325.1 1058.1 L1325.6 1058.2 L1326.0 1057.0 L1326.5 1060.9 L1326.9 1058.2 L1327.4 1058.2 L1327.8 1055.1 L1328.3 1057.1 L1328.7 1054.5 L1329.2 1056.1 L1329.6 1056.5 L1330.1 1056.3 L1330.5 1055.8 L1331.0 1055.8 L1331.4 1057.8 L1331.9 1058.0 L1332.3 1054.8 L1332.8 1054.8 L1333.2 1056.2 L1333.7 1057.6 L1334.1 1058.1 L1334.6 1060.9 L1335.0 1057.5 L1335.5 1057.2 L1335.9 1057.3 L1336.4 1056.6 L1336.8 1056.8 L1337.3 1058.5 L1337.7 1058.1 L1338.2 1055.6 L1338.6 1058.3 L1339.1 1058.5 L1339.5 1054.4 L1340.0 1058.9 L1340.4 1058.4 L1340.9 1058.4 L1341.3 1054.7 L1341.8 1060.7 L1342.2 1056.8 L1342.7 1054.9 L1343.1 1057.0 L1343.6 1056.2 L1344.0 1056.0 L1344.5 1054.6 L1344.9 1057.7 L1345.4 1054.6 L1345.8 1059.3 L1346.3 1058.4 L1346.7 1055.0 L1347.2 1057.4 L1347.6 1055.6 L1348.1 1057.1 L1348.5 1056.0 L1349.0 1060.0 L1349.4 1059.3 L1349.9 1058.6 L1350.3 1055.9 L1350.8 1054.7 L1351.2 1056.8 L1351.7 1055.5 L1352.1 1052.1 L1352.6 1057.4 L1353.0 1054.0 L1353.5 1055.3 L1353.9 1055.8 L1354.4 1056.2 L1354.8 1054.6 L1355.3 1058.5 L1355.7 1055.8 L1356.2 1057.5 L1356.6 1055.9 L1357.1 1057.1 L1357.5 1056.5 L1358.0 1057.2 L1358.4 1059.8 L1358.9 1057.1 L1359.3 1056.7 L1359.8 1056.1 L1360.2 1058.4 L1360.7 1056.1 L1361.1 1056.7 L1361.6 1058.4 L1362.0 1057.2 L1362.5 1058.2 L1362.9 1055.3 L1363.4 1057.2 L1363.8 1059.7 L1364.3 1054.7 L1364.7 1058.0 L1365.2 1055.7 L1365.6 1057.5 L1366.1 1059.4 L1366.5 1058.7 L1367.0 1054.7 L1367.4 1055.7 L1367.9 1055.6 L1368.3 1058.6 L1368.8 1056.5 L1369.2 1056.1 L1369.7 1055.1 L1370.1 1056.2 L1370.6 1055.5 L1371.0 1055.4 L1371.5 1052.2 L1371.9 1054.5 L1372.4 1053.4 L1372.8 1053.6 L1373.3 1056.7 L1373.7 1056.2 L1374.2 1053.9 L1374.6 1054.7 L1375.1 1055.5 L1375.5 1056.5 L1376.0 1054.4 L1376.4 1053.3 L1376.9 1055.4 L1377.3 1054.5 L1377.8 1053.5 L1378.2 1053.5 L1378.7 1054.7 L1379.1 1055.1 L1379.6 1058.2 L1380.0 1054.4 L1380.5 1055.4 L1380.9 1057.9 L1381.4 1052.7 L1381.8 1057.7 L1382.3 1058.1 L1382.7 1058.5 L1383.2 1056.2 L1383.6 1056.9 L1384.1 1059.6 L1384.5 1057.7 L1385.0 1056.4 L1385.4 1057.5 L1385.9 1056.7 L1386.3 1059.5 L1386.8 1057.1 L1387.2 1057.5 L1387.7 1057.8 L1388.1 1053.6 L1388.6 1056.4 L1389.0 1054.6 L1389.5 1058.0 L1389.9 1058.3 L1390.4 1055.4 L1390.8 1054.9 L1391.3 1055.0 L1391.7 1058.4 L1392.2 1055.5 L1392.6 1057.6 L1393.1 1056.7 L1393.5 1054.8 L1394.0 1057.9 L1394.4 1057.6 L1394.9 1055.3 L1395.3 1057.2 L1395.8 1056.9 L1396.2 1056.6 L1396.7 1055.1 L1397.1 1058.6 L1397.6 1052.5 L1398.0 1055.4 L1398.5 1056.5 L1398.9 1059.1 L1399.4 1055.2 L1399.8 1056.3 L1400.3 1056.8 L1400.7 1055.9 L1401.2 1056.8 L1401.6 1057.2 L1402.1 1058.4 L1402.5 1057.1 L1403.0 1057.1 L1403.4 1057.6 L1403.9 1055.1 L1404.3 1058.2 L1404.8 1056.1 L1405.2 1056.6 L1405.7 1057.0 L1406.1 1057.1 L1406.6 1056.1 L1407.0 1056.1 L1407.5 1058.6 L1407.9 1058.1 L1408.4 1053.5 L1408.8 1056.9 L1409.3 1057.1 L1409.7 1057.8 L1410.2 1057.7 L1410.6 1059.6 L1411.1 1057.2 L1411.5 1058.8 L1412.0 1055.9 L1412.4 1055.3 L1412.9 1057.7 L1413.3 1055.4 L1413.8 1056.6 L1414.2 1053.5 L1414.7 1053.8 L1415.1 1058.9 L1415.6 1055.4" fill="none" stroke="#000000" stroke-width="2.6" stroke-linejoin="round"/>
<rect x="105.1" y="29.1" width="1312.2" height="1058.2" fill="none" stroke="#000" stroke-width="4.3"/>
<line x1="269.1" y1="1087" x2="269.1" y2="1104.5" stroke="#000" stroke-width="4"/>
<text x="270.0" y="1153" font-size="47" text-anchor="middle" class="s">10</text>
<line x1="597.2" y1="1087" x2="597.2" y2="1104.5" stroke="#000" stroke-width="4"/>
<text x="598.1" y="1153" font-size="47" text-anchor="middle" class="s">20</text>
<line x1="925.3" y1="1087" x2="925.3" y2="1104.5" stroke="#000" stroke-width="4"/>
<text x="926.2" y="1153" font-size="47" text-anchor="middle" class="s">30</text>
<line x1="1253.4" y1="1087" x2="1253.4" y2="1104.5" stroke="#000" stroke-width="4"/>
<text x="1254.3" y="1153" font-size="47" text-anchor="middle" class="s">40</text>
<text x="297.3" y="74.3" font-size="37.3" fill="#0000ff" class="s">13.0</text>
<text x="371.8" y="75.2" font-size="37.3" fill="#000" class="s">15.0</text>
<text x="483.0" y="68.5" font-size="37.3" fill="#000" class="s">16.4</text>
<text x="534.0" y="117.8" font-size="37.3" fill="#0000ff" class="s">20.0</text>
<text x="600.7" y="75.2" font-size="37.3" fill="#0000ff" class="s">22.0</text>
<text x="696.5" y="68.5" font-size="37.3" fill="#000" class="s">22.5</text>
<text x="1094.2" y="77.8" font-size="35" class="ss" stroke="#000" stroke-width="0.9" transform="translate(1095.2 0) scale(0.92 1) translate(-1095.2 0)">34.5</text>
<text x="754.5" y="1231.5" font-size="55" text-anchor="middle" class="s">Angle</text>
<text transform="translate(68.5 527) rotate(-90)" x="0" y="0" font-size="55" text-anchor="middle" class="s">Intensity</text>
<text x="1112.2" y="366.5" font-size="33" class="s" letter-spacing="0.3">ChCl-OA+20%H<tspan dy="7.5" font-weight="normal">2</tspan><tspan dy="-7.5">O</tspan></text>
<text x="1235.3" y="407.5" font-size="33" class="s">CrI=66.42%</text>
<text x="1104.3" y="462.3" font-size="33" class="s" letter-spacing="0.3">ChCl-OA+10%H<tspan dy="7.5" font-weight="normal">2</tspan><tspan dy="-7.5">O</tspan></text>
<text x="1232.0" y="506.7" font-size="33" class="s">CrI=66.90%</text>
<text x="1200.5" y="576.4" font-size="33" class="s">ChCl-OA-MA</text>
<text x="1228.5" y="610" font-size="33" class="s">CrI=67.65%</text>
<text x="1208.0" y="680" font-size="33" class="s">ChCl-OA-LA</text>
<text x="1230.4" y="720" font-size="33" class="s">CrI=61.88%</text>
<text x="1236.0" y="790.1" font-size="33" class="s">ChCl-OA-G</text>
<text x="1231.3" y="827.4" font-size="33" class="s">CrI=66.03%</text>
<text x="1211.8" y="895.5" font-size="33" class="s">ChCl-OA-EG</text>
<text x="1230.4" y="934.7" font-size="33" class="s">CrI=65.85%</text>
<text x="1298.5" y="996.9" font-size="33" class="s" letter-spacing="2">RAW</text>
<text x="1212.8" y="1037" font-size="33" class="s">CrI=56.90%</text>
</svg>
</body></html>
